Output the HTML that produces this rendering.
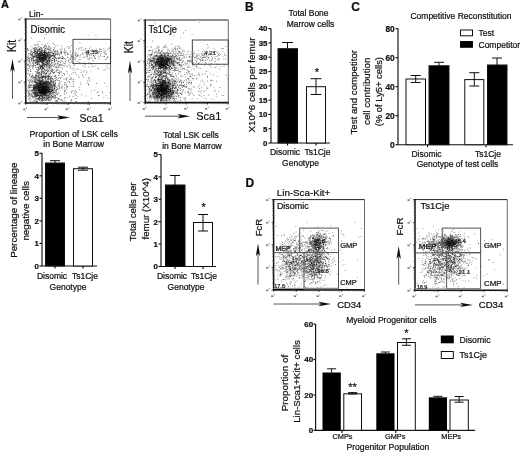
<!DOCTYPE html>
<html><head><meta charset="utf-8"><title>Figure</title>
<style>html,body{margin:0;padding:0;background:#fff;}body{width:520px;height:452px;overflow:hidden;font-family:"Liberation Sans",sans-serif;}svg{display:block;}</style></head>
<body>
<svg width="520" height="452" viewBox="0 0 520 452" font-family="'Liberation Sans', sans-serif">
<rect width="520" height="452" fill="#fff"/>
<defs><filter id="soft" x="0" y="0" width="100%" height="100%" filterUnits="userSpaceOnUse" primitiveUnits="userSpaceOnUse"><feGaussianBlur stdDeviation="0.35"/></filter></defs>
<g filter="url(#soft)">
<rect width="520" height="452" fill="#fff"/>
<text x="1" y="8.3" font-size="11" text-anchor="start" font-weight="bold" fill="#111" stroke="#111" stroke-width="0.22">A</text>
<text x="245" y="11" font-size="12" text-anchor="start" font-weight="bold" fill="#111" stroke="#111" stroke-width="0.22">B</text>
<text x="351.3" y="11.2" font-size="12" text-anchor="start" font-weight="bold" fill="#111" stroke="#111" stroke-width="0.22">C</text>
<text x="245.5" y="187" font-size="12" text-anchor="start" font-weight="bold" fill="#111" stroke="#111" stroke-width="0.22">D</text>
<path d="M41.2 90.8h0.9v0.9h-0.9zM35.2 81.4h0.9v0.9h-0.9zM40.9 88.3h0.9v0.9h-0.9zM41.9 85.3h0.9v0.9h-0.9zM38.2 86.5h0.9v0.9h-0.9zM43.3 90.5h0.9v0.9h-0.9zM36.8 95.5h0.9v0.9h-0.9zM36.5 88.1h0.9v0.9h-0.9zM41.6 89.9h0.9v0.9h-0.9zM37.6 89.7h0.9v0.9h-0.9zM46.5 83.8h0.9v0.9h-0.9zM43.0 93.7h0.9v0.9h-0.9zM43.2 91.4h0.9v0.9h-0.9zM38.6 95.3h0.9v0.9h-0.9zM39.2 93.0h0.9v0.9h-0.9zM42.0 93.1h0.9v0.9h-0.9zM49.8 88.9h0.9v0.9h-0.9zM35.7 86.0h0.9v0.9h-0.9zM32.9 85.0h0.9v0.9h-0.9zM50.4 81.3h0.9v0.9h-0.9zM38.0 87.2h0.9v0.9h-0.9zM34.1 93.0h0.9v0.9h-0.9zM49.5 92.9h0.9v0.9h-0.9zM40.9 92.0h0.9v0.9h-0.9zM44.2 84.6h0.9v0.9h-0.9zM48.5 91.7h0.9v0.9h-0.9zM47.5 87.8h0.9v0.9h-0.9zM43.2 88.9h0.9v0.9h-0.9zM50.0 90.9h0.9v0.9h-0.9zM42.4 89.7h0.9v0.9h-0.9zM41.5 87.4h0.9v0.9h-0.9zM41.2 87.4h0.9v0.9h-0.9zM40.2 89.1h0.9v0.9h-0.9zM45.5 92.7h0.9v0.9h-0.9zM44.7 91.7h0.9v0.9h-0.9zM39.5 92.1h0.9v0.9h-0.9zM36.0 81.9h0.9v0.9h-0.9zM40.3 95.3h0.9v0.9h-0.9zM40.1 89.4h0.9v0.9h-0.9zM45.4 90.0h0.9v0.9h-0.9zM48.8 90.0h0.9v0.9h-0.9zM48.6 86.3h0.9v0.9h-0.9zM43.5 89.7h0.9v0.9h-0.9zM48.7 87.1h0.9v0.9h-0.9zM44.3 82.1h0.9v0.9h-0.9zM37.1 79.9h0.9v0.9h-0.9zM46.2 97.7h0.9v0.9h-0.9zM37.5 94.8h0.9v0.9h-0.9zM43.8 89.0h0.9v0.9h-0.9zM47.5 85.7h0.9v0.9h-0.9zM45.5 82.2h0.9v0.9h-0.9zM51.6 80.4h0.9v0.9h-0.9zM44.2 85.8h0.9v0.9h-0.9zM44.5 83.0h0.9v0.9h-0.9zM45.4 85.3h0.9v0.9h-0.9zM46.0 89.0h0.9v0.9h-0.9zM39.4 90.5h0.9v0.9h-0.9zM35.4 92.3h0.9v0.9h-0.9zM32.8 87.4h0.9v0.9h-0.9zM43.4 86.5h0.9v0.9h-0.9zM47.5 90.1h0.9v0.9h-0.9zM48.1 89.6h0.9v0.9h-0.9zM41.2 87.4h0.9v0.9h-0.9zM31.8 89.2h0.9v0.9h-0.9zM43.1 91.9h0.9v0.9h-0.9zM46.0 84.9h0.9v0.9h-0.9zM42.2 87.4h0.9v0.9h-0.9zM44.3 90.9h0.9v0.9h-0.9zM42.4 91.1h0.9v0.9h-0.9zM42.4 97.8h0.9v0.9h-0.9zM43.3 86.3h0.9v0.9h-0.9zM42.4 89.9h0.9v0.9h-0.9zM42.8 88.2h0.9v0.9h-0.9zM34.4 90.2h0.9v0.9h-0.9zM41.0 90.6h0.9v0.9h-0.9zM51.0 83.5h0.9v0.9h-0.9zM40.4 92.7h0.9v0.9h-0.9zM38.6 94.1h0.9v0.9h-0.9zM44.3 93.2h0.9v0.9h-0.9zM39.6 85.9h0.9v0.9h-0.9zM35.4 87.3h0.9v0.9h-0.9zM44.6 86.7h0.9v0.9h-0.9zM50.9 95.1h0.9v0.9h-0.9zM40.6 84.1h0.9v0.9h-0.9zM43.3 82.3h0.9v0.9h-0.9zM39.2 85.7h0.9v0.9h-0.9zM46.7 92.0h0.9v0.9h-0.9zM41.4 89.8h0.9v0.9h-0.9zM38.4 91.4h0.9v0.9h-0.9zM45.7 83.2h0.9v0.9h-0.9zM38.6 83.2h0.9v0.9h-0.9zM45.5 90.7h0.9v0.9h-0.9zM45.9 98.1h0.9v0.9h-0.9zM28.4 85.3h0.9v0.9h-0.9zM35.4 74.6h0.9v0.9h-0.9zM34.2 92.4h0.9v0.9h-0.9zM53.5 91.1h0.9v0.9h-0.9zM39.1 80.1h0.9v0.9h-0.9zM37.2 86.6h0.9v0.9h-0.9zM49.4 89.1h0.9v0.9h-0.9zM54.7 95.5h0.9v0.9h-0.9zM42.1 87.5h0.9v0.9h-0.9zM50.2 97.8h0.9v0.9h-0.9zM37.5 96.3h0.9v0.9h-0.9zM33.8 92.6h0.9v0.9h-0.9zM30.2 84.6h0.9v0.9h-0.9zM43.0 83.7h0.9v0.9h-0.9zM43.6 90.1h0.9v0.9h-0.9zM37.2 86.4h0.9v0.9h-0.9zM44.5 87.2h0.9v0.9h-0.9zM42.7 90.3h0.9v0.9h-0.9zM39.6 83.5h0.9v0.9h-0.9zM58.4 91.9h0.9v0.9h-0.9zM42.7 90.7h0.9v0.9h-0.9zM57.3 100.5h0.9v0.9h-0.9zM41.4 83.1h0.9v0.9h-0.9zM47.6 98.7h0.9v0.9h-0.9zM41.5 81.8h0.9v0.9h-0.9zM39.4 91.4h0.9v0.9h-0.9zM55.9 93.5h0.9v0.9h-0.9zM40.8 84.4h0.9v0.9h-0.9zM39.1 90.5h0.9v0.9h-0.9zM43.4 82.6h0.9v0.9h-0.9zM39.6 88.0h0.9v0.9h-0.9zM39.8 83.7h0.9v0.9h-0.9zM38.3 87.7h0.9v0.9h-0.9zM33.5 90.5h0.9v0.9h-0.9zM38.8 99.4h0.9v0.9h-0.9zM35.8 96.4h0.9v0.9h-0.9zM43.2 79.8h0.9v0.9h-0.9zM45.5 76.0h0.9v0.9h-0.9zM28.1 95.0h0.9v0.9h-0.9zM38.4 81.3h0.9v0.9h-0.9zM45.3 93.6h0.9v0.9h-0.9zM44.0 92.4h0.9v0.9h-0.9zM33.2 88.6h0.9v0.9h-0.9zM43.4 88.9h0.9v0.9h-0.9zM33.0 91.9h0.9v0.9h-0.9zM37.0 101.0h0.9v0.9h-0.9zM51.9 97.1h0.9v0.9h-0.9zM29.5 92.9h0.9v0.9h-0.9zM38.6 92.2h0.9v0.9h-0.9zM48.5 100.0h0.9v0.9h-0.9zM52.8 82.3h0.9v0.9h-0.9zM39.2 85.5h0.9v0.9h-0.9zM47.3 81.2h0.9v0.9h-0.9zM52.1 96.0h0.9v0.9h-0.9zM36.8 83.3h0.9v0.9h-0.9zM37.0 87.1h0.9v0.9h-0.9zM48.1 95.1h0.9v0.9h-0.9zM47.7 90.5h0.9v0.9h-0.9zM51.5 87.4h0.9v0.9h-0.9zM54.5 90.5h0.9v0.9h-0.9zM36.1 94.6h0.9v0.9h-0.9zM39.7 87.2h0.9v0.9h-0.9zM34.8 87.9h0.9v0.9h-0.9zM57.8 85.9h0.9v0.9h-0.9zM34.0 99.9h0.9v0.9h-0.9zM49.3 83.2h0.9v0.9h-0.9zM39.9 89.9h0.9v0.9h-0.9zM42.9 85.0h0.9v0.9h-0.9zM55.0 81.9h0.9v0.9h-0.9zM29.9 84.9h0.9v0.9h-0.9zM39.6 98.2h0.9v0.9h-0.9zM47.8 99.6h0.9v0.9h-0.9zM33.0 90.2h0.9v0.9h-0.9zM44.2 88.4h0.9v0.9h-0.9zM41.7 80.6h0.9v0.9h-0.9zM34.8 90.6h0.9v0.9h-0.9zM34.6 97.4h0.9v0.9h-0.9zM30.8 80.6h0.9v0.9h-0.9zM46.7 86.4h0.9v0.9h-0.9zM41.1 88.7h0.9v0.9h-0.9zM33.0 86.4h0.9v0.9h-0.9zM43.0 89.2h0.9v0.9h-0.9zM48.7 86.2h0.9v0.9h-0.9zM35.3 101.3h0.9v0.9h-0.9zM41.7 95.5h0.9v0.9h-0.9zM27.2 89.8h0.9v0.9h-0.9zM57.2 100.0h0.9v0.9h-0.9zM43.5 100.1h0.9v0.9h-0.9zM47.0 97.6h0.9v0.9h-0.9zM50.6 90.6h0.9v0.9h-0.9zM36.9 92.7h0.9v0.9h-0.9zM44.2 87.4h0.9v0.9h-0.9zM32.5 87.0h0.9v0.9h-0.9zM33.6 87.3h0.9v0.9h-0.9zM45.4 92.6h0.9v0.9h-0.9zM37.0 87.9h0.9v0.9h-0.9zM33.0 78.6h0.9v0.9h-0.9zM35.2 94.2h0.9v0.9h-0.9zM51.8 89.9h0.9v0.9h-0.9zM38.4 80.9h0.9v0.9h-0.9zM52.7 91.9h0.9v0.9h-0.9zM48.1 82.0h0.9v0.9h-0.9zM36.4 85.3h0.9v0.9h-0.9zM44.4 50.2h0.9v0.9h-0.9zM36.8 49.8h0.9v0.9h-0.9zM40.0 53.8h0.9v0.9h-0.9zM47.3 43.2h0.9v0.9h-0.9zM61.6 48.8h0.9v0.9h-0.9zM39.6 67.0h0.9v0.9h-0.9zM46.7 64.4h0.9v0.9h-0.9zM37.5 60.4h0.9v0.9h-0.9zM47.1 60.3h0.9v0.9h-0.9zM29.5 57.1h0.9v0.9h-0.9zM31.7 51.6h0.9v0.9h-0.9zM48.0 54.6h0.9v0.9h-0.9zM33.6 57.2h0.9v0.9h-0.9zM41.4 53.8h0.9v0.9h-0.9zM44.7 55.7h0.9v0.9h-0.9zM44.3 49.2h0.9v0.9h-0.9zM44.2 51.7h0.9v0.9h-0.9zM49.0 61.7h0.9v0.9h-0.9zM45.9 56.3h0.9v0.9h-0.9zM30.3 64.5h0.9v0.9h-0.9zM53.6 59.8h0.9v0.9h-0.9zM39.6 55.8h0.9v0.9h-0.9zM38.9 49.1h0.9v0.9h-0.9zM39.5 61.2h0.9v0.9h-0.9zM45.7 67.0h0.9v0.9h-0.9zM36.0 55.7h0.9v0.9h-0.9zM31.0 61.2h0.9v0.9h-0.9zM46.9 65.8h0.9v0.9h-0.9zM39.5 66.0h0.9v0.9h-0.9zM38.8 49.9h0.9v0.9h-0.9zM44.7 52.7h0.9v0.9h-0.9zM37.2 62.2h0.9v0.9h-0.9zM35.6 53.9h0.9v0.9h-0.9zM39.6 51.2h0.9v0.9h-0.9zM52.6 55.1h0.9v0.9h-0.9zM47.3 56.3h0.9v0.9h-0.9zM43.8 58.2h0.9v0.9h-0.9zM42.2 57.1h0.9v0.9h-0.9zM31.8 57.2h0.9v0.9h-0.9zM41.1 54.9h0.9v0.9h-0.9zM42.4 61.4h0.9v0.9h-0.9zM50.3 53.5h0.9v0.9h-0.9zM53.2 49.4h0.9v0.9h-0.9zM41.5 55.4h0.9v0.9h-0.9zM43.3 54.6h0.9v0.9h-0.9zM33.7 60.3h0.9v0.9h-0.9zM31.6 59.3h0.9v0.9h-0.9zM41.5 61.7h0.9v0.9h-0.9zM35.8 61.1h0.9v0.9h-0.9zM37.1 41.7h0.9v0.9h-0.9zM33.1 52.5h0.9v0.9h-0.9zM42.9 58.6h0.9v0.9h-0.9zM38.9 53.0h0.9v0.9h-0.9zM41.9 58.3h0.9v0.9h-0.9zM40.0 61.3h0.9v0.9h-0.9zM38.4 57.4h0.9v0.9h-0.9zM45.8 58.0h0.9v0.9h-0.9zM48.2 53.9h0.9v0.9h-0.9zM49.1 57.4h0.9v0.9h-0.9zM42.8 63.2h0.9v0.9h-0.9zM42.3 62.2h0.9v0.9h-0.9zM48.2 64.5h0.9v0.9h-0.9zM43.3 55.4h0.9v0.9h-0.9zM42.5 57.1h0.9v0.9h-0.9zM46.1 46.3h0.9v0.9h-0.9zM36.0 52.5h0.9v0.9h-0.9zM26.9 63.4h0.9v0.9h-0.9zM49.4 59.6h0.9v0.9h-0.9zM35.4 51.0h0.9v0.9h-0.9zM40.7 52.6h0.9v0.9h-0.9zM37.3 61.7h0.9v0.9h-0.9zM37.1 56.7h0.9v0.9h-0.9zM45.5 48.2h0.9v0.9h-0.9zM52.2 58.0h0.9v0.9h-0.9zM37.9 44.2h0.9v0.9h-0.9zM47.4 60.6h0.9v0.9h-0.9zM38.8 48.2h0.9v0.9h-0.9zM39.3 54.8h0.9v0.9h-0.9zM43.7 59.7h0.9v0.9h-0.9zM32.9 57.8h0.9v0.9h-0.9zM43.5 56.4h0.9v0.9h-0.9zM44.5 55.7h0.9v0.9h-0.9zM41.8 63.2h0.9v0.9h-0.9zM45.3 51.7h0.9v0.9h-0.9zM42.2 59.2h0.9v0.9h-0.9zM39.7 60.4h0.9v0.9h-0.9zM40.3 54.7h0.9v0.9h-0.9zM42.3 53.8h0.9v0.9h-0.9zM43.2 60.0h0.9v0.9h-0.9zM41.7 57.1h0.9v0.9h-0.9zM37.8 58.2h0.9v0.9h-0.9zM40.4 51.6h0.9v0.9h-0.9zM33.7 48.5h0.9v0.9h-0.9zM43.1 59.6h0.9v0.9h-0.9zM38.6 57.8h0.9v0.9h-0.9zM36.6 55.0h0.9v0.9h-0.9zM46.5 53.3h0.9v0.9h-0.9zM43.0 65.2h0.9v0.9h-0.9zM44.6 77.2h0.9v0.9h-0.9zM40.0 74.6h0.9v0.9h-0.9zM34.6 51.0h0.9v0.9h-0.9zM48.9 76.0h0.9v0.9h-0.9zM44.3 76.4h0.9v0.9h-0.9zM55.3 66.3h0.9v0.9h-0.9zM48.4 86.9h0.9v0.9h-0.9zM42.5 67.9h0.9v0.9h-0.9zM32.7 86.7h0.9v0.9h-0.9zM41.1 69.3h0.9v0.9h-0.9zM35.4 74.2h0.9v0.9h-0.9zM43.0 65.3h0.9v0.9h-0.9zM41.9 65.5h0.9v0.9h-0.9zM32.4 66.9h0.9v0.9h-0.9zM45.5 77.2h0.9v0.9h-0.9zM42.6 96.2h0.9v0.9h-0.9zM48.0 74.9h0.9v0.9h-0.9zM40.6 90.4h0.9v0.9h-0.9zM60.4 63.7h0.9v0.9h-0.9zM45.8 81.0h0.9v0.9h-0.9zM37.9 77.3h0.9v0.9h-0.9zM37.4 75.6h0.9v0.9h-0.9zM46.7 82.5h0.9v0.9h-0.9zM43.0 80.9h0.9v0.9h-0.9zM55.5 70.8h0.9v0.9h-0.9zM38.4 59.2h0.9v0.9h-0.9zM39.2 96.5h0.9v0.9h-0.9zM34.6 86.6h0.9v0.9h-0.9zM37.0 79.7h0.9v0.9h-0.9zM42.1 92.5h0.9v0.9h-0.9zM41.6 65.9h0.9v0.9h-0.9zM65.4 52.6h0.9v0.9h-0.9zM47.2 68.4h0.9v0.9h-0.9zM48.9 57.9h0.9v0.9h-0.9zM53.0 53.3h0.9v0.9h-0.9zM56.5 60.8h0.9v0.9h-0.9zM74.9 57.6h0.9v0.9h-0.9zM67.1 57.2h0.9v0.9h-0.9zM54.1 59.5h0.9v0.9h-0.9zM74.8 54.7h0.9v0.9h-0.9zM82.6 54.1h0.9v0.9h-0.9zM54.9 55.2h0.9v0.9h-0.9zM52.0 60.1h0.9v0.9h-0.9zM91.3 57.0h0.9v0.9h-0.9zM68.3 59.5h0.9v0.9h-0.9zM43.8 53.8h0.9v0.9h-0.9zM63.6 59.5h0.9v0.9h-0.9zM54.0 55.6h0.9v0.9h-0.9zM65.0 61.3h0.9v0.9h-0.9zM42.7 58.9h0.9v0.9h-0.9zM47.4 54.7h0.9v0.9h-0.9zM43.8 52.8h0.9v0.9h-0.9zM61.9 58.1h0.9v0.9h-0.9zM71.6 55.9h0.9v0.9h-0.9zM86.5 48.7h0.9v0.9h-0.9zM100.3 55.5h0.9v0.9h-0.9zM96.4 49.7h0.9v0.9h-0.9zM86.7 54.1h0.9v0.9h-0.9zM93.0 55.3h0.9v0.9h-0.9zM88.4 59.0h0.9v0.9h-0.9zM93.9 56.0h0.9v0.9h-0.9zM86.9 53.1h0.9v0.9h-0.9zM100.9 51.0h0.9v0.9h-0.9zM103.9 55.8h0.9v0.9h-0.9zM82.1 75.4h0.9v0.9h-0.9zM64.3 58.0h0.9v0.9h-0.9zM53.0 81.1h0.9v0.9h-0.9zM55.3 89.9h0.9v0.9h-0.9zM53.4 92.1h0.9v0.9h-0.9zM45.0 53.3h0.9v0.9h-0.9zM61.0 84.7h0.9v0.9h-0.9zM28.3 92.1h0.9v0.9h-0.9zM59.5 82.3h0.9v0.9h-0.9zM38.7 80.6h0.9v0.9h-0.9zM55.3 95.7h0.9v0.9h-0.9zM48.9 48.7h0.9v0.9h-0.9zM56.2 91.7h0.9v0.9h-0.9zM64.3 93.7h0.9v0.9h-0.9zM48.6 64.9h0.9v0.9h-0.9zM34.8 63.1h0.9v0.9h-0.9zM64.1 74.3h0.9v0.9h-0.9zM61.9 75.1h0.9v0.9h-0.9zM48.8 59.5h0.9v0.9h-0.9zM88.4 66.6h0.9v0.9h-0.9zM67.1 72.7h0.9v0.9h-0.9zM63.5 78.5h0.9v0.9h-0.9zM64.5 100.3h0.9v0.9h-0.9zM71.4 78.6h0.9v0.9h-0.9zM64.0 74.3h0.9v0.9h-0.9zM48.5 72.9h0.9v0.9h-0.9zM62.5 64.9h0.9v0.9h-0.9zM52.4 70.0h0.9v0.9h-0.9zM39.8 76.7h0.9v0.9h-0.9zM57.0 63.0h0.9v0.9h-0.9zM67.1 97.2h0.9v0.9h-0.9zM60.2 99.6h0.9v0.9h-0.9zM39.9 52.7h0.9v0.9h-0.9zM31.7 95.6h0.9v0.9h-0.9zM41.9 101.0h0.9v0.9h-0.9zM53.8 72.3h0.9v0.9h-0.9zM48.0 51.6h0.9v0.9h-0.9zM37.5 76.5h0.9v0.9h-0.9zM59.3 70.6h0.9v0.9h-0.9zM47.4 53.3h0.9v0.9h-0.9zM55.1 53.4h0.9v0.9h-0.9zM38.0 52.9h0.9v0.9h-0.9zM32.9 65.3h0.9v0.9h-0.9zM50.0 79.0h0.9v0.9h-0.9zM27.6 86.4h0.9v0.9h-0.9zM35.4 60.3h0.9v0.9h-0.9zM29.1 87.0h0.9v0.9h-0.9zM35.0 65.2h0.9v0.9h-0.9zM49.3 65.2h0.9v0.9h-0.9zM42.4 96.9h0.9v0.9h-0.9zM35.8 100.8h0.9v0.9h-0.9zM46.0 46.1h0.9v0.9h-0.9zM51.4 95.6h0.9v0.9h-0.9zM61.4 60.3h0.9v0.9h-0.9zM30.0 101.1h0.9v0.9h-0.9zM33.1 59.5h0.9v0.9h-0.9zM37.3 93.7h0.9v0.9h-0.9zM46.3 68.6h0.9v0.9h-0.9zM38.3 68.8h0.9v0.9h-0.9zM43.1 91.5h0.9v0.9h-0.9zM55.0 63.1h0.9v0.9h-0.9zM50.5 81.9h0.9v0.9h-0.9zM40.9 72.8h0.9v0.9h-0.9zM70.9 99.7h0.9v0.9h-0.9zM53.7 59.1h0.9v0.9h-0.9zM37.3 64.0h0.9v0.9h-0.9zM76.6 61.4h0.9v0.9h-0.9zM67.5 54.2h0.9v0.9h-0.9zM41.6 100.0h0.9v0.9h-0.9zM73.5 64.9h0.9v0.9h-0.9zM81.2 49.5h0.9v0.9h-0.9zM87.6 82.8h0.9v0.9h-0.9zM76.1 68.9h0.9v0.9h-0.9zM62.8 57.8h0.9v0.9h-0.9zM85.1 62.8h0.9v0.9h-0.9zM66.2 83.8h0.9v0.9h-0.9zM81.1 94.3h0.9v0.9h-0.9zM29.2 74.5h0.9v0.9h-0.9zM68.5 46.1h0.9v0.9h-0.9zM38.7 46.0h0.9v0.9h-0.9zM27.4 68.2h0.9v0.9h-0.9zM54.0 44.1h0.9v0.9h-0.9zM109.0 47.5h0.9v0.9h-0.9zM60.9 76.9h0.9v0.9h-0.9zM59.8 27.2h0.9v0.9h-0.9z" fill="#000" fill-opacity="0.5"/>
<path d="M41.4 87.4h0.9v0.9h-0.9zM38.6 86.7h0.9v0.9h-0.9zM45.0 89.7h0.9v0.9h-0.9zM44.4 88.4h0.9v0.9h-0.9zM47.7 80.2h0.9v0.9h-0.9zM49.0 91.3h0.9v0.9h-0.9zM44.6 88.1h0.9v0.9h-0.9zM41.7 87.4h0.9v0.9h-0.9zM44.7 88.7h0.9v0.9h-0.9zM44.0 89.7h0.9v0.9h-0.9zM42.0 92.7h0.9v0.9h-0.9zM41.7 89.5h0.9v0.9h-0.9zM35.9 82.4h0.9v0.9h-0.9zM46.4 88.0h0.9v0.9h-0.9zM42.8 89.2h0.9v0.9h-0.9zM48.6 95.5h0.9v0.9h-0.9zM44.5 92.9h0.9v0.9h-0.9zM46.2 86.3h0.9v0.9h-0.9zM43.5 86.8h0.9v0.9h-0.9zM44.3 98.9h0.9v0.9h-0.9zM46.0 89.1h0.9v0.9h-0.9zM43.7 85.8h0.9v0.9h-0.9zM49.9 92.1h0.9v0.9h-0.9zM42.5 85.2h0.9v0.9h-0.9zM34.3 89.0h0.9v0.9h-0.9zM42.2 91.2h0.9v0.9h-0.9zM42.7 99.6h0.9v0.9h-0.9zM41.3 91.6h0.9v0.9h-0.9zM46.9 85.0h0.9v0.9h-0.9zM45.0 91.6h0.9v0.9h-0.9zM42.0 85.5h0.9v0.9h-0.9zM44.2 91.3h0.9v0.9h-0.9zM44.5 87.0h0.9v0.9h-0.9zM44.4 88.0h0.9v0.9h-0.9zM39.1 96.1h0.9v0.9h-0.9zM42.1 90.0h0.9v0.9h-0.9zM47.2 86.8h0.9v0.9h-0.9zM45.5 88.2h0.9v0.9h-0.9zM42.9 90.4h0.9v0.9h-0.9zM44.4 88.3h0.9v0.9h-0.9zM46.1 85.8h0.9v0.9h-0.9zM38.0 83.0h0.9v0.9h-0.9zM36.8 87.9h0.9v0.9h-0.9zM42.0 89.5h0.9v0.9h-0.9zM39.5 88.6h0.9v0.9h-0.9zM44.8 92.0h0.9v0.9h-0.9zM42.3 87.6h0.9v0.9h-0.9zM44.3 84.7h0.9v0.9h-0.9zM45.1 87.1h0.9v0.9h-0.9zM43.2 88.4h0.9v0.9h-0.9zM39.4 86.4h0.9v0.9h-0.9zM42.1 90.5h0.9v0.9h-0.9zM38.6 87.0h0.9v0.9h-0.9zM44.2 88.6h0.9v0.9h-0.9zM41.8 96.0h0.9v0.9h-0.9zM41.1 86.3h0.9v0.9h-0.9zM38.6 98.4h0.9v0.9h-0.9zM35.1 93.5h0.9v0.9h-0.9zM46.1 91.8h0.9v0.9h-0.9zM43.0 85.8h0.9v0.9h-0.9zM42.4 87.5h0.9v0.9h-0.9zM39.2 88.9h0.9v0.9h-0.9zM41.5 81.5h0.9v0.9h-0.9zM44.5 87.4h0.9v0.9h-0.9zM38.6 88.6h0.9v0.9h-0.9zM34.7 84.5h0.9v0.9h-0.9zM43.7 85.8h0.9v0.9h-0.9zM41.8 88.0h0.9v0.9h-0.9zM47.2 92.1h0.9v0.9h-0.9zM47.3 90.1h0.9v0.9h-0.9zM41.0 92.0h0.9v0.9h-0.9zM38.7 94.7h0.9v0.9h-0.9zM42.1 91.8h0.9v0.9h-0.9zM39.6 80.9h0.9v0.9h-0.9zM43.5 88.9h0.9v0.9h-0.9zM44.5 90.5h0.9v0.9h-0.9zM45.5 89.1h0.9v0.9h-0.9zM39.4 88.0h0.9v0.9h-0.9zM37.8 95.2h0.9v0.9h-0.9zM38.9 91.1h0.9v0.9h-0.9zM42.4 82.6h0.9v0.9h-0.9zM43.6 92.0h0.9v0.9h-0.9zM45.6 91.2h0.9v0.9h-0.9zM39.1 85.2h0.9v0.9h-0.9zM46.1 83.6h0.9v0.9h-0.9zM37.9 80.1h0.9v0.9h-0.9zM35.8 87.0h0.9v0.9h-0.9zM41.7 92.9h0.9v0.9h-0.9zM50.9 96.8h0.9v0.9h-0.9zM45.7 84.3h0.9v0.9h-0.9zM55.0 82.9h0.9v0.9h-0.9zM43.6 99.9h0.9v0.9h-0.9zM30.7 86.4h0.9v0.9h-0.9zM56.1 89.0h0.9v0.9h-0.9zM34.0 88.0h0.9v0.9h-0.9zM45.1 83.6h0.9v0.9h-0.9zM49.1 83.0h0.9v0.9h-0.9zM40.2 84.4h0.9v0.9h-0.9zM39.9 95.0h0.9v0.9h-0.9zM28.1 80.0h0.9v0.9h-0.9zM43.2 89.4h0.9v0.9h-0.9zM52.7 89.4h0.9v0.9h-0.9zM35.5 95.7h0.9v0.9h-0.9zM55.7 86.7h0.9v0.9h-0.9zM48.4 75.9h0.9v0.9h-0.9zM46.0 99.0h0.9v0.9h-0.9zM28.8 81.8h0.9v0.9h-0.9zM49.3 88.4h0.9v0.9h-0.9zM43.7 81.7h0.9v0.9h-0.9zM36.4 84.7h0.9v0.9h-0.9zM42.1 94.6h0.9v0.9h-0.9zM32.1 82.5h0.9v0.9h-0.9zM52.4 78.2h0.9v0.9h-0.9zM40.2 80.3h0.9v0.9h-0.9zM56.6 93.4h0.9v0.9h-0.9zM43.6 88.3h0.9v0.9h-0.9zM41.2 84.3h0.9v0.9h-0.9zM41.9 86.3h0.9v0.9h-0.9zM35.6 94.9h0.9v0.9h-0.9zM50.4 86.3h0.9v0.9h-0.9zM52.0 89.5h0.9v0.9h-0.9zM30.3 81.3h0.9v0.9h-0.9zM42.7 94.5h0.9v0.9h-0.9zM34.5 91.7h0.9v0.9h-0.9zM38.3 85.0h0.9v0.9h-0.9zM45.0 91.0h0.9v0.9h-0.9zM36.2 83.7h0.9v0.9h-0.9zM43.8 90.6h0.9v0.9h-0.9zM31.9 79.9h0.9v0.9h-0.9zM35.6 85.5h0.9v0.9h-0.9zM34.5 88.5h0.9v0.9h-0.9zM44.5 88.6h0.9v0.9h-0.9zM48.0 92.2h0.9v0.9h-0.9zM55.6 86.8h0.9v0.9h-0.9zM35.6 82.0h0.9v0.9h-0.9zM41.3 98.0h0.9v0.9h-0.9zM43.1 82.7h0.9v0.9h-0.9zM42.3 90.5h0.9v0.9h-0.9zM29.6 89.6h0.9v0.9h-0.9zM39.1 92.5h0.9v0.9h-0.9zM43.7 84.8h0.9v0.9h-0.9zM38.4 85.6h0.9v0.9h-0.9zM37.7 97.3h0.9v0.9h-0.9zM52.9 79.7h0.9v0.9h-0.9zM54.2 98.2h0.9v0.9h-0.9zM41.2 83.6h0.9v0.9h-0.9zM42.3 85.7h0.9v0.9h-0.9zM52.8 91.9h0.9v0.9h-0.9zM48.6 90.8h0.9v0.9h-0.9zM35.7 99.0h0.9v0.9h-0.9zM46.0 98.2h0.9v0.9h-0.9zM48.8 93.3h0.9v0.9h-0.9zM45.5 83.8h0.9v0.9h-0.9zM33.0 97.6h0.9v0.9h-0.9zM40.7 84.9h0.9v0.9h-0.9zM38.2 94.5h0.9v0.9h-0.9zM55.2 75.1h0.9v0.9h-0.9zM46.9 89.2h0.9v0.9h-0.9zM53.2 97.0h0.9v0.9h-0.9zM29.0 93.4h0.9v0.9h-0.9zM42.7 86.3h0.9v0.9h-0.9zM48.2 98.0h0.9v0.9h-0.9zM54.7 98.3h0.9v0.9h-0.9zM39.4 91.0h0.9v0.9h-0.9zM39.2 82.5h0.9v0.9h-0.9zM37.2 92.5h0.9v0.9h-0.9zM30.8 84.3h0.9v0.9h-0.9zM37.9 83.9h0.9v0.9h-0.9zM36.8 86.2h0.9v0.9h-0.9zM29.2 94.3h0.9v0.9h-0.9zM39.5 85.0h0.9v0.9h-0.9zM36.7 98.2h0.9v0.9h-0.9zM50.6 84.7h0.9v0.9h-0.9zM32.4 85.2h0.9v0.9h-0.9zM31.9 90.0h0.9v0.9h-0.9zM45.0 91.8h0.9v0.9h-0.9zM51.4 95.2h0.9v0.9h-0.9zM42.9 92.9h0.9v0.9h-0.9zM48.1 97.0h0.9v0.9h-0.9zM58.1 89.4h0.9v0.9h-0.9zM41.6 86.8h0.9v0.9h-0.9zM49.4 97.2h0.9v0.9h-0.9zM34.6 93.1h0.9v0.9h-0.9zM38.9 90.5h0.9v0.9h-0.9zM40.1 83.0h0.9v0.9h-0.9zM39.5 83.3h0.9v0.9h-0.9zM44.4 84.0h0.9v0.9h-0.9zM47.7 92.2h0.9v0.9h-0.9zM37.8 92.9h0.9v0.9h-0.9zM44.6 95.1h0.9v0.9h-0.9zM46.5 86.5h0.9v0.9h-0.9zM34.5 90.2h0.9v0.9h-0.9zM43.8 77.3h0.9v0.9h-0.9zM34.0 92.8h0.9v0.9h-0.9zM34.8 88.0h0.9v0.9h-0.9zM43.8 84.3h0.9v0.9h-0.9zM28.4 60.0h0.9v0.9h-0.9zM40.2 59.8h0.9v0.9h-0.9zM51.3 59.2h0.9v0.9h-0.9zM40.1 57.3h0.9v0.9h-0.9zM49.2 54.2h0.9v0.9h-0.9zM44.3 53.5h0.9v0.9h-0.9zM40.7 58.3h0.9v0.9h-0.9zM39.4 53.9h0.9v0.9h-0.9zM45.8 61.8h0.9v0.9h-0.9zM32.1 53.2h0.9v0.9h-0.9zM40.9 54.8h0.9v0.9h-0.9zM39.1 57.7h0.9v0.9h-0.9zM44.2 45.8h0.9v0.9h-0.9zM49.1 46.1h0.9v0.9h-0.9zM53.2 54.8h0.9v0.9h-0.9zM53.4 53.2h0.9v0.9h-0.9zM35.6 53.1h0.9v0.9h-0.9zM53.7 58.9h0.9v0.9h-0.9zM43.5 53.9h0.9v0.9h-0.9zM49.4 51.9h0.9v0.9h-0.9zM38.0 50.7h0.9v0.9h-0.9zM32.7 61.7h0.9v0.9h-0.9zM40.8 59.4h0.9v0.9h-0.9zM58.5 53.9h0.9v0.9h-0.9zM29.2 59.4h0.9v0.9h-0.9zM37.9 53.7h0.9v0.9h-0.9zM46.0 59.3h0.9v0.9h-0.9zM33.4 55.3h0.9v0.9h-0.9zM44.6 47.2h0.9v0.9h-0.9zM41.1 58.3h0.9v0.9h-0.9zM51.1 56.7h0.9v0.9h-0.9zM43.9 65.2h0.9v0.9h-0.9zM32.5 56.0h0.9v0.9h-0.9zM39.1 59.2h0.9v0.9h-0.9zM56.0 52.9h0.9v0.9h-0.9zM45.6 57.4h0.9v0.9h-0.9zM34.0 54.2h0.9v0.9h-0.9zM43.5 63.0h0.9v0.9h-0.9zM42.9 60.1h0.9v0.9h-0.9zM34.7 57.4h0.9v0.9h-0.9zM44.5 47.4h0.9v0.9h-0.9zM46.1 54.6h0.9v0.9h-0.9zM54.8 56.6h0.9v0.9h-0.9zM47.5 48.5h0.9v0.9h-0.9zM37.6 59.6h0.9v0.9h-0.9zM32.5 47.5h0.9v0.9h-0.9zM41.4 60.7h0.9v0.9h-0.9zM46.4 57.0h0.9v0.9h-0.9zM45.4 55.9h0.9v0.9h-0.9zM44.8 61.3h0.9v0.9h-0.9zM32.9 52.1h0.9v0.9h-0.9zM39.2 61.3h0.9v0.9h-0.9zM45.9 56.7h0.9v0.9h-0.9zM54.7 57.4h0.9v0.9h-0.9zM41.9 53.0h0.9v0.9h-0.9zM31.1 58.5h0.9v0.9h-0.9zM41.2 50.1h0.9v0.9h-0.9zM41.2 54.5h0.9v0.9h-0.9zM41.0 50.3h0.9v0.9h-0.9zM43.8 55.3h0.9v0.9h-0.9zM38.1 54.1h0.9v0.9h-0.9zM50.8 56.5h0.9v0.9h-0.9zM41.9 59.5h0.9v0.9h-0.9zM40.1 60.5h0.9v0.9h-0.9zM45.8 55.7h0.9v0.9h-0.9zM35.8 48.6h0.9v0.9h-0.9zM45.5 54.4h0.9v0.9h-0.9zM49.8 54.2h0.9v0.9h-0.9zM36.5 44.0h0.9v0.9h-0.9zM42.1 56.7h0.9v0.9h-0.9zM38.5 61.2h0.9v0.9h-0.9zM49.4 53.7h0.9v0.9h-0.9zM41.9 58.7h0.9v0.9h-0.9zM42.5 60.6h0.9v0.9h-0.9zM43.1 52.4h0.9v0.9h-0.9zM35.1 55.9h0.9v0.9h-0.9zM36.4 60.4h0.9v0.9h-0.9zM46.8 58.6h0.9v0.9h-0.9zM42.6 54.9h0.9v0.9h-0.9zM39.2 55.0h0.9v0.9h-0.9zM43.4 54.4h0.9v0.9h-0.9zM45.3 52.0h0.9v0.9h-0.9zM45.1 47.9h0.9v0.9h-0.9zM42.9 55.4h0.9v0.9h-0.9zM41.5 57.9h0.9v0.9h-0.9zM44.6 54.4h0.9v0.9h-0.9zM39.3 58.7h0.9v0.9h-0.9zM42.5 61.4h0.9v0.9h-0.9zM36.3 56.5h0.9v0.9h-0.9zM34.0 56.4h0.9v0.9h-0.9zM40.0 56.8h0.9v0.9h-0.9zM40.2 51.9h0.9v0.9h-0.9zM38.4 60.9h0.9v0.9h-0.9zM32.8 59.5h0.9v0.9h-0.9zM40.2 53.7h0.9v0.9h-0.9zM40.7 49.2h0.9v0.9h-0.9zM44.5 56.9h0.9v0.9h-0.9zM37.9 78.5h0.9v0.9h-0.9zM46.4 74.5h0.9v0.9h-0.9zM49.0 61.2h0.9v0.9h-0.9zM31.3 91.2h0.9v0.9h-0.9zM41.3 69.9h0.9v0.9h-0.9zM35.2 81.2h0.9v0.9h-0.9zM38.1 66.8h0.9v0.9h-0.9zM37.2 72.5h0.9v0.9h-0.9zM41.5 76.4h0.9v0.9h-0.9zM61.7 60.9h0.9v0.9h-0.9zM49.5 71.2h0.9v0.9h-0.9zM40.1 57.7h0.9v0.9h-0.9zM45.6 68.7h0.9v0.9h-0.9zM31.1 75.8h0.9v0.9h-0.9zM39.0 69.1h0.9v0.9h-0.9zM36.7 63.6h0.9v0.9h-0.9zM42.8 72.5h0.9v0.9h-0.9zM47.1 70.5h0.9v0.9h-0.9zM36.7 71.2h0.9v0.9h-0.9zM50.4 71.5h0.9v0.9h-0.9zM35.1 66.8h0.9v0.9h-0.9zM42.4 65.6h0.9v0.9h-0.9zM27.9 70.4h0.9v0.9h-0.9zM48.7 75.8h0.9v0.9h-0.9zM42.8 75.7h0.9v0.9h-0.9zM47.7 78.2h0.9v0.9h-0.9zM27.5 60.4h0.9v0.9h-0.9zM41.5 72.3h0.9v0.9h-0.9zM47.3 71.8h0.9v0.9h-0.9zM38.4 68.6h0.9v0.9h-0.9zM36.2 71.4h0.9v0.9h-0.9zM43.1 87.7h0.9v0.9h-0.9zM58.5 58.0h0.9v0.9h-0.9zM65.3 58.7h0.9v0.9h-0.9zM53.1 53.8h0.9v0.9h-0.9zM70.5 65.4h0.9v0.9h-0.9zM42.3 64.2h0.9v0.9h-0.9zM64.7 62.9h0.9v0.9h-0.9zM51.9 59.9h0.9v0.9h-0.9zM48.5 51.7h0.9v0.9h-0.9zM55.2 57.7h0.9v0.9h-0.9zM54.6 50.8h0.9v0.9h-0.9zM42.7 56.7h0.9v0.9h-0.9zM87.6 54.2h0.9v0.9h-0.9zM37.5 59.5h0.9v0.9h-0.9zM56.3 67.1h0.9v0.9h-0.9zM67.0 53.9h0.9v0.9h-0.9zM74.9 54.6h0.9v0.9h-0.9zM75.8 53.2h0.9v0.9h-0.9zM87.1 56.1h0.9v0.9h-0.9zM70.7 55.1h0.9v0.9h-0.9zM35.3 55.8h0.9v0.9h-0.9zM50.9 60.1h0.9v0.9h-0.9zM51.4 56.3h0.9v0.9h-0.9zM72.4 57.9h0.9v0.9h-0.9zM80.0 54.3h0.9v0.9h-0.9zM89.9 46.7h0.9v0.9h-0.9zM74.8 50.9h0.9v0.9h-0.9zM103.5 52.3h0.9v0.9h-0.9zM82.5 52.5h0.9v0.9h-0.9zM104.6 53.5h0.9v0.9h-0.9zM95.8 52.0h0.9v0.9h-0.9zM85.7 54.3h0.9v0.9h-0.9zM93.1 60.3h0.9v0.9h-0.9zM40.6 65.2h0.9v0.9h-0.9zM72.9 79.4h0.9v0.9h-0.9zM68.3 65.2h0.9v0.9h-0.9zM40.6 84.6h0.9v0.9h-0.9zM70.2 77.8h0.9v0.9h-0.9zM64.1 97.6h0.9v0.9h-0.9zM40.6 66.0h0.9v0.9h-0.9zM40.6 80.5h0.9v0.9h-0.9zM59.0 64.3h0.9v0.9h-0.9zM28.1 90.6h0.9v0.9h-0.9zM75.8 91.7h0.9v0.9h-0.9zM45.3 86.9h0.9v0.9h-0.9zM42.0 70.4h0.9v0.9h-0.9zM58.7 98.5h0.9v0.9h-0.9zM60.6 52.2h0.9v0.9h-0.9zM75.8 94.9h0.9v0.9h-0.9zM69.2 79.0h0.9v0.9h-0.9zM47.2 63.0h0.9v0.9h-0.9zM79.0 88.9h0.9v0.9h-0.9zM30.7 76.3h0.9v0.9h-0.9zM35.3 84.8h0.9v0.9h-0.9zM71.2 92.0h0.9v0.9h-0.9zM75.1 71.8h0.9v0.9h-0.9zM54.2 74.9h0.9v0.9h-0.9zM45.1 90.1h0.9v0.9h-0.9zM58.3 67.3h0.9v0.9h-0.9zM72.8 83.8h0.9v0.9h-0.9zM45.9 70.1h0.9v0.9h-0.9zM57.8 98.6h0.9v0.9h-0.9zM56.7 69.6h0.9v0.9h-0.9zM30.6 86.8h0.9v0.9h-0.9zM74.8 93.4h0.9v0.9h-0.9zM27.5 64.5h0.9v0.9h-0.9zM33.3 60.0h0.9v0.9h-0.9zM48.3 51.5h0.9v0.9h-0.9zM33.6 85.8h0.9v0.9h-0.9zM59.6 64.9h0.9v0.9h-0.9zM60.5 51.7h0.9v0.9h-0.9zM27.9 73.4h0.9v0.9h-0.9zM47.8 91.6h0.9v0.9h-0.9zM41.5 99.0h0.9v0.9h-0.9zM57.7 69.5h0.9v0.9h-0.9zM41.6 47.9h0.9v0.9h-0.9zM55.8 91.1h0.9v0.9h-0.9zM44.3 88.4h0.9v0.9h-0.9zM40.8 71.1h0.9v0.9h-0.9zM51.4 90.6h0.9v0.9h-0.9zM29.4 91.3h0.9v0.9h-0.9zM47.1 64.2h0.9v0.9h-0.9zM28.2 53.0h0.9v0.9h-0.9zM32.8 56.8h0.9v0.9h-0.9zM45.4 84.2h0.9v0.9h-0.9zM51.9 70.3h0.9v0.9h-0.9zM49.9 52.4h0.9v0.9h-0.9zM56.7 52.6h0.9v0.9h-0.9zM28.5 80.3h0.9v0.9h-0.9zM45.0 72.7h0.9v0.9h-0.9zM51.1 52.1h0.9v0.9h-0.9zM55.0 50.9h0.9v0.9h-0.9zM45.8 51.7h0.9v0.9h-0.9zM38.9 64.0h0.9v0.9h-0.9zM30.0 56.9h0.9v0.9h-0.9zM55.2 84.8h0.9v0.9h-0.9zM36.7 99.8h0.9v0.9h-0.9zM27.6 96.0h0.9v0.9h-0.9zM64.2 48.5h0.9v0.9h-0.9zM37.5 68.5h0.9v0.9h-0.9zM88.0 84.0h0.9v0.9h-0.9zM49.5 86.8h0.9v0.9h-0.9zM75.9 91.9h0.9v0.9h-0.9zM74.9 98.2h0.9v0.9h-0.9zM103.4 48.1h0.9v0.9h-0.9zM97.0 67.7h0.9v0.9h-0.9zM27.2 49.4h0.9v0.9h-0.9zM75.8 100.9h0.9v0.9h-0.9zM93.1 54.7h0.9v0.9h-0.9zM77.6 68.6h0.9v0.9h-0.9zM43.9 64.0h0.9v0.9h-0.9zM79.5 55.7h0.9v0.9h-0.9zM51.8 79.4h0.9v0.9h-0.9zM96.0 83.0h0.9v0.9h-0.9zM36.3 86.1h0.9v0.9h-0.9zM108.6 68.1h0.9v0.9h-0.9zM63.1 51.4h0.9v0.9h-0.9zM33.4 49.6h0.9v0.9h-0.9zM39.3 40.9h0.9v0.9h-0.9z" fill="#000" fill-opacity="0.5"/>
<path d="M38.4 87.8h0.9v0.9h-0.9zM43.6 88.5h0.9v0.9h-0.9zM40.4 84.7h0.9v0.9h-0.9zM36.1 92.2h0.9v0.9h-0.9zM36.2 89.7h0.9v0.9h-0.9zM44.5 91.0h0.9v0.9h-0.9zM43.7 91.4h0.9v0.9h-0.9zM48.2 84.4h0.9v0.9h-0.9zM45.5 91.1h0.9v0.9h-0.9zM40.5 91.5h0.9v0.9h-0.9zM45.9 95.0h0.9v0.9h-0.9zM45.6 89.3h0.9v0.9h-0.9zM44.9 84.7h0.9v0.9h-0.9zM34.0 94.6h0.9v0.9h-0.9zM48.3 87.6h0.9v0.9h-0.9zM39.5 92.4h0.9v0.9h-0.9zM41.5 83.4h0.9v0.9h-0.9zM38.5 85.5h0.9v0.9h-0.9zM45.6 91.8h0.9v0.9h-0.9zM38.4 91.6h0.9v0.9h-0.9zM38.7 85.2h0.9v0.9h-0.9zM47.9 96.3h0.9v0.9h-0.9zM38.6 89.8h0.9v0.9h-0.9zM39.7 88.7h0.9v0.9h-0.9zM38.4 91.8h0.9v0.9h-0.9zM49.2 92.8h0.9v0.9h-0.9zM40.9 92.4h0.9v0.9h-0.9zM37.9 86.1h0.9v0.9h-0.9zM41.5 81.1h0.9v0.9h-0.9zM48.6 93.6h0.9v0.9h-0.9zM45.2 90.2h0.9v0.9h-0.9zM42.1 85.1h0.9v0.9h-0.9zM52.1 87.3h0.9v0.9h-0.9zM44.4 84.2h0.9v0.9h-0.9zM49.3 88.8h0.9v0.9h-0.9zM48.7 93.5h0.9v0.9h-0.9zM42.0 87.4h0.9v0.9h-0.9zM40.3 85.7h0.9v0.9h-0.9zM41.3 90.2h0.9v0.9h-0.9zM36.4 88.6h0.9v0.9h-0.9zM42.2 88.7h0.9v0.9h-0.9zM37.2 90.1h0.9v0.9h-0.9zM40.0 90.6h0.9v0.9h-0.9zM36.0 88.8h0.9v0.9h-0.9zM45.9 88.0h0.9v0.9h-0.9zM44.9 99.7h0.9v0.9h-0.9zM40.2 85.2h0.9v0.9h-0.9zM46.8 90.1h0.9v0.9h-0.9zM42.1 79.7h0.9v0.9h-0.9zM42.8 93.4h0.9v0.9h-0.9zM40.6 92.3h0.9v0.9h-0.9zM46.4 91.5h0.9v0.9h-0.9zM42.1 85.9h0.9v0.9h-0.9zM34.6 89.9h0.9v0.9h-0.9zM44.2 88.0h0.9v0.9h-0.9zM41.2 91.3h0.9v0.9h-0.9zM40.2 93.7h0.9v0.9h-0.9zM39.9 89.3h0.9v0.9h-0.9zM46.0 78.4h0.9v0.9h-0.9zM35.6 93.3h0.9v0.9h-0.9zM43.4 86.9h0.9v0.9h-0.9zM42.9 81.4h0.9v0.9h-0.9zM40.9 88.6h0.9v0.9h-0.9zM44.6 79.3h0.9v0.9h-0.9zM44.9 89.3h0.9v0.9h-0.9zM52.8 96.8h0.9v0.9h-0.9zM34.6 79.4h0.9v0.9h-0.9zM46.2 88.8h0.9v0.9h-0.9zM47.4 83.4h0.9v0.9h-0.9zM39.7 90.4h0.9v0.9h-0.9zM50.7 91.3h0.9v0.9h-0.9zM39.6 81.1h0.9v0.9h-0.9zM41.9 78.6h0.9v0.9h-0.9zM36.1 91.3h0.9v0.9h-0.9zM40.2 83.1h0.9v0.9h-0.9zM43.1 89.4h0.9v0.9h-0.9zM40.9 95.2h0.9v0.9h-0.9zM43.5 87.3h0.9v0.9h-0.9zM41.6 98.8h0.9v0.9h-0.9zM43.7 87.6h0.9v0.9h-0.9zM40.1 91.7h0.9v0.9h-0.9zM40.0 81.0h0.9v0.9h-0.9zM49.7 87.9h0.9v0.9h-0.9zM45.9 93.1h0.9v0.9h-0.9zM39.4 85.1h0.9v0.9h-0.9zM44.8 94.3h0.9v0.9h-0.9zM36.3 88.2h0.9v0.9h-0.9zM46.7 89.1h0.9v0.9h-0.9zM46.0 79.8h0.9v0.9h-0.9zM38.4 92.0h0.9v0.9h-0.9zM54.9 92.8h0.9v0.9h-0.9zM39.9 91.6h0.9v0.9h-0.9zM28.5 93.6h0.9v0.9h-0.9zM33.2 90.2h0.9v0.9h-0.9zM43.8 87.5h0.9v0.9h-0.9zM45.7 82.6h0.9v0.9h-0.9zM48.1 90.2h0.9v0.9h-0.9zM38.3 82.2h0.9v0.9h-0.9zM39.1 94.9h0.9v0.9h-0.9zM50.4 87.6h0.9v0.9h-0.9zM41.3 83.7h0.9v0.9h-0.9zM43.5 86.0h0.9v0.9h-0.9zM37.2 83.5h0.9v0.9h-0.9zM37.3 85.1h0.9v0.9h-0.9zM55.4 91.8h0.9v0.9h-0.9zM47.1 86.5h0.9v0.9h-0.9zM48.9 83.2h0.9v0.9h-0.9zM50.3 94.3h0.9v0.9h-0.9zM53.9 84.8h0.9v0.9h-0.9zM55.6 99.9h0.9v0.9h-0.9zM55.1 80.3h0.9v0.9h-0.9zM47.3 92.1h0.9v0.9h-0.9zM47.3 94.0h0.9v0.9h-0.9zM51.2 99.0h0.9v0.9h-0.9zM39.9 84.5h0.9v0.9h-0.9zM44.6 82.9h0.9v0.9h-0.9zM45.0 89.8h0.9v0.9h-0.9zM44.7 83.0h0.9v0.9h-0.9zM51.0 88.7h0.9v0.9h-0.9zM33.5 87.8h0.9v0.9h-0.9zM34.5 84.8h0.9v0.9h-0.9zM48.0 95.4h0.9v0.9h-0.9zM47.6 74.8h0.9v0.9h-0.9zM46.2 89.0h0.9v0.9h-0.9zM34.7 87.6h0.9v0.9h-0.9zM40.3 95.0h0.9v0.9h-0.9zM40.3 93.1h0.9v0.9h-0.9zM47.7 83.4h0.9v0.9h-0.9zM46.1 81.3h0.9v0.9h-0.9zM45.4 75.4h0.9v0.9h-0.9zM44.8 93.6h0.9v0.9h-0.9zM34.5 85.4h0.9v0.9h-0.9zM34.8 93.4h0.9v0.9h-0.9zM38.8 88.2h0.9v0.9h-0.9zM40.9 87.0h0.9v0.9h-0.9zM35.7 85.4h0.9v0.9h-0.9zM40.9 82.5h0.9v0.9h-0.9zM55.1 83.0h0.9v0.9h-0.9zM42.5 92.6h0.9v0.9h-0.9zM44.4 93.5h0.9v0.9h-0.9zM35.4 96.9h0.9v0.9h-0.9zM44.9 86.1h0.9v0.9h-0.9zM49.5 93.9h0.9v0.9h-0.9zM46.2 92.4h0.9v0.9h-0.9zM41.2 78.1h0.9v0.9h-0.9zM32.3 92.5h0.9v0.9h-0.9zM39.8 82.3h0.9v0.9h-0.9zM34.5 91.9h0.9v0.9h-0.9zM38.2 90.8h0.9v0.9h-0.9zM30.7 85.2h0.9v0.9h-0.9zM39.0 89.5h0.9v0.9h-0.9zM38.0 90.2h0.9v0.9h-0.9zM46.3 97.2h0.9v0.9h-0.9zM42.4 90.4h0.9v0.9h-0.9zM44.0 89.5h0.9v0.9h-0.9zM35.5 77.8h0.9v0.9h-0.9zM52.0 86.3h0.9v0.9h-0.9zM38.9 82.0h0.9v0.9h-0.9zM42.2 91.4h0.9v0.9h-0.9zM31.5 85.2h0.9v0.9h-0.9zM42.9 94.8h0.9v0.9h-0.9zM35.7 97.9h0.9v0.9h-0.9zM39.8 84.0h0.9v0.9h-0.9zM48.6 82.7h0.9v0.9h-0.9zM38.1 89.1h0.9v0.9h-0.9zM51.8 88.8h0.9v0.9h-0.9zM50.9 80.3h0.9v0.9h-0.9zM35.3 86.4h0.9v0.9h-0.9zM43.6 90.6h0.9v0.9h-0.9zM49.8 91.6h0.9v0.9h-0.9zM40.4 71.6h0.9v0.9h-0.9zM37.9 83.1h0.9v0.9h-0.9zM44.7 88.3h0.9v0.9h-0.9zM37.1 85.0h0.9v0.9h-0.9zM43.3 82.3h0.9v0.9h-0.9zM41.1 73.7h0.9v0.9h-0.9zM51.8 92.3h0.9v0.9h-0.9zM42.9 79.0h0.9v0.9h-0.9zM35.8 84.3h0.9v0.9h-0.9zM49.2 97.2h0.9v0.9h-0.9zM37.1 88.4h0.9v0.9h-0.9zM38.8 88.5h0.9v0.9h-0.9zM41.6 89.2h0.9v0.9h-0.9zM43.0 88.5h0.9v0.9h-0.9zM36.8 81.9h0.9v0.9h-0.9zM36.1 82.5h0.9v0.9h-0.9zM48.6 99.3h0.9v0.9h-0.9zM45.2 80.9h0.9v0.9h-0.9zM41.3 89.3h0.9v0.9h-0.9zM44.9 79.7h0.9v0.9h-0.9zM53.5 86.6h0.9v0.9h-0.9zM46.3 82.7h0.9v0.9h-0.9zM46.0 91.7h0.9v0.9h-0.9zM55.6 88.4h0.9v0.9h-0.9zM48.1 90.3h0.9v0.9h-0.9zM50.3 84.4h0.9v0.9h-0.9zM48.3 58.4h0.9v0.9h-0.9zM43.5 54.1h0.9v0.9h-0.9zM54.0 59.0h0.9v0.9h-0.9zM34.4 61.4h0.9v0.9h-0.9zM39.9 61.0h0.9v0.9h-0.9zM43.1 55.9h0.9v0.9h-0.9zM38.7 55.7h0.9v0.9h-0.9zM49.3 66.9h0.9v0.9h-0.9zM35.0 56.3h0.9v0.9h-0.9zM43.0 64.8h0.9v0.9h-0.9zM41.7 63.3h0.9v0.9h-0.9zM41.9 64.6h0.9v0.9h-0.9zM41.6 49.4h0.9v0.9h-0.9zM50.8 51.8h0.9v0.9h-0.9zM41.3 66.0h0.9v0.9h-0.9zM39.1 57.7h0.9v0.9h-0.9zM39.1 59.5h0.9v0.9h-0.9zM43.7 60.1h0.9v0.9h-0.9zM41.3 56.5h0.9v0.9h-0.9zM50.0 59.7h0.9v0.9h-0.9zM30.8 59.2h0.9v0.9h-0.9zM38.0 53.3h0.9v0.9h-0.9zM30.2 52.2h0.9v0.9h-0.9zM43.8 60.5h0.9v0.9h-0.9zM33.8 49.9h0.9v0.9h-0.9zM41.8 55.1h0.9v0.9h-0.9zM30.6 46.2h0.9v0.9h-0.9zM34.4 47.1h0.9v0.9h-0.9zM47.4 62.6h0.9v0.9h-0.9zM31.4 50.9h0.9v0.9h-0.9zM45.0 59.6h0.9v0.9h-0.9zM44.8 65.7h0.9v0.9h-0.9zM43.5 66.4h0.9v0.9h-0.9zM37.0 58.8h0.9v0.9h-0.9zM39.6 48.6h0.9v0.9h-0.9zM32.6 64.9h0.9v0.9h-0.9zM42.8 60.2h0.9v0.9h-0.9zM40.8 57.0h0.9v0.9h-0.9zM47.0 53.8h0.9v0.9h-0.9zM36.5 49.5h0.9v0.9h-0.9zM34.0 50.4h0.9v0.9h-0.9zM42.2 57.3h0.9v0.9h-0.9zM29.6 53.3h0.9v0.9h-0.9zM38.1 57.2h0.9v0.9h-0.9zM41.8 53.7h0.9v0.9h-0.9zM40.2 47.6h0.9v0.9h-0.9zM38.0 60.1h0.9v0.9h-0.9zM53.1 49.1h0.9v0.9h-0.9zM31.8 55.1h0.9v0.9h-0.9zM37.5 49.4h0.9v0.9h-0.9zM40.7 58.2h0.9v0.9h-0.9zM38.8 51.5h0.9v0.9h-0.9zM44.8 54.8h0.9v0.9h-0.9zM53.5 65.9h0.9v0.9h-0.9zM43.1 59.8h0.9v0.9h-0.9zM44.3 57.9h0.9v0.9h-0.9zM53.4 47.2h0.9v0.9h-0.9zM35.8 57.8h0.9v0.9h-0.9zM42.3 62.3h0.9v0.9h-0.9zM41.9 57.8h0.9v0.9h-0.9zM43.8 53.6h0.9v0.9h-0.9zM41.1 62.0h0.9v0.9h-0.9zM35.1 53.7h0.9v0.9h-0.9zM55.0 54.4h0.9v0.9h-0.9zM54.4 61.4h0.9v0.9h-0.9zM49.2 56.8h0.9v0.9h-0.9zM40.9 51.8h0.9v0.9h-0.9zM35.0 62.6h0.9v0.9h-0.9zM45.3 64.5h0.9v0.9h-0.9zM46.4 63.3h0.9v0.9h-0.9zM36.3 57.0h0.9v0.9h-0.9zM45.2 57.4h0.9v0.9h-0.9zM37.0 51.0h0.9v0.9h-0.9zM34.8 50.6h0.9v0.9h-0.9zM37.2 63.8h0.9v0.9h-0.9zM39.7 50.5h0.9v0.9h-0.9zM55.7 51.4h0.9v0.9h-0.9zM42.0 53.3h0.9v0.9h-0.9zM44.2 61.0h0.9v0.9h-0.9zM36.1 57.5h0.9v0.9h-0.9zM44.2 60.9h0.9v0.9h-0.9zM41.2 59.3h0.9v0.9h-0.9zM40.7 51.5h0.9v0.9h-0.9zM46.9 54.6h0.9v0.9h-0.9zM41.1 57.1h0.9v0.9h-0.9zM46.1 53.6h0.9v0.9h-0.9zM46.7 55.3h0.9v0.9h-0.9zM42.3 54.5h0.9v0.9h-0.9zM47.0 62.4h0.9v0.9h-0.9zM48.6 52.1h0.9v0.9h-0.9zM44.7 56.6h0.9v0.9h-0.9zM40.6 62.2h0.9v0.9h-0.9zM41.6 58.5h0.9v0.9h-0.9zM33.1 57.1h0.9v0.9h-0.9zM45.5 61.4h0.9v0.9h-0.9zM43.5 58.8h0.9v0.9h-0.9zM37.4 56.9h0.9v0.9h-0.9zM33.4 87.1h0.9v0.9h-0.9zM41.0 57.7h0.9v0.9h-0.9zM28.5 57.9h0.9v0.9h-0.9zM36.5 75.6h0.9v0.9h-0.9zM32.1 77.9h0.9v0.9h-0.9zM52.8 72.5h0.9v0.9h-0.9zM38.6 77.0h0.9v0.9h-0.9zM44.2 70.3h0.9v0.9h-0.9zM46.5 65.0h0.9v0.9h-0.9zM35.0 77.2h0.9v0.9h-0.9zM41.8 67.2h0.9v0.9h-0.9zM34.3 89.4h0.9v0.9h-0.9zM48.9 65.1h0.9v0.9h-0.9zM55.2 67.2h0.9v0.9h-0.9zM46.3 66.3h0.9v0.9h-0.9zM50.6 67.6h0.9v0.9h-0.9zM38.2 70.0h0.9v0.9h-0.9zM41.3 71.5h0.9v0.9h-0.9zM48.0 70.1h0.9v0.9h-0.9zM40.0 67.6h0.9v0.9h-0.9zM35.6 77.9h0.9v0.9h-0.9zM36.5 57.0h0.9v0.9h-0.9zM42.1 77.2h0.9v0.9h-0.9zM40.6 75.6h0.9v0.9h-0.9zM34.7 45.5h0.9v0.9h-0.9zM38.1 72.4h0.9v0.9h-0.9zM51.1 76.0h0.9v0.9h-0.9zM50.1 79.9h0.9v0.9h-0.9zM50.9 63.4h0.9v0.9h-0.9zM40.8 82.5h0.9v0.9h-0.9zM40.5 80.8h0.9v0.9h-0.9zM36.9 60.8h0.9v0.9h-0.9zM68.5 48.2h0.9v0.9h-0.9zM55.9 67.1h0.9v0.9h-0.9zM75.8 56.6h0.9v0.9h-0.9zM70.6 54.0h0.9v0.9h-0.9zM92.6 65.8h0.9v0.9h-0.9zM66.7 46.5h0.9v0.9h-0.9zM50.4 55.8h0.9v0.9h-0.9zM60.8 58.1h0.9v0.9h-0.9zM51.2 49.7h0.9v0.9h-0.9zM52.9 56.6h0.9v0.9h-0.9zM70.0 59.2h0.9v0.9h-0.9zM58.2 54.1h0.9v0.9h-0.9zM55.5 50.3h0.9v0.9h-0.9zM85.4 50.3h0.9v0.9h-0.9zM57.1 50.7h0.9v0.9h-0.9zM45.5 55.6h0.9v0.9h-0.9zM37.4 55.6h0.9v0.9h-0.9zM61.3 65.4h0.9v0.9h-0.9zM73.6 59.0h0.9v0.9h-0.9zM94.1 57.2h0.9v0.9h-0.9zM80.4 58.9h0.9v0.9h-0.9zM57.2 61.3h0.9v0.9h-0.9zM86.6 55.2h0.9v0.9h-0.9zM94.4 58.1h0.9v0.9h-0.9zM98.4 58.5h0.9v0.9h-0.9zM107.3 57.3h0.9v0.9h-0.9zM81.4 47.0h0.9v0.9h-0.9zM95.1 58.1h0.9v0.9h-0.9zM102.7 56.2h0.9v0.9h-0.9zM93.8 51.2h0.9v0.9h-0.9zM86.0 51.3h0.9v0.9h-0.9zM88.3 51.3h0.9v0.9h-0.9zM65.0 82.1h0.9v0.9h-0.9zM61.3 72.5h0.9v0.9h-0.9zM59.5 86.1h0.9v0.9h-0.9zM86.7 81.9h0.9v0.9h-0.9zM88.3 78.3h0.9v0.9h-0.9zM30.1 70.8h0.9v0.9h-0.9zM80.6 72.0h0.9v0.9h-0.9zM106.4 67.3h0.9v0.9h-0.9zM56.0 90.2h0.9v0.9h-0.9zM41.6 50.4h0.9v0.9h-0.9zM61.7 64.6h0.9v0.9h-0.9zM56.6 63.4h0.9v0.9h-0.9zM41.9 68.9h0.9v0.9h-0.9zM33.5 77.1h0.9v0.9h-0.9zM67.6 81.1h0.9v0.9h-0.9zM46.1 79.7h0.9v0.9h-0.9zM73.1 56.6h0.9v0.9h-0.9zM75.0 94.4h0.9v0.9h-0.9zM74.9 89.7h0.9v0.9h-0.9zM66.0 88.5h0.9v0.9h-0.9zM63.0 73.0h0.9v0.9h-0.9zM52.8 52.9h0.9v0.9h-0.9zM66.5 71.1h0.9v0.9h-0.9zM66.2 78.8h0.9v0.9h-0.9zM38.2 71.9h0.9v0.9h-0.9zM35.8 76.5h0.9v0.9h-0.9zM80.5 84.2h0.9v0.9h-0.9zM45.4 77.0h0.9v0.9h-0.9zM47.3 98.3h0.9v0.9h-0.9zM62.3 100.3h0.9v0.9h-0.9zM49.7 72.9h0.9v0.9h-0.9zM59.3 84.3h0.9v0.9h-0.9zM38.2 57.1h0.9v0.9h-0.9zM47.2 71.0h0.9v0.9h-0.9zM59.4 95.7h0.9v0.9h-0.9zM28.4 61.4h0.9v0.9h-0.9zM40.9 99.6h0.9v0.9h-0.9zM54.4 86.5h0.9v0.9h-0.9zM29.8 94.1h0.9v0.9h-0.9zM36.6 47.6h0.9v0.9h-0.9zM27.1 69.5h0.9v0.9h-0.9zM36.3 59.4h0.9v0.9h-0.9zM59.2 73.1h0.9v0.9h-0.9zM61.2 52.6h0.9v0.9h-0.9zM47.0 53.2h0.9v0.9h-0.9zM47.7 66.6h0.9v0.9h-0.9zM43.4 67.7h0.9v0.9h-0.9zM50.3 72.5h0.9v0.9h-0.9zM42.4 91.5h0.9v0.9h-0.9zM46.6 55.6h0.9v0.9h-0.9zM31.6 58.0h0.9v0.9h-0.9zM40.3 61.2h0.9v0.9h-0.9zM29.4 60.6h0.9v0.9h-0.9zM28.6 55.2h0.9v0.9h-0.9zM49.9 66.0h0.9v0.9h-0.9zM39.2 56.5h0.9v0.9h-0.9zM46.4 86.7h0.9v0.9h-0.9zM51.0 90.5h0.9v0.9h-0.9zM38.5 98.3h0.9v0.9h-0.9zM51.7 90.6h0.9v0.9h-0.9zM45.0 87.8h0.9v0.9h-0.9zM60.7 48.2h0.9v0.9h-0.9zM59.6 48.9h0.9v0.9h-0.9zM54.4 84.1h0.9v0.9h-0.9zM86.3 72.4h0.9v0.9h-0.9zM102.4 92.6h0.9v0.9h-0.9zM108.8 92.4h0.9v0.9h-0.9zM86.3 71.3h0.9v0.9h-0.9zM108.7 50.5h0.9v0.9h-0.9zM32.2 75.5h0.9v0.9h-0.9zM105.6 94.9h0.9v0.9h-0.9zM84.8 64.2h0.9v0.9h-0.9zM73.4 93.2h0.9v0.9h-0.9zM86.2 51.6h0.9v0.9h-0.9zM44.4 48.4h0.9v0.9h-0.9zM35.4 80.4h0.9v0.9h-0.9zM42.4 70.9h0.9v0.9h-0.9zM108.7 47.8h0.9v0.9h-0.9zM98.1 68.0h0.9v0.9h-0.9zM94.1 50.3h0.9v0.9h-0.9zM79.3 62.1h0.9v0.9h-0.9zM94.2 89.8h0.9v0.9h-0.9zM91.0 90.5h0.9v0.9h-0.9zM85.3 74.2h0.9v0.9h-0.9zM52.8 23.8h0.9v0.9h-0.9zM79.5 42.5h0.9v0.9h-0.9z" fill="#000" fill-opacity="0.5"/>
<path d="M47.0 90.5h0.9v0.9h-0.9zM44.5 86.0h0.9v0.9h-0.9zM40.1 93.8h0.9v0.9h-0.9zM45.1 92.7h0.9v0.9h-0.9zM48.4 91.1h0.9v0.9h-0.9zM35.7 94.1h0.9v0.9h-0.9zM42.8 93.5h0.9v0.9h-0.9zM47.6 83.4h0.9v0.9h-0.9zM50.7 90.1h0.9v0.9h-0.9zM43.5 86.5h0.9v0.9h-0.9zM35.2 87.2h0.9v0.9h-0.9zM41.9 95.1h0.9v0.9h-0.9zM38.0 82.5h0.9v0.9h-0.9zM41.9 86.2h0.9v0.9h-0.9zM32.7 87.1h0.9v0.9h-0.9zM34.4 84.1h0.9v0.9h-0.9zM40.0 93.2h0.9v0.9h-0.9zM35.9 88.2h0.9v0.9h-0.9zM45.1 90.1h0.9v0.9h-0.9zM50.2 88.2h0.9v0.9h-0.9zM53.5 93.5h0.9v0.9h-0.9zM36.4 85.9h0.9v0.9h-0.9zM33.2 85.6h0.9v0.9h-0.9zM41.8 89.4h0.9v0.9h-0.9zM37.7 77.7h0.9v0.9h-0.9zM46.6 84.2h0.9v0.9h-0.9zM46.4 88.7h0.9v0.9h-0.9zM42.3 82.6h0.9v0.9h-0.9zM45.6 92.6h0.9v0.9h-0.9zM36.8 86.6h0.9v0.9h-0.9zM41.9 85.9h0.9v0.9h-0.9zM41.7 88.4h0.9v0.9h-0.9zM46.9 89.2h0.9v0.9h-0.9zM47.3 84.4h0.9v0.9h-0.9zM43.4 86.9h0.9v0.9h-0.9zM40.1 98.3h0.9v0.9h-0.9zM41.8 84.1h0.9v0.9h-0.9zM38.4 87.2h0.9v0.9h-0.9zM42.5 91.9h0.9v0.9h-0.9zM44.2 86.5h0.9v0.9h-0.9zM34.8 94.8h0.9v0.9h-0.9zM49.4 90.5h0.9v0.9h-0.9zM41.8 88.3h0.9v0.9h-0.9zM39.5 90.3h0.9v0.9h-0.9zM43.6 85.9h0.9v0.9h-0.9zM43.2 89.8h0.9v0.9h-0.9zM39.7 91.4h0.9v0.9h-0.9zM35.7 95.5h0.9v0.9h-0.9zM40.5 91.5h0.9v0.9h-0.9zM52.3 85.9h0.9v0.9h-0.9zM42.6 87.0h0.9v0.9h-0.9zM41.2 84.3h0.9v0.9h-0.9zM42.4 91.9h0.9v0.9h-0.9zM47.3 80.9h0.9v0.9h-0.9zM37.5 85.4h0.9v0.9h-0.9zM43.8 83.6h0.9v0.9h-0.9zM39.6 92.1h0.9v0.9h-0.9zM47.6 89.2h0.9v0.9h-0.9zM43.0 90.8h0.9v0.9h-0.9zM43.6 86.4h0.9v0.9h-0.9zM38.0 85.6h0.9v0.9h-0.9zM39.7 89.4h0.9v0.9h-0.9zM38.2 88.6h0.9v0.9h-0.9zM45.9 90.3h0.9v0.9h-0.9zM47.5 97.1h0.9v0.9h-0.9zM39.4 85.6h0.9v0.9h-0.9zM37.0 85.5h0.9v0.9h-0.9zM45.4 91.1h0.9v0.9h-0.9zM39.6 90.6h0.9v0.9h-0.9zM49.1 91.3h0.9v0.9h-0.9zM43.7 82.2h0.9v0.9h-0.9zM41.5 85.5h0.9v0.9h-0.9zM42.2 85.0h0.9v0.9h-0.9zM39.0 87.2h0.9v0.9h-0.9zM40.1 82.2h0.9v0.9h-0.9zM46.7 82.4h0.9v0.9h-0.9zM39.8 91.4h0.9v0.9h-0.9zM43.4 86.4h0.9v0.9h-0.9zM41.7 91.6h0.9v0.9h-0.9zM43.0 88.1h0.9v0.9h-0.9zM46.8 95.4h0.9v0.9h-0.9zM43.7 90.7h0.9v0.9h-0.9zM41.8 84.2h0.9v0.9h-0.9zM36.6 92.6h0.9v0.9h-0.9zM40.0 94.2h0.9v0.9h-0.9zM43.0 84.6h0.9v0.9h-0.9zM44.7 84.2h0.9v0.9h-0.9zM36.6 91.8h0.9v0.9h-0.9zM33.2 90.1h0.9v0.9h-0.9zM38.2 90.4h0.9v0.9h-0.9zM52.8 82.1h0.9v0.9h-0.9zM52.8 81.9h0.9v0.9h-0.9zM37.0 86.7h0.9v0.9h-0.9zM35.3 77.6h0.9v0.9h-0.9zM40.3 79.4h0.9v0.9h-0.9zM36.6 88.4h0.9v0.9h-0.9zM47.0 88.7h0.9v0.9h-0.9zM42.6 85.5h0.9v0.9h-0.9zM31.7 76.5h0.9v0.9h-0.9zM39.5 90.1h0.9v0.9h-0.9zM41.8 84.3h0.9v0.9h-0.9zM37.9 98.4h0.9v0.9h-0.9zM32.8 96.1h0.9v0.9h-0.9zM28.7 94.5h0.9v0.9h-0.9zM47.8 76.2h0.9v0.9h-0.9zM33.8 82.3h0.9v0.9h-0.9zM32.8 89.8h0.9v0.9h-0.9zM43.3 84.8h0.9v0.9h-0.9zM50.1 73.1h0.9v0.9h-0.9zM41.9 97.0h0.9v0.9h-0.9zM43.5 86.8h0.9v0.9h-0.9zM42.1 91.9h0.9v0.9h-0.9zM55.9 97.2h0.9v0.9h-0.9zM41.5 95.3h0.9v0.9h-0.9zM36.4 89.3h0.9v0.9h-0.9zM42.6 88.8h0.9v0.9h-0.9zM35.8 83.6h0.9v0.9h-0.9zM50.2 77.4h0.9v0.9h-0.9zM34.1 91.2h0.9v0.9h-0.9zM40.9 88.2h0.9v0.9h-0.9zM41.3 85.6h0.9v0.9h-0.9zM42.2 84.5h0.9v0.9h-0.9zM47.9 76.8h0.9v0.9h-0.9zM54.5 86.3h0.9v0.9h-0.9zM47.9 86.8h0.9v0.9h-0.9zM41.0 93.3h0.9v0.9h-0.9zM43.8 96.3h0.9v0.9h-0.9zM48.9 91.0h0.9v0.9h-0.9zM41.5 77.6h0.9v0.9h-0.9zM36.8 84.5h0.9v0.9h-0.9zM48.1 95.3h0.9v0.9h-0.9zM53.2 83.0h0.9v0.9h-0.9zM29.1 82.4h0.9v0.9h-0.9zM51.0 82.3h0.9v0.9h-0.9zM31.5 94.6h0.9v0.9h-0.9zM45.3 91.2h0.9v0.9h-0.9zM45.0 93.0h0.9v0.9h-0.9zM36.2 101.5h0.9v0.9h-0.9zM39.4 91.8h0.9v0.9h-0.9zM42.5 90.3h0.9v0.9h-0.9zM29.3 100.1h0.9v0.9h-0.9zM33.3 87.8h0.9v0.9h-0.9zM36.8 94.4h0.9v0.9h-0.9zM53.0 90.3h0.9v0.9h-0.9zM44.3 89.0h0.9v0.9h-0.9zM42.1 88.7h0.9v0.9h-0.9zM42.1 76.1h0.9v0.9h-0.9zM45.7 87.0h0.9v0.9h-0.9zM40.9 91.8h0.9v0.9h-0.9zM47.5 97.0h0.9v0.9h-0.9zM38.6 95.1h0.9v0.9h-0.9zM41.4 88.3h0.9v0.9h-0.9zM51.6 76.1h0.9v0.9h-0.9zM33.1 84.7h0.9v0.9h-0.9zM37.9 90.1h0.9v0.9h-0.9zM45.9 86.3h0.9v0.9h-0.9zM43.2 86.3h0.9v0.9h-0.9zM51.4 93.4h0.9v0.9h-0.9zM36.9 87.5h0.9v0.9h-0.9zM42.5 85.2h0.9v0.9h-0.9zM51.9 89.3h0.9v0.9h-0.9zM36.6 77.3h0.9v0.9h-0.9zM45.0 95.2h0.9v0.9h-0.9zM37.4 77.4h0.9v0.9h-0.9zM46.4 83.0h0.9v0.9h-0.9zM41.6 89.7h0.9v0.9h-0.9zM35.5 81.5h0.9v0.9h-0.9zM48.4 90.7h0.9v0.9h-0.9zM40.3 93.9h0.9v0.9h-0.9zM47.0 85.4h0.9v0.9h-0.9zM39.9 86.9h0.9v0.9h-0.9zM39.5 83.1h0.9v0.9h-0.9zM33.6 81.5h0.9v0.9h-0.9zM42.0 83.4h0.9v0.9h-0.9zM47.5 88.2h0.9v0.9h-0.9zM43.2 89.9h0.9v0.9h-0.9zM30.6 96.1h0.9v0.9h-0.9zM44.2 96.9h0.9v0.9h-0.9zM29.2 82.0h0.9v0.9h-0.9zM45.9 90.8h0.9v0.9h-0.9zM39.2 89.8h0.9v0.9h-0.9zM37.2 94.6h0.9v0.9h-0.9zM38.3 79.6h0.9v0.9h-0.9zM29.5 79.1h0.9v0.9h-0.9zM54.2 88.6h0.9v0.9h-0.9zM44.0 97.5h0.9v0.9h-0.9zM32.3 90.8h0.9v0.9h-0.9zM39.3 89.3h0.9v0.9h-0.9zM45.1 96.7h0.9v0.9h-0.9zM40.8 89.9h0.9v0.9h-0.9zM34.9 95.5h0.9v0.9h-0.9zM27.4 90.8h0.9v0.9h-0.9zM54.1 94.2h0.9v0.9h-0.9zM45.1 85.8h0.9v0.9h-0.9zM51.0 79.7h0.9v0.9h-0.9zM48.2 90.3h0.9v0.9h-0.9zM40.1 55.3h0.9v0.9h-0.9zM45.5 54.8h0.9v0.9h-0.9zM40.2 60.0h0.9v0.9h-0.9zM42.9 62.7h0.9v0.9h-0.9zM41.5 50.6h0.9v0.9h-0.9zM27.0 48.9h0.9v0.9h-0.9zM30.1 53.7h0.9v0.9h-0.9zM35.1 64.9h0.9v0.9h-0.9zM43.7 61.3h0.9v0.9h-0.9zM44.5 59.7h0.9v0.9h-0.9zM43.5 56.3h0.9v0.9h-0.9zM39.8 53.9h0.9v0.9h-0.9zM44.5 63.1h0.9v0.9h-0.9zM47.6 48.7h0.9v0.9h-0.9zM42.0 59.8h0.9v0.9h-0.9zM34.1 48.7h0.9v0.9h-0.9zM33.5 64.2h0.9v0.9h-0.9zM47.7 55.3h0.9v0.9h-0.9zM48.9 67.2h0.9v0.9h-0.9zM35.0 62.1h0.9v0.9h-0.9zM50.0 51.4h0.9v0.9h-0.9zM41.9 52.4h0.9v0.9h-0.9zM43.2 52.1h0.9v0.9h-0.9zM45.7 55.4h0.9v0.9h-0.9zM40.0 59.1h0.9v0.9h-0.9zM45.6 50.8h0.9v0.9h-0.9zM34.5 50.8h0.9v0.9h-0.9zM45.6 59.9h0.9v0.9h-0.9zM41.7 50.6h0.9v0.9h-0.9zM40.8 59.9h0.9v0.9h-0.9zM48.4 58.5h0.9v0.9h-0.9zM44.5 50.7h0.9v0.9h-0.9zM53.8 56.3h0.9v0.9h-0.9zM45.3 64.2h0.9v0.9h-0.9zM45.8 57.8h0.9v0.9h-0.9zM44.0 51.3h0.9v0.9h-0.9zM56.3 58.0h0.9v0.9h-0.9zM47.3 48.8h0.9v0.9h-0.9zM48.7 60.6h0.9v0.9h-0.9zM42.1 63.7h0.9v0.9h-0.9zM44.4 57.0h0.9v0.9h-0.9zM41.6 54.2h0.9v0.9h-0.9zM32.0 56.4h0.9v0.9h-0.9zM38.8 53.7h0.9v0.9h-0.9zM26.7 47.9h0.9v0.9h-0.9zM52.6 51.5h0.9v0.9h-0.9zM47.6 59.5h0.9v0.9h-0.9zM36.0 64.0h0.9v0.9h-0.9zM28.9 62.6h0.9v0.9h-0.9zM41.2 48.1h0.9v0.9h-0.9zM42.6 56.8h0.9v0.9h-0.9zM41.1 54.3h0.9v0.9h-0.9zM36.6 50.9h0.9v0.9h-0.9zM34.4 62.6h0.9v0.9h-0.9zM36.7 59.7h0.9v0.9h-0.9zM37.3 56.9h0.9v0.9h-0.9zM43.6 54.6h0.9v0.9h-0.9zM44.3 63.6h0.9v0.9h-0.9zM33.7 52.1h0.9v0.9h-0.9zM38.0 57.5h0.9v0.9h-0.9zM49.0 56.5h0.9v0.9h-0.9zM31.6 53.5h0.9v0.9h-0.9zM29.5 62.2h0.9v0.9h-0.9zM34.2 59.5h0.9v0.9h-0.9zM37.6 55.1h0.9v0.9h-0.9zM36.8 49.4h0.9v0.9h-0.9zM35.5 49.2h0.9v0.9h-0.9zM37.6 57.7h0.9v0.9h-0.9zM39.9 60.1h0.9v0.9h-0.9zM46.4 56.6h0.9v0.9h-0.9zM44.2 57.2h0.9v0.9h-0.9zM39.1 51.9h0.9v0.9h-0.9zM44.4 59.0h0.9v0.9h-0.9zM30.5 49.4h0.9v0.9h-0.9zM50.3 58.8h0.9v0.9h-0.9zM42.0 54.2h0.9v0.9h-0.9zM40.3 55.5h0.9v0.9h-0.9zM44.5 58.0h0.9v0.9h-0.9zM38.7 57.7h0.9v0.9h-0.9zM41.3 54.9h0.9v0.9h-0.9zM40.3 58.1h0.9v0.9h-0.9zM39.2 58.5h0.9v0.9h-0.9zM42.5 54.4h0.9v0.9h-0.9zM39.2 52.6h0.9v0.9h-0.9zM42.2 54.4h0.9v0.9h-0.9zM38.8 62.2h0.9v0.9h-0.9zM47.0 61.2h0.9v0.9h-0.9zM49.6 50.2h0.9v0.9h-0.9zM46.0 56.5h0.9v0.9h-0.9zM33.4 56.0h0.9v0.9h-0.9zM40.3 51.6h0.9v0.9h-0.9zM42.5 56.1h0.9v0.9h-0.9zM43.4 59.1h0.9v0.9h-0.9zM39.2 56.9h0.9v0.9h-0.9zM41.1 56.4h0.9v0.9h-0.9zM45.2 52.2h0.9v0.9h-0.9zM33.7 86.5h0.9v0.9h-0.9zM37.3 70.2h0.9v0.9h-0.9zM54.3 60.4h0.9v0.9h-0.9zM44.0 72.7h0.9v0.9h-0.9zM41.9 78.5h0.9v0.9h-0.9zM36.2 67.5h0.9v0.9h-0.9zM43.6 61.5h0.9v0.9h-0.9zM50.8 62.9h0.9v0.9h-0.9zM51.1 65.6h0.9v0.9h-0.9zM41.3 65.1h0.9v0.9h-0.9zM45.6 57.8h0.9v0.9h-0.9zM38.2 65.4h0.9v0.9h-0.9zM43.3 76.5h0.9v0.9h-0.9zM52.1 69.2h0.9v0.9h-0.9zM46.9 83.6h0.9v0.9h-0.9zM58.4 65.6h0.9v0.9h-0.9zM32.5 88.7h0.9v0.9h-0.9zM39.0 71.8h0.9v0.9h-0.9zM30.8 81.8h0.9v0.9h-0.9zM41.3 68.8h0.9v0.9h-0.9zM40.9 60.7h0.9v0.9h-0.9zM44.1 72.3h0.9v0.9h-0.9zM35.2 75.1h0.9v0.9h-0.9zM40.2 79.5h0.9v0.9h-0.9zM41.6 57.7h0.9v0.9h-0.9zM39.6 78.1h0.9v0.9h-0.9zM38.6 62.8h0.9v0.9h-0.9zM42.9 67.8h0.9v0.9h-0.9zM47.6 62.4h0.9v0.9h-0.9zM47.3 63.0h0.9v0.9h-0.9zM35.8 71.8h0.9v0.9h-0.9zM39.2 55.9h0.9v0.9h-0.9zM35.9 61.6h0.9v0.9h-0.9zM48.6 56.4h0.9v0.9h-0.9zM69.6 52.4h0.9v0.9h-0.9zM60.5 56.5h0.9v0.9h-0.9zM46.3 52.6h0.9v0.9h-0.9zM63.7 65.8h0.9v0.9h-0.9zM48.8 54.5h0.9v0.9h-0.9zM57.0 50.2h0.9v0.9h-0.9zM74.9 54.7h0.9v0.9h-0.9zM48.5 57.7h0.9v0.9h-0.9zM71.4 62.4h0.9v0.9h-0.9zM54.4 50.3h0.9v0.9h-0.9zM59.2 55.2h0.9v0.9h-0.9zM68.1 53.4h0.9v0.9h-0.9zM77.0 55.7h0.9v0.9h-0.9zM65.5 50.6h0.9v0.9h-0.9zM85.1 57.4h0.9v0.9h-0.9zM69.2 63.6h0.9v0.9h-0.9zM44.0 53.8h0.9v0.9h-0.9zM54.1 55.8h0.9v0.9h-0.9zM63.2 57.3h0.9v0.9h-0.9zM59.1 53.3h0.9v0.9h-0.9zM44.9 62.4h0.9v0.9h-0.9zM82.2 52.7h0.9v0.9h-0.9zM97.0 51.8h0.9v0.9h-0.9zM85.1 48.1h0.9v0.9h-0.9zM89.3 54.8h0.9v0.9h-0.9zM79.5 57.2h0.9v0.9h-0.9zM91.5 53.5h0.9v0.9h-0.9zM100.3 53.2h0.9v0.9h-0.9zM104.6 51.6h0.9v0.9h-0.9zM91.6 58.7h0.9v0.9h-0.9zM99.1 48.2h0.9v0.9h-0.9zM70.4 77.0h0.9v0.9h-0.9zM53.8 61.0h0.9v0.9h-0.9zM44.9 76.6h0.9v0.9h-0.9zM54.7 80.2h0.9v0.9h-0.9zM77.0 96.4h0.9v0.9h-0.9zM40.0 68.3h0.9v0.9h-0.9zM38.2 84.5h0.9v0.9h-0.9zM28.2 87.1h0.9v0.9h-0.9zM39.0 80.6h0.9v0.9h-0.9zM66.0 66.4h0.9v0.9h-0.9zM71.2 90.8h0.9v0.9h-0.9zM45.2 93.1h0.9v0.9h-0.9zM44.2 52.1h0.9v0.9h-0.9zM45.3 94.2h0.9v0.9h-0.9zM70.9 99.7h0.9v0.9h-0.9zM67.7 59.9h0.9v0.9h-0.9zM45.6 96.8h0.9v0.9h-0.9zM56.4 69.8h0.9v0.9h-0.9zM65.4 84.5h0.9v0.9h-0.9zM51.5 89.4h0.9v0.9h-0.9zM54.6 85.6h0.9v0.9h-0.9zM47.7 71.3h0.9v0.9h-0.9zM58.6 79.8h0.9v0.9h-0.9zM43.3 88.8h0.9v0.9h-0.9zM44.2 84.1h0.9v0.9h-0.9zM60.7 81.2h0.9v0.9h-0.9zM45.9 73.1h0.9v0.9h-0.9zM78.6 77.1h0.9v0.9h-0.9zM39.1 96.4h0.9v0.9h-0.9zM29.5 73.7h0.9v0.9h-0.9zM33.9 76.5h0.9v0.9h-0.9zM35.8 74.8h0.9v0.9h-0.9zM42.1 96.3h0.9v0.9h-0.9zM37.7 75.5h0.9v0.9h-0.9zM28.2 85.2h0.9v0.9h-0.9zM31.1 54.3h0.9v0.9h-0.9zM39.0 100.1h0.9v0.9h-0.9zM38.1 84.3h0.9v0.9h-0.9zM50.7 69.8h0.9v0.9h-0.9zM59.3 61.1h0.9v0.9h-0.9zM30.7 99.4h0.9v0.9h-0.9zM43.1 82.3h0.9v0.9h-0.9zM57.8 85.1h0.9v0.9h-0.9zM34.4 52.0h0.9v0.9h-0.9zM41.9 69.6h0.9v0.9h-0.9zM35.4 46.9h0.9v0.9h-0.9zM35.2 90.7h0.9v0.9h-0.9zM58.2 98.2h0.9v0.9h-0.9zM33.4 86.3h0.9v0.9h-0.9zM37.7 80.6h0.9v0.9h-0.9zM38.6 68.1h0.9v0.9h-0.9zM31.7 95.6h0.9v0.9h-0.9zM34.4 92.1h0.9v0.9h-0.9zM36.0 75.6h0.9v0.9h-0.9zM58.1 62.6h0.9v0.9h-0.9zM42.3 98.1h0.9v0.9h-0.9zM58.3 72.2h0.9v0.9h-0.9zM41.3 54.7h0.9v0.9h-0.9zM57.3 97.6h0.9v0.9h-0.9zM54.9 95.3h0.9v0.9h-0.9zM57.9 65.8h0.9v0.9h-0.9zM55.3 75.6h0.9v0.9h-0.9zM27.4 59.3h0.9v0.9h-0.9zM37.6 87.0h0.9v0.9h-0.9zM97.5 52.6h0.9v0.9h-0.9zM73.4 69.8h0.9v0.9h-0.9zM106.6 56.9h0.9v0.9h-0.9zM65.5 60.6h0.9v0.9h-0.9zM27.5 64.5h0.9v0.9h-0.9zM87.8 101.1h0.9v0.9h-0.9zM48.3 91.6h0.9v0.9h-0.9zM38.9 48.5h0.9v0.9h-0.9zM43.5 93.8h0.9v0.9h-0.9zM48.2 90.8h0.9v0.9h-0.9zM84.6 50.2h0.9v0.9h-0.9zM64.6 97.3h0.9v0.9h-0.9zM72.6 96.0h0.9v0.9h-0.9zM52.4 71.6h0.9v0.9h-0.9zM106.7 64.8h0.9v0.9h-0.9zM91.7 66.7h0.9v0.9h-0.9zM49.2 97.4h0.9v0.9h-0.9zM92.7 51.0h0.9v0.9h-0.9zM75.2 101.2h0.9v0.9h-0.9zM90.7 63.5h0.9v0.9h-0.9zM31.0 37.5h0.9v0.9h-0.9zM41.3 27.1h0.9v0.9h-0.9z" fill="#000" fill-opacity="0.5"/>
<path d="M46.7 89.7h0.9v0.9h-0.9zM43.6 90.4h0.9v0.9h-0.9zM38.9 89.7h0.9v0.9h-0.9zM48.4 90.2h0.9v0.9h-0.9zM34.3 78.1h0.9v0.9h-0.9zM46.3 90.9h0.9v0.9h-0.9zM39.5 87.0h0.9v0.9h-0.9zM39.0 91.4h0.9v0.9h-0.9zM40.5 87.1h0.9v0.9h-0.9zM52.5 90.2h0.9v0.9h-0.9zM40.9 91.3h0.9v0.9h-0.9zM46.7 87.5h0.9v0.9h-0.9zM47.6 91.8h0.9v0.9h-0.9zM44.0 90.4h0.9v0.9h-0.9zM34.5 92.1h0.9v0.9h-0.9zM34.1 93.2h0.9v0.9h-0.9zM35.4 86.2h0.9v0.9h-0.9zM37.3 90.2h0.9v0.9h-0.9zM47.9 91.5h0.9v0.9h-0.9zM44.7 92.5h0.9v0.9h-0.9zM45.0 77.8h0.9v0.9h-0.9zM43.5 89.5h0.9v0.9h-0.9zM42.1 90.9h0.9v0.9h-0.9zM42.3 89.4h0.9v0.9h-0.9zM37.9 95.3h0.9v0.9h-0.9zM41.7 91.8h0.9v0.9h-0.9zM37.4 89.5h0.9v0.9h-0.9zM40.5 80.3h0.9v0.9h-0.9zM34.3 88.5h0.9v0.9h-0.9zM37.8 84.2h0.9v0.9h-0.9zM41.6 77.3h0.9v0.9h-0.9zM45.4 89.9h0.9v0.9h-0.9zM47.0 78.7h0.9v0.9h-0.9zM43.3 97.6h0.9v0.9h-0.9zM48.2 85.7h0.9v0.9h-0.9zM42.3 92.0h0.9v0.9h-0.9zM42.4 82.7h0.9v0.9h-0.9zM43.5 90.9h0.9v0.9h-0.9zM34.4 85.0h0.9v0.9h-0.9zM41.9 91.8h0.9v0.9h-0.9zM46.1 81.4h0.9v0.9h-0.9zM43.3 98.1h0.9v0.9h-0.9zM40.8 93.1h0.9v0.9h-0.9zM37.6 80.4h0.9v0.9h-0.9zM43.6 95.7h0.9v0.9h-0.9zM46.2 90.2h0.9v0.9h-0.9zM42.5 89.0h0.9v0.9h-0.9zM43.7 92.4h0.9v0.9h-0.9zM47.9 87.2h0.9v0.9h-0.9zM39.9 90.8h0.9v0.9h-0.9zM44.6 95.3h0.9v0.9h-0.9zM42.7 93.0h0.9v0.9h-0.9zM47.3 95.9h0.9v0.9h-0.9zM45.7 89.6h0.9v0.9h-0.9zM43.1 92.6h0.9v0.9h-0.9zM44.1 89.5h0.9v0.9h-0.9zM51.6 78.0h0.9v0.9h-0.9zM36.5 81.6h0.9v0.9h-0.9zM53.0 84.7h0.9v0.9h-0.9zM43.1 92.9h0.9v0.9h-0.9zM39.8 86.1h0.9v0.9h-0.9zM40.3 89.0h0.9v0.9h-0.9zM44.5 88.0h0.9v0.9h-0.9zM42.4 86.2h0.9v0.9h-0.9zM38.5 80.6h0.9v0.9h-0.9zM43.3 85.6h0.9v0.9h-0.9zM42.2 88.9h0.9v0.9h-0.9zM43.2 94.2h0.9v0.9h-0.9zM48.3 89.1h0.9v0.9h-0.9zM47.6 89.1h0.9v0.9h-0.9zM50.4 89.0h0.9v0.9h-0.9zM38.1 87.2h0.9v0.9h-0.9zM45.0 86.1h0.9v0.9h-0.9zM43.7 94.4h0.9v0.9h-0.9zM47.4 91.0h0.9v0.9h-0.9zM37.1 82.8h0.9v0.9h-0.9zM47.1 87.6h0.9v0.9h-0.9zM45.1 88.7h0.9v0.9h-0.9zM40.8 84.0h0.9v0.9h-0.9zM43.2 91.9h0.9v0.9h-0.9zM38.7 82.8h0.9v0.9h-0.9zM42.4 92.4h0.9v0.9h-0.9zM44.3 94.3h0.9v0.9h-0.9zM46.0 86.3h0.9v0.9h-0.9zM45.9 91.2h0.9v0.9h-0.9zM30.9 89.4h0.9v0.9h-0.9zM33.7 94.2h0.9v0.9h-0.9zM38.9 92.7h0.9v0.9h-0.9zM36.1 96.0h0.9v0.9h-0.9zM53.8 88.7h0.9v0.9h-0.9zM50.9 98.1h0.9v0.9h-0.9zM49.8 100.6h0.9v0.9h-0.9zM42.7 92.1h0.9v0.9h-0.9zM37.0 93.4h0.9v0.9h-0.9zM34.7 99.6h0.9v0.9h-0.9zM35.1 78.8h0.9v0.9h-0.9zM51.0 84.2h0.9v0.9h-0.9zM43.1 90.1h0.9v0.9h-0.9zM51.1 91.4h0.9v0.9h-0.9zM39.2 84.9h0.9v0.9h-0.9zM54.1 92.0h0.9v0.9h-0.9zM49.5 99.8h0.9v0.9h-0.9zM54.2 84.6h0.9v0.9h-0.9zM34.5 95.5h0.9v0.9h-0.9zM37.1 86.2h0.9v0.9h-0.9zM37.5 89.5h0.9v0.9h-0.9zM44.1 92.5h0.9v0.9h-0.9zM36.9 85.0h0.9v0.9h-0.9zM42.2 90.3h0.9v0.9h-0.9zM30.9 75.7h0.9v0.9h-0.9zM44.9 78.4h0.9v0.9h-0.9zM38.0 89.0h0.9v0.9h-0.9zM47.8 80.7h0.9v0.9h-0.9zM45.5 92.9h0.9v0.9h-0.9zM42.1 92.9h0.9v0.9h-0.9zM46.7 81.5h0.9v0.9h-0.9zM41.6 92.9h0.9v0.9h-0.9zM41.0 88.6h0.9v0.9h-0.9zM50.6 95.7h0.9v0.9h-0.9zM47.3 87.5h0.9v0.9h-0.9zM50.1 80.8h0.9v0.9h-0.9zM50.1 74.7h0.9v0.9h-0.9zM50.5 91.1h0.9v0.9h-0.9zM51.7 84.9h0.9v0.9h-0.9zM38.8 97.5h0.9v0.9h-0.9zM50.0 92.9h0.9v0.9h-0.9zM35.2 94.4h0.9v0.9h-0.9zM31.4 92.5h0.9v0.9h-0.9zM42.8 81.0h0.9v0.9h-0.9zM34.7 90.7h0.9v0.9h-0.9zM39.6 87.1h0.9v0.9h-0.9zM33.7 87.6h0.9v0.9h-0.9zM50.4 86.8h0.9v0.9h-0.9zM51.7 70.4h0.9v0.9h-0.9zM38.5 98.0h0.9v0.9h-0.9zM42.5 85.4h0.9v0.9h-0.9zM54.9 96.9h0.9v0.9h-0.9zM44.8 83.4h0.9v0.9h-0.9zM48.2 87.5h0.9v0.9h-0.9zM38.9 83.3h0.9v0.9h-0.9zM37.1 88.4h0.9v0.9h-0.9zM40.7 99.8h0.9v0.9h-0.9zM41.5 90.8h0.9v0.9h-0.9zM38.8 83.2h0.9v0.9h-0.9zM44.8 92.2h0.9v0.9h-0.9zM48.6 78.6h0.9v0.9h-0.9zM41.7 91.3h0.9v0.9h-0.9zM42.5 86.5h0.9v0.9h-0.9zM39.4 79.0h0.9v0.9h-0.9zM35.8 84.2h0.9v0.9h-0.9zM39.5 91.5h0.9v0.9h-0.9zM51.4 83.9h0.9v0.9h-0.9zM48.5 98.6h0.9v0.9h-0.9zM47.1 79.2h0.9v0.9h-0.9zM42.2 88.0h0.9v0.9h-0.9zM40.1 95.3h0.9v0.9h-0.9zM37.9 80.4h0.9v0.9h-0.9zM35.7 94.8h0.9v0.9h-0.9zM33.2 89.1h0.9v0.9h-0.9zM53.8 87.9h0.9v0.9h-0.9zM43.7 93.9h0.9v0.9h-0.9zM47.3 92.9h0.9v0.9h-0.9zM47.3 81.1h0.9v0.9h-0.9zM43.4 88.2h0.9v0.9h-0.9zM49.2 82.0h0.9v0.9h-0.9zM46.2 89.5h0.9v0.9h-0.9zM38.5 92.6h0.9v0.9h-0.9zM35.5 89.2h0.9v0.9h-0.9zM41.0 80.2h0.9v0.9h-0.9zM42.2 89.9h0.9v0.9h-0.9zM47.7 76.0h0.9v0.9h-0.9zM49.3 90.9h0.9v0.9h-0.9zM40.8 91.1h0.9v0.9h-0.9zM39.4 77.6h0.9v0.9h-0.9zM42.4 85.6h0.9v0.9h-0.9zM43.2 83.7h0.9v0.9h-0.9zM50.9 91.6h0.9v0.9h-0.9zM50.2 99.5h0.9v0.9h-0.9zM34.3 97.3h0.9v0.9h-0.9zM41.0 85.9h0.9v0.9h-0.9zM64.2 91.0h0.9v0.9h-0.9zM48.1 85.5h0.9v0.9h-0.9zM33.6 86.2h0.9v0.9h-0.9zM42.0 97.6h0.9v0.9h-0.9zM47.5 82.2h0.9v0.9h-0.9zM30.9 90.3h0.9v0.9h-0.9zM49.4 76.1h0.9v0.9h-0.9zM39.6 81.7h0.9v0.9h-0.9zM46.5 90.0h0.9v0.9h-0.9zM35.9 90.7h0.9v0.9h-0.9zM41.0 90.7h0.9v0.9h-0.9zM34.5 91.3h0.9v0.9h-0.9zM44.8 90.2h0.9v0.9h-0.9zM37.9 95.4h0.9v0.9h-0.9zM45.7 84.5h0.9v0.9h-0.9zM35.1 87.1h0.9v0.9h-0.9zM43.2 55.0h0.9v0.9h-0.9zM44.0 57.8h0.9v0.9h-0.9zM36.3 54.3h0.9v0.9h-0.9zM47.8 59.6h0.9v0.9h-0.9zM44.2 55.6h0.9v0.9h-0.9zM32.4 66.5h0.9v0.9h-0.9zM35.3 53.4h0.9v0.9h-0.9zM46.9 52.4h0.9v0.9h-0.9zM42.5 59.0h0.9v0.9h-0.9zM48.2 57.5h0.9v0.9h-0.9zM33.8 51.3h0.9v0.9h-0.9zM39.4 58.8h0.9v0.9h-0.9zM48.3 49.3h0.9v0.9h-0.9zM35.4 53.6h0.9v0.9h-0.9zM36.7 57.5h0.9v0.9h-0.9zM36.6 62.2h0.9v0.9h-0.9zM37.4 53.7h0.9v0.9h-0.9zM43.8 66.9h0.9v0.9h-0.9zM29.6 59.1h0.9v0.9h-0.9zM37.0 52.9h0.9v0.9h-0.9zM41.5 55.2h0.9v0.9h-0.9zM34.7 55.1h0.9v0.9h-0.9zM46.7 61.1h0.9v0.9h-0.9zM38.4 61.3h0.9v0.9h-0.9zM41.8 50.9h0.9v0.9h-0.9zM31.7 65.9h0.9v0.9h-0.9zM42.5 51.6h0.9v0.9h-0.9zM47.9 58.6h0.9v0.9h-0.9zM53.2 50.1h0.9v0.9h-0.9zM42.0 58.7h0.9v0.9h-0.9zM29.9 53.4h0.9v0.9h-0.9zM53.1 58.2h0.9v0.9h-0.9zM47.4 55.4h0.9v0.9h-0.9zM34.2 56.0h0.9v0.9h-0.9zM55.0 57.3h0.9v0.9h-0.9zM44.1 57.9h0.9v0.9h-0.9zM37.4 44.8h0.9v0.9h-0.9zM39.5 56.8h0.9v0.9h-0.9zM44.7 58.9h0.9v0.9h-0.9zM38.8 51.2h0.9v0.9h-0.9zM53.6 55.2h0.9v0.9h-0.9zM52.0 55.2h0.9v0.9h-0.9zM31.4 51.5h0.9v0.9h-0.9zM38.5 57.5h0.9v0.9h-0.9zM41.6 55.9h0.9v0.9h-0.9zM41.1 55.3h0.9v0.9h-0.9zM51.3 55.6h0.9v0.9h-0.9zM43.7 46.1h0.9v0.9h-0.9zM34.9 44.3h0.9v0.9h-0.9zM41.5 60.4h0.9v0.9h-0.9zM39.1 58.6h0.9v0.9h-0.9zM47.2 54.6h0.9v0.9h-0.9zM39.2 53.8h0.9v0.9h-0.9zM49.2 63.2h0.9v0.9h-0.9zM36.7 52.1h0.9v0.9h-0.9zM42.4 61.8h0.9v0.9h-0.9zM49.3 54.4h0.9v0.9h-0.9zM39.3 58.4h0.9v0.9h-0.9zM49.0 63.6h0.9v0.9h-0.9zM45.6 64.3h0.9v0.9h-0.9zM44.1 69.1h0.9v0.9h-0.9zM44.8 59.3h0.9v0.9h-0.9zM34.4 48.1h0.9v0.9h-0.9zM48.7 49.1h0.9v0.9h-0.9zM39.6 52.9h0.9v0.9h-0.9zM38.9 54.0h0.9v0.9h-0.9zM44.9 59.0h0.9v0.9h-0.9zM40.2 56.6h0.9v0.9h-0.9zM45.5 50.4h0.9v0.9h-0.9zM40.5 64.3h0.9v0.9h-0.9zM43.1 58.4h0.9v0.9h-0.9zM40.5 53.0h0.9v0.9h-0.9zM38.7 55.3h0.9v0.9h-0.9zM43.2 60.6h0.9v0.9h-0.9zM43.3 57.3h0.9v0.9h-0.9zM47.6 58.6h0.9v0.9h-0.9zM36.7 57.7h0.9v0.9h-0.9zM49.0 60.8h0.9v0.9h-0.9zM43.4 58.1h0.9v0.9h-0.9zM44.6 63.6h0.9v0.9h-0.9zM35.8 59.2h0.9v0.9h-0.9zM40.3 57.5h0.9v0.9h-0.9zM39.6 54.1h0.9v0.9h-0.9zM48.3 58.3h0.9v0.9h-0.9zM42.7 57.0h0.9v0.9h-0.9zM40.0 55.9h0.9v0.9h-0.9zM46.1 57.4h0.9v0.9h-0.9zM38.4 57.7h0.9v0.9h-0.9zM42.1 54.7h0.9v0.9h-0.9zM39.7 55.9h0.9v0.9h-0.9zM41.7 58.8h0.9v0.9h-0.9zM45.1 55.4h0.9v0.9h-0.9zM39.3 54.8h0.9v0.9h-0.9zM39.9 55.6h0.9v0.9h-0.9zM44.8 52.6h0.9v0.9h-0.9zM37.1 54.1h0.9v0.9h-0.9zM37.7 81.0h0.9v0.9h-0.9zM36.5 86.5h0.9v0.9h-0.9zM29.1 65.6h0.9v0.9h-0.9zM42.9 73.3h0.9v0.9h-0.9zM61.2 67.4h0.9v0.9h-0.9zM48.0 63.7h0.9v0.9h-0.9zM52.7 72.6h0.9v0.9h-0.9zM44.6 55.8h0.9v0.9h-0.9zM48.0 84.3h0.9v0.9h-0.9zM40.9 59.1h0.9v0.9h-0.9zM30.5 76.9h0.9v0.9h-0.9zM42.1 88.5h0.9v0.9h-0.9zM43.2 67.8h0.9v0.9h-0.9zM37.0 63.9h0.9v0.9h-0.9zM36.2 68.9h0.9v0.9h-0.9zM47.0 81.2h0.9v0.9h-0.9zM37.0 63.6h0.9v0.9h-0.9zM46.6 60.6h0.9v0.9h-0.9zM32.5 63.0h0.9v0.9h-0.9zM50.2 49.8h0.9v0.9h-0.9zM33.9 87.0h0.9v0.9h-0.9zM38.1 75.1h0.9v0.9h-0.9zM49.2 66.3h0.9v0.9h-0.9zM49.9 64.4h0.9v0.9h-0.9zM38.4 71.6h0.9v0.9h-0.9zM40.0 66.4h0.9v0.9h-0.9zM43.8 65.0h0.9v0.9h-0.9zM41.1 74.7h0.9v0.9h-0.9zM48.8 87.1h0.9v0.9h-0.9zM50.5 69.5h0.9v0.9h-0.9zM40.0 67.1h0.9v0.9h-0.9zM32.3 73.6h0.9v0.9h-0.9zM41.7 75.2h0.9v0.9h-0.9zM60.0 61.7h0.9v0.9h-0.9zM79.6 47.6h0.9v0.9h-0.9zM45.6 62.1h0.9v0.9h-0.9zM60.3 57.2h0.9v0.9h-0.9zM62.8 62.6h0.9v0.9h-0.9zM64.0 53.8h0.9v0.9h-0.9zM70.5 55.7h0.9v0.9h-0.9zM77.4 60.8h0.9v0.9h-0.9zM64.7 64.8h0.9v0.9h-0.9zM58.3 52.4h0.9v0.9h-0.9zM43.9 50.2h0.9v0.9h-0.9zM96.3 50.6h0.9v0.9h-0.9zM72.2 53.3h0.9v0.9h-0.9zM65.2 52.1h0.9v0.9h-0.9zM73.5 67.8h0.9v0.9h-0.9zM61.1 45.8h0.9v0.9h-0.9zM46.5 63.3h0.9v0.9h-0.9zM56.9 54.2h0.9v0.9h-0.9zM67.1 65.9h0.9v0.9h-0.9zM64.0 49.5h0.9v0.9h-0.9zM40.4 53.5h0.9v0.9h-0.9zM60.8 53.6h0.9v0.9h-0.9zM76.6 55.6h0.9v0.9h-0.9zM78.6 59.0h0.9v0.9h-0.9zM105.8 53.6h0.9v0.9h-0.9zM83.7 55.9h0.9v0.9h-0.9zM93.0 54.9h0.9v0.9h-0.9zM71.0 56.0h0.9v0.9h-0.9zM94.8 54.6h0.9v0.9h-0.9zM76.1 48.4h0.9v0.9h-0.9zM86.1 53.1h0.9v0.9h-0.9zM97.8 55.8h0.9v0.9h-0.9zM41.2 85.3h0.9v0.9h-0.9zM83.1 71.4h0.9v0.9h-0.9zM51.1 84.8h0.9v0.9h-0.9zM66.2 77.9h0.9v0.9h-0.9zM80.0 82.5h0.9v0.9h-0.9zM80.8 69.7h0.9v0.9h-0.9zM55.8 69.5h0.9v0.9h-0.9zM48.3 74.5h0.9v0.9h-0.9zM43.4 68.7h0.9v0.9h-0.9zM52.8 79.1h0.9v0.9h-0.9zM87.4 54.5h0.9v0.9h-0.9zM73.6 73.2h0.9v0.9h-0.9zM69.0 80.9h0.9v0.9h-0.9zM81.7 74.1h0.9v0.9h-0.9zM38.9 89.1h0.9v0.9h-0.9zM59.3 72.0h0.9v0.9h-0.9zM42.5 58.6h0.9v0.9h-0.9zM65.6 85.6h0.9v0.9h-0.9zM38.2 59.1h0.9v0.9h-0.9zM54.2 71.7h0.9v0.9h-0.9zM27.6 79.7h0.9v0.9h-0.9zM41.9 79.1h0.9v0.9h-0.9zM72.1 61.9h0.9v0.9h-0.9zM76.3 74.3h0.9v0.9h-0.9zM47.5 92.8h0.9v0.9h-0.9zM42.9 64.1h0.9v0.9h-0.9zM44.0 82.9h0.9v0.9h-0.9zM32.6 76.5h0.9v0.9h-0.9zM28.6 70.2h0.9v0.9h-0.9zM50.6 80.2h0.9v0.9h-0.9zM53.6 72.1h0.9v0.9h-0.9zM36.5 95.5h0.9v0.9h-0.9zM27.8 92.8h0.9v0.9h-0.9zM54.1 86.5h0.9v0.9h-0.9zM35.3 76.0h0.9v0.9h-0.9zM45.5 55.8h0.9v0.9h-0.9zM58.2 57.2h0.9v0.9h-0.9zM41.4 88.0h0.9v0.9h-0.9zM61.1 99.0h0.9v0.9h-0.9zM28.4 53.7h0.9v0.9h-0.9zM56.4 87.0h0.9v0.9h-0.9zM46.9 95.8h0.9v0.9h-0.9zM52.5 88.5h0.9v0.9h-0.9zM52.3 87.7h0.9v0.9h-0.9zM42.1 77.4h0.9v0.9h-0.9zM57.6 98.6h0.9v0.9h-0.9zM57.2 94.0h0.9v0.9h-0.9zM48.6 51.6h0.9v0.9h-0.9zM38.6 98.9h0.9v0.9h-0.9zM58.5 74.9h0.9v0.9h-0.9zM53.6 68.6h0.9v0.9h-0.9zM39.6 85.1h0.9v0.9h-0.9zM46.3 64.3h0.9v0.9h-0.9zM55.8 78.8h0.9v0.9h-0.9zM30.5 57.1h0.9v0.9h-0.9zM35.7 55.2h0.9v0.9h-0.9zM28.5 92.5h0.9v0.9h-0.9zM50.1 63.9h0.9v0.9h-0.9zM53.8 76.0h0.9v0.9h-0.9zM38.1 54.1h0.9v0.9h-0.9zM51.3 68.6h0.9v0.9h-0.9zM46.4 76.2h0.9v0.9h-0.9zM54.3 54.5h0.9v0.9h-0.9zM44.0 90.7h0.9v0.9h-0.9zM55.0 85.4h0.9v0.9h-0.9zM52.6 79.0h0.9v0.9h-0.9zM45.4 45.4h0.9v0.9h-0.9zM30.3 71.0h0.9v0.9h-0.9zM56.0 78.7h0.9v0.9h-0.9zM104.7 50.0h0.9v0.9h-0.9zM28.5 68.2h0.9v0.9h-0.9zM65.1 90.1h0.9v0.9h-0.9zM29.0 75.1h0.9v0.9h-0.9zM98.5 95.1h0.9v0.9h-0.9zM45.5 69.5h0.9v0.9h-0.9zM35.7 87.3h0.9v0.9h-0.9zM54.3 56.9h0.9v0.9h-0.9zM88.8 80.6h0.9v0.9h-0.9zM78.5 75.4h0.9v0.9h-0.9zM70.5 68.4h0.9v0.9h-0.9zM71.2 45.1h0.9v0.9h-0.9zM28.1 49.4h0.9v0.9h-0.9zM91.3 97.8h0.9v0.9h-0.9zM61.3 87.2h0.9v0.9h-0.9zM87.7 35.2h0.9v0.9h-0.9z" fill="#000" fill-opacity="0.5"/>
<path d="M44.0 89.5h0.9v0.9h-0.9zM39.5 95.9h0.9v0.9h-0.9zM44.1 82.4h0.9v0.9h-0.9zM42.8 83.2h0.9v0.9h-0.9zM43.8 85.6h0.9v0.9h-0.9zM34.0 86.0h0.9v0.9h-0.9zM46.7 88.8h0.9v0.9h-0.9zM47.0 92.3h0.9v0.9h-0.9zM42.2 92.6h0.9v0.9h-0.9zM40.0 88.3h0.9v0.9h-0.9zM46.9 77.4h0.9v0.9h-0.9zM53.8 83.9h0.9v0.9h-0.9zM48.5 84.8h0.9v0.9h-0.9zM48.6 84.4h0.9v0.9h-0.9zM43.6 86.1h0.9v0.9h-0.9zM37.1 88.6h0.9v0.9h-0.9zM46.5 92.0h0.9v0.9h-0.9zM32.4 90.1h0.9v0.9h-0.9zM44.2 79.9h0.9v0.9h-0.9zM38.5 88.3h0.9v0.9h-0.9zM44.9 90.7h0.9v0.9h-0.9zM40.6 84.6h0.9v0.9h-0.9zM39.2 88.2h0.9v0.9h-0.9zM41.7 83.4h0.9v0.9h-0.9zM40.7 82.9h0.9v0.9h-0.9zM41.1 93.2h0.9v0.9h-0.9zM43.8 93.4h0.9v0.9h-0.9zM39.4 91.1h0.9v0.9h-0.9zM44.9 81.3h0.9v0.9h-0.9zM42.0 88.7h0.9v0.9h-0.9zM38.2 88.9h0.9v0.9h-0.9zM39.3 83.0h0.9v0.9h-0.9zM39.1 89.7h0.9v0.9h-0.9zM41.4 88.8h0.9v0.9h-0.9zM45.1 86.7h0.9v0.9h-0.9zM39.6 88.5h0.9v0.9h-0.9zM42.0 90.0h0.9v0.9h-0.9zM44.7 97.5h0.9v0.9h-0.9zM42.3 84.4h0.9v0.9h-0.9zM38.6 91.4h0.9v0.9h-0.9zM45.4 88.1h0.9v0.9h-0.9zM40.1 85.9h0.9v0.9h-0.9zM48.1 87.2h0.9v0.9h-0.9zM42.5 89.8h0.9v0.9h-0.9zM39.4 98.6h0.9v0.9h-0.9zM49.3 83.5h0.9v0.9h-0.9zM41.6 92.5h0.9v0.9h-0.9zM43.1 88.1h0.9v0.9h-0.9zM41.8 95.4h0.9v0.9h-0.9zM37.9 90.8h0.9v0.9h-0.9zM42.3 90.2h0.9v0.9h-0.9zM37.7 84.4h0.9v0.9h-0.9zM39.0 86.9h0.9v0.9h-0.9zM44.3 90.6h0.9v0.9h-0.9zM44.1 90.9h0.9v0.9h-0.9zM38.1 91.9h0.9v0.9h-0.9zM40.5 90.8h0.9v0.9h-0.9zM47.3 91.8h0.9v0.9h-0.9zM40.9 88.9h0.9v0.9h-0.9zM38.2 88.2h0.9v0.9h-0.9zM37.4 91.4h0.9v0.9h-0.9zM45.4 91.9h0.9v0.9h-0.9zM51.0 77.8h0.9v0.9h-0.9zM45.0 86.7h0.9v0.9h-0.9zM45.9 95.1h0.9v0.9h-0.9zM47.8 88.4h0.9v0.9h-0.9zM44.6 89.2h0.9v0.9h-0.9zM39.9 87.2h0.9v0.9h-0.9zM38.7 87.2h0.9v0.9h-0.9zM44.5 87.9h0.9v0.9h-0.9zM42.2 84.0h0.9v0.9h-0.9zM43.5 83.7h0.9v0.9h-0.9zM42.9 97.8h0.9v0.9h-0.9zM50.5 93.0h0.9v0.9h-0.9zM37.2 94.6h0.9v0.9h-0.9zM40.0 86.2h0.9v0.9h-0.9zM45.8 84.0h0.9v0.9h-0.9zM43.2 77.1h0.9v0.9h-0.9zM46.9 92.5h0.9v0.9h-0.9zM46.3 85.8h0.9v0.9h-0.9zM44.5 92.6h0.9v0.9h-0.9zM39.8 88.4h0.9v0.9h-0.9zM44.5 90.5h0.9v0.9h-0.9zM36.1 85.6h0.9v0.9h-0.9zM43.6 82.2h0.9v0.9h-0.9zM47.4 89.9h0.9v0.9h-0.9zM43.9 94.9h0.9v0.9h-0.9zM44.2 99.2h0.9v0.9h-0.9zM47.8 77.5h0.9v0.9h-0.9zM41.2 93.4h0.9v0.9h-0.9zM41.5 87.6h0.9v0.9h-0.9zM32.5 81.3h0.9v0.9h-0.9zM39.8 88.6h0.9v0.9h-0.9zM45.1 87.9h0.9v0.9h-0.9zM36.9 94.1h0.9v0.9h-0.9zM39.2 93.5h0.9v0.9h-0.9zM35.4 78.7h0.9v0.9h-0.9zM44.7 74.1h0.9v0.9h-0.9zM45.8 89.3h0.9v0.9h-0.9zM43.0 89.5h0.9v0.9h-0.9zM39.1 75.9h0.9v0.9h-0.9zM39.8 88.7h0.9v0.9h-0.9zM36.8 86.3h0.9v0.9h-0.9zM30.0 80.1h0.9v0.9h-0.9zM50.1 78.9h0.9v0.9h-0.9zM41.9 99.5h0.9v0.9h-0.9zM47.0 97.8h0.9v0.9h-0.9zM40.8 88.3h0.9v0.9h-0.9zM43.7 92.5h0.9v0.9h-0.9zM38.8 82.7h0.9v0.9h-0.9zM29.6 73.2h0.9v0.9h-0.9zM42.6 92.2h0.9v0.9h-0.9zM36.0 90.3h0.9v0.9h-0.9zM45.8 83.5h0.9v0.9h-0.9zM58.7 88.3h0.9v0.9h-0.9zM45.3 95.0h0.9v0.9h-0.9zM33.7 81.8h0.9v0.9h-0.9zM49.2 84.5h0.9v0.9h-0.9zM48.2 76.4h0.9v0.9h-0.9zM43.7 91.3h0.9v0.9h-0.9zM45.8 89.4h0.9v0.9h-0.9zM36.5 92.9h0.9v0.9h-0.9zM58.5 84.5h0.9v0.9h-0.9zM47.7 75.7h0.9v0.9h-0.9zM49.3 94.6h0.9v0.9h-0.9zM47.6 80.8h0.9v0.9h-0.9zM49.0 89.0h0.9v0.9h-0.9zM46.3 91.5h0.9v0.9h-0.9zM44.8 78.4h0.9v0.9h-0.9zM41.3 83.1h0.9v0.9h-0.9zM47.9 85.7h0.9v0.9h-0.9zM39.5 82.5h0.9v0.9h-0.9zM32.9 91.9h0.9v0.9h-0.9zM48.0 84.0h0.9v0.9h-0.9zM48.4 88.6h0.9v0.9h-0.9zM45.9 90.9h0.9v0.9h-0.9zM36.5 85.5h0.9v0.9h-0.9zM27.7 78.4h0.9v0.9h-0.9zM39.0 87.3h0.9v0.9h-0.9zM48.6 97.1h0.9v0.9h-0.9zM38.7 89.5h0.9v0.9h-0.9zM34.4 94.9h0.9v0.9h-0.9zM40.4 92.9h0.9v0.9h-0.9zM33.3 93.6h0.9v0.9h-0.9zM40.0 94.6h0.9v0.9h-0.9zM41.8 90.4h0.9v0.9h-0.9zM49.4 86.2h0.9v0.9h-0.9zM38.5 77.1h0.9v0.9h-0.9zM42.7 93.4h0.9v0.9h-0.9zM43.7 76.1h0.9v0.9h-0.9zM43.3 88.9h0.9v0.9h-0.9zM30.6 77.4h0.9v0.9h-0.9zM48.0 79.0h0.9v0.9h-0.9zM56.7 79.6h0.9v0.9h-0.9zM49.9 77.6h0.9v0.9h-0.9zM36.2 86.1h0.9v0.9h-0.9zM39.6 96.7h0.9v0.9h-0.9zM34.6 92.6h0.9v0.9h-0.9zM43.7 97.0h0.9v0.9h-0.9zM53.2 95.9h0.9v0.9h-0.9zM40.3 81.8h0.9v0.9h-0.9zM40.9 72.5h0.9v0.9h-0.9zM43.4 89.4h0.9v0.9h-0.9zM40.0 91.7h0.9v0.9h-0.9zM48.0 91.2h0.9v0.9h-0.9zM39.6 83.9h0.9v0.9h-0.9zM46.4 75.6h0.9v0.9h-0.9zM42.5 93.3h0.9v0.9h-0.9zM48.4 86.2h0.9v0.9h-0.9zM45.2 93.0h0.9v0.9h-0.9zM40.2 91.5h0.9v0.9h-0.9zM52.0 91.1h0.9v0.9h-0.9zM44.5 91.5h0.9v0.9h-0.9zM43.3 82.9h0.9v0.9h-0.9zM46.1 89.1h0.9v0.9h-0.9zM50.7 87.6h0.9v0.9h-0.9zM28.7 96.4h0.9v0.9h-0.9zM46.2 84.7h0.9v0.9h-0.9zM45.3 85.3h0.9v0.9h-0.9zM33.7 101.0h0.9v0.9h-0.9zM36.3 100.9h0.9v0.9h-0.9zM51.0 81.3h0.9v0.9h-0.9zM34.8 71.0h0.9v0.9h-0.9zM38.5 91.9h0.9v0.9h-0.9zM43.3 97.8h0.9v0.9h-0.9zM34.2 87.5h0.9v0.9h-0.9zM43.7 87.1h0.9v0.9h-0.9zM29.5 90.1h0.9v0.9h-0.9zM41.2 83.3h0.9v0.9h-0.9zM40.9 83.1h0.9v0.9h-0.9zM42.6 82.1h0.9v0.9h-0.9zM28.9 87.6h0.9v0.9h-0.9zM42.5 80.0h0.9v0.9h-0.9zM63.8 89.2h0.9v0.9h-0.9zM43.0 90.6h0.9v0.9h-0.9zM36.0 54.7h0.9v0.9h-0.9zM38.0 54.7h0.9v0.9h-0.9zM45.1 44.5h0.9v0.9h-0.9zM37.8 55.4h0.9v0.9h-0.9zM40.5 51.2h0.9v0.9h-0.9zM28.0 57.5h0.9v0.9h-0.9zM40.3 55.2h0.9v0.9h-0.9zM49.5 57.8h0.9v0.9h-0.9zM43.3 58.3h0.9v0.9h-0.9zM42.4 66.6h0.9v0.9h-0.9zM35.9 56.0h0.9v0.9h-0.9zM44.0 52.3h0.9v0.9h-0.9zM43.0 59.8h0.9v0.9h-0.9zM50.5 60.9h0.9v0.9h-0.9zM46.9 48.7h0.9v0.9h-0.9zM26.7 57.0h0.9v0.9h-0.9zM47.7 48.9h0.9v0.9h-0.9zM46.1 58.6h0.9v0.9h-0.9zM30.4 49.7h0.9v0.9h-0.9zM41.5 61.2h0.9v0.9h-0.9zM31.4 55.5h0.9v0.9h-0.9zM39.8 58.9h0.9v0.9h-0.9zM51.2 55.5h0.9v0.9h-0.9zM44.4 54.4h0.9v0.9h-0.9zM45.6 58.9h0.9v0.9h-0.9zM32.0 53.8h0.9v0.9h-0.9zM41.0 60.2h0.9v0.9h-0.9zM51.9 53.5h0.9v0.9h-0.9zM28.2 56.4h0.9v0.9h-0.9zM40.9 47.2h0.9v0.9h-0.9zM33.2 44.4h0.9v0.9h-0.9zM53.9 58.8h0.9v0.9h-0.9zM49.4 57.6h0.9v0.9h-0.9zM44.1 56.3h0.9v0.9h-0.9zM44.9 63.9h0.9v0.9h-0.9zM39.8 49.6h0.9v0.9h-0.9zM48.2 63.6h0.9v0.9h-0.9zM48.7 55.8h0.9v0.9h-0.9zM47.9 52.5h0.9v0.9h-0.9zM32.8 58.3h0.9v0.9h-0.9zM50.9 65.0h0.9v0.9h-0.9zM43.6 56.9h0.9v0.9h-0.9zM46.3 64.9h0.9v0.9h-0.9zM43.5 57.3h0.9v0.9h-0.9zM50.0 55.6h0.9v0.9h-0.9zM44.5 57.6h0.9v0.9h-0.9zM35.9 47.7h0.9v0.9h-0.9zM52.0 53.0h0.9v0.9h-0.9zM43.8 50.6h0.9v0.9h-0.9zM45.5 58.3h0.9v0.9h-0.9zM51.8 57.8h0.9v0.9h-0.9zM47.5 60.3h0.9v0.9h-0.9zM42.3 55.4h0.9v0.9h-0.9zM43.4 58.3h0.9v0.9h-0.9zM41.4 61.3h0.9v0.9h-0.9zM43.0 55.3h0.9v0.9h-0.9zM43.4 57.8h0.9v0.9h-0.9zM41.8 59.6h0.9v0.9h-0.9zM49.3 55.9h0.9v0.9h-0.9zM52.0 53.7h0.9v0.9h-0.9zM27.6 50.6h0.9v0.9h-0.9zM38.5 61.1h0.9v0.9h-0.9zM54.0 65.2h0.9v0.9h-0.9zM46.7 55.4h0.9v0.9h-0.9zM36.8 51.6h0.9v0.9h-0.9zM42.0 61.3h0.9v0.9h-0.9zM53.0 54.2h0.9v0.9h-0.9zM42.7 60.3h0.9v0.9h-0.9zM39.7 53.9h0.9v0.9h-0.9zM49.6 48.2h0.9v0.9h-0.9zM42.8 56.4h0.9v0.9h-0.9zM34.0 51.1h0.9v0.9h-0.9zM45.1 47.9h0.9v0.9h-0.9zM38.1 53.7h0.9v0.9h-0.9zM38.7 53.2h0.9v0.9h-0.9zM37.6 56.3h0.9v0.9h-0.9zM36.3 56.9h0.9v0.9h-0.9zM41.3 57.3h0.9v0.9h-0.9zM44.2 57.3h0.9v0.9h-0.9zM43.2 56.2h0.9v0.9h-0.9zM46.5 59.9h0.9v0.9h-0.9zM44.5 53.5h0.9v0.9h-0.9zM42.6 63.0h0.9v0.9h-0.9zM42.5 55.1h0.9v0.9h-0.9zM37.8 55.5h0.9v0.9h-0.9zM41.4 54.5h0.9v0.9h-0.9zM35.9 53.6h0.9v0.9h-0.9zM36.4 58.5h0.9v0.9h-0.9zM39.5 49.8h0.9v0.9h-0.9zM45.2 54.5h0.9v0.9h-0.9zM37.2 52.5h0.9v0.9h-0.9zM39.3 56.3h0.9v0.9h-0.9zM42.6 57.1h0.9v0.9h-0.9zM42.8 58.3h0.9v0.9h-0.9zM42.2 57.5h0.9v0.9h-0.9zM38.5 59.9h0.9v0.9h-0.9zM37.0 62.6h0.9v0.9h-0.9zM49.7 66.5h0.9v0.9h-0.9zM46.9 83.6h0.9v0.9h-0.9zM53.6 82.9h0.9v0.9h-0.9zM39.8 59.7h0.9v0.9h-0.9zM41.0 66.6h0.9v0.9h-0.9zM38.9 79.7h0.9v0.9h-0.9zM34.3 78.9h0.9v0.9h-0.9zM51.1 71.2h0.9v0.9h-0.9zM30.3 63.3h0.9v0.9h-0.9zM47.7 78.0h0.9v0.9h-0.9zM30.1 84.8h0.9v0.9h-0.9zM48.7 74.1h0.9v0.9h-0.9zM44.8 81.8h0.9v0.9h-0.9zM46.0 64.3h0.9v0.9h-0.9zM43.6 76.2h0.9v0.9h-0.9zM47.8 70.2h0.9v0.9h-0.9zM47.8 61.8h0.9v0.9h-0.9zM36.5 53.2h0.9v0.9h-0.9zM46.0 72.5h0.9v0.9h-0.9zM49.6 81.5h0.9v0.9h-0.9zM41.9 77.0h0.9v0.9h-0.9zM42.2 65.3h0.9v0.9h-0.9zM43.0 75.1h0.9v0.9h-0.9zM38.7 74.3h0.9v0.9h-0.9zM38.9 63.6h0.9v0.9h-0.9zM34.6 80.0h0.9v0.9h-0.9zM52.1 65.3h0.9v0.9h-0.9zM33.7 64.8h0.9v0.9h-0.9zM41.4 67.6h0.9v0.9h-0.9zM49.3 68.3h0.9v0.9h-0.9zM37.3 70.6h0.9v0.9h-0.9zM43.5 81.6h0.9v0.9h-0.9zM41.0 73.8h0.9v0.9h-0.9zM55.0 45.7h0.9v0.9h-0.9zM53.8 57.4h0.9v0.9h-0.9zM51.5 62.5h0.9v0.9h-0.9zM52.8 62.4h0.9v0.9h-0.9zM59.2 57.0h0.9v0.9h-0.9zM60.5 64.3h0.9v0.9h-0.9zM45.7 55.6h0.9v0.9h-0.9zM49.8 55.1h0.9v0.9h-0.9zM36.5 58.5h0.9v0.9h-0.9zM57.3 53.9h0.9v0.9h-0.9zM53.1 54.5h0.9v0.9h-0.9zM60.5 52.1h0.9v0.9h-0.9zM74.5 56.7h0.9v0.9h-0.9zM84.9 51.9h0.9v0.9h-0.9zM57.5 64.1h0.9v0.9h-0.9zM56.0 58.7h0.9v0.9h-0.9zM71.3 58.2h0.9v0.9h-0.9zM64.0 51.9h0.9v0.9h-0.9zM55.9 57.8h0.9v0.9h-0.9zM52.5 55.2h0.9v0.9h-0.9zM83.5 61.7h0.9v0.9h-0.9zM62.3 56.6h0.9v0.9h-0.9zM100.1 49.0h0.9v0.9h-0.9zM95.8 52.9h0.9v0.9h-0.9zM87.3 57.8h0.9v0.9h-0.9zM89.2 54.0h0.9v0.9h-0.9zM105.6 54.1h0.9v0.9h-0.9zM89.2 58.0h0.9v0.9h-0.9zM100.1 54.4h0.9v0.9h-0.9zM97.2 53.9h0.9v0.9h-0.9zM103.8 56.2h0.9v0.9h-0.9zM88.6 51.2h0.9v0.9h-0.9zM46.3 61.4h0.9v0.9h-0.9zM64.2 73.5h0.9v0.9h-0.9zM69.3 95.8h0.9v0.9h-0.9zM54.9 82.7h0.9v0.9h-0.9zM64.0 62.8h0.9v0.9h-0.9zM42.0 75.7h0.9v0.9h-0.9zM72.2 90.6h0.9v0.9h-0.9zM64.8 78.7h0.9v0.9h-0.9zM45.3 94.7h0.9v0.9h-0.9zM45.7 86.2h0.9v0.9h-0.9zM55.3 76.3h0.9v0.9h-0.9zM72.7 72.0h0.9v0.9h-0.9zM59.0 77.0h0.9v0.9h-0.9zM66.5 77.3h0.9v0.9h-0.9zM60.2 78.1h0.9v0.9h-0.9zM87.2 80.2h0.9v0.9h-0.9zM43.3 76.1h0.9v0.9h-0.9zM57.4 66.7h0.9v0.9h-0.9zM40.3 87.1h0.9v0.9h-0.9zM49.1 88.7h0.9v0.9h-0.9zM64.4 90.6h0.9v0.9h-0.9zM38.0 84.5h0.9v0.9h-0.9zM33.9 96.0h0.9v0.9h-0.9zM49.9 84.3h0.9v0.9h-0.9zM44.9 76.8h0.9v0.9h-0.9zM28.8 98.4h0.9v0.9h-0.9zM59.0 87.0h0.9v0.9h-0.9zM66.7 86.4h0.9v0.9h-0.9zM70.5 78.9h0.9v0.9h-0.9zM56.5 71.7h0.9v0.9h-0.9zM49.5 90.2h0.9v0.9h-0.9zM59.8 61.9h0.9v0.9h-0.9zM37.8 46.8h0.9v0.9h-0.9zM39.0 97.4h0.9v0.9h-0.9zM56.2 65.6h0.9v0.9h-0.9zM54.8 51.4h0.9v0.9h-0.9zM46.1 98.7h0.9v0.9h-0.9zM28.5 98.3h0.9v0.9h-0.9zM60.5 50.6h0.9v0.9h-0.9zM61.8 87.4h0.9v0.9h-0.9zM28.5 84.9h0.9v0.9h-0.9zM44.9 74.7h0.9v0.9h-0.9zM37.6 86.8h0.9v0.9h-0.9zM49.7 89.7h0.9v0.9h-0.9zM39.7 67.9h0.9v0.9h-0.9zM37.0 72.1h0.9v0.9h-0.9zM31.0 79.2h0.9v0.9h-0.9zM47.6 69.6h0.9v0.9h-0.9zM60.3 64.3h0.9v0.9h-0.9zM35.9 78.8h0.9v0.9h-0.9zM43.6 68.2h0.9v0.9h-0.9zM43.1 75.5h0.9v0.9h-0.9zM35.7 62.3h0.9v0.9h-0.9zM42.0 59.6h0.9v0.9h-0.9zM55.2 100.8h0.9v0.9h-0.9zM49.0 82.8h0.9v0.9h-0.9zM27.6 63.8h0.9v0.9h-0.9zM31.7 55.2h0.9v0.9h-0.9zM54.6 78.1h0.9v0.9h-0.9zM53.7 84.8h0.9v0.9h-0.9zM57.2 88.6h0.9v0.9h-0.9zM41.4 77.2h0.9v0.9h-0.9zM45.6 89.1h0.9v0.9h-0.9zM39.7 95.4h0.9v0.9h-0.9zM95.3 65.6h0.9v0.9h-0.9zM55.8 100.6h0.9v0.9h-0.9zM49.7 47.3h0.9v0.9h-0.9zM78.1 54.8h0.9v0.9h-0.9zM36.3 92.9h0.9v0.9h-0.9zM71.4 99.5h0.9v0.9h-0.9zM105.4 58.8h0.9v0.9h-0.9zM107.5 97.7h0.9v0.9h-0.9zM74.7 52.5h0.9v0.9h-0.9zM41.5 44.3h0.9v0.9h-0.9zM108.8 62.8h0.9v0.9h-0.9zM82.6 65.5h0.9v0.9h-0.9zM79.3 86.8h0.9v0.9h-0.9zM104.2 82.8h0.9v0.9h-0.9zM48.8 89.2h0.9v0.9h-0.9zM63.4 101.4h0.9v0.9h-0.9zM55.3 64.2h0.9v0.9h-0.9zM96.9 92.1h0.9v0.9h-0.9zM107.0 48.8h0.9v0.9h-0.9zM85.3 95.5h0.9v0.9h-0.9zM44.1 37.6h0.9v0.9h-0.9z" fill="#000" fill-opacity="0.5"/>
<path d="M35.3 92.3h0.9v0.9h-0.9zM44.6 93.7h0.9v0.9h-0.9zM42.5 94.2h0.9v0.9h-0.9zM44.9 86.1h0.9v0.9h-0.9zM37.6 92.8h0.9v0.9h-0.9zM45.8 81.1h0.9v0.9h-0.9zM38.6 92.7h0.9v0.9h-0.9zM43.7 89.3h0.9v0.9h-0.9zM40.9 90.3h0.9v0.9h-0.9zM41.4 88.4h0.9v0.9h-0.9zM46.9 82.6h0.9v0.9h-0.9zM46.1 87.6h0.9v0.9h-0.9zM42.3 83.9h0.9v0.9h-0.9zM47.1 94.9h0.9v0.9h-0.9zM42.3 92.2h0.9v0.9h-0.9zM41.5 88.6h0.9v0.9h-0.9zM42.3 92.1h0.9v0.9h-0.9zM39.6 80.5h0.9v0.9h-0.9zM46.1 94.2h0.9v0.9h-0.9zM43.5 92.2h0.9v0.9h-0.9zM49.4 90.5h0.9v0.9h-0.9zM51.2 93.1h0.9v0.9h-0.9zM44.2 90.3h0.9v0.9h-0.9zM44.1 93.1h0.9v0.9h-0.9zM39.1 90.9h0.9v0.9h-0.9zM44.8 92.5h0.9v0.9h-0.9zM45.6 88.8h0.9v0.9h-0.9zM44.7 88.5h0.9v0.9h-0.9zM34.6 84.2h0.9v0.9h-0.9zM44.4 82.0h0.9v0.9h-0.9zM36.0 89.5h0.9v0.9h-0.9zM40.7 85.6h0.9v0.9h-0.9zM44.8 98.5h0.9v0.9h-0.9zM47.2 88.8h0.9v0.9h-0.9zM39.4 91.7h0.9v0.9h-0.9zM35.0 96.2h0.9v0.9h-0.9zM44.3 87.7h0.9v0.9h-0.9zM39.3 88.8h0.9v0.9h-0.9zM37.9 91.3h0.9v0.9h-0.9zM50.1 86.4h0.9v0.9h-0.9zM44.2 90.2h0.9v0.9h-0.9zM44.5 91.0h0.9v0.9h-0.9zM45.9 85.5h0.9v0.9h-0.9zM40.0 92.4h0.9v0.9h-0.9zM39.6 88.8h0.9v0.9h-0.9zM40.7 74.2h0.9v0.9h-0.9zM44.4 88.1h0.9v0.9h-0.9zM35.8 92.8h0.9v0.9h-0.9zM40.9 91.8h0.9v0.9h-0.9zM44.7 87.5h0.9v0.9h-0.9zM47.5 89.8h0.9v0.9h-0.9zM42.2 80.6h0.9v0.9h-0.9zM31.9 96.7h0.9v0.9h-0.9zM47.8 87.8h0.9v0.9h-0.9zM42.1 94.4h0.9v0.9h-0.9zM41.1 87.3h0.9v0.9h-0.9zM41.9 85.9h0.9v0.9h-0.9zM38.9 92.3h0.9v0.9h-0.9zM46.0 86.8h0.9v0.9h-0.9zM44.6 90.9h0.9v0.9h-0.9zM36.8 91.5h0.9v0.9h-0.9zM46.1 91.2h0.9v0.9h-0.9zM41.4 81.0h0.9v0.9h-0.9zM43.2 86.6h0.9v0.9h-0.9zM46.2 92.1h0.9v0.9h-0.9zM37.7 94.2h0.9v0.9h-0.9zM39.0 85.7h0.9v0.9h-0.9zM38.9 85.4h0.9v0.9h-0.9zM39.5 85.1h0.9v0.9h-0.9zM44.1 94.2h0.9v0.9h-0.9zM42.1 84.1h0.9v0.9h-0.9zM41.7 94.7h0.9v0.9h-0.9zM37.9 84.0h0.9v0.9h-0.9zM42.9 89.5h0.9v0.9h-0.9zM46.0 80.7h0.9v0.9h-0.9zM43.8 89.8h0.9v0.9h-0.9zM46.6 89.5h0.9v0.9h-0.9zM47.2 88.8h0.9v0.9h-0.9zM48.8 92.3h0.9v0.9h-0.9zM36.0 94.7h0.9v0.9h-0.9zM43.1 83.2h0.9v0.9h-0.9zM41.0 91.1h0.9v0.9h-0.9zM41.5 89.4h0.9v0.9h-0.9zM39.6 90.1h0.9v0.9h-0.9zM40.1 86.4h0.9v0.9h-0.9zM46.2 94.9h0.9v0.9h-0.9zM36.7 93.2h0.9v0.9h-0.9zM50.5 85.5h0.9v0.9h-0.9zM36.4 89.6h0.9v0.9h-0.9zM39.7 95.6h0.9v0.9h-0.9zM60.0 89.7h0.9v0.9h-0.9zM34.8 76.3h0.9v0.9h-0.9zM38.4 89.3h0.9v0.9h-0.9zM35.6 81.4h0.9v0.9h-0.9zM30.1 86.7h0.9v0.9h-0.9zM39.4 96.9h0.9v0.9h-0.9zM50.7 83.6h0.9v0.9h-0.9zM38.4 83.2h0.9v0.9h-0.9zM45.8 80.5h0.9v0.9h-0.9zM53.2 88.8h0.9v0.9h-0.9zM41.9 85.8h0.9v0.9h-0.9zM36.0 94.9h0.9v0.9h-0.9zM60.4 95.1h0.9v0.9h-0.9zM44.4 83.5h0.9v0.9h-0.9zM35.9 75.1h0.9v0.9h-0.9zM44.4 81.4h0.9v0.9h-0.9zM36.3 95.0h0.9v0.9h-0.9zM63.8 92.7h0.9v0.9h-0.9zM44.3 89.6h0.9v0.9h-0.9zM38.3 89.7h0.9v0.9h-0.9zM46.1 89.8h0.9v0.9h-0.9zM41.8 87.6h0.9v0.9h-0.9zM45.9 81.8h0.9v0.9h-0.9zM46.4 95.2h0.9v0.9h-0.9zM47.2 91.6h0.9v0.9h-0.9zM46.6 86.1h0.9v0.9h-0.9zM45.9 80.4h0.9v0.9h-0.9zM46.2 84.8h0.9v0.9h-0.9zM37.4 97.9h0.9v0.9h-0.9zM42.3 100.7h0.9v0.9h-0.9zM33.8 88.8h0.9v0.9h-0.9zM47.0 81.7h0.9v0.9h-0.9zM42.3 95.4h0.9v0.9h-0.9zM43.7 87.3h0.9v0.9h-0.9zM50.6 86.3h0.9v0.9h-0.9zM32.9 84.4h0.9v0.9h-0.9zM45.7 84.8h0.9v0.9h-0.9zM53.7 85.8h0.9v0.9h-0.9zM45.5 86.7h0.9v0.9h-0.9zM35.2 93.8h0.9v0.9h-0.9zM49.9 78.0h0.9v0.9h-0.9zM36.2 95.4h0.9v0.9h-0.9zM48.9 88.4h0.9v0.9h-0.9zM45.6 93.0h0.9v0.9h-0.9zM47.5 81.2h0.9v0.9h-0.9zM29.0 86.8h0.9v0.9h-0.9zM35.5 90.5h0.9v0.9h-0.9zM42.6 95.1h0.9v0.9h-0.9zM35.4 87.1h0.9v0.9h-0.9zM47.1 91.4h0.9v0.9h-0.9zM40.8 83.6h0.9v0.9h-0.9zM36.6 86.2h0.9v0.9h-0.9zM50.3 96.0h0.9v0.9h-0.9zM40.6 83.8h0.9v0.9h-0.9zM48.3 89.9h0.9v0.9h-0.9zM48.3 81.3h0.9v0.9h-0.9zM52.3 84.2h0.9v0.9h-0.9zM41.7 96.8h0.9v0.9h-0.9zM34.5 87.8h0.9v0.9h-0.9zM46.8 92.1h0.9v0.9h-0.9zM54.3 88.0h0.9v0.9h-0.9zM39.2 84.4h0.9v0.9h-0.9zM40.2 92.2h0.9v0.9h-0.9zM33.8 88.8h0.9v0.9h-0.9zM44.0 81.7h0.9v0.9h-0.9zM43.3 91.1h0.9v0.9h-0.9zM50.2 86.3h0.9v0.9h-0.9zM35.7 85.9h0.9v0.9h-0.9zM48.9 93.7h0.9v0.9h-0.9zM38.9 91.0h0.9v0.9h-0.9zM50.0 82.6h0.9v0.9h-0.9zM41.9 86.6h0.9v0.9h-0.9zM52.2 96.1h0.9v0.9h-0.9zM27.7 88.4h0.9v0.9h-0.9zM40.5 87.5h0.9v0.9h-0.9zM41.1 96.2h0.9v0.9h-0.9zM52.4 84.7h0.9v0.9h-0.9zM40.0 91.4h0.9v0.9h-0.9zM50.7 84.4h0.9v0.9h-0.9zM40.9 84.1h0.9v0.9h-0.9zM45.7 96.1h0.9v0.9h-0.9zM38.0 95.1h0.9v0.9h-0.9zM42.6 85.7h0.9v0.9h-0.9zM45.1 70.5h0.9v0.9h-0.9zM50.2 91.4h0.9v0.9h-0.9zM38.0 83.9h0.9v0.9h-0.9zM51.8 85.4h0.9v0.9h-0.9zM42.4 76.2h0.9v0.9h-0.9zM57.6 72.3h0.9v0.9h-0.9zM39.2 75.2h0.9v0.9h-0.9zM48.4 93.7h0.9v0.9h-0.9zM41.7 92.6h0.9v0.9h-0.9zM50.4 81.0h0.9v0.9h-0.9zM43.4 91.6h0.9v0.9h-0.9zM42.0 82.1h0.9v0.9h-0.9zM43.0 92.1h0.9v0.9h-0.9zM32.3 97.0h0.9v0.9h-0.9zM42.5 84.7h0.9v0.9h-0.9zM39.9 92.9h0.9v0.9h-0.9zM33.6 93.7h0.9v0.9h-0.9zM34.0 87.3h0.9v0.9h-0.9zM36.6 79.0h0.9v0.9h-0.9zM52.5 91.9h0.9v0.9h-0.9zM41.4 93.6h0.9v0.9h-0.9zM35.5 87.0h0.9v0.9h-0.9zM39.7 65.3h0.9v0.9h-0.9zM49.2 53.5h0.9v0.9h-0.9zM32.9 60.2h0.9v0.9h-0.9zM46.6 54.2h0.9v0.9h-0.9zM40.1 54.3h0.9v0.9h-0.9zM34.6 52.9h0.9v0.9h-0.9zM37.8 61.2h0.9v0.9h-0.9zM49.5 60.6h0.9v0.9h-0.9zM44.0 54.8h0.9v0.9h-0.9zM27.2 56.4h0.9v0.9h-0.9zM43.7 55.2h0.9v0.9h-0.9zM44.3 51.3h0.9v0.9h-0.9zM32.4 68.4h0.9v0.9h-0.9zM39.1 58.9h0.9v0.9h-0.9zM45.4 53.4h0.9v0.9h-0.9zM37.3 49.3h0.9v0.9h-0.9zM49.4 56.7h0.9v0.9h-0.9zM39.3 51.4h0.9v0.9h-0.9zM35.2 60.1h0.9v0.9h-0.9zM48.4 60.3h0.9v0.9h-0.9zM48.2 53.3h0.9v0.9h-0.9zM55.2 53.4h0.9v0.9h-0.9zM45.0 49.4h0.9v0.9h-0.9zM41.2 53.4h0.9v0.9h-0.9zM36.2 59.5h0.9v0.9h-0.9zM41.6 52.5h0.9v0.9h-0.9zM49.3 59.2h0.9v0.9h-0.9zM37.8 60.7h0.9v0.9h-0.9zM37.1 50.8h0.9v0.9h-0.9zM33.2 48.2h0.9v0.9h-0.9zM43.6 52.0h0.9v0.9h-0.9zM45.2 58.8h0.9v0.9h-0.9zM39.3 57.3h0.9v0.9h-0.9zM37.9 56.9h0.9v0.9h-0.9zM43.3 60.2h0.9v0.9h-0.9zM40.9 61.2h0.9v0.9h-0.9zM51.8 51.8h0.9v0.9h-0.9zM40.8 51.6h0.9v0.9h-0.9zM46.9 58.4h0.9v0.9h-0.9zM34.5 50.6h0.9v0.9h-0.9zM39.5 55.5h0.9v0.9h-0.9zM42.4 68.0h0.9v0.9h-0.9zM45.7 61.6h0.9v0.9h-0.9zM36.1 55.3h0.9v0.9h-0.9zM39.7 58.3h0.9v0.9h-0.9zM38.2 50.2h0.9v0.9h-0.9zM28.8 60.8h0.9v0.9h-0.9zM52.8 42.8h0.9v0.9h-0.9zM51.5 62.2h0.9v0.9h-0.9zM38.1 67.1h0.9v0.9h-0.9zM42.8 60.2h0.9v0.9h-0.9zM51.7 55.0h0.9v0.9h-0.9zM43.8 53.3h0.9v0.9h-0.9zM48.1 56.0h0.9v0.9h-0.9zM38.2 56.1h0.9v0.9h-0.9zM34.8 48.4h0.9v0.9h-0.9zM36.6 60.8h0.9v0.9h-0.9zM44.6 53.9h0.9v0.9h-0.9zM41.9 57.2h0.9v0.9h-0.9zM45.6 52.8h0.9v0.9h-0.9zM33.1 60.9h0.9v0.9h-0.9zM35.9 62.7h0.9v0.9h-0.9zM43.7 58.7h0.9v0.9h-0.9zM48.0 54.7h0.9v0.9h-0.9zM45.3 59.0h0.9v0.9h-0.9zM31.4 55.4h0.9v0.9h-0.9zM42.3 61.8h0.9v0.9h-0.9zM45.1 57.1h0.9v0.9h-0.9zM29.6 65.9h0.9v0.9h-0.9zM37.7 54.7h0.9v0.9h-0.9zM53.5 64.2h0.9v0.9h-0.9zM40.5 65.3h0.9v0.9h-0.9zM49.0 60.2h0.9v0.9h-0.9zM41.1 61.7h0.9v0.9h-0.9zM44.2 59.5h0.9v0.9h-0.9zM54.2 52.2h0.9v0.9h-0.9zM39.1 53.4h0.9v0.9h-0.9zM49.1 55.7h0.9v0.9h-0.9zM41.7 54.9h0.9v0.9h-0.9zM41.2 61.4h0.9v0.9h-0.9zM40.1 58.4h0.9v0.9h-0.9zM47.4 56.8h0.9v0.9h-0.9zM37.3 58.8h0.9v0.9h-0.9zM38.4 55.8h0.9v0.9h-0.9zM38.2 60.9h0.9v0.9h-0.9zM38.1 57.2h0.9v0.9h-0.9zM37.5 56.1h0.9v0.9h-0.9zM40.1 57.1h0.9v0.9h-0.9zM42.4 58.9h0.9v0.9h-0.9zM41.9 50.5h0.9v0.9h-0.9zM37.3 58.4h0.9v0.9h-0.9zM35.5 52.6h0.9v0.9h-0.9zM43.0 52.2h0.9v0.9h-0.9zM43.5 57.5h0.9v0.9h-0.9zM38.7 49.0h0.9v0.9h-0.9zM44.6 55.0h0.9v0.9h-0.9zM38.1 55.6h0.9v0.9h-0.9zM36.7 73.2h0.9v0.9h-0.9zM45.9 72.8h0.9v0.9h-0.9zM38.4 74.4h0.9v0.9h-0.9zM44.7 75.5h0.9v0.9h-0.9zM43.5 76.7h0.9v0.9h-0.9zM53.1 65.8h0.9v0.9h-0.9zM33.2 65.8h0.9v0.9h-0.9zM37.8 85.8h0.9v0.9h-0.9zM36.6 67.1h0.9v0.9h-0.9zM41.3 65.8h0.9v0.9h-0.9zM39.0 72.8h0.9v0.9h-0.9zM52.0 81.1h0.9v0.9h-0.9zM40.1 76.6h0.9v0.9h-0.9zM52.8 83.5h0.9v0.9h-0.9zM35.1 73.9h0.9v0.9h-0.9zM37.0 69.7h0.9v0.9h-0.9zM36.8 81.4h0.9v0.9h-0.9zM51.0 71.3h0.9v0.9h-0.9zM46.9 87.4h0.9v0.9h-0.9zM41.6 77.1h0.9v0.9h-0.9zM43.9 76.3h0.9v0.9h-0.9zM44.0 66.0h0.9v0.9h-0.9zM46.7 76.0h0.9v0.9h-0.9zM44.9 73.3h0.9v0.9h-0.9zM40.6 68.7h0.9v0.9h-0.9zM38.8 74.2h0.9v0.9h-0.9zM38.7 72.8h0.9v0.9h-0.9zM36.7 83.3h0.9v0.9h-0.9zM35.5 81.2h0.9v0.9h-0.9zM44.4 82.3h0.9v0.9h-0.9zM43.2 58.1h0.9v0.9h-0.9zM38.8 78.0h0.9v0.9h-0.9zM49.1 69.4h0.9v0.9h-0.9zM78.4 47.8h0.9v0.9h-0.9zM63.9 51.2h0.9v0.9h-0.9zM55.6 53.7h0.9v0.9h-0.9zM48.6 52.4h0.9v0.9h-0.9zM69.3 47.3h0.9v0.9h-0.9zM75.1 59.0h0.9v0.9h-0.9zM42.7 63.2h0.9v0.9h-0.9zM49.2 64.5h0.9v0.9h-0.9zM45.9 61.8h0.9v0.9h-0.9zM55.5 54.0h0.9v0.9h-0.9zM37.3 59.3h0.9v0.9h-0.9zM67.0 53.4h0.9v0.9h-0.9zM67.0 56.8h0.9v0.9h-0.9zM60.9 52.4h0.9v0.9h-0.9zM67.2 52.7h0.9v0.9h-0.9zM48.9 62.6h0.9v0.9h-0.9zM51.4 51.7h0.9v0.9h-0.9zM78.0 49.3h0.9v0.9h-0.9zM69.5 62.0h0.9v0.9h-0.9zM64.3 51.8h0.9v0.9h-0.9zM65.1 54.8h0.9v0.9h-0.9zM58.8 58.1h0.9v0.9h-0.9zM98.9 56.7h0.9v0.9h-0.9zM83.1 48.9h0.9v0.9h-0.9zM91.0 54.8h0.9v0.9h-0.9zM84.8 52.5h0.9v0.9h-0.9zM99.2 51.1h0.9v0.9h-0.9zM93.0 51.6h0.9v0.9h-0.9zM88.1 52.8h0.9v0.9h-0.9zM88.9 48.0h0.9v0.9h-0.9zM76.5 52.8h0.9v0.9h-0.9zM77.1 54.5h0.9v0.9h-0.9zM45.5 70.1h0.9v0.9h-0.9zM59.2 66.7h0.9v0.9h-0.9zM40.2 100.5h0.9v0.9h-0.9zM75.4 91.1h0.9v0.9h-0.9zM27.1 73.2h0.9v0.9h-0.9zM68.9 74.9h0.9v0.9h-0.9zM59.4 71.6h0.9v0.9h-0.9zM70.6 86.1h0.9v0.9h-0.9zM65.8 79.8h0.9v0.9h-0.9zM50.7 77.0h0.9v0.9h-0.9zM72.1 67.7h0.9v0.9h-0.9zM58.9 79.9h0.9v0.9h-0.9zM56.0 77.1h0.9v0.9h-0.9zM39.3 78.8h0.9v0.9h-0.9zM50.5 86.1h0.9v0.9h-0.9zM58.3 75.2h0.9v0.9h-0.9zM54.8 95.0h0.9v0.9h-0.9zM58.8 73.5h0.9v0.9h-0.9zM69.3 82.1h0.9v0.9h-0.9zM70.0 67.1h0.9v0.9h-0.9zM73.3 79.2h0.9v0.9h-0.9zM84.6 66.3h0.9v0.9h-0.9zM61.1 99.5h0.9v0.9h-0.9zM72.6 86.1h0.9v0.9h-0.9zM63.9 82.3h0.9v0.9h-0.9zM60.8 70.8h0.9v0.9h-0.9zM62.0 67.9h0.9v0.9h-0.9zM72.3 81.1h0.9v0.9h-0.9zM57.3 79.9h0.9v0.9h-0.9zM54.5 80.1h0.9v0.9h-0.9zM67.2 86.3h0.9v0.9h-0.9zM53.2 85.0h0.9v0.9h-0.9zM58.5 61.2h0.9v0.9h-0.9zM54.7 77.5h0.9v0.9h-0.9zM44.4 83.3h0.9v0.9h-0.9zM48.8 94.2h0.9v0.9h-0.9zM31.1 93.5h0.9v0.9h-0.9zM40.5 91.0h0.9v0.9h-0.9zM51.6 86.7h0.9v0.9h-0.9zM34.3 54.2h0.9v0.9h-0.9zM44.3 73.5h0.9v0.9h-0.9zM61.6 58.1h0.9v0.9h-0.9zM34.2 77.1h0.9v0.9h-0.9zM45.1 77.5h0.9v0.9h-0.9zM41.9 66.8h0.9v0.9h-0.9zM38.3 49.3h0.9v0.9h-0.9zM61.5 86.0h0.9v0.9h-0.9zM35.7 98.0h0.9v0.9h-0.9zM48.2 52.2h0.9v0.9h-0.9zM36.6 89.8h0.9v0.9h-0.9zM54.1 96.6h0.9v0.9h-0.9zM34.2 55.9h0.9v0.9h-0.9zM36.8 65.4h0.9v0.9h-0.9zM61.4 88.2h0.9v0.9h-0.9zM49.5 84.2h0.9v0.9h-0.9zM44.9 56.1h0.9v0.9h-0.9zM32.0 79.7h0.9v0.9h-0.9zM41.1 53.1h0.9v0.9h-0.9zM31.1 60.3h0.9v0.9h-0.9zM40.0 65.2h0.9v0.9h-0.9zM46.4 66.3h0.9v0.9h-0.9zM30.1 97.5h0.9v0.9h-0.9zM32.5 75.5h0.9v0.9h-0.9zM83.8 70.1h0.9v0.9h-0.9zM30.8 51.1h0.9v0.9h-0.9zM106.4 86.1h0.9v0.9h-0.9zM70.8 61.4h0.9v0.9h-0.9zM98.4 95.0h0.9v0.9h-0.9zM55.1 96.7h0.9v0.9h-0.9zM48.0 45.5h0.9v0.9h-0.9zM57.5 77.7h0.9v0.9h-0.9zM71.2 59.9h0.9v0.9h-0.9zM103.5 69.5h0.9v0.9h-0.9zM89.6 78.7h0.9v0.9h-0.9zM53.2 71.6h0.9v0.9h-0.9zM37.6 79.5h0.9v0.9h-0.9zM47.6 84.0h0.9v0.9h-0.9zM27.1 48.1h0.9v0.9h-0.9zM27.3 58.5h0.9v0.9h-0.9zM103.3 97.2h0.9v0.9h-0.9zM32.6 100.7h0.9v0.9h-0.9zM69.8 57.6h0.9v0.9h-0.9zM89.3 57.1h0.9v0.9h-0.9zM52.7 93.2h0.9v0.9h-0.9zM95.5 35.2h0.9v0.9h-0.9z" fill="#000" fill-opacity="0.5"/>
<path d="M44.4 90.8h0.9v0.9h-0.9zM39.7 85.6h0.9v0.9h-0.9zM33.8 87.3h0.9v0.9h-0.9zM40.4 83.4h0.9v0.9h-0.9zM46.9 89.4h0.9v0.9h-0.9zM41.5 93.0h0.9v0.9h-0.9zM48.5 86.8h0.9v0.9h-0.9zM42.9 91.1h0.9v0.9h-0.9zM50.0 77.9h0.9v0.9h-0.9zM30.8 86.7h0.9v0.9h-0.9zM45.2 82.4h0.9v0.9h-0.9zM42.9 91.7h0.9v0.9h-0.9zM45.5 95.4h0.9v0.9h-0.9zM48.4 87.9h0.9v0.9h-0.9zM42.6 94.3h0.9v0.9h-0.9zM39.8 89.7h0.9v0.9h-0.9zM43.0 83.7h0.9v0.9h-0.9zM45.3 87.5h0.9v0.9h-0.9zM41.1 86.7h0.9v0.9h-0.9zM42.2 87.9h0.9v0.9h-0.9zM42.0 90.9h0.9v0.9h-0.9zM37.3 83.1h0.9v0.9h-0.9zM45.0 89.6h0.9v0.9h-0.9zM44.1 87.9h0.9v0.9h-0.9zM44.4 89.4h0.9v0.9h-0.9zM41.4 99.4h0.9v0.9h-0.9zM45.9 91.0h0.9v0.9h-0.9zM41.3 82.7h0.9v0.9h-0.9zM39.7 82.8h0.9v0.9h-0.9zM37.1 88.6h0.9v0.9h-0.9zM42.9 82.9h0.9v0.9h-0.9zM37.6 88.2h0.9v0.9h-0.9zM43.7 94.1h0.9v0.9h-0.9zM38.9 89.8h0.9v0.9h-0.9zM47.9 88.7h0.9v0.9h-0.9zM48.0 83.6h0.9v0.9h-0.9zM38.5 89.4h0.9v0.9h-0.9zM54.0 80.9h0.9v0.9h-0.9zM39.6 91.4h0.9v0.9h-0.9zM42.9 88.1h0.9v0.9h-0.9zM36.0 87.8h0.9v0.9h-0.9zM38.0 83.8h0.9v0.9h-0.9zM42.6 91.8h0.9v0.9h-0.9zM41.2 86.2h0.9v0.9h-0.9zM43.0 93.0h0.9v0.9h-0.9zM45.7 87.1h0.9v0.9h-0.9zM45.1 88.1h0.9v0.9h-0.9zM42.4 87.5h0.9v0.9h-0.9zM49.3 88.9h0.9v0.9h-0.9zM44.5 82.2h0.9v0.9h-0.9zM36.9 99.2h0.9v0.9h-0.9zM41.2 86.9h0.9v0.9h-0.9zM39.3 88.6h0.9v0.9h-0.9zM46.0 87.0h0.9v0.9h-0.9zM40.7 86.4h0.9v0.9h-0.9zM45.6 94.2h0.9v0.9h-0.9zM51.3 89.0h0.9v0.9h-0.9zM44.4 91.4h0.9v0.9h-0.9zM47.1 85.4h0.9v0.9h-0.9zM40.9 79.9h0.9v0.9h-0.9zM38.0 90.2h0.9v0.9h-0.9zM41.1 88.6h0.9v0.9h-0.9zM46.4 99.8h0.9v0.9h-0.9zM32.9 88.6h0.9v0.9h-0.9zM39.7 85.7h0.9v0.9h-0.9zM39.9 89.6h0.9v0.9h-0.9zM33.4 88.0h0.9v0.9h-0.9zM48.8 96.1h0.9v0.9h-0.9zM48.6 86.1h0.9v0.9h-0.9zM36.3 88.4h0.9v0.9h-0.9zM42.6 90.7h0.9v0.9h-0.9zM45.2 88.1h0.9v0.9h-0.9zM36.4 78.6h0.9v0.9h-0.9zM49.9 94.7h0.9v0.9h-0.9zM50.0 92.1h0.9v0.9h-0.9zM42.4 85.9h0.9v0.9h-0.9zM35.6 91.5h0.9v0.9h-0.9zM34.8 89.1h0.9v0.9h-0.9zM39.9 81.7h0.9v0.9h-0.9zM42.8 93.3h0.9v0.9h-0.9zM45.6 92.0h0.9v0.9h-0.9zM49.0 87.6h0.9v0.9h-0.9zM36.3 93.1h0.9v0.9h-0.9zM40.8 80.2h0.9v0.9h-0.9zM38.2 90.8h0.9v0.9h-0.9zM47.0 86.8h0.9v0.9h-0.9zM51.0 97.1h0.9v0.9h-0.9zM44.8 100.1h0.9v0.9h-0.9zM38.7 87.5h0.9v0.9h-0.9zM33.1 92.6h0.9v0.9h-0.9zM39.3 84.3h0.9v0.9h-0.9zM45.6 76.2h0.9v0.9h-0.9zM33.9 88.9h0.9v0.9h-0.9zM52.0 90.1h0.9v0.9h-0.9zM44.2 95.3h0.9v0.9h-0.9zM34.0 79.8h0.9v0.9h-0.9zM34.8 82.3h0.9v0.9h-0.9zM47.9 78.1h0.9v0.9h-0.9zM49.1 85.0h0.9v0.9h-0.9zM55.8 100.4h0.9v0.9h-0.9zM34.5 81.0h0.9v0.9h-0.9zM32.3 92.2h0.9v0.9h-0.9zM38.4 76.7h0.9v0.9h-0.9zM47.9 88.6h0.9v0.9h-0.9zM40.6 90.8h0.9v0.9h-0.9zM53.4 94.8h0.9v0.9h-0.9zM35.2 93.1h0.9v0.9h-0.9zM47.8 82.8h0.9v0.9h-0.9zM28.7 83.8h0.9v0.9h-0.9zM64.1 84.1h0.9v0.9h-0.9zM42.8 72.9h0.9v0.9h-0.9zM41.3 84.2h0.9v0.9h-0.9zM39.5 85.9h0.9v0.9h-0.9zM35.8 101.5h0.9v0.9h-0.9zM44.3 87.1h0.9v0.9h-0.9zM38.8 86.9h0.9v0.9h-0.9zM43.1 90.8h0.9v0.9h-0.9zM47.6 100.0h0.9v0.9h-0.9zM33.5 96.0h0.9v0.9h-0.9zM45.5 89.1h0.9v0.9h-0.9zM41.6 91.8h0.9v0.9h-0.9zM28.7 98.1h0.9v0.9h-0.9zM37.7 83.8h0.9v0.9h-0.9zM38.7 84.5h0.9v0.9h-0.9zM41.4 95.8h0.9v0.9h-0.9zM45.7 98.4h0.9v0.9h-0.9zM34.5 85.8h0.9v0.9h-0.9zM46.0 93.4h0.9v0.9h-0.9zM42.8 88.1h0.9v0.9h-0.9zM37.6 92.4h0.9v0.9h-0.9zM47.0 87.4h0.9v0.9h-0.9zM31.9 101.4h0.9v0.9h-0.9zM29.3 86.2h0.9v0.9h-0.9zM33.8 87.9h0.9v0.9h-0.9zM40.0 84.7h0.9v0.9h-0.9zM32.4 80.7h0.9v0.9h-0.9zM56.6 93.2h0.9v0.9h-0.9zM41.3 83.9h0.9v0.9h-0.9zM40.1 89.9h0.9v0.9h-0.9zM44.2 85.5h0.9v0.9h-0.9zM50.0 83.3h0.9v0.9h-0.9zM39.9 90.3h0.9v0.9h-0.9zM40.8 95.1h0.9v0.9h-0.9zM46.1 83.5h0.9v0.9h-0.9zM39.4 85.3h0.9v0.9h-0.9zM47.5 89.9h0.9v0.9h-0.9zM41.3 76.1h0.9v0.9h-0.9zM52.4 86.7h0.9v0.9h-0.9zM48.5 86.1h0.9v0.9h-0.9zM39.2 91.9h0.9v0.9h-0.9zM52.2 93.8h0.9v0.9h-0.9zM42.4 92.1h0.9v0.9h-0.9zM45.2 83.3h0.9v0.9h-0.9zM45.6 93.2h0.9v0.9h-0.9zM40.1 98.0h0.9v0.9h-0.9zM38.7 95.1h0.9v0.9h-0.9zM38.6 84.1h0.9v0.9h-0.9zM45.7 91.2h0.9v0.9h-0.9zM39.8 87.1h0.9v0.9h-0.9zM51.3 86.4h0.9v0.9h-0.9zM48.7 82.4h0.9v0.9h-0.9zM39.7 86.7h0.9v0.9h-0.9zM45.9 96.2h0.9v0.9h-0.9zM42.9 86.8h0.9v0.9h-0.9zM45.6 94.0h0.9v0.9h-0.9zM41.6 97.0h0.9v0.9h-0.9zM38.2 99.1h0.9v0.9h-0.9zM56.9 89.1h0.9v0.9h-0.9zM46.3 90.5h0.9v0.9h-0.9zM38.4 91.1h0.9v0.9h-0.9zM49.6 81.8h0.9v0.9h-0.9zM37.8 85.6h0.9v0.9h-0.9zM45.3 82.1h0.9v0.9h-0.9zM36.7 90.0h0.9v0.9h-0.9zM38.0 87.1h0.9v0.9h-0.9zM44.8 81.5h0.9v0.9h-0.9zM43.2 93.5h0.9v0.9h-0.9zM41.0 94.3h0.9v0.9h-0.9zM41.8 89.9h0.9v0.9h-0.9zM44.1 88.3h0.9v0.9h-0.9zM47.3 93.8h0.9v0.9h-0.9zM42.0 91.0h0.9v0.9h-0.9zM37.2 91.9h0.9v0.9h-0.9zM49.3 78.9h0.9v0.9h-0.9zM40.6 82.1h0.9v0.9h-0.9zM50.2 84.9h0.9v0.9h-0.9zM43.8 85.4h0.9v0.9h-0.9zM39.4 82.8h0.9v0.9h-0.9zM43.9 86.0h0.9v0.9h-0.9zM44.8 82.8h0.9v0.9h-0.9zM52.2 82.0h0.9v0.9h-0.9zM40.6 89.6h0.9v0.9h-0.9zM40.3 81.1h0.9v0.9h-0.9zM40.2 93.2h0.9v0.9h-0.9zM34.2 90.2h0.9v0.9h-0.9zM38.7 64.1h0.9v0.9h-0.9zM44.0 50.9h0.9v0.9h-0.9zM40.8 67.4h0.9v0.9h-0.9zM43.6 54.1h0.9v0.9h-0.9zM43.1 54.3h0.9v0.9h-0.9zM44.7 57.9h0.9v0.9h-0.9zM41.7 64.7h0.9v0.9h-0.9zM47.5 61.3h0.9v0.9h-0.9zM33.1 56.7h0.9v0.9h-0.9zM57.7 57.6h0.9v0.9h-0.9zM37.1 54.8h0.9v0.9h-0.9zM42.4 56.1h0.9v0.9h-0.9zM53.5 56.3h0.9v0.9h-0.9zM51.4 54.9h0.9v0.9h-0.9zM49.6 55.0h0.9v0.9h-0.9zM32.2 62.0h0.9v0.9h-0.9zM44.8 56.7h0.9v0.9h-0.9zM35.0 48.8h0.9v0.9h-0.9zM49.3 54.9h0.9v0.9h-0.9zM46.8 51.9h0.9v0.9h-0.9zM29.3 66.8h0.9v0.9h-0.9zM47.1 61.7h0.9v0.9h-0.9zM28.7 65.3h0.9v0.9h-0.9zM40.6 58.0h0.9v0.9h-0.9zM46.7 55.6h0.9v0.9h-0.9zM31.6 65.0h0.9v0.9h-0.9zM41.7 49.0h0.9v0.9h-0.9zM43.7 52.1h0.9v0.9h-0.9zM34.2 60.2h0.9v0.9h-0.9zM48.7 62.2h0.9v0.9h-0.9zM40.7 54.7h0.9v0.9h-0.9zM37.2 53.2h0.9v0.9h-0.9zM34.0 50.6h0.9v0.9h-0.9zM31.6 58.7h0.9v0.9h-0.9zM31.7 53.6h0.9v0.9h-0.9zM46.5 62.6h0.9v0.9h-0.9zM29.0 57.9h0.9v0.9h-0.9zM46.4 47.6h0.9v0.9h-0.9zM31.5 49.2h0.9v0.9h-0.9zM39.1 57.2h0.9v0.9h-0.9zM42.9 71.2h0.9v0.9h-0.9zM43.4 63.8h0.9v0.9h-0.9zM50.9 61.9h0.9v0.9h-0.9zM40.8 56.9h0.9v0.9h-0.9zM39.9 46.8h0.9v0.9h-0.9zM34.1 55.8h0.9v0.9h-0.9zM48.4 67.3h0.9v0.9h-0.9zM41.6 52.5h0.9v0.9h-0.9zM37.8 63.0h0.9v0.9h-0.9zM46.8 56.8h0.9v0.9h-0.9zM51.0 54.9h0.9v0.9h-0.9zM39.8 65.0h0.9v0.9h-0.9zM49.0 49.4h0.9v0.9h-0.9zM36.4 51.2h0.9v0.9h-0.9zM41.6 65.4h0.9v0.9h-0.9zM41.7 57.7h0.9v0.9h-0.9zM49.5 54.0h0.9v0.9h-0.9zM46.1 58.5h0.9v0.9h-0.9zM36.8 51.6h0.9v0.9h-0.9zM45.0 54.7h0.9v0.9h-0.9zM58.0 57.5h0.9v0.9h-0.9zM48.0 57.2h0.9v0.9h-0.9zM32.6 55.6h0.9v0.9h-0.9zM55.8 60.0h0.9v0.9h-0.9zM36.6 50.9h0.9v0.9h-0.9zM51.5 60.2h0.9v0.9h-0.9zM46.0 55.6h0.9v0.9h-0.9zM35.6 59.4h0.9v0.9h-0.9zM42.9 47.1h0.9v0.9h-0.9zM49.9 57.1h0.9v0.9h-0.9zM45.3 56.0h0.9v0.9h-0.9zM40.7 52.0h0.9v0.9h-0.9zM45.3 63.8h0.9v0.9h-0.9zM30.8 54.8h0.9v0.9h-0.9zM43.2 47.2h0.9v0.9h-0.9zM37.1 57.3h0.9v0.9h-0.9zM38.3 61.7h0.9v0.9h-0.9zM44.2 58.9h0.9v0.9h-0.9zM42.6 57.2h0.9v0.9h-0.9zM47.4 52.4h0.9v0.9h-0.9zM41.4 59.9h0.9v0.9h-0.9zM35.6 52.5h0.9v0.9h-0.9zM46.0 53.2h0.9v0.9h-0.9zM42.9 54.0h0.9v0.9h-0.9zM42.9 50.6h0.9v0.9h-0.9zM44.3 49.5h0.9v0.9h-0.9zM35.3 59.6h0.9v0.9h-0.9zM35.1 55.7h0.9v0.9h-0.9zM38.8 60.8h0.9v0.9h-0.9zM36.4 61.7h0.9v0.9h-0.9zM41.3 58.9h0.9v0.9h-0.9zM42.9 60.3h0.9v0.9h-0.9zM43.9 59.1h0.9v0.9h-0.9zM39.8 59.8h0.9v0.9h-0.9zM38.8 58.1h0.9v0.9h-0.9zM38.8 57.5h0.9v0.9h-0.9zM42.2 57.9h0.9v0.9h-0.9zM35.8 80.0h0.9v0.9h-0.9zM52.1 77.9h0.9v0.9h-0.9zM41.9 54.2h0.9v0.9h-0.9zM45.5 83.2h0.9v0.9h-0.9zM36.2 83.8h0.9v0.9h-0.9zM48.6 66.1h0.9v0.9h-0.9zM29.2 84.4h0.9v0.9h-0.9zM41.4 84.3h0.9v0.9h-0.9zM44.3 70.4h0.9v0.9h-0.9zM39.3 66.0h0.9v0.9h-0.9zM42.0 67.0h0.9v0.9h-0.9zM43.2 70.5h0.9v0.9h-0.9zM48.2 67.7h0.9v0.9h-0.9zM45.1 59.2h0.9v0.9h-0.9zM41.4 80.6h0.9v0.9h-0.9zM46.0 73.1h0.9v0.9h-0.9zM37.1 94.6h0.9v0.9h-0.9zM41.9 71.5h0.9v0.9h-0.9zM53.2 84.4h0.9v0.9h-0.9zM36.2 82.0h0.9v0.9h-0.9zM32.8 63.5h0.9v0.9h-0.9zM47.7 77.6h0.9v0.9h-0.9zM49.4 78.9h0.9v0.9h-0.9zM47.0 61.4h0.9v0.9h-0.9zM42.4 71.6h0.9v0.9h-0.9zM48.8 76.8h0.9v0.9h-0.9zM38.9 72.5h0.9v0.9h-0.9zM35.7 82.6h0.9v0.9h-0.9zM43.8 72.1h0.9v0.9h-0.9zM36.6 72.9h0.9v0.9h-0.9zM43.4 61.3h0.9v0.9h-0.9zM35.6 83.7h0.9v0.9h-0.9zM44.5 44.6h0.9v0.9h-0.9zM48.4 57.9h0.9v0.9h-0.9zM84.1 63.4h0.9v0.9h-0.9zM82.8 57.0h0.9v0.9h-0.9zM69.0 58.4h0.9v0.9h-0.9zM59.1 64.6h0.9v0.9h-0.9zM62.2 56.3h0.9v0.9h-0.9zM69.2 65.9h0.9v0.9h-0.9zM54.3 60.4h0.9v0.9h-0.9zM71.7 56.6h0.9v0.9h-0.9zM49.9 55.7h0.9v0.9h-0.9zM40.6 52.6h0.9v0.9h-0.9zM70.0 50.6h0.9v0.9h-0.9zM56.9 54.2h0.9v0.9h-0.9zM88.7 62.2h0.9v0.9h-0.9zM57.2 51.3h0.9v0.9h-0.9zM54.2 51.7h0.9v0.9h-0.9zM48.8 60.6h0.9v0.9h-0.9zM50.8 47.7h0.9v0.9h-0.9zM67.9 61.3h0.9v0.9h-0.9zM60.5 52.4h0.9v0.9h-0.9zM62.1 58.1h0.9v0.9h-0.9zM54.1 47.8h0.9v0.9h-0.9zM102.7 50.4h0.9v0.9h-0.9zM100.8 49.2h0.9v0.9h-0.9zM89.7 50.1h0.9v0.9h-0.9zM104.6 52.2h0.9v0.9h-0.9zM76.6 55.5h0.9v0.9h-0.9zM98.7 52.1h0.9v0.9h-0.9zM98.9 49.3h0.9v0.9h-0.9zM92.4 49.8h0.9v0.9h-0.9zM86.0 55.9h0.9v0.9h-0.9zM107.3 56.3h0.9v0.9h-0.9zM37.5 73.9h0.9v0.9h-0.9zM49.1 90.6h0.9v0.9h-0.9zM50.9 89.0h0.9v0.9h-0.9zM38.5 73.0h0.9v0.9h-0.9zM66.3 92.3h0.9v0.9h-0.9zM66.5 86.5h0.9v0.9h-0.9zM41.3 56.8h0.9v0.9h-0.9zM73.2 81.5h0.9v0.9h-0.9zM53.7 81.6h0.9v0.9h-0.9zM40.0 76.9h0.9v0.9h-0.9zM70.6 57.4h0.9v0.9h-0.9zM35.4 83.8h0.9v0.9h-0.9zM37.9 62.7h0.9v0.9h-0.9zM38.6 97.8h0.9v0.9h-0.9zM64.1 87.6h0.9v0.9h-0.9zM57.8 59.4h0.9v0.9h-0.9zM75.9 97.9h0.9v0.9h-0.9zM66.6 86.9h0.9v0.9h-0.9zM56.4 101.1h0.9v0.9h-0.9zM39.5 81.4h0.9v0.9h-0.9zM32.4 95.5h0.9v0.9h-0.9zM71.3 73.9h0.9v0.9h-0.9zM38.9 82.4h0.9v0.9h-0.9zM39.9 73.5h0.9v0.9h-0.9zM39.2 97.3h0.9v0.9h-0.9zM73.5 86.2h0.9v0.9h-0.9zM51.8 69.2h0.9v0.9h-0.9zM74.0 64.6h0.9v0.9h-0.9zM57.8 77.9h0.9v0.9h-0.9zM53.7 97.7h0.9v0.9h-0.9zM52.3 64.4h0.9v0.9h-0.9zM46.6 60.3h0.9v0.9h-0.9zM34.4 52.5h0.9v0.9h-0.9zM43.6 64.5h0.9v0.9h-0.9zM33.7 81.1h0.9v0.9h-0.9zM31.4 58.2h0.9v0.9h-0.9zM54.1 88.0h0.9v0.9h-0.9zM43.5 91.5h0.9v0.9h-0.9zM48.2 46.9h0.9v0.9h-0.9zM58.4 83.2h0.9v0.9h-0.9zM32.1 74.7h0.9v0.9h-0.9zM27.6 64.4h0.9v0.9h-0.9zM47.8 89.4h0.9v0.9h-0.9zM59.2 82.3h0.9v0.9h-0.9zM61.0 51.1h0.9v0.9h-0.9zM58.2 92.8h0.9v0.9h-0.9zM43.1 54.1h0.9v0.9h-0.9zM52.6 52.8h0.9v0.9h-0.9zM41.4 80.9h0.9v0.9h-0.9zM32.5 60.7h0.9v0.9h-0.9zM41.9 97.6h0.9v0.9h-0.9zM38.8 84.2h0.9v0.9h-0.9zM54.7 90.2h0.9v0.9h-0.9zM38.9 48.6h0.9v0.9h-0.9zM36.9 61.3h0.9v0.9h-0.9zM57.6 52.2h0.9v0.9h-0.9zM54.4 53.2h0.9v0.9h-0.9zM40.5 76.9h0.9v0.9h-0.9zM30.4 95.0h0.9v0.9h-0.9zM32.4 92.6h0.9v0.9h-0.9zM36.6 95.6h0.9v0.9h-0.9zM30.6 53.8h0.9v0.9h-0.9zM58.5 87.9h0.9v0.9h-0.9zM73.7 90.7h0.9v0.9h-0.9zM33.3 77.1h0.9v0.9h-0.9zM95.6 48.4h0.9v0.9h-0.9zM82.9 76.5h0.9v0.9h-0.9zM97.8 91.3h0.9v0.9h-0.9zM54.3 61.7h0.9v0.9h-0.9zM105.5 59.3h0.9v0.9h-0.9zM46.6 85.1h0.9v0.9h-0.9zM70.0 100.9h0.9v0.9h-0.9zM42.4 67.9h0.9v0.9h-0.9zM57.3 45.1h0.9v0.9h-0.9zM40.5 67.3h0.9v0.9h-0.9zM89.9 71.4h0.9v0.9h-0.9zM104.9 69.3h0.9v0.9h-0.9zM30.0 69.0h0.9v0.9h-0.9zM53.6 95.2h0.9v0.9h-0.9zM88.1 84.6h0.9v0.9h-0.9zM101.9 91.3h0.9v0.9h-0.9zM98.1 51.0h0.9v0.9h-0.9zM53.9 63.8h0.9v0.9h-0.9zM88.2 77.2h0.9v0.9h-0.9zM45.9 34.0h0.9v0.9h-0.9z" fill="#000" fill-opacity="0.5"/>
<line x1="25.8" y1="19" x2="110.6" y2="19" stroke="#222" stroke-width="1.0"/>
<line x1="110.6" y1="19" x2="110.6" y2="103" stroke="#444" stroke-width="0.8"/>
<line x1="25.8" y1="18.4" x2="25.8" y2="103.8" stroke="#111" stroke-width="1.5"/>
<line x1="25.8" y1="103" x2="111.0" y2="103" stroke="#111" stroke-width="1.6"/>
<path d="M24.2 96.7h1.6M32.2 103.0v1.6M24.2 92.9h1.6M36.0 103.0v1.6M24.2 90.4h1.6M38.5 103.0v1.6M24.2 88.3h1.6M40.6 103.0v1.6M24.2 86.6h1.6M42.3 103.0v1.6M24.2 85.2h1.6M43.8 103.0v1.6M24.2 84.1h1.6M44.9 103.0v1.6M24.2 83.0h1.6M45.9 103.0v1.6M24.2 75.7h1.6M53.4 103.0v1.6M24.2 71.9h1.6M57.2 103.0v1.6M24.2 69.4h1.6M59.7 103.0v1.6M24.2 67.3h1.6M61.8 103.0v1.6M24.2 65.6h1.6M63.5 103.0v1.6M24.2 64.2h1.6M65.0 103.0v1.6M24.2 63.1h1.6M66.1 103.0v1.6M24.2 62.1h1.6M67.1 103.0v1.6M24.2 54.7h1.6M74.6 103.0v1.6M24.2 50.9h1.6M78.4 103.0v1.6M24.2 48.4h1.6M80.9 103.0v1.6M24.2 46.3h1.6M83.0 103.0v1.6M24.2 44.6h1.6M84.7 103.0v1.6M24.2 43.1h1.6M86.2 103.0v1.6M24.2 42.1h1.6M87.3 103.0v1.6M24.2 41.0h1.6M88.3 103.0v1.6M24.2 33.7h1.6M95.8 103.0v1.6M24.2 29.9h1.6M99.6 103.0v1.6M24.2 27.4h1.6M102.1 103.0v1.6M24.2 25.3h1.6M104.2 103.0v1.6M24.2 23.6h1.6M105.9 103.0v1.6M24.2 22.1h1.6M107.4 103.0v1.6M24.2 21.1h1.6M108.5 103.0v1.6M24.2 20.0h1.6M109.5 103.0v1.6" stroke="#555" stroke-width="0.5" fill="none"/>
<line x1="23.8" y1="103.0" x2="25.8" y2="103.0" stroke="#111" stroke-width="0.7"/>
<rect x="18.3" y="102.7" width="2.2" height="1.6" fill="#777"/>
<rect x="21.0" y="101.2" width="1" height="1.2" fill="#888"/>
<line x1="25.8" y1="103" x2="25.8" y2="105" stroke="#111" stroke-width="0.7"/>
<rect x="23.3" y="108.5" width="2.2" height="1.6" fill="#777"/>
<rect x="26.0" y="107.2" width="1" height="1.2" fill="#888"/>
<line x1="23.8" y1="82.0" x2="25.8" y2="82.0" stroke="#111" stroke-width="0.7"/>
<rect x="18.3" y="81.7" width="2.2" height="1.6" fill="#777"/>
<rect x="21.0" y="80.2" width="1" height="1.2" fill="#888"/>
<line x1="47.0" y1="103" x2="47.0" y2="105" stroke="#111" stroke-width="0.7"/>
<rect x="44.5" y="108.5" width="2.2" height="1.6" fill="#777"/>
<rect x="47.2" y="107.2" width="1" height="1.2" fill="#888"/>
<line x1="23.8" y1="61.0" x2="25.8" y2="61.0" stroke="#111" stroke-width="0.7"/>
<rect x="18.3" y="60.7" width="2.2" height="1.6" fill="#777"/>
<rect x="21.0" y="59.2" width="1" height="1.2" fill="#888"/>
<line x1="68.2" y1="103" x2="68.2" y2="105" stroke="#111" stroke-width="0.7"/>
<rect x="65.7" y="108.5" width="2.2" height="1.6" fill="#777"/>
<rect x="68.4" y="107.2" width="1" height="1.2" fill="#888"/>
<line x1="23.8" y1="40.0" x2="25.8" y2="40.0" stroke="#111" stroke-width="0.7"/>
<rect x="18.3" y="39.7" width="2.2" height="1.6" fill="#777"/>
<rect x="21.0" y="38.2" width="1" height="1.2" fill="#888"/>
<line x1="89.39999999999999" y1="103" x2="89.39999999999999" y2="105" stroke="#111" stroke-width="0.7"/>
<rect x="86.89999999999999" y="108.5" width="2.2" height="1.6" fill="#777"/>
<rect x="89.6" y="107.2" width="1" height="1.2" fill="#888"/>
<line x1="23.8" y1="19.0" x2="25.8" y2="19.0" stroke="#111" stroke-width="0.7"/>
<rect x="18.3" y="18.7" width="2.2" height="1.6" fill="#777"/>
<rect x="21.0" y="17.2" width="1" height="1.2" fill="#888"/>
<line x1="110.6" y1="103" x2="110.6" y2="105" stroke="#111" stroke-width="0.7"/>
<rect x="108.1" y="108.5" width="2.2" height="1.6" fill="#777"/>
<rect x="110.8" y="107.2" width="1" height="1.2" fill="#888"/>
<rect x="73" y="39.3" width="37.599999999999994" height="24.3" fill="none" stroke="#333" stroke-width="0.9"/>
<text x="29" y="16.5" font-size="8.6" text-anchor="start" font-weight="normal" fill="#111" stroke="#111" stroke-width="0.22">Lin-</text>
<text x="30.6" y="32.8" font-size="10.4" text-anchor="start" font-weight="normal" fill="#111" stroke="#111" stroke-width="0.22" textLength="34.4" lengthAdjust="spacingAndGlyphs">Disomic</text>
<text x="92" y="54.3" font-size="6" text-anchor="middle" font-weight="normal" fill="#333" stroke="#333" stroke-width="0.22">4.55</text>
<text x="16.4" y="45.9" font-size="12" text-anchor="middle" font-weight="normal" fill="#111" stroke="#111" stroke-width="0.22" transform="rotate(-90 16.4 45.9)" textLength="12.2" lengthAdjust="spacingAndGlyphs">Kit</text>
<line x1="12.5" y1="98.8" x2="12.5" y2="66.8" stroke="#2a2a2a" stroke-width="0.8"/>
<path d="M12.5 58.8 L10.3 71.8 L12.5 68.8 L14.7 71.8 Z" fill="#111"/>
<line x1="27" y1="117.5" x2="62" y2="117.5" stroke="#2a2a2a" stroke-width="0.8"/>
<path d="M70 117.5 L57 115.3 L60 117.5 L57 119.7 Z" fill="#111"/>
<text x="79.5" y="122.3" font-size="11.8" text-anchor="start" font-weight="normal" fill="#111" stroke="#111" stroke-width="0.22" textLength="24" lengthAdjust="spacingAndGlyphs">Sca1</text>
<path d="M160.5 89.7h0.9v0.9h-0.9zM163.1 95.9h0.9v0.9h-0.9zM169.9 90.8h0.9v0.9h-0.9zM157.4 85.5h0.9v0.9h-0.9zM165.3 82.6h0.9v0.9h-0.9zM153.9 88.5h0.9v0.9h-0.9zM163.8 90.1h0.9v0.9h-0.9zM162.6 84.6h0.9v0.9h-0.9zM160.2 83.3h0.9v0.9h-0.9zM160.4 90.0h0.9v0.9h-0.9zM154.5 90.1h0.9v0.9h-0.9zM172.3 92.2h0.9v0.9h-0.9zM164.1 89.6h0.9v0.9h-0.9zM161.9 92.2h0.9v0.9h-0.9zM155.6 84.5h0.9v0.9h-0.9zM159.1 97.2h0.9v0.9h-0.9zM165.7 92.6h0.9v0.9h-0.9zM163.7 90.3h0.9v0.9h-0.9zM163.4 91.2h0.9v0.9h-0.9zM166.0 94.0h0.9v0.9h-0.9zM157.5 86.2h0.9v0.9h-0.9zM154.4 86.5h0.9v0.9h-0.9zM164.0 85.5h0.9v0.9h-0.9zM167.4 92.4h0.9v0.9h-0.9zM167.9 91.0h0.9v0.9h-0.9zM157.2 89.5h0.9v0.9h-0.9zM166.4 86.8h0.9v0.9h-0.9zM166.9 91.9h0.9v0.9h-0.9zM169.5 93.7h0.9v0.9h-0.9zM161.3 94.1h0.9v0.9h-0.9zM162.2 88.5h0.9v0.9h-0.9zM158.0 93.3h0.9v0.9h-0.9zM164.7 85.3h0.9v0.9h-0.9zM157.2 88.7h0.9v0.9h-0.9zM162.3 85.8h0.9v0.9h-0.9zM161.7 90.3h0.9v0.9h-0.9zM165.9 95.7h0.9v0.9h-0.9zM162.7 86.4h0.9v0.9h-0.9zM161.1 94.9h0.9v0.9h-0.9zM155.8 93.1h0.9v0.9h-0.9zM165.2 88.2h0.9v0.9h-0.9zM163.8 91.3h0.9v0.9h-0.9zM156.8 92.3h0.9v0.9h-0.9zM162.5 91.9h0.9v0.9h-0.9zM159.9 90.9h0.9v0.9h-0.9zM166.3 92.1h0.9v0.9h-0.9zM165.9 88.3h0.9v0.9h-0.9zM162.3 90.8h0.9v0.9h-0.9zM162.8 88.8h0.9v0.9h-0.9zM160.3 85.9h0.9v0.9h-0.9zM156.1 94.4h0.9v0.9h-0.9zM157.2 92.8h0.9v0.9h-0.9zM166.4 92.7h0.9v0.9h-0.9zM158.6 92.6h0.9v0.9h-0.9zM166.7 96.5h0.9v0.9h-0.9zM158.6 88.7h0.9v0.9h-0.9zM161.7 82.7h0.9v0.9h-0.9zM172.2 92.2h0.9v0.9h-0.9zM163.4 87.7h0.9v0.9h-0.9zM164.9 85.7h0.9v0.9h-0.9zM157.3 90.5h0.9v0.9h-0.9zM171.7 90.3h0.9v0.9h-0.9zM163.2 88.7h0.9v0.9h-0.9zM159.1 89.7h0.9v0.9h-0.9zM161.8 97.6h0.9v0.9h-0.9zM168.2 94.6h0.9v0.9h-0.9zM158.9 95.9h0.9v0.9h-0.9zM167.8 89.5h0.9v0.9h-0.9zM156.0 85.5h0.9v0.9h-0.9zM168.2 95.1h0.9v0.9h-0.9zM161.0 87.6h0.9v0.9h-0.9zM172.0 92.8h0.9v0.9h-0.9zM159.9 84.3h0.9v0.9h-0.9zM161.5 87.0h0.9v0.9h-0.9zM158.5 90.0h0.9v0.9h-0.9zM158.6 91.8h0.9v0.9h-0.9zM159.3 91.5h0.9v0.9h-0.9zM161.1 94.1h0.9v0.9h-0.9zM166.3 98.2h0.9v0.9h-0.9zM161.2 84.9h0.9v0.9h-0.9zM163.0 91.3h0.9v0.9h-0.9zM154.8 87.5h0.9v0.9h-0.9zM172.4 87.3h0.9v0.9h-0.9zM158.9 79.3h0.9v0.9h-0.9zM164.3 87.5h0.9v0.9h-0.9zM170.2 89.5h0.9v0.9h-0.9zM164.7 89.5h0.9v0.9h-0.9zM169.0 93.2h0.9v0.9h-0.9zM162.2 88.1h0.9v0.9h-0.9zM170.3 93.5h0.9v0.9h-0.9zM161.4 93.5h0.9v0.9h-0.9zM158.1 95.3h0.9v0.9h-0.9zM168.0 94.9h0.9v0.9h-0.9zM154.7 85.7h0.9v0.9h-0.9zM154.0 89.9h0.9v0.9h-0.9zM167.9 90.1h0.9v0.9h-0.9zM178.2 95.6h0.9v0.9h-0.9zM164.6 88.8h0.9v0.9h-0.9zM172.5 85.6h0.9v0.9h-0.9zM162.1 77.3h0.9v0.9h-0.9zM163.2 76.8h0.9v0.9h-0.9zM166.3 89.9h0.9v0.9h-0.9zM150.9 77.3h0.9v0.9h-0.9zM156.6 97.0h0.9v0.9h-0.9zM160.8 90.3h0.9v0.9h-0.9zM158.8 82.1h0.9v0.9h-0.9zM153.7 91.7h0.9v0.9h-0.9zM163.0 93.5h0.9v0.9h-0.9zM152.7 94.0h0.9v0.9h-0.9zM162.0 89.9h0.9v0.9h-0.9zM167.0 84.2h0.9v0.9h-0.9zM168.8 89.3h0.9v0.9h-0.9zM153.7 90.7h0.9v0.9h-0.9zM171.6 91.2h0.9v0.9h-0.9zM153.2 89.5h0.9v0.9h-0.9zM164.1 82.0h0.9v0.9h-0.9zM157.1 94.7h0.9v0.9h-0.9zM163.4 94.4h0.9v0.9h-0.9zM161.7 78.5h0.9v0.9h-0.9zM161.4 89.0h0.9v0.9h-0.9zM160.5 95.7h0.9v0.9h-0.9zM160.1 90.7h0.9v0.9h-0.9zM153.9 74.1h0.9v0.9h-0.9zM155.4 81.6h0.9v0.9h-0.9zM173.3 92.7h0.9v0.9h-0.9zM162.8 86.2h0.9v0.9h-0.9zM152.6 87.1h0.9v0.9h-0.9zM162.6 91.1h0.9v0.9h-0.9zM168.7 98.7h0.9v0.9h-0.9zM153.9 92.6h0.9v0.9h-0.9zM164.7 88.0h0.9v0.9h-0.9zM173.9 97.4h0.9v0.9h-0.9zM152.4 80.8h0.9v0.9h-0.9zM167.5 90.8h0.9v0.9h-0.9zM164.2 88.3h0.9v0.9h-0.9zM161.2 86.9h0.9v0.9h-0.9zM165.7 98.3h0.9v0.9h-0.9zM173.8 97.4h0.9v0.9h-0.9zM177.9 70.3h0.9v0.9h-0.9zM153.9 97.4h0.9v0.9h-0.9zM170.8 94.5h0.9v0.9h-0.9zM167.7 86.2h0.9v0.9h-0.9zM165.3 94.3h0.9v0.9h-0.9zM154.1 96.4h0.9v0.9h-0.9zM156.6 94.1h0.9v0.9h-0.9zM163.4 89.8h0.9v0.9h-0.9zM157.3 87.5h0.9v0.9h-0.9zM167.0 91.1h0.9v0.9h-0.9zM170.7 95.5h0.9v0.9h-0.9zM160.5 90.1h0.9v0.9h-0.9zM161.3 95.9h0.9v0.9h-0.9zM152.8 85.3h0.9v0.9h-0.9zM160.8 86.5h0.9v0.9h-0.9zM167.2 84.8h0.9v0.9h-0.9zM159.2 87.0h0.9v0.9h-0.9zM154.1 92.6h0.9v0.9h-0.9zM163.2 90.2h0.9v0.9h-0.9zM165.7 89.2h0.9v0.9h-0.9zM155.9 85.3h0.9v0.9h-0.9zM158.5 82.0h0.9v0.9h-0.9zM158.7 79.8h0.9v0.9h-0.9zM166.1 99.6h0.9v0.9h-0.9zM173.3 93.4h0.9v0.9h-0.9zM163.6 84.6h0.9v0.9h-0.9zM161.7 81.2h0.9v0.9h-0.9zM157.3 91.5h0.9v0.9h-0.9zM150.8 85.8h0.9v0.9h-0.9zM177.1 92.9h0.9v0.9h-0.9zM182.9 81.8h0.9v0.9h-0.9zM156.7 88.8h0.9v0.9h-0.9zM158.9 85.6h0.9v0.9h-0.9zM178.6 86.4h0.9v0.9h-0.9zM161.8 97.0h0.9v0.9h-0.9zM169.8 96.5h0.9v0.9h-0.9zM169.8 97.3h0.9v0.9h-0.9zM179.3 92.4h0.9v0.9h-0.9zM160.2 94.1h0.9v0.9h-0.9zM159.8 81.3h0.9v0.9h-0.9zM158.6 91.4h0.9v0.9h-0.9zM150.4 90.8h0.9v0.9h-0.9zM166.3 90.8h0.9v0.9h-0.9zM162.1 95.1h0.9v0.9h-0.9zM163.7 96.4h0.9v0.9h-0.9zM164.0 95.9h0.9v0.9h-0.9zM155.5 91.8h0.9v0.9h-0.9zM171.8 91.1h0.9v0.9h-0.9zM153.2 92.0h0.9v0.9h-0.9zM156.5 97.6h0.9v0.9h-0.9zM171.5 88.2h0.9v0.9h-0.9zM171.9 96.8h0.9v0.9h-0.9zM169.7 91.6h0.9v0.9h-0.9zM164.6 90.5h0.9v0.9h-0.9zM152.4 87.9h0.9v0.9h-0.9zM162.1 65.6h0.9v0.9h-0.9zM153.2 61.1h0.9v0.9h-0.9zM165.0 61.9h0.9v0.9h-0.9zM167.4 55.8h0.9v0.9h-0.9zM163.2 69.3h0.9v0.9h-0.9zM168.5 58.4h0.9v0.9h-0.9zM160.2 61.3h0.9v0.9h-0.9zM162.9 65.6h0.9v0.9h-0.9zM165.2 56.6h0.9v0.9h-0.9zM164.4 56.7h0.9v0.9h-0.9zM164.5 55.2h0.9v0.9h-0.9zM166.7 62.9h0.9v0.9h-0.9zM159.2 65.9h0.9v0.9h-0.9zM161.0 58.6h0.9v0.9h-0.9zM165.9 64.0h0.9v0.9h-0.9zM159.0 64.8h0.9v0.9h-0.9zM156.3 61.5h0.9v0.9h-0.9zM160.2 62.0h0.9v0.9h-0.9zM165.5 58.3h0.9v0.9h-0.9zM155.5 59.1h0.9v0.9h-0.9zM168.1 52.9h0.9v0.9h-0.9zM165.7 61.9h0.9v0.9h-0.9zM163.9 59.7h0.9v0.9h-0.9zM163.6 65.9h0.9v0.9h-0.9zM162.2 58.3h0.9v0.9h-0.9zM165.1 70.4h0.9v0.9h-0.9zM166.4 64.3h0.9v0.9h-0.9zM162.6 64.3h0.9v0.9h-0.9zM168.7 58.1h0.9v0.9h-0.9zM152.6 60.0h0.9v0.9h-0.9zM167.2 58.2h0.9v0.9h-0.9zM164.1 60.4h0.9v0.9h-0.9zM162.6 65.0h0.9v0.9h-0.9zM169.6 64.5h0.9v0.9h-0.9zM161.2 60.4h0.9v0.9h-0.9zM161.7 60.2h0.9v0.9h-0.9zM156.0 54.8h0.9v0.9h-0.9zM161.6 65.1h0.9v0.9h-0.9zM160.7 54.7h0.9v0.9h-0.9zM167.5 67.2h0.9v0.9h-0.9zM161.2 56.7h0.9v0.9h-0.9zM160.5 66.6h0.9v0.9h-0.9zM165.1 67.1h0.9v0.9h-0.9zM167.6 59.6h0.9v0.9h-0.9zM165.4 66.8h0.9v0.9h-0.9zM165.7 60.9h0.9v0.9h-0.9zM168.5 60.9h0.9v0.9h-0.9zM164.1 53.7h0.9v0.9h-0.9zM163.9 63.2h0.9v0.9h-0.9zM161.2 59.2h0.9v0.9h-0.9zM162.6 63.8h0.9v0.9h-0.9zM163.9 61.6h0.9v0.9h-0.9zM164.0 60.7h0.9v0.9h-0.9zM173.6 57.4h0.9v0.9h-0.9zM171.4 60.5h0.9v0.9h-0.9zM164.7 67.4h0.9v0.9h-0.9zM164.4 54.4h0.9v0.9h-0.9zM160.7 63.7h0.9v0.9h-0.9zM162.9 64.3h0.9v0.9h-0.9zM156.9 62.6h0.9v0.9h-0.9zM167.0 56.9h0.9v0.9h-0.9zM169.9 51.7h0.9v0.9h-0.9zM146.8 62.9h0.9v0.9h-0.9zM153.4 59.2h0.9v0.9h-0.9zM156.5 65.5h0.9v0.9h-0.9zM167.6 68.1h0.9v0.9h-0.9zM163.1 69.4h0.9v0.9h-0.9zM156.6 63.6h0.9v0.9h-0.9zM162.8 63.0h0.9v0.9h-0.9zM169.7 59.2h0.9v0.9h-0.9zM161.6 64.9h0.9v0.9h-0.9zM170.4 58.0h0.9v0.9h-0.9zM162.8 67.5h0.9v0.9h-0.9zM159.3 64.7h0.9v0.9h-0.9zM159.1 49.7h0.9v0.9h-0.9zM162.4 60.6h0.9v0.9h-0.9zM153.6 66.5h0.9v0.9h-0.9zM174.3 60.5h0.9v0.9h-0.9zM178.7 59.3h0.9v0.9h-0.9zM180.0 68.7h0.9v0.9h-0.9zM158.2 60.4h0.9v0.9h-0.9zM164.7 64.6h0.9v0.9h-0.9zM169.4 72.3h0.9v0.9h-0.9zM158.1 64.3h0.9v0.9h-0.9zM160.3 66.9h0.9v0.9h-0.9zM154.1 61.5h0.9v0.9h-0.9zM167.9 54.7h0.9v0.9h-0.9zM167.2 60.5h0.9v0.9h-0.9zM166.6 61.9h0.9v0.9h-0.9zM160.6 58.6h0.9v0.9h-0.9zM156.4 56.4h0.9v0.9h-0.9zM151.4 60.3h0.9v0.9h-0.9zM160.6 67.4h0.9v0.9h-0.9zM161.6 63.4h0.9v0.9h-0.9zM165.1 66.4h0.9v0.9h-0.9zM161.4 53.9h0.9v0.9h-0.9zM162.7 51.8h0.9v0.9h-0.9zM159.8 59.3h0.9v0.9h-0.9zM153.5 56.5h0.9v0.9h-0.9zM161.0 63.9h0.9v0.9h-0.9zM174.2 47.7h0.9v0.9h-0.9zM165.7 67.6h0.9v0.9h-0.9zM173.2 60.1h0.9v0.9h-0.9zM172.6 61.3h0.9v0.9h-0.9zM173.4 61.3h0.9v0.9h-0.9zM157.5 66.4h0.9v0.9h-0.9zM174.2 53.5h0.9v0.9h-0.9zM170.0 56.8h0.9v0.9h-0.9zM158.0 64.6h0.9v0.9h-0.9zM158.5 57.4h0.9v0.9h-0.9zM158.9 64.4h0.9v0.9h-0.9zM163.4 72.6h0.9v0.9h-0.9zM170.8 61.8h0.9v0.9h-0.9zM157.2 65.3h0.9v0.9h-0.9zM159.4 65.0h0.9v0.9h-0.9zM163.2 63.6h0.9v0.9h-0.9zM156.4 60.5h0.9v0.9h-0.9zM161.3 63.5h0.9v0.9h-0.9zM161.0 55.0h0.9v0.9h-0.9zM154.5 59.5h0.9v0.9h-0.9zM165.6 69.4h0.9v0.9h-0.9zM161.1 59.1h0.9v0.9h-0.9zM158.4 62.9h0.9v0.9h-0.9zM165.8 60.0h0.9v0.9h-0.9zM165.3 72.4h0.9v0.9h-0.9zM166.1 60.3h0.9v0.9h-0.9zM162.8 59.2h0.9v0.9h-0.9zM170.8 62.4h0.9v0.9h-0.9zM159.7 65.1h0.9v0.9h-0.9zM176.7 67.7h0.9v0.9h-0.9zM169.6 90.5h0.9v0.9h-0.9zM164.5 80.4h0.9v0.9h-0.9zM158.2 71.8h0.9v0.9h-0.9zM164.5 64.9h0.9v0.9h-0.9zM159.3 74.5h0.9v0.9h-0.9zM164.5 77.8h0.9v0.9h-0.9zM160.3 79.7h0.9v0.9h-0.9zM157.5 64.4h0.9v0.9h-0.9zM158.8 76.2h0.9v0.9h-0.9zM151.7 65.3h0.9v0.9h-0.9zM148.7 75.1h0.9v0.9h-0.9zM163.6 65.2h0.9v0.9h-0.9zM158.4 68.2h0.9v0.9h-0.9zM160.3 82.1h0.9v0.9h-0.9zM160.9 79.1h0.9v0.9h-0.9zM153.9 52.1h0.9v0.9h-0.9zM154.4 71.0h0.9v0.9h-0.9zM151.0 74.0h0.9v0.9h-0.9zM160.2 75.2h0.9v0.9h-0.9zM150.4 75.6h0.9v0.9h-0.9zM174.1 69.3h0.9v0.9h-0.9zM163.5 66.4h0.9v0.9h-0.9zM162.2 66.7h0.9v0.9h-0.9zM159.9 67.7h0.9v0.9h-0.9zM158.0 79.1h0.9v0.9h-0.9zM165.9 62.3h0.9v0.9h-0.9zM177.3 58.3h0.9v0.9h-0.9zM210.9 60.0h0.9v0.9h-0.9zM194.2 53.2h0.9v0.9h-0.9zM192.1 59.3h0.9v0.9h-0.9zM190.4 51.8h0.9v0.9h-0.9zM180.8 53.4h0.9v0.9h-0.9zM197.0 58.7h0.9v0.9h-0.9zM177.4 62.3h0.9v0.9h-0.9zM195.4 59.9h0.9v0.9h-0.9zM190.0 54.1h0.9v0.9h-0.9zM161.0 53.2h0.9v0.9h-0.9zM212.2 57.3h0.9v0.9h-0.9zM194.0 56.9h0.9v0.9h-0.9zM175.3 46.1h0.9v0.9h-0.9zM217.8 58.0h0.9v0.9h-0.9zM162.1 61.4h0.9v0.9h-0.9zM155.6 50.8h0.9v0.9h-0.9zM200.3 59.5h0.9v0.9h-0.9zM196.0 62.2h0.9v0.9h-0.9zM152.2 51.9h0.9v0.9h-0.9zM220.9 47.7h0.9v0.9h-0.9zM219.0 58.4h0.9v0.9h-0.9zM214.3 56.4h0.9v0.9h-0.9zM206.5 55.4h0.9v0.9h-0.9zM210.6 63.2h0.9v0.9h-0.9zM224.0 53.3h0.9v0.9h-0.9zM204.2 54.1h0.9v0.9h-0.9zM224.5 55.1h0.9v0.9h-0.9zM202.0 57.6h0.9v0.9h-0.9zM168.4 73.1h0.9v0.9h-0.9zM184.2 80.3h0.9v0.9h-0.9zM172.5 76.1h0.9v0.9h-0.9zM162.7 80.6h0.9v0.9h-0.9zM177.3 89.4h0.9v0.9h-0.9zM173.5 77.0h0.9v0.9h-0.9zM168.0 81.8h0.9v0.9h-0.9zM156.5 72.7h0.9v0.9h-0.9zM169.7 84.8h0.9v0.9h-0.9zM179.1 71.2h0.9v0.9h-0.9zM191.7 98.3h0.9v0.9h-0.9zM159.4 64.9h0.9v0.9h-0.9zM192.7 78.0h0.9v0.9h-0.9zM184.5 74.7h0.9v0.9h-0.9zM183.9 67.9h0.9v0.9h-0.9zM175.4 79.8h0.9v0.9h-0.9zM163.7 88.3h0.9v0.9h-0.9zM200.1 68.2h0.9v0.9h-0.9zM184.7 86.1h0.9v0.9h-0.9zM182.7 85.5h0.9v0.9h-0.9zM170.8 74.5h0.9v0.9h-0.9zM168.9 69.9h0.9v0.9h-0.9zM146.1 64.9h0.9v0.9h-0.9zM187.7 92.0h0.9v0.9h-0.9zM180.6 79.7h0.9v0.9h-0.9zM171.5 68.1h0.9v0.9h-0.9zM171.4 74.4h0.9v0.9h-0.9zM170.8 87.9h0.9v0.9h-0.9zM158.2 73.5h0.9v0.9h-0.9zM160.1 84.3h0.9v0.9h-0.9zM169.3 84.6h0.9v0.9h-0.9zM171.7 70.1h0.9v0.9h-0.9zM152.7 66.4h0.9v0.9h-0.9zM171.1 95.7h0.9v0.9h-0.9zM155.1 55.3h0.9v0.9h-0.9zM171.3 84.8h0.9v0.9h-0.9zM153.2 96.0h0.9v0.9h-0.9zM167.6 88.2h0.9v0.9h-0.9zM155.4 68.5h0.9v0.9h-0.9zM153.1 94.4h0.9v0.9h-0.9zM156.2 50.7h0.9v0.9h-0.9zM149.0 70.1h0.9v0.9h-0.9zM152.0 69.4h0.9v0.9h-0.9zM169.0 50.1h0.9v0.9h-0.9zM150.0 60.6h0.9v0.9h-0.9zM149.3 72.0h0.9v0.9h-0.9zM156.6 58.5h0.9v0.9h-0.9zM165.6 85.2h0.9v0.9h-0.9zM147.9 76.2h0.9v0.9h-0.9zM154.2 94.4h0.9v0.9h-0.9zM174.7 70.1h0.9v0.9h-0.9zM163.1 74.9h0.9v0.9h-0.9zM170.7 93.9h0.9v0.9h-0.9zM153.2 63.9h0.9v0.9h-0.9zM165.9 96.7h0.9v0.9h-0.9zM149.6 50.1h0.9v0.9h-0.9zM158.9 46.6h0.9v0.9h-0.9zM190.3 60.4h0.9v0.9h-0.9zM176.4 70.1h0.9v0.9h-0.9zM215.9 80.8h0.9v0.9h-0.9zM187.6 78.0h0.9v0.9h-0.9zM181.6 53.3h0.9v0.9h-0.9zM223.3 95.1h0.9v0.9h-0.9zM209.9 80.2h0.9v0.9h-0.9zM168.8 52.4h0.9v0.9h-0.9zM158.2 72.3h0.9v0.9h-0.9zM209.8 73.4h0.9v0.9h-0.9zM156.5 56.3h0.9v0.9h-0.9zM182.5 91.7h0.9v0.9h-0.9zM215.6 66.5h0.9v0.9h-0.9zM152.9 67.4h0.9v0.9h-0.9zM178.4 45.3h0.9v0.9h-0.9zM216.2 63.8h0.9v0.9h-0.9zM173.2 91.9h0.9v0.9h-0.9zM224.2 63.9h0.9v0.9h-0.9zM161.1 90.3h0.9v0.9h-0.9zM204.2 97.6h0.9v0.9h-0.9zM185.2 64.4h0.9v0.9h-0.9zM152.1 40.5h0.9v0.9h-0.9z" fill="#000" fill-opacity="0.5"/>
<path d="M160.3 94.8h0.9v0.9h-0.9zM162.6 90.4h0.9v0.9h-0.9zM161.6 84.9h0.9v0.9h-0.9zM158.0 85.6h0.9v0.9h-0.9zM154.8 96.5h0.9v0.9h-0.9zM162.0 86.9h0.9v0.9h-0.9zM156.8 87.5h0.9v0.9h-0.9zM160.8 83.9h0.9v0.9h-0.9zM177.5 88.8h0.9v0.9h-0.9zM164.1 93.8h0.9v0.9h-0.9zM164.2 89.9h0.9v0.9h-0.9zM156.6 88.6h0.9v0.9h-0.9zM163.8 97.1h0.9v0.9h-0.9zM160.7 89.8h0.9v0.9h-0.9zM167.4 88.2h0.9v0.9h-0.9zM170.8 86.2h0.9v0.9h-0.9zM154.7 89.0h0.9v0.9h-0.9zM165.7 91.7h0.9v0.9h-0.9zM165.1 90.9h0.9v0.9h-0.9zM156.1 84.0h0.9v0.9h-0.9zM162.7 84.8h0.9v0.9h-0.9zM159.0 93.1h0.9v0.9h-0.9zM159.6 87.3h0.9v0.9h-0.9zM170.2 91.1h0.9v0.9h-0.9zM153.4 85.6h0.9v0.9h-0.9zM168.4 86.7h0.9v0.9h-0.9zM165.4 95.5h0.9v0.9h-0.9zM167.6 88.1h0.9v0.9h-0.9zM152.5 87.2h0.9v0.9h-0.9zM161.3 86.8h0.9v0.9h-0.9zM160.3 84.2h0.9v0.9h-0.9zM165.9 90.3h0.9v0.9h-0.9zM162.4 81.8h0.9v0.9h-0.9zM161.8 92.8h0.9v0.9h-0.9zM160.4 99.4h0.9v0.9h-0.9zM163.1 83.8h0.9v0.9h-0.9zM169.7 88.3h0.9v0.9h-0.9zM163.5 89.7h0.9v0.9h-0.9zM159.7 90.1h0.9v0.9h-0.9zM158.0 91.5h0.9v0.9h-0.9zM158.7 91.3h0.9v0.9h-0.9zM163.1 92.2h0.9v0.9h-0.9zM159.5 86.0h0.9v0.9h-0.9zM160.1 85.2h0.9v0.9h-0.9zM158.8 88.8h0.9v0.9h-0.9zM154.3 88.7h0.9v0.9h-0.9zM157.9 88.3h0.9v0.9h-0.9zM161.8 87.3h0.9v0.9h-0.9zM164.4 85.7h0.9v0.9h-0.9zM168.2 85.0h0.9v0.9h-0.9zM159.0 85.5h0.9v0.9h-0.9zM152.3 86.5h0.9v0.9h-0.9zM168.1 84.0h0.9v0.9h-0.9zM162.8 94.6h0.9v0.9h-0.9zM160.8 89.7h0.9v0.9h-0.9zM161.8 84.0h0.9v0.9h-0.9zM161.0 95.5h0.9v0.9h-0.9zM162.3 90.9h0.9v0.9h-0.9zM169.7 85.4h0.9v0.9h-0.9zM159.9 87.5h0.9v0.9h-0.9zM162.0 88.2h0.9v0.9h-0.9zM160.6 88.3h0.9v0.9h-0.9zM163.6 87.1h0.9v0.9h-0.9zM161.4 97.9h0.9v0.9h-0.9zM169.4 91.3h0.9v0.9h-0.9zM162.0 100.4h0.9v0.9h-0.9zM159.9 88.9h0.9v0.9h-0.9zM153.3 97.3h0.9v0.9h-0.9zM163.0 83.6h0.9v0.9h-0.9zM163.9 88.7h0.9v0.9h-0.9zM164.7 92.4h0.9v0.9h-0.9zM163.7 99.0h0.9v0.9h-0.9zM170.1 93.1h0.9v0.9h-0.9zM156.4 89.5h0.9v0.9h-0.9zM168.8 89.7h0.9v0.9h-0.9zM155.4 91.3h0.9v0.9h-0.9zM160.5 86.4h0.9v0.9h-0.9zM164.3 89.5h0.9v0.9h-0.9zM162.8 86.5h0.9v0.9h-0.9zM162.2 87.0h0.9v0.9h-0.9zM154.8 81.7h0.9v0.9h-0.9zM158.4 95.2h0.9v0.9h-0.9zM158.3 84.5h0.9v0.9h-0.9zM159.4 85.1h0.9v0.9h-0.9zM148.8 88.8h0.9v0.9h-0.9zM166.3 90.0h0.9v0.9h-0.9zM163.6 91.9h0.9v0.9h-0.9zM169.9 89.0h0.9v0.9h-0.9zM164.7 87.5h0.9v0.9h-0.9zM153.2 83.3h0.9v0.9h-0.9zM168.1 85.8h0.9v0.9h-0.9zM169.4 89.2h0.9v0.9h-0.9zM166.7 91.1h0.9v0.9h-0.9zM161.3 90.0h0.9v0.9h-0.9zM179.2 85.3h0.9v0.9h-0.9zM171.4 95.4h0.9v0.9h-0.9zM162.5 82.0h0.9v0.9h-0.9zM158.1 89.8h0.9v0.9h-0.9zM172.2 86.7h0.9v0.9h-0.9zM154.6 92.3h0.9v0.9h-0.9zM173.0 100.7h0.9v0.9h-0.9zM171.9 90.5h0.9v0.9h-0.9zM155.3 76.2h0.9v0.9h-0.9zM161.6 83.1h0.9v0.9h-0.9zM154.9 95.2h0.9v0.9h-0.9zM162.3 80.3h0.9v0.9h-0.9zM158.5 92.9h0.9v0.9h-0.9zM156.5 91.3h0.9v0.9h-0.9zM169.3 96.2h0.9v0.9h-0.9zM159.4 66.0h0.9v0.9h-0.9zM150.2 95.1h0.9v0.9h-0.9zM163.5 89.0h0.9v0.9h-0.9zM161.2 78.8h0.9v0.9h-0.9zM164.8 88.5h0.9v0.9h-0.9zM156.5 95.3h0.9v0.9h-0.9zM146.4 72.1h0.9v0.9h-0.9zM157.7 94.0h0.9v0.9h-0.9zM168.8 81.9h0.9v0.9h-0.9zM160.9 90.7h0.9v0.9h-0.9zM156.7 84.7h0.9v0.9h-0.9zM157.8 84.7h0.9v0.9h-0.9zM168.3 92.7h0.9v0.9h-0.9zM157.8 95.3h0.9v0.9h-0.9zM163.3 94.2h0.9v0.9h-0.9zM148.7 88.5h0.9v0.9h-0.9zM171.7 95.4h0.9v0.9h-0.9zM176.1 90.7h0.9v0.9h-0.9zM165.4 92.6h0.9v0.9h-0.9zM167.1 85.4h0.9v0.9h-0.9zM166.6 84.2h0.9v0.9h-0.9zM164.7 80.9h0.9v0.9h-0.9zM161.5 82.6h0.9v0.9h-0.9zM175.3 100.8h0.9v0.9h-0.9zM160.1 86.8h0.9v0.9h-0.9zM170.6 96.0h0.9v0.9h-0.9zM154.0 96.9h0.9v0.9h-0.9zM152.3 86.7h0.9v0.9h-0.9zM156.2 91.0h0.9v0.9h-0.9zM160.2 88.7h0.9v0.9h-0.9zM164.7 79.5h0.9v0.9h-0.9zM157.1 99.6h0.9v0.9h-0.9zM172.0 87.1h0.9v0.9h-0.9zM171.7 92.0h0.9v0.9h-0.9zM172.2 80.5h0.9v0.9h-0.9zM160.5 82.5h0.9v0.9h-0.9zM162.3 84.4h0.9v0.9h-0.9zM154.9 95.0h0.9v0.9h-0.9zM169.7 83.3h0.9v0.9h-0.9zM156.7 98.4h0.9v0.9h-0.9zM164.1 100.3h0.9v0.9h-0.9zM156.2 90.7h0.9v0.9h-0.9zM162.0 95.7h0.9v0.9h-0.9zM149.3 96.0h0.9v0.9h-0.9zM160.3 85.8h0.9v0.9h-0.9zM167.6 81.3h0.9v0.9h-0.9zM177.6 93.4h0.9v0.9h-0.9zM166.7 83.1h0.9v0.9h-0.9zM161.3 92.4h0.9v0.9h-0.9zM166.4 82.2h0.9v0.9h-0.9zM161.6 90.6h0.9v0.9h-0.9zM146.8 98.2h0.9v0.9h-0.9zM161.4 79.5h0.9v0.9h-0.9zM156.9 81.4h0.9v0.9h-0.9zM167.5 88.7h0.9v0.9h-0.9zM184.1 84.7h0.9v0.9h-0.9zM165.3 83.1h0.9v0.9h-0.9zM151.8 85.0h0.9v0.9h-0.9zM167.2 84.3h0.9v0.9h-0.9zM153.5 86.0h0.9v0.9h-0.9zM158.9 97.4h0.9v0.9h-0.9zM160.2 86.4h0.9v0.9h-0.9zM146.4 95.6h0.9v0.9h-0.9zM162.6 90.6h0.9v0.9h-0.9zM155.3 87.7h0.9v0.9h-0.9zM155.6 95.7h0.9v0.9h-0.9zM158.1 77.6h0.9v0.9h-0.9zM171.6 90.5h0.9v0.9h-0.9zM161.5 94.4h0.9v0.9h-0.9zM152.5 87.0h0.9v0.9h-0.9zM166.7 76.1h0.9v0.9h-0.9zM152.8 84.0h0.9v0.9h-0.9zM166.5 99.1h0.9v0.9h-0.9zM165.5 84.6h0.9v0.9h-0.9zM163.6 81.0h0.9v0.9h-0.9zM174.1 82.9h0.9v0.9h-0.9zM170.7 90.7h0.9v0.9h-0.9zM169.2 89.2h0.9v0.9h-0.9zM160.9 79.6h0.9v0.9h-0.9zM155.0 87.5h0.9v0.9h-0.9zM152.2 92.3h0.9v0.9h-0.9zM151.8 93.6h0.9v0.9h-0.9zM164.4 98.4h0.9v0.9h-0.9zM157.9 83.0h0.9v0.9h-0.9zM160.6 60.8h0.9v0.9h-0.9zM161.1 57.7h0.9v0.9h-0.9zM167.1 57.9h0.9v0.9h-0.9zM161.6 60.4h0.9v0.9h-0.9zM165.3 53.2h0.9v0.9h-0.9zM161.5 64.8h0.9v0.9h-0.9zM162.5 64.8h0.9v0.9h-0.9zM161.8 61.2h0.9v0.9h-0.9zM166.0 52.7h0.9v0.9h-0.9zM160.3 67.1h0.9v0.9h-0.9zM168.2 60.3h0.9v0.9h-0.9zM164.9 59.8h0.9v0.9h-0.9zM163.8 63.4h0.9v0.9h-0.9zM165.4 63.7h0.9v0.9h-0.9zM164.8 65.8h0.9v0.9h-0.9zM160.6 58.7h0.9v0.9h-0.9zM152.3 66.3h0.9v0.9h-0.9zM161.8 57.1h0.9v0.9h-0.9zM152.1 64.4h0.9v0.9h-0.9zM161.3 59.6h0.9v0.9h-0.9zM157.5 68.1h0.9v0.9h-0.9zM165.3 60.5h0.9v0.9h-0.9zM163.9 62.0h0.9v0.9h-0.9zM163.9 65.1h0.9v0.9h-0.9zM159.7 59.9h0.9v0.9h-0.9zM157.4 63.4h0.9v0.9h-0.9zM162.0 63.6h0.9v0.9h-0.9zM167.8 58.6h0.9v0.9h-0.9zM160.4 67.7h0.9v0.9h-0.9zM164.8 63.0h0.9v0.9h-0.9zM170.0 65.0h0.9v0.9h-0.9zM161.8 56.6h0.9v0.9h-0.9zM167.3 66.7h0.9v0.9h-0.9zM160.1 62.4h0.9v0.9h-0.9zM162.6 61.9h0.9v0.9h-0.9zM161.7 59.6h0.9v0.9h-0.9zM168.6 59.8h0.9v0.9h-0.9zM159.1 57.3h0.9v0.9h-0.9zM160.2 63.1h0.9v0.9h-0.9zM166.4 62.0h0.9v0.9h-0.9zM164.8 61.1h0.9v0.9h-0.9zM168.6 56.7h0.9v0.9h-0.9zM163.5 64.6h0.9v0.9h-0.9zM168.0 58.5h0.9v0.9h-0.9zM161.0 72.0h0.9v0.9h-0.9zM161.4 65.8h0.9v0.9h-0.9zM165.7 68.4h0.9v0.9h-0.9zM164.9 61.1h0.9v0.9h-0.9zM163.9 67.5h0.9v0.9h-0.9zM160.2 58.4h0.9v0.9h-0.9zM167.8 65.0h0.9v0.9h-0.9zM167.4 51.4h0.9v0.9h-0.9zM163.8 68.0h0.9v0.9h-0.9zM168.4 61.4h0.9v0.9h-0.9zM164.6 55.8h0.9v0.9h-0.9zM160.4 65.4h0.9v0.9h-0.9zM159.3 59.1h0.9v0.9h-0.9zM171.4 59.8h0.9v0.9h-0.9zM155.1 61.0h0.9v0.9h-0.9zM147.8 72.1h0.9v0.9h-0.9zM164.2 56.3h0.9v0.9h-0.9zM155.5 63.7h0.9v0.9h-0.9zM152.4 50.8h0.9v0.9h-0.9zM158.5 50.2h0.9v0.9h-0.9zM166.2 61.5h0.9v0.9h-0.9zM167.2 59.8h0.9v0.9h-0.9zM162.7 65.7h0.9v0.9h-0.9zM166.3 62.5h0.9v0.9h-0.9zM159.9 56.7h0.9v0.9h-0.9zM146.2 67.7h0.9v0.9h-0.9zM159.0 79.1h0.9v0.9h-0.9zM165.9 52.1h0.9v0.9h-0.9zM161.8 71.2h0.9v0.9h-0.9zM165.0 56.6h0.9v0.9h-0.9zM158.9 59.9h0.9v0.9h-0.9zM152.1 50.4h0.9v0.9h-0.9zM170.0 55.6h0.9v0.9h-0.9zM154.2 69.5h0.9v0.9h-0.9zM168.7 64.9h0.9v0.9h-0.9zM163.0 59.5h0.9v0.9h-0.9zM153.0 73.9h0.9v0.9h-0.9zM157.4 61.5h0.9v0.9h-0.9zM150.5 54.6h0.9v0.9h-0.9zM167.8 61.6h0.9v0.9h-0.9zM148.4 66.4h0.9v0.9h-0.9zM161.5 63.2h0.9v0.9h-0.9zM164.4 71.3h0.9v0.9h-0.9zM159.0 62.7h0.9v0.9h-0.9zM152.7 48.9h0.9v0.9h-0.9zM158.4 58.0h0.9v0.9h-0.9zM174.2 70.4h0.9v0.9h-0.9zM160.4 64.9h0.9v0.9h-0.9zM165.4 70.7h0.9v0.9h-0.9zM159.5 61.3h0.9v0.9h-0.9zM157.7 60.6h0.9v0.9h-0.9zM164.4 62.2h0.9v0.9h-0.9zM179.4 60.4h0.9v0.9h-0.9zM174.8 53.4h0.9v0.9h-0.9zM161.0 63.9h0.9v0.9h-0.9zM153.5 61.8h0.9v0.9h-0.9zM175.3 67.8h0.9v0.9h-0.9zM167.7 63.7h0.9v0.9h-0.9zM166.1 62.2h0.9v0.9h-0.9zM159.6 59.6h0.9v0.9h-0.9zM164.7 58.3h0.9v0.9h-0.9zM154.0 57.8h0.9v0.9h-0.9zM169.5 66.2h0.9v0.9h-0.9zM150.4 60.3h0.9v0.9h-0.9zM151.9 53.6h0.9v0.9h-0.9zM163.3 58.8h0.9v0.9h-0.9zM162.2 64.4h0.9v0.9h-0.9zM164.7 72.5h0.9v0.9h-0.9zM158.1 61.3h0.9v0.9h-0.9zM162.4 59.4h0.9v0.9h-0.9zM163.2 59.2h0.9v0.9h-0.9zM159.7 60.1h0.9v0.9h-0.9zM175.5 55.3h0.9v0.9h-0.9zM163.7 67.8h0.9v0.9h-0.9zM165.1 54.8h0.9v0.9h-0.9zM160.4 63.8h0.9v0.9h-0.9zM159.1 58.8h0.9v0.9h-0.9zM159.6 63.4h0.9v0.9h-0.9zM173.4 62.5h0.9v0.9h-0.9zM164.4 60.7h0.9v0.9h-0.9zM171.2 55.5h0.9v0.9h-0.9zM163.4 67.3h0.9v0.9h-0.9zM163.5 70.4h0.9v0.9h-0.9zM169.3 55.7h0.9v0.9h-0.9zM156.1 55.5h0.9v0.9h-0.9zM158.3 77.1h0.9v0.9h-0.9zM166.8 68.3h0.9v0.9h-0.9zM153.7 70.7h0.9v0.9h-0.9zM158.6 90.2h0.9v0.9h-0.9zM168.8 65.6h0.9v0.9h-0.9zM158.1 74.9h0.9v0.9h-0.9zM155.2 56.2h0.9v0.9h-0.9zM163.1 71.6h0.9v0.9h-0.9zM156.9 71.0h0.9v0.9h-0.9zM162.6 76.1h0.9v0.9h-0.9zM158.0 71.6h0.9v0.9h-0.9zM152.3 77.7h0.9v0.9h-0.9zM168.5 68.1h0.9v0.9h-0.9zM160.6 73.8h0.9v0.9h-0.9zM163.9 67.8h0.9v0.9h-0.9zM171.4 68.0h0.9v0.9h-0.9zM168.7 82.8h0.9v0.9h-0.9zM154.3 71.5h0.9v0.9h-0.9zM163.8 82.7h0.9v0.9h-0.9zM158.5 89.7h0.9v0.9h-0.9zM165.9 75.6h0.9v0.9h-0.9zM161.4 77.4h0.9v0.9h-0.9zM159.9 64.8h0.9v0.9h-0.9zM160.2 68.2h0.9v0.9h-0.9zM165.7 64.2h0.9v0.9h-0.9zM162.0 61.9h0.9v0.9h-0.9zM171.9 78.4h0.9v0.9h-0.9zM182.7 60.7h0.9v0.9h-0.9zM183.8 55.8h0.9v0.9h-0.9zM198.0 63.2h0.9v0.9h-0.9zM179.3 57.4h0.9v0.9h-0.9zM192.3 46.4h0.9v0.9h-0.9zM198.0 57.7h0.9v0.9h-0.9zM193.5 50.7h0.9v0.9h-0.9zM206.8 58.7h0.9v0.9h-0.9zM180.7 59.7h0.9v0.9h-0.9zM178.8 58.2h0.9v0.9h-0.9zM165.9 57.1h0.9v0.9h-0.9zM204.9 61.9h0.9v0.9h-0.9zM161.7 51.2h0.9v0.9h-0.9zM182.8 60.1h0.9v0.9h-0.9zM160.6 64.7h0.9v0.9h-0.9zM180.7 60.1h0.9v0.9h-0.9zM174.3 56.0h0.9v0.9h-0.9zM198.9 58.5h0.9v0.9h-0.9zM179.0 58.7h0.9v0.9h-0.9zM178.4 58.8h0.9v0.9h-0.9zM213.5 52.6h0.9v0.9h-0.9zM215.8 55.9h0.9v0.9h-0.9zM225.1 58.3h0.9v0.9h-0.9zM202.7 53.6h0.9v0.9h-0.9zM195.6 57.1h0.9v0.9h-0.9zM214.3 54.0h0.9v0.9h-0.9zM223.2 59.2h0.9v0.9h-0.9zM206.2 52.7h0.9v0.9h-0.9zM204.0 56.6h0.9v0.9h-0.9zM189.5 93.5h0.9v0.9h-0.9zM173.0 83.4h0.9v0.9h-0.9zM165.7 73.2h0.9v0.9h-0.9zM176.7 81.1h0.9v0.9h-0.9zM157.8 80.2h0.9v0.9h-0.9zM186.0 84.2h0.9v0.9h-0.9zM190.7 88.4h0.9v0.9h-0.9zM190.6 90.5h0.9v0.9h-0.9zM198.6 94.6h0.9v0.9h-0.9zM190.5 82.2h0.9v0.9h-0.9zM188.8 71.0h0.9v0.9h-0.9zM181.3 80.5h0.9v0.9h-0.9zM190.6 69.4h0.9v0.9h-0.9zM180.1 90.1h0.9v0.9h-0.9zM181.6 89.3h0.9v0.9h-0.9zM185.5 62.2h0.9v0.9h-0.9zM176.8 63.5h0.9v0.9h-0.9zM172.6 88.2h0.9v0.9h-0.9zM153.1 76.3h0.9v0.9h-0.9zM161.3 50.0h0.9v0.9h-0.9zM175.9 82.6h0.9v0.9h-0.9zM183.8 98.3h0.9v0.9h-0.9zM187.8 72.0h0.9v0.9h-0.9zM176.0 79.2h0.9v0.9h-0.9zM178.0 68.8h0.9v0.9h-0.9zM188.5 80.7h0.9v0.9h-0.9zM159.3 74.2h0.9v0.9h-0.9zM169.2 74.2h0.9v0.9h-0.9zM165.9 66.9h0.9v0.9h-0.9zM190.6 83.8h0.9v0.9h-0.9zM150.9 64.3h0.9v0.9h-0.9zM171.7 78.1h0.9v0.9h-0.9zM161.8 81.5h0.9v0.9h-0.9zM162.3 85.0h0.9v0.9h-0.9zM165.0 86.2h0.9v0.9h-0.9zM147.0 93.9h0.9v0.9h-0.9zM160.6 99.0h0.9v0.9h-0.9zM164.3 68.6h0.9v0.9h-0.9zM174.1 60.5h0.9v0.9h-0.9zM164.8 81.6h0.9v0.9h-0.9zM162.6 53.2h0.9v0.9h-0.9zM168.4 66.2h0.9v0.9h-0.9zM181.9 67.5h0.9v0.9h-0.9zM173.2 70.2h0.9v0.9h-0.9zM156.0 84.6h0.9v0.9h-0.9zM165.9 92.7h0.9v0.9h-0.9zM158.4 79.1h0.9v0.9h-0.9zM177.1 88.6h0.9v0.9h-0.9zM149.3 59.6h0.9v0.9h-0.9zM149.8 94.3h0.9v0.9h-0.9zM155.4 89.3h0.9v0.9h-0.9zM176.6 61.9h0.9v0.9h-0.9zM152.4 69.1h0.9v0.9h-0.9zM157.5 53.0h0.9v0.9h-0.9zM170.1 82.3h0.9v0.9h-0.9zM156.7 70.7h0.9v0.9h-0.9zM167.6 52.4h0.9v0.9h-0.9zM161.3 57.4h0.9v0.9h-0.9zM151.4 62.4h0.9v0.9h-0.9zM148.8 60.6h0.9v0.9h-0.9zM149.4 76.1h0.9v0.9h-0.9zM160.2 61.9h0.9v0.9h-0.9zM192.1 63.8h0.9v0.9h-0.9zM146.2 64.5h0.9v0.9h-0.9zM157.6 47.5h0.9v0.9h-0.9zM174.8 48.9h0.9v0.9h-0.9zM172.6 76.0h0.9v0.9h-0.9zM176.0 96.1h0.9v0.9h-0.9zM181.8 76.0h0.9v0.9h-0.9zM176.0 75.2h0.9v0.9h-0.9zM213.6 90.9h0.9v0.9h-0.9zM172.5 85.2h0.9v0.9h-0.9zM165.8 66.0h0.9v0.9h-0.9zM216.1 93.8h0.9v0.9h-0.9zM151.4 53.5h0.9v0.9h-0.9zM172.7 67.8h0.9v0.9h-0.9zM179.9 71.3h0.9v0.9h-0.9zM171.4 63.9h0.9v0.9h-0.9zM185.3 30.0h0.9v0.9h-0.9z" fill="#000" fill-opacity="0.5"/>
<path d="M152.9 90.9h0.9v0.9h-0.9zM161.5 89.8h0.9v0.9h-0.9zM165.1 89.9h0.9v0.9h-0.9zM160.9 90.9h0.9v0.9h-0.9zM161.7 95.3h0.9v0.9h-0.9zM159.5 89.2h0.9v0.9h-0.9zM168.3 93.3h0.9v0.9h-0.9zM172.8 87.0h0.9v0.9h-0.9zM163.0 86.7h0.9v0.9h-0.9zM159.1 93.8h0.9v0.9h-0.9zM163.1 93.7h0.9v0.9h-0.9zM168.3 92.6h0.9v0.9h-0.9zM165.9 91.8h0.9v0.9h-0.9zM166.4 97.1h0.9v0.9h-0.9zM170.1 92.4h0.9v0.9h-0.9zM163.6 89.6h0.9v0.9h-0.9zM163.3 92.9h0.9v0.9h-0.9zM165.9 89.1h0.9v0.9h-0.9zM154.8 81.4h0.9v0.9h-0.9zM162.6 89.8h0.9v0.9h-0.9zM164.2 91.8h0.9v0.9h-0.9zM151.0 84.0h0.9v0.9h-0.9zM161.8 94.8h0.9v0.9h-0.9zM160.4 86.4h0.9v0.9h-0.9zM153.1 86.6h0.9v0.9h-0.9zM162.9 90.3h0.9v0.9h-0.9zM169.5 86.0h0.9v0.9h-0.9zM163.4 88.4h0.9v0.9h-0.9zM160.3 89.9h0.9v0.9h-0.9zM164.6 93.8h0.9v0.9h-0.9zM155.8 90.5h0.9v0.9h-0.9zM175.5 93.2h0.9v0.9h-0.9zM161.9 94.1h0.9v0.9h-0.9zM160.2 86.4h0.9v0.9h-0.9zM169.7 92.4h0.9v0.9h-0.9zM161.1 88.4h0.9v0.9h-0.9zM164.6 79.9h0.9v0.9h-0.9zM165.5 91.2h0.9v0.9h-0.9zM165.0 93.8h0.9v0.9h-0.9zM157.8 92.7h0.9v0.9h-0.9zM158.7 89.1h0.9v0.9h-0.9zM160.0 86.5h0.9v0.9h-0.9zM165.4 92.0h0.9v0.9h-0.9zM172.4 86.9h0.9v0.9h-0.9zM168.1 95.7h0.9v0.9h-0.9zM162.8 92.4h0.9v0.9h-0.9zM160.8 89.8h0.9v0.9h-0.9zM161.3 89.5h0.9v0.9h-0.9zM162.9 94.0h0.9v0.9h-0.9zM162.5 84.1h0.9v0.9h-0.9zM162.7 89.0h0.9v0.9h-0.9zM156.8 89.6h0.9v0.9h-0.9zM164.8 96.2h0.9v0.9h-0.9zM160.9 86.0h0.9v0.9h-0.9zM161.3 94.8h0.9v0.9h-0.9zM166.8 86.7h0.9v0.9h-0.9zM158.6 93.2h0.9v0.9h-0.9zM162.2 87.3h0.9v0.9h-0.9zM157.3 87.8h0.9v0.9h-0.9zM160.6 85.8h0.9v0.9h-0.9zM158.8 89.6h0.9v0.9h-0.9zM157.1 89.2h0.9v0.9h-0.9zM164.0 83.7h0.9v0.9h-0.9zM165.7 84.5h0.9v0.9h-0.9zM164.5 81.7h0.9v0.9h-0.9zM160.8 87.3h0.9v0.9h-0.9zM162.3 94.6h0.9v0.9h-0.9zM161.4 100.3h0.9v0.9h-0.9zM166.4 91.6h0.9v0.9h-0.9zM156.2 96.8h0.9v0.9h-0.9zM163.8 91.0h0.9v0.9h-0.9zM162.0 88.5h0.9v0.9h-0.9zM162.9 84.8h0.9v0.9h-0.9zM157.9 87.6h0.9v0.9h-0.9zM157.5 94.5h0.9v0.9h-0.9zM169.4 84.0h0.9v0.9h-0.9zM169.9 91.0h0.9v0.9h-0.9zM160.6 88.9h0.9v0.9h-0.9zM164.4 89.3h0.9v0.9h-0.9zM161.5 92.6h0.9v0.9h-0.9zM176.8 90.2h0.9v0.9h-0.9zM163.5 95.1h0.9v0.9h-0.9zM169.8 95.1h0.9v0.9h-0.9zM149.4 90.4h0.9v0.9h-0.9zM174.2 98.8h0.9v0.9h-0.9zM163.7 86.5h0.9v0.9h-0.9zM162.9 86.3h0.9v0.9h-0.9zM149.6 89.1h0.9v0.9h-0.9zM179.9 84.6h0.9v0.9h-0.9zM166.5 97.2h0.9v0.9h-0.9zM169.2 83.5h0.9v0.9h-0.9zM180.6 85.1h0.9v0.9h-0.9zM169.7 88.7h0.9v0.9h-0.9zM156.8 95.9h0.9v0.9h-0.9zM154.9 93.8h0.9v0.9h-0.9zM177.9 77.8h0.9v0.9h-0.9zM182.7 85.1h0.9v0.9h-0.9zM162.2 82.5h0.9v0.9h-0.9zM162.0 80.6h0.9v0.9h-0.9zM155.8 92.1h0.9v0.9h-0.9zM156.7 91.6h0.9v0.9h-0.9zM156.9 88.8h0.9v0.9h-0.9zM172.8 97.7h0.9v0.9h-0.9zM155.5 76.5h0.9v0.9h-0.9zM180.2 99.4h0.9v0.9h-0.9zM171.9 94.3h0.9v0.9h-0.9zM158.5 80.8h0.9v0.9h-0.9zM155.1 77.3h0.9v0.9h-0.9zM174.1 80.3h0.9v0.9h-0.9zM157.0 85.2h0.9v0.9h-0.9zM174.8 87.5h0.9v0.9h-0.9zM153.8 98.4h0.9v0.9h-0.9zM155.6 99.3h0.9v0.9h-0.9zM170.0 84.1h0.9v0.9h-0.9zM147.8 76.6h0.9v0.9h-0.9zM162.2 90.1h0.9v0.9h-0.9zM149.8 96.2h0.9v0.9h-0.9zM152.0 92.6h0.9v0.9h-0.9zM167.6 82.5h0.9v0.9h-0.9zM149.5 83.9h0.9v0.9h-0.9zM160.2 86.2h0.9v0.9h-0.9zM174.3 79.4h0.9v0.9h-0.9zM158.0 92.1h0.9v0.9h-0.9zM160.1 95.1h0.9v0.9h-0.9zM160.1 78.8h0.9v0.9h-0.9zM149.1 91.7h0.9v0.9h-0.9zM158.1 90.7h0.9v0.9h-0.9zM154.2 87.7h0.9v0.9h-0.9zM180.0 97.0h0.9v0.9h-0.9zM162.2 91.2h0.9v0.9h-0.9zM169.0 86.8h0.9v0.9h-0.9zM165.6 95.8h0.9v0.9h-0.9zM160.6 87.0h0.9v0.9h-0.9zM157.9 84.7h0.9v0.9h-0.9zM166.5 99.9h0.9v0.9h-0.9zM159.2 92.5h0.9v0.9h-0.9zM165.7 96.4h0.9v0.9h-0.9zM159.9 90.1h0.9v0.9h-0.9zM169.8 96.9h0.9v0.9h-0.9zM165.9 96.2h0.9v0.9h-0.9zM160.6 82.8h0.9v0.9h-0.9zM177.9 87.2h0.9v0.9h-0.9zM156.7 85.0h0.9v0.9h-0.9zM181.6 85.7h0.9v0.9h-0.9zM158.8 76.4h0.9v0.9h-0.9zM155.8 93.4h0.9v0.9h-0.9zM159.1 92.7h0.9v0.9h-0.9zM162.5 82.9h0.9v0.9h-0.9zM160.9 93.6h0.9v0.9h-0.9zM147.1 92.9h0.9v0.9h-0.9zM167.7 98.1h0.9v0.9h-0.9zM147.4 94.2h0.9v0.9h-0.9zM161.6 97.6h0.9v0.9h-0.9zM156.5 88.1h0.9v0.9h-0.9zM158.4 85.0h0.9v0.9h-0.9zM167.3 81.7h0.9v0.9h-0.9zM160.6 90.1h0.9v0.9h-0.9zM161.0 93.9h0.9v0.9h-0.9zM157.0 95.7h0.9v0.9h-0.9zM161.0 85.7h0.9v0.9h-0.9zM154.4 92.3h0.9v0.9h-0.9zM163.9 91.0h0.9v0.9h-0.9zM153.9 89.0h0.9v0.9h-0.9zM163.5 100.1h0.9v0.9h-0.9zM159.9 84.8h0.9v0.9h-0.9zM147.7 94.2h0.9v0.9h-0.9zM159.0 91.9h0.9v0.9h-0.9zM157.8 95.4h0.9v0.9h-0.9zM170.1 94.6h0.9v0.9h-0.9zM162.0 85.4h0.9v0.9h-0.9zM171.7 88.0h0.9v0.9h-0.9zM169.3 89.3h0.9v0.9h-0.9zM167.1 84.8h0.9v0.9h-0.9zM161.0 85.0h0.9v0.9h-0.9zM158.3 93.3h0.9v0.9h-0.9zM155.1 92.8h0.9v0.9h-0.9zM157.3 88.1h0.9v0.9h-0.9zM159.5 75.0h0.9v0.9h-0.9zM151.1 79.8h0.9v0.9h-0.9zM161.3 90.4h0.9v0.9h-0.9zM148.5 80.5h0.9v0.9h-0.9zM159.8 83.6h0.9v0.9h-0.9zM165.5 88.7h0.9v0.9h-0.9zM169.3 86.0h0.9v0.9h-0.9zM159.6 84.6h0.9v0.9h-0.9zM155.3 83.9h0.9v0.9h-0.9zM169.8 89.7h0.9v0.9h-0.9zM158.9 83.7h0.9v0.9h-0.9zM149.0 85.9h0.9v0.9h-0.9zM150.1 94.5h0.9v0.9h-0.9zM166.5 72.0h0.9v0.9h-0.9zM170.7 92.3h0.9v0.9h-0.9zM151.1 90.0h0.9v0.9h-0.9zM158.9 56.7h0.9v0.9h-0.9zM162.2 63.4h0.9v0.9h-0.9zM165.1 63.0h0.9v0.9h-0.9zM160.3 65.9h0.9v0.9h-0.9zM158.8 64.4h0.9v0.9h-0.9zM161.4 59.5h0.9v0.9h-0.9zM158.6 65.6h0.9v0.9h-0.9zM162.6 67.4h0.9v0.9h-0.9zM171.5 63.6h0.9v0.9h-0.9zM165.1 67.5h0.9v0.9h-0.9zM158.3 61.4h0.9v0.9h-0.9zM162.0 55.4h0.9v0.9h-0.9zM165.6 58.8h0.9v0.9h-0.9zM150.9 64.6h0.9v0.9h-0.9zM159.0 65.9h0.9v0.9h-0.9zM158.0 65.8h0.9v0.9h-0.9zM162.4 62.0h0.9v0.9h-0.9zM171.1 61.0h0.9v0.9h-0.9zM162.9 59.0h0.9v0.9h-0.9zM171.2 59.1h0.9v0.9h-0.9zM169.5 61.6h0.9v0.9h-0.9zM161.2 65.3h0.9v0.9h-0.9zM165.2 62.9h0.9v0.9h-0.9zM161.8 66.6h0.9v0.9h-0.9zM161.4 57.4h0.9v0.9h-0.9zM160.9 60.6h0.9v0.9h-0.9zM167.6 60.0h0.9v0.9h-0.9zM158.8 63.0h0.9v0.9h-0.9zM159.7 60.2h0.9v0.9h-0.9zM150.8 62.6h0.9v0.9h-0.9zM160.7 71.4h0.9v0.9h-0.9zM165.0 59.3h0.9v0.9h-0.9zM165.3 52.6h0.9v0.9h-0.9zM166.2 64.1h0.9v0.9h-0.9zM159.8 61.1h0.9v0.9h-0.9zM159.8 61.8h0.9v0.9h-0.9zM163.1 59.6h0.9v0.9h-0.9zM161.3 60.6h0.9v0.9h-0.9zM155.1 64.0h0.9v0.9h-0.9zM161.5 62.2h0.9v0.9h-0.9zM167.7 57.9h0.9v0.9h-0.9zM159.9 55.0h0.9v0.9h-0.9zM164.3 61.2h0.9v0.9h-0.9zM168.4 63.7h0.9v0.9h-0.9zM161.0 67.8h0.9v0.9h-0.9zM169.2 62.9h0.9v0.9h-0.9zM157.6 58.6h0.9v0.9h-0.9zM157.6 66.3h0.9v0.9h-0.9zM159.4 56.4h0.9v0.9h-0.9zM164.1 62.0h0.9v0.9h-0.9zM159.9 68.2h0.9v0.9h-0.9zM164.1 59.9h0.9v0.9h-0.9zM161.4 67.7h0.9v0.9h-0.9zM154.5 62.1h0.9v0.9h-0.9zM157.2 61.0h0.9v0.9h-0.9zM163.2 56.5h0.9v0.9h-0.9zM175.4 65.1h0.9v0.9h-0.9zM159.8 61.6h0.9v0.9h-0.9zM155.8 63.2h0.9v0.9h-0.9zM151.5 66.9h0.9v0.9h-0.9zM161.6 72.9h0.9v0.9h-0.9zM166.9 60.3h0.9v0.9h-0.9zM167.7 56.6h0.9v0.9h-0.9zM174.4 66.2h0.9v0.9h-0.9zM169.7 57.6h0.9v0.9h-0.9zM171.2 61.4h0.9v0.9h-0.9zM158.5 63.1h0.9v0.9h-0.9zM165.4 64.4h0.9v0.9h-0.9zM161.5 63.7h0.9v0.9h-0.9zM173.0 52.1h0.9v0.9h-0.9zM168.5 59.6h0.9v0.9h-0.9zM152.0 64.4h0.9v0.9h-0.9zM162.1 60.9h0.9v0.9h-0.9zM160.2 54.9h0.9v0.9h-0.9zM159.4 63.6h0.9v0.9h-0.9zM160.8 60.2h0.9v0.9h-0.9zM173.6 57.3h0.9v0.9h-0.9zM163.2 61.8h0.9v0.9h-0.9zM164.4 58.8h0.9v0.9h-0.9zM166.4 68.8h0.9v0.9h-0.9zM156.0 55.0h0.9v0.9h-0.9zM169.8 62.4h0.9v0.9h-0.9zM170.0 69.1h0.9v0.9h-0.9zM160.1 52.0h0.9v0.9h-0.9zM166.9 58.7h0.9v0.9h-0.9zM159.3 66.0h0.9v0.9h-0.9zM162.6 55.3h0.9v0.9h-0.9zM170.1 58.8h0.9v0.9h-0.9zM165.4 58.2h0.9v0.9h-0.9zM172.9 61.2h0.9v0.9h-0.9zM153.4 58.1h0.9v0.9h-0.9zM167.1 65.1h0.9v0.9h-0.9zM170.8 55.9h0.9v0.9h-0.9zM148.7 64.3h0.9v0.9h-0.9zM158.5 67.5h0.9v0.9h-0.9zM152.6 60.3h0.9v0.9h-0.9zM159.9 55.7h0.9v0.9h-0.9zM158.5 58.4h0.9v0.9h-0.9zM157.5 60.1h0.9v0.9h-0.9zM158.0 68.9h0.9v0.9h-0.9zM173.4 62.6h0.9v0.9h-0.9zM160.3 58.8h0.9v0.9h-0.9zM167.5 64.6h0.9v0.9h-0.9zM147.1 63.2h0.9v0.9h-0.9zM166.4 57.2h0.9v0.9h-0.9zM170.4 58.0h0.9v0.9h-0.9zM159.9 61.7h0.9v0.9h-0.9zM151.5 63.9h0.9v0.9h-0.9zM165.8 68.9h0.9v0.9h-0.9zM168.6 57.4h0.9v0.9h-0.9zM173.9 60.2h0.9v0.9h-0.9zM155.8 70.0h0.9v0.9h-0.9zM160.6 58.0h0.9v0.9h-0.9zM174.7 67.2h0.9v0.9h-0.9zM153.4 67.3h0.9v0.9h-0.9zM169.8 52.7h0.9v0.9h-0.9zM161.0 55.1h0.9v0.9h-0.9zM163.4 52.7h0.9v0.9h-0.9zM166.4 61.2h0.9v0.9h-0.9zM160.4 74.3h0.9v0.9h-0.9zM155.0 62.8h0.9v0.9h-0.9zM161.9 60.6h0.9v0.9h-0.9zM147.9 58.6h0.9v0.9h-0.9zM157.5 55.9h0.9v0.9h-0.9zM161.5 58.3h0.9v0.9h-0.9zM161.5 70.3h0.9v0.9h-0.9zM165.8 54.5h0.9v0.9h-0.9zM168.4 55.3h0.9v0.9h-0.9zM164.9 69.8h0.9v0.9h-0.9zM155.9 73.0h0.9v0.9h-0.9zM170.5 78.9h0.9v0.9h-0.9zM155.4 65.1h0.9v0.9h-0.9zM161.0 84.1h0.9v0.9h-0.9zM170.4 82.9h0.9v0.9h-0.9zM153.3 80.3h0.9v0.9h-0.9zM171.1 80.6h0.9v0.9h-0.9zM159.7 71.7h0.9v0.9h-0.9zM162.9 72.4h0.9v0.9h-0.9zM164.8 72.7h0.9v0.9h-0.9zM161.5 70.5h0.9v0.9h-0.9zM168.5 78.5h0.9v0.9h-0.9zM158.1 68.4h0.9v0.9h-0.9zM148.2 86.3h0.9v0.9h-0.9zM167.9 70.3h0.9v0.9h-0.9zM152.4 72.8h0.9v0.9h-0.9zM160.3 75.0h0.9v0.9h-0.9zM158.7 79.0h0.9v0.9h-0.9zM168.6 74.0h0.9v0.9h-0.9zM165.9 74.0h0.9v0.9h-0.9zM172.3 81.7h0.9v0.9h-0.9zM159.4 71.0h0.9v0.9h-0.9zM161.4 74.3h0.9v0.9h-0.9zM160.6 79.5h0.9v0.9h-0.9zM153.8 79.3h0.9v0.9h-0.9zM169.4 79.4h0.9v0.9h-0.9zM158.9 70.2h0.9v0.9h-0.9zM187.6 59.8h0.9v0.9h-0.9zM199.8 56.4h0.9v0.9h-0.9zM178.7 51.6h0.9v0.9h-0.9zM169.9 66.0h0.9v0.9h-0.9zM173.5 51.2h0.9v0.9h-0.9zM175.4 53.5h0.9v0.9h-0.9zM171.8 62.8h0.9v0.9h-0.9zM173.7 60.9h0.9v0.9h-0.9zM177.7 63.2h0.9v0.9h-0.9zM182.5 61.7h0.9v0.9h-0.9zM178.2 52.5h0.9v0.9h-0.9zM205.0 57.1h0.9v0.9h-0.9zM183.4 50.3h0.9v0.9h-0.9zM193.7 52.8h0.9v0.9h-0.9zM203.5 55.3h0.9v0.9h-0.9zM176.7 54.7h0.9v0.9h-0.9zM206.4 56.2h0.9v0.9h-0.9zM183.2 55.3h0.9v0.9h-0.9zM181.8 65.2h0.9v0.9h-0.9zM162.9 65.0h0.9v0.9h-0.9zM210.6 53.5h0.9v0.9h-0.9zM206.8 51.3h0.9v0.9h-0.9zM222.6 56.4h0.9v0.9h-0.9zM216.4 51.5h0.9v0.9h-0.9zM207.1 44.0h0.9v0.9h-0.9zM218.4 59.4h0.9v0.9h-0.9zM210.2 64.7h0.9v0.9h-0.9zM203.2 57.1h0.9v0.9h-0.9zM216.8 52.3h0.9v0.9h-0.9zM184.8 100.7h0.9v0.9h-0.9zM198.9 88.0h0.9v0.9h-0.9zM167.9 90.9h0.9v0.9h-0.9zM171.3 90.1h0.9v0.9h-0.9zM151.3 84.1h0.9v0.9h-0.9zM164.0 71.9h0.9v0.9h-0.9zM163.4 73.3h0.9v0.9h-0.9zM153.3 73.7h0.9v0.9h-0.9zM190.9 82.0h0.9v0.9h-0.9zM160.4 53.0h0.9v0.9h-0.9zM185.8 79.0h0.9v0.9h-0.9zM180.2 93.1h0.9v0.9h-0.9zM146.0 72.8h0.9v0.9h-0.9zM170.4 73.7h0.9v0.9h-0.9zM205.1 73.6h0.9v0.9h-0.9zM186.4 82.0h0.9v0.9h-0.9zM158.6 96.5h0.9v0.9h-0.9zM203.4 95.1h0.9v0.9h-0.9zM188.2 78.3h0.9v0.9h-0.9zM175.0 73.2h0.9v0.9h-0.9zM160.7 100.6h0.9v0.9h-0.9zM181.5 94.4h0.9v0.9h-0.9zM169.0 97.3h0.9v0.9h-0.9zM156.6 94.9h0.9v0.9h-0.9zM163.1 80.1h0.9v0.9h-0.9zM169.8 90.6h0.9v0.9h-0.9zM169.4 95.4h0.9v0.9h-0.9zM182.0 69.4h0.9v0.9h-0.9zM183.1 89.5h0.9v0.9h-0.9zM189.9 76.3h0.9v0.9h-0.9zM162.4 60.2h0.9v0.9h-0.9zM175.2 86.8h0.9v0.9h-0.9zM164.6 83.2h0.9v0.9h-0.9zM177.9 73.3h0.9v0.9h-0.9zM166.7 48.7h0.9v0.9h-0.9zM147.5 59.6h0.9v0.9h-0.9zM157.1 75.1h0.9v0.9h-0.9zM171.9 54.8h0.9v0.9h-0.9zM173.6 93.6h0.9v0.9h-0.9zM177.0 58.0h0.9v0.9h-0.9zM162.5 55.4h0.9v0.9h-0.9zM172.2 63.4h0.9v0.9h-0.9zM180.8 83.7h0.9v0.9h-0.9zM150.9 93.2h0.9v0.9h-0.9zM151.2 54.6h0.9v0.9h-0.9zM148.5 50.0h0.9v0.9h-0.9zM166.3 86.8h0.9v0.9h-0.9zM146.6 89.1h0.9v0.9h-0.9zM174.0 62.4h0.9v0.9h-0.9zM154.0 89.1h0.9v0.9h-0.9zM173.5 92.2h0.9v0.9h-0.9zM181.0 62.5h0.9v0.9h-0.9zM153.2 97.8h0.9v0.9h-0.9zM167.3 54.7h0.9v0.9h-0.9zM179.7 71.5h0.9v0.9h-0.9zM153.1 84.5h0.9v0.9h-0.9zM162.0 56.5h0.9v0.9h-0.9zM210.7 98.2h0.9v0.9h-0.9zM192.9 79.4h0.9v0.9h-0.9zM176.7 70.0h0.9v0.9h-0.9zM211.8 58.6h0.9v0.9h-0.9zM192.1 48.4h0.9v0.9h-0.9zM161.8 84.3h0.9v0.9h-0.9zM195.2 58.9h0.9v0.9h-0.9zM181.1 52.7h0.9v0.9h-0.9zM214.8 90.1h0.9v0.9h-0.9zM202.6 55.4h0.9v0.9h-0.9zM196.2 61.0h0.9v0.9h-0.9zM208.2 94.5h0.9v0.9h-0.9zM180.3 100.5h0.9v0.9h-0.9zM183.2 68.0h0.9v0.9h-0.9zM161.3 72.4h0.9v0.9h-0.9zM213.6 87.3h0.9v0.9h-0.9zM206.1 86.4h0.9v0.9h-0.9zM218.4 91.1h0.9v0.9h-0.9zM219.6 87.1h0.9v0.9h-0.9zM166.5 56.8h0.9v0.9h-0.9zM187.7 70.3h0.9v0.9h-0.9zM171.2 43.8h0.9v0.9h-0.9z" fill="#000" fill-opacity="0.5"/>
<path d="M156.7 87.0h0.9v0.9h-0.9zM161.8 93.9h0.9v0.9h-0.9zM165.8 87.1h0.9v0.9h-0.9zM170.0 90.6h0.9v0.9h-0.9zM160.6 87.1h0.9v0.9h-0.9zM162.1 92.2h0.9v0.9h-0.9zM162.3 95.4h0.9v0.9h-0.9zM162.2 86.9h0.9v0.9h-0.9zM159.6 85.5h0.9v0.9h-0.9zM157.9 89.0h0.9v0.9h-0.9zM158.7 92.2h0.9v0.9h-0.9zM157.8 94.1h0.9v0.9h-0.9zM163.4 83.3h0.9v0.9h-0.9zM154.5 86.1h0.9v0.9h-0.9zM163.6 92.5h0.9v0.9h-0.9zM158.5 92.8h0.9v0.9h-0.9zM162.6 89.7h0.9v0.9h-0.9zM161.8 88.7h0.9v0.9h-0.9zM170.2 88.2h0.9v0.9h-0.9zM165.2 89.2h0.9v0.9h-0.9zM161.0 88.4h0.9v0.9h-0.9zM160.3 87.8h0.9v0.9h-0.9zM159.1 89.2h0.9v0.9h-0.9zM156.1 92.1h0.9v0.9h-0.9zM157.0 90.8h0.9v0.9h-0.9zM160.3 84.4h0.9v0.9h-0.9zM157.3 83.8h0.9v0.9h-0.9zM159.6 88.6h0.9v0.9h-0.9zM161.3 87.3h0.9v0.9h-0.9zM161.1 88.5h0.9v0.9h-0.9zM159.4 89.4h0.9v0.9h-0.9zM167.1 86.5h0.9v0.9h-0.9zM160.9 91.1h0.9v0.9h-0.9zM170.4 86.3h0.9v0.9h-0.9zM163.0 88.6h0.9v0.9h-0.9zM170.0 93.9h0.9v0.9h-0.9zM160.9 84.6h0.9v0.9h-0.9zM171.1 94.6h0.9v0.9h-0.9zM163.3 85.5h0.9v0.9h-0.9zM160.0 100.0h0.9v0.9h-0.9zM159.9 86.0h0.9v0.9h-0.9zM164.6 88.1h0.9v0.9h-0.9zM165.8 88.5h0.9v0.9h-0.9zM169.1 82.6h0.9v0.9h-0.9zM154.3 85.9h0.9v0.9h-0.9zM159.4 96.9h0.9v0.9h-0.9zM166.1 86.1h0.9v0.9h-0.9zM164.5 90.1h0.9v0.9h-0.9zM166.9 92.3h0.9v0.9h-0.9zM161.3 98.9h0.9v0.9h-0.9zM166.7 90.2h0.9v0.9h-0.9zM157.8 90.8h0.9v0.9h-0.9zM163.7 85.3h0.9v0.9h-0.9zM159.4 85.6h0.9v0.9h-0.9zM163.6 93.0h0.9v0.9h-0.9zM163.1 92.3h0.9v0.9h-0.9zM155.9 88.6h0.9v0.9h-0.9zM162.0 89.3h0.9v0.9h-0.9zM163.8 93.0h0.9v0.9h-0.9zM161.0 84.3h0.9v0.9h-0.9zM159.2 88.1h0.9v0.9h-0.9zM160.3 86.8h0.9v0.9h-0.9zM153.2 91.7h0.9v0.9h-0.9zM160.1 85.2h0.9v0.9h-0.9zM161.6 99.5h0.9v0.9h-0.9zM161.1 86.2h0.9v0.9h-0.9zM163.3 89.9h0.9v0.9h-0.9zM160.4 93.9h0.9v0.9h-0.9zM161.3 95.5h0.9v0.9h-0.9zM169.6 81.0h0.9v0.9h-0.9zM168.0 94.3h0.9v0.9h-0.9zM167.0 93.2h0.9v0.9h-0.9zM157.9 87.2h0.9v0.9h-0.9zM155.6 89.4h0.9v0.9h-0.9zM164.2 88.7h0.9v0.9h-0.9zM162.3 87.2h0.9v0.9h-0.9zM162.2 81.2h0.9v0.9h-0.9zM168.9 88.5h0.9v0.9h-0.9zM164.6 93.0h0.9v0.9h-0.9zM165.9 84.5h0.9v0.9h-0.9zM168.1 85.7h0.9v0.9h-0.9zM162.0 75.8h0.9v0.9h-0.9zM149.1 97.3h0.9v0.9h-0.9zM151.7 78.3h0.9v0.9h-0.9zM168.8 87.2h0.9v0.9h-0.9zM159.4 97.2h0.9v0.9h-0.9zM155.4 88.0h0.9v0.9h-0.9zM167.0 79.5h0.9v0.9h-0.9zM151.3 81.2h0.9v0.9h-0.9zM168.0 88.5h0.9v0.9h-0.9zM175.3 81.1h0.9v0.9h-0.9zM152.6 88.1h0.9v0.9h-0.9zM167.7 94.8h0.9v0.9h-0.9zM154.4 100.3h0.9v0.9h-0.9zM172.3 96.3h0.9v0.9h-0.9zM163.1 87.5h0.9v0.9h-0.9zM163.9 94.4h0.9v0.9h-0.9zM168.3 81.2h0.9v0.9h-0.9zM162.8 92.1h0.9v0.9h-0.9zM165.1 76.0h0.9v0.9h-0.9zM155.6 95.1h0.9v0.9h-0.9zM161.7 89.4h0.9v0.9h-0.9zM167.4 72.9h0.9v0.9h-0.9zM156.0 95.4h0.9v0.9h-0.9zM155.1 85.7h0.9v0.9h-0.9zM149.5 90.6h0.9v0.9h-0.9zM168.0 91.3h0.9v0.9h-0.9zM163.9 90.2h0.9v0.9h-0.9zM165.2 92.6h0.9v0.9h-0.9zM155.7 100.1h0.9v0.9h-0.9zM158.3 77.6h0.9v0.9h-0.9zM157.0 80.8h0.9v0.9h-0.9zM154.2 96.5h0.9v0.9h-0.9zM174.5 89.3h0.9v0.9h-0.9zM166.3 87.3h0.9v0.9h-0.9zM169.6 84.6h0.9v0.9h-0.9zM183.6 96.9h0.9v0.9h-0.9zM162.6 90.0h0.9v0.9h-0.9zM152.2 84.7h0.9v0.9h-0.9zM172.2 98.9h0.9v0.9h-0.9zM171.9 91.9h0.9v0.9h-0.9zM162.5 80.1h0.9v0.9h-0.9zM154.1 98.7h0.9v0.9h-0.9zM174.4 81.1h0.9v0.9h-0.9zM161.8 94.5h0.9v0.9h-0.9zM167.0 85.3h0.9v0.9h-0.9zM168.2 82.8h0.9v0.9h-0.9zM161.1 89.7h0.9v0.9h-0.9zM171.8 94.3h0.9v0.9h-0.9zM163.5 93.0h0.9v0.9h-0.9zM157.9 79.6h0.9v0.9h-0.9zM150.5 81.3h0.9v0.9h-0.9zM167.6 97.7h0.9v0.9h-0.9zM151.6 97.5h0.9v0.9h-0.9zM160.5 85.8h0.9v0.9h-0.9zM158.3 90.5h0.9v0.9h-0.9zM167.7 81.6h0.9v0.9h-0.9zM174.8 95.6h0.9v0.9h-0.9zM173.4 99.8h0.9v0.9h-0.9zM166.4 87.4h0.9v0.9h-0.9zM169.8 98.7h0.9v0.9h-0.9zM163.8 83.3h0.9v0.9h-0.9zM165.1 81.6h0.9v0.9h-0.9zM162.8 84.2h0.9v0.9h-0.9zM163.6 90.2h0.9v0.9h-0.9zM160.7 84.3h0.9v0.9h-0.9zM164.3 87.8h0.9v0.9h-0.9zM157.1 98.5h0.9v0.9h-0.9zM160.8 100.0h0.9v0.9h-0.9zM165.6 81.9h0.9v0.9h-0.9zM160.1 87.6h0.9v0.9h-0.9zM163.8 82.1h0.9v0.9h-0.9zM156.8 96.4h0.9v0.9h-0.9zM168.5 86.2h0.9v0.9h-0.9zM163.1 81.4h0.9v0.9h-0.9zM148.9 92.0h0.9v0.9h-0.9zM162.5 89.6h0.9v0.9h-0.9zM175.8 91.8h0.9v0.9h-0.9zM157.5 90.3h0.9v0.9h-0.9zM154.8 84.7h0.9v0.9h-0.9zM161.4 85.8h0.9v0.9h-0.9zM159.6 88.1h0.9v0.9h-0.9zM168.8 86.4h0.9v0.9h-0.9zM161.1 96.2h0.9v0.9h-0.9zM160.0 90.9h0.9v0.9h-0.9zM159.9 96.4h0.9v0.9h-0.9zM157.9 93.9h0.9v0.9h-0.9zM163.3 82.2h0.9v0.9h-0.9zM167.4 87.4h0.9v0.9h-0.9zM167.3 91.5h0.9v0.9h-0.9zM172.3 84.9h0.9v0.9h-0.9zM164.4 94.1h0.9v0.9h-0.9zM155.8 95.5h0.9v0.9h-0.9zM156.2 85.2h0.9v0.9h-0.9zM169.0 99.1h0.9v0.9h-0.9zM167.2 92.4h0.9v0.9h-0.9zM161.7 98.8h0.9v0.9h-0.9zM156.3 96.5h0.9v0.9h-0.9zM152.1 82.4h0.9v0.9h-0.9zM153.8 93.2h0.9v0.9h-0.9zM163.0 91.4h0.9v0.9h-0.9zM169.9 95.5h0.9v0.9h-0.9zM164.5 88.2h0.9v0.9h-0.9zM157.9 90.8h0.9v0.9h-0.9zM166.1 92.1h0.9v0.9h-0.9zM176.0 87.4h0.9v0.9h-0.9zM164.7 87.4h0.9v0.9h-0.9zM160.8 83.5h0.9v0.9h-0.9zM153.3 88.4h0.9v0.9h-0.9zM160.7 86.5h0.9v0.9h-0.9zM161.0 92.0h0.9v0.9h-0.9zM162.5 89.1h0.9v0.9h-0.9zM159.3 96.7h0.9v0.9h-0.9zM163.3 64.1h0.9v0.9h-0.9zM158.2 56.6h0.9v0.9h-0.9zM158.7 64.0h0.9v0.9h-0.9zM159.9 62.8h0.9v0.9h-0.9zM160.7 64.5h0.9v0.9h-0.9zM162.2 63.9h0.9v0.9h-0.9zM162.5 64.1h0.9v0.9h-0.9zM160.1 58.1h0.9v0.9h-0.9zM155.7 63.3h0.9v0.9h-0.9zM156.9 57.8h0.9v0.9h-0.9zM160.7 56.5h0.9v0.9h-0.9zM159.4 57.4h0.9v0.9h-0.9zM163.2 59.1h0.9v0.9h-0.9zM159.2 63.9h0.9v0.9h-0.9zM163.1 57.9h0.9v0.9h-0.9zM158.0 61.9h0.9v0.9h-0.9zM156.7 59.2h0.9v0.9h-0.9zM164.9 59.9h0.9v0.9h-0.9zM161.2 58.1h0.9v0.9h-0.9zM164.2 58.8h0.9v0.9h-0.9zM166.3 63.7h0.9v0.9h-0.9zM167.8 57.2h0.9v0.9h-0.9zM157.2 59.0h0.9v0.9h-0.9zM163.7 54.7h0.9v0.9h-0.9zM160.7 65.1h0.9v0.9h-0.9zM155.7 61.3h0.9v0.9h-0.9zM161.7 56.6h0.9v0.9h-0.9zM162.1 59.5h0.9v0.9h-0.9zM160.7 58.1h0.9v0.9h-0.9zM162.8 61.5h0.9v0.9h-0.9zM168.1 67.2h0.9v0.9h-0.9zM155.2 63.0h0.9v0.9h-0.9zM161.2 59.6h0.9v0.9h-0.9zM159.5 64.9h0.9v0.9h-0.9zM161.9 63.3h0.9v0.9h-0.9zM156.5 62.0h0.9v0.9h-0.9zM161.7 67.1h0.9v0.9h-0.9zM167.2 58.0h0.9v0.9h-0.9zM162.4 59.6h0.9v0.9h-0.9zM164.4 72.2h0.9v0.9h-0.9zM155.0 64.0h0.9v0.9h-0.9zM158.9 58.1h0.9v0.9h-0.9zM159.5 60.1h0.9v0.9h-0.9zM160.3 63.1h0.9v0.9h-0.9zM161.8 56.3h0.9v0.9h-0.9zM162.9 58.5h0.9v0.9h-0.9zM165.0 61.9h0.9v0.9h-0.9zM157.6 68.9h0.9v0.9h-0.9zM163.3 59.0h0.9v0.9h-0.9zM158.0 56.0h0.9v0.9h-0.9zM165.0 57.7h0.9v0.9h-0.9zM176.4 63.1h0.9v0.9h-0.9zM156.7 61.5h0.9v0.9h-0.9zM167.7 55.2h0.9v0.9h-0.9zM168.1 57.9h0.9v0.9h-0.9zM158.0 58.3h0.9v0.9h-0.9zM167.8 62.0h0.9v0.9h-0.9zM166.9 59.4h0.9v0.9h-0.9zM164.2 63.9h0.9v0.9h-0.9zM169.2 66.6h0.9v0.9h-0.9zM154.8 55.0h0.9v0.9h-0.9zM164.5 64.4h0.9v0.9h-0.9zM164.8 61.8h0.9v0.9h-0.9zM159.1 66.5h0.9v0.9h-0.9zM171.2 60.7h0.9v0.9h-0.9zM163.5 64.8h0.9v0.9h-0.9zM165.3 62.2h0.9v0.9h-0.9zM160.7 63.7h0.9v0.9h-0.9zM168.8 71.8h0.9v0.9h-0.9zM160.9 57.8h0.9v0.9h-0.9zM149.0 62.6h0.9v0.9h-0.9zM159.5 56.1h0.9v0.9h-0.9zM165.4 63.4h0.9v0.9h-0.9zM163.1 65.8h0.9v0.9h-0.9zM160.6 68.4h0.9v0.9h-0.9zM174.6 63.5h0.9v0.9h-0.9zM167.6 60.4h0.9v0.9h-0.9zM168.3 63.4h0.9v0.9h-0.9zM166.8 63.0h0.9v0.9h-0.9zM166.0 66.6h0.9v0.9h-0.9zM158.5 59.3h0.9v0.9h-0.9zM163.6 64.6h0.9v0.9h-0.9zM165.1 63.4h0.9v0.9h-0.9zM159.3 56.1h0.9v0.9h-0.9zM157.4 62.6h0.9v0.9h-0.9zM170.0 65.9h0.9v0.9h-0.9zM164.3 60.7h0.9v0.9h-0.9zM165.8 58.1h0.9v0.9h-0.9zM169.8 59.4h0.9v0.9h-0.9zM148.3 70.5h0.9v0.9h-0.9zM162.0 64.6h0.9v0.9h-0.9zM153.0 68.1h0.9v0.9h-0.9zM151.2 67.6h0.9v0.9h-0.9zM157.3 59.5h0.9v0.9h-0.9zM170.0 59.2h0.9v0.9h-0.9zM157.4 60.1h0.9v0.9h-0.9zM161.2 69.9h0.9v0.9h-0.9zM151.0 58.0h0.9v0.9h-0.9zM167.3 60.8h0.9v0.9h-0.9zM149.8 64.9h0.9v0.9h-0.9zM164.2 56.4h0.9v0.9h-0.9zM158.5 61.1h0.9v0.9h-0.9zM174.0 57.8h0.9v0.9h-0.9zM152.7 58.7h0.9v0.9h-0.9zM165.5 58.4h0.9v0.9h-0.9zM170.3 60.0h0.9v0.9h-0.9zM159.7 67.9h0.9v0.9h-0.9zM155.9 66.4h0.9v0.9h-0.9zM152.2 60.0h0.9v0.9h-0.9zM151.7 63.9h0.9v0.9h-0.9zM160.1 63.5h0.9v0.9h-0.9zM158.5 49.3h0.9v0.9h-0.9zM162.1 58.2h0.9v0.9h-0.9zM160.2 64.5h0.9v0.9h-0.9zM180.4 64.4h0.9v0.9h-0.9zM161.4 64.4h0.9v0.9h-0.9zM158.4 57.6h0.9v0.9h-0.9zM173.1 56.7h0.9v0.9h-0.9zM163.4 54.7h0.9v0.9h-0.9zM171.8 50.3h0.9v0.9h-0.9zM165.4 66.4h0.9v0.9h-0.9zM164.1 60.1h0.9v0.9h-0.9zM156.9 62.1h0.9v0.9h-0.9zM148.8 54.5h0.9v0.9h-0.9zM167.8 54.0h0.9v0.9h-0.9zM168.3 53.8h0.9v0.9h-0.9zM169.2 59.2h0.9v0.9h-0.9zM164.3 61.4h0.9v0.9h-0.9zM164.5 62.3h0.9v0.9h-0.9zM166.9 58.2h0.9v0.9h-0.9zM157.1 79.7h0.9v0.9h-0.9zM155.6 85.7h0.9v0.9h-0.9zM160.9 74.5h0.9v0.9h-0.9zM161.6 72.7h0.9v0.9h-0.9zM162.1 70.3h0.9v0.9h-0.9zM163.3 77.2h0.9v0.9h-0.9zM160.2 71.5h0.9v0.9h-0.9zM154.8 72.1h0.9v0.9h-0.9zM148.7 67.5h0.9v0.9h-0.9zM162.6 75.7h0.9v0.9h-0.9zM165.8 76.8h0.9v0.9h-0.9zM165.4 67.5h0.9v0.9h-0.9zM157.1 71.7h0.9v0.9h-0.9zM164.1 71.9h0.9v0.9h-0.9zM166.6 64.8h0.9v0.9h-0.9zM164.7 80.8h0.9v0.9h-0.9zM155.9 60.9h0.9v0.9h-0.9zM154.2 72.1h0.9v0.9h-0.9zM164.8 81.5h0.9v0.9h-0.9zM159.9 69.8h0.9v0.9h-0.9zM172.5 63.8h0.9v0.9h-0.9zM162.7 81.1h0.9v0.9h-0.9zM155.2 80.4h0.9v0.9h-0.9zM159.8 68.5h0.9v0.9h-0.9zM170.2 74.5h0.9v0.9h-0.9zM173.9 75.7h0.9v0.9h-0.9zM180.1 59.5h0.9v0.9h-0.9zM175.6 55.4h0.9v0.9h-0.9zM197.2 56.4h0.9v0.9h-0.9zM180.4 53.2h0.9v0.9h-0.9zM178.7 61.8h0.9v0.9h-0.9zM173.4 57.6h0.9v0.9h-0.9zM180.9 58.3h0.9v0.9h-0.9zM186.3 63.6h0.9v0.9h-0.9zM178.0 54.4h0.9v0.9h-0.9zM189.7 66.9h0.9v0.9h-0.9zM171.5 56.1h0.9v0.9h-0.9zM195.1 56.6h0.9v0.9h-0.9zM187.0 60.3h0.9v0.9h-0.9zM201.4 54.1h0.9v0.9h-0.9zM169.1 63.3h0.9v0.9h-0.9zM186.4 63.4h0.9v0.9h-0.9zM184.3 62.7h0.9v0.9h-0.9zM165.9 60.4h0.9v0.9h-0.9zM217.0 59.5h0.9v0.9h-0.9zM177.5 58.7h0.9v0.9h-0.9zM208.8 52.5h0.9v0.9h-0.9zM218.4 64.4h0.9v0.9h-0.9zM202.1 60.1h0.9v0.9h-0.9zM209.5 53.3h0.9v0.9h-0.9zM198.7 54.5h0.9v0.9h-0.9zM207.1 51.6h0.9v0.9h-0.9zM205.5 56.8h0.9v0.9h-0.9zM207.8 57.0h0.9v0.9h-0.9zM214.7 50.9h0.9v0.9h-0.9zM165.7 77.3h0.9v0.9h-0.9zM186.1 83.7h0.9v0.9h-0.9zM200.5 92.7h0.9v0.9h-0.9zM174.6 70.4h0.9v0.9h-0.9zM176.6 83.4h0.9v0.9h-0.9zM195.7 65.9h0.9v0.9h-0.9zM152.7 85.0h0.9v0.9h-0.9zM198.1 90.7h0.9v0.9h-0.9zM201.3 87.3h0.9v0.9h-0.9zM159.6 86.4h0.9v0.9h-0.9zM180.2 93.1h0.9v0.9h-0.9zM191.9 78.1h0.9v0.9h-0.9zM186.4 86.7h0.9v0.9h-0.9zM186.0 79.9h0.9v0.9h-0.9zM177.6 92.8h0.9v0.9h-0.9zM171.1 58.0h0.9v0.9h-0.9zM173.5 96.1h0.9v0.9h-0.9zM176.6 62.4h0.9v0.9h-0.9zM175.6 86.3h0.9v0.9h-0.9zM165.3 92.6h0.9v0.9h-0.9zM163.5 80.5h0.9v0.9h-0.9zM184.6 92.1h0.9v0.9h-0.9zM192.9 86.1h0.9v0.9h-0.9zM166.2 85.6h0.9v0.9h-0.9zM187.7 78.4h0.9v0.9h-0.9zM160.7 73.9h0.9v0.9h-0.9zM185.0 97.5h0.9v0.9h-0.9zM172.7 98.0h0.9v0.9h-0.9zM210.0 84.0h0.9v0.9h-0.9zM184.5 57.4h0.9v0.9h-0.9zM149.9 54.5h0.9v0.9h-0.9zM173.5 47.4h0.9v0.9h-0.9zM174.5 100.2h0.9v0.9h-0.9zM175.6 61.6h0.9v0.9h-0.9zM174.1 83.8h0.9v0.9h-0.9zM156.9 74.0h0.9v0.9h-0.9zM165.0 68.7h0.9v0.9h-0.9zM163.1 57.2h0.9v0.9h-0.9zM152.0 86.8h0.9v0.9h-0.9zM162.8 85.7h0.9v0.9h-0.9zM162.0 53.7h0.9v0.9h-0.9zM175.4 98.2h0.9v0.9h-0.9zM169.3 97.2h0.9v0.9h-0.9zM154.9 96.5h0.9v0.9h-0.9zM181.0 81.9h0.9v0.9h-0.9zM149.4 66.4h0.9v0.9h-0.9zM156.1 47.5h0.9v0.9h-0.9zM163.0 98.0h0.9v0.9h-0.9zM166.9 94.4h0.9v0.9h-0.9zM150.6 74.0h0.9v0.9h-0.9zM163.8 46.8h0.9v0.9h-0.9zM147.3 61.7h0.9v0.9h-0.9zM163.0 92.5h0.9v0.9h-0.9zM153.8 66.2h0.9v0.9h-0.9zM149.8 46.4h0.9v0.9h-0.9zM173.3 92.6h0.9v0.9h-0.9zM150.2 95.7h0.9v0.9h-0.9zM181.5 55.0h0.9v0.9h-0.9zM167.8 49.1h0.9v0.9h-0.9zM192.9 55.6h0.9v0.9h-0.9zM197.7 86.3h0.9v0.9h-0.9zM171.5 53.4h0.9v0.9h-0.9zM150.9 82.0h0.9v0.9h-0.9zM172.6 82.5h0.9v0.9h-0.9zM148.4 50.4h0.9v0.9h-0.9zM194.1 68.7h0.9v0.9h-0.9zM218.7 68.3h0.9v0.9h-0.9zM198.3 74.1h0.9v0.9h-0.9zM193.9 75.1h0.9v0.9h-0.9zM215.8 95.9h0.9v0.9h-0.9zM157.4 90.5h0.9v0.9h-0.9zM209.2 64.8h0.9v0.9h-0.9zM161.4 91.6h0.9v0.9h-0.9zM213.2 98.7h0.9v0.9h-0.9zM181.1 82.3h0.9v0.9h-0.9zM205.7 90.2h0.9v0.9h-0.9zM171.7 57.2h0.9v0.9h-0.9zM190.9 83.1h0.9v0.9h-0.9zM173.5 35.3h0.9v0.9h-0.9z" fill="#000" fill-opacity="0.5"/>
<path d="M155.7 86.0h0.9v0.9h-0.9zM162.1 90.1h0.9v0.9h-0.9zM164.2 97.3h0.9v0.9h-0.9zM168.0 83.0h0.9v0.9h-0.9zM160.6 91.1h0.9v0.9h-0.9zM165.5 91.6h0.9v0.9h-0.9zM158.2 89.1h0.9v0.9h-0.9zM157.9 87.9h0.9v0.9h-0.9zM166.3 88.1h0.9v0.9h-0.9zM162.5 90.4h0.9v0.9h-0.9zM166.4 88.8h0.9v0.9h-0.9zM160.0 99.0h0.9v0.9h-0.9zM162.6 87.8h0.9v0.9h-0.9zM164.8 93.7h0.9v0.9h-0.9zM165.3 93.6h0.9v0.9h-0.9zM161.7 96.7h0.9v0.9h-0.9zM160.6 88.6h0.9v0.9h-0.9zM156.8 89.3h0.9v0.9h-0.9zM167.3 95.0h0.9v0.9h-0.9zM161.2 98.2h0.9v0.9h-0.9zM164.5 91.8h0.9v0.9h-0.9zM158.8 88.0h0.9v0.9h-0.9zM162.5 84.9h0.9v0.9h-0.9zM164.1 93.2h0.9v0.9h-0.9zM161.1 94.4h0.9v0.9h-0.9zM159.2 85.8h0.9v0.9h-0.9zM166.0 92.3h0.9v0.9h-0.9zM160.8 91.9h0.9v0.9h-0.9zM167.2 89.3h0.9v0.9h-0.9zM160.5 100.9h0.9v0.9h-0.9zM161.3 87.7h0.9v0.9h-0.9zM166.5 96.7h0.9v0.9h-0.9zM166.5 85.3h0.9v0.9h-0.9zM165.3 89.2h0.9v0.9h-0.9zM167.8 88.0h0.9v0.9h-0.9zM158.9 93.4h0.9v0.9h-0.9zM165.4 83.0h0.9v0.9h-0.9zM159.4 93.0h0.9v0.9h-0.9zM171.2 93.4h0.9v0.9h-0.9zM162.8 91.9h0.9v0.9h-0.9zM161.1 86.4h0.9v0.9h-0.9zM162.1 92.5h0.9v0.9h-0.9zM160.8 88.4h0.9v0.9h-0.9zM162.5 89.0h0.9v0.9h-0.9zM160.5 95.1h0.9v0.9h-0.9zM162.7 95.7h0.9v0.9h-0.9zM160.0 92.6h0.9v0.9h-0.9zM158.7 85.0h0.9v0.9h-0.9zM163.3 96.2h0.9v0.9h-0.9zM172.1 87.8h0.9v0.9h-0.9zM168.6 94.4h0.9v0.9h-0.9zM161.2 87.9h0.9v0.9h-0.9zM163.7 87.7h0.9v0.9h-0.9zM172.7 90.6h0.9v0.9h-0.9zM165.8 87.2h0.9v0.9h-0.9zM159.8 82.5h0.9v0.9h-0.9zM165.9 96.8h0.9v0.9h-0.9zM164.8 92.6h0.9v0.9h-0.9zM162.5 92.5h0.9v0.9h-0.9zM164.3 92.5h0.9v0.9h-0.9zM162.8 92.7h0.9v0.9h-0.9zM166.9 86.7h0.9v0.9h-0.9zM166.4 77.0h0.9v0.9h-0.9zM156.4 87.0h0.9v0.9h-0.9zM158.8 93.1h0.9v0.9h-0.9zM160.4 89.5h0.9v0.9h-0.9zM159.9 90.5h0.9v0.9h-0.9zM159.6 95.4h0.9v0.9h-0.9zM158.3 92.6h0.9v0.9h-0.9zM165.6 89.6h0.9v0.9h-0.9zM162.9 88.9h0.9v0.9h-0.9zM165.8 94.7h0.9v0.9h-0.9zM162.2 84.6h0.9v0.9h-0.9zM165.7 86.4h0.9v0.9h-0.9zM154.7 82.1h0.9v0.9h-0.9zM161.7 90.2h0.9v0.9h-0.9zM161.1 93.0h0.9v0.9h-0.9zM164.7 83.3h0.9v0.9h-0.9zM162.7 88.0h0.9v0.9h-0.9zM165.8 95.4h0.9v0.9h-0.9zM151.4 88.4h0.9v0.9h-0.9zM148.2 92.9h0.9v0.9h-0.9zM155.7 80.0h0.9v0.9h-0.9zM173.4 95.6h0.9v0.9h-0.9zM163.4 93.1h0.9v0.9h-0.9zM160.4 89.2h0.9v0.9h-0.9zM174.1 88.0h0.9v0.9h-0.9zM153.5 96.6h0.9v0.9h-0.9zM170.0 86.9h0.9v0.9h-0.9zM170.5 74.3h0.9v0.9h-0.9zM160.3 82.5h0.9v0.9h-0.9zM166.6 100.5h0.9v0.9h-0.9zM172.0 92.8h0.9v0.9h-0.9zM167.3 78.6h0.9v0.9h-0.9zM157.7 89.0h0.9v0.9h-0.9zM157.0 90.0h0.9v0.9h-0.9zM166.2 98.2h0.9v0.9h-0.9zM172.0 87.3h0.9v0.9h-0.9zM161.9 82.3h0.9v0.9h-0.9zM158.7 99.4h0.9v0.9h-0.9zM156.0 88.6h0.9v0.9h-0.9zM181.3 93.3h0.9v0.9h-0.9zM162.6 82.9h0.9v0.9h-0.9zM147.9 90.8h0.9v0.9h-0.9zM167.9 90.4h0.9v0.9h-0.9zM168.8 87.1h0.9v0.9h-0.9zM167.9 87.3h0.9v0.9h-0.9zM167.3 93.2h0.9v0.9h-0.9zM171.9 83.6h0.9v0.9h-0.9zM169.4 88.3h0.9v0.9h-0.9zM178.7 81.6h0.9v0.9h-0.9zM159.0 89.7h0.9v0.9h-0.9zM150.6 99.3h0.9v0.9h-0.9zM159.8 78.7h0.9v0.9h-0.9zM163.3 83.1h0.9v0.9h-0.9zM153.6 79.6h0.9v0.9h-0.9zM164.8 81.3h0.9v0.9h-0.9zM156.1 96.2h0.9v0.9h-0.9zM146.5 85.2h0.9v0.9h-0.9zM160.2 94.2h0.9v0.9h-0.9zM161.6 86.0h0.9v0.9h-0.9zM154.5 85.5h0.9v0.9h-0.9zM165.6 96.5h0.9v0.9h-0.9zM164.3 83.1h0.9v0.9h-0.9zM160.3 88.3h0.9v0.9h-0.9zM152.5 87.5h0.9v0.9h-0.9zM161.5 78.7h0.9v0.9h-0.9zM156.6 88.6h0.9v0.9h-0.9zM162.7 81.9h0.9v0.9h-0.9zM168.2 87.1h0.9v0.9h-0.9zM161.4 88.3h0.9v0.9h-0.9zM167.5 85.8h0.9v0.9h-0.9zM160.7 97.0h0.9v0.9h-0.9zM169.1 80.3h0.9v0.9h-0.9zM185.0 76.7h0.9v0.9h-0.9zM158.9 90.0h0.9v0.9h-0.9zM162.6 95.4h0.9v0.9h-0.9zM162.6 85.1h0.9v0.9h-0.9zM164.7 90.2h0.9v0.9h-0.9zM156.2 96.9h0.9v0.9h-0.9zM159.3 81.4h0.9v0.9h-0.9zM152.5 91.8h0.9v0.9h-0.9zM161.0 87.0h0.9v0.9h-0.9zM157.9 96.6h0.9v0.9h-0.9zM166.9 87.9h0.9v0.9h-0.9zM156.8 95.7h0.9v0.9h-0.9zM165.1 87.9h0.9v0.9h-0.9zM147.0 83.5h0.9v0.9h-0.9zM158.4 75.3h0.9v0.9h-0.9zM162.8 89.5h0.9v0.9h-0.9zM165.9 89.0h0.9v0.9h-0.9zM168.8 92.1h0.9v0.9h-0.9zM156.9 93.3h0.9v0.9h-0.9zM171.7 87.0h0.9v0.9h-0.9zM163.9 79.7h0.9v0.9h-0.9zM169.9 90.4h0.9v0.9h-0.9zM164.2 88.2h0.9v0.9h-0.9zM160.3 100.3h0.9v0.9h-0.9zM155.6 78.4h0.9v0.9h-0.9zM161.7 86.3h0.9v0.9h-0.9zM167.7 85.9h0.9v0.9h-0.9zM160.3 81.4h0.9v0.9h-0.9zM163.5 75.5h0.9v0.9h-0.9zM156.7 90.4h0.9v0.9h-0.9zM152.3 96.3h0.9v0.9h-0.9zM168.8 88.8h0.9v0.9h-0.9zM175.3 90.5h0.9v0.9h-0.9zM157.9 69.6h0.9v0.9h-0.9zM163.2 84.5h0.9v0.9h-0.9zM157.2 84.5h0.9v0.9h-0.9zM165.0 100.0h0.9v0.9h-0.9zM158.1 89.7h0.9v0.9h-0.9zM167.3 94.8h0.9v0.9h-0.9zM170.7 98.3h0.9v0.9h-0.9zM158.3 91.1h0.9v0.9h-0.9zM166.6 85.6h0.9v0.9h-0.9zM168.5 99.8h0.9v0.9h-0.9zM163.9 96.8h0.9v0.9h-0.9zM173.9 98.4h0.9v0.9h-0.9zM163.1 84.7h0.9v0.9h-0.9zM155.4 88.1h0.9v0.9h-0.9zM157.3 96.6h0.9v0.9h-0.9zM146.0 79.0h0.9v0.9h-0.9zM165.5 81.4h0.9v0.9h-0.9zM161.9 93.8h0.9v0.9h-0.9zM180.8 82.2h0.9v0.9h-0.9zM152.1 88.5h0.9v0.9h-0.9zM162.7 92.5h0.9v0.9h-0.9zM159.4 92.9h0.9v0.9h-0.9zM156.6 87.9h0.9v0.9h-0.9zM162.5 90.1h0.9v0.9h-0.9zM160.5 96.1h0.9v0.9h-0.9zM176.1 87.6h0.9v0.9h-0.9zM166.7 62.5h0.9v0.9h-0.9zM161.0 62.4h0.9v0.9h-0.9zM171.2 62.8h0.9v0.9h-0.9zM169.6 64.5h0.9v0.9h-0.9zM172.4 58.8h0.9v0.9h-0.9zM169.1 66.4h0.9v0.9h-0.9zM167.2 57.0h0.9v0.9h-0.9zM157.9 59.6h0.9v0.9h-0.9zM162.2 59.9h0.9v0.9h-0.9zM153.6 54.5h0.9v0.9h-0.9zM168.5 59.4h0.9v0.9h-0.9zM162.3 66.9h0.9v0.9h-0.9zM159.4 62.0h0.9v0.9h-0.9zM168.6 60.5h0.9v0.9h-0.9zM161.1 62.5h0.9v0.9h-0.9zM160.5 60.8h0.9v0.9h-0.9zM159.3 63.9h0.9v0.9h-0.9zM167.9 65.7h0.9v0.9h-0.9zM158.9 62.2h0.9v0.9h-0.9zM165.1 57.0h0.9v0.9h-0.9zM160.9 62.0h0.9v0.9h-0.9zM157.9 65.0h0.9v0.9h-0.9zM161.2 65.7h0.9v0.9h-0.9zM166.7 60.9h0.9v0.9h-0.9zM164.1 61.5h0.9v0.9h-0.9zM163.9 55.8h0.9v0.9h-0.9zM154.8 58.6h0.9v0.9h-0.9zM161.8 59.0h0.9v0.9h-0.9zM167.2 67.0h0.9v0.9h-0.9zM160.9 60.0h0.9v0.9h-0.9zM157.5 61.2h0.9v0.9h-0.9zM162.2 65.0h0.9v0.9h-0.9zM150.7 67.0h0.9v0.9h-0.9zM165.2 63.6h0.9v0.9h-0.9zM164.1 60.3h0.9v0.9h-0.9zM161.9 58.3h0.9v0.9h-0.9zM155.3 58.0h0.9v0.9h-0.9zM166.9 58.8h0.9v0.9h-0.9zM163.1 63.8h0.9v0.9h-0.9zM164.9 58.6h0.9v0.9h-0.9zM161.4 65.0h0.9v0.9h-0.9zM164.0 65.6h0.9v0.9h-0.9zM162.4 60.2h0.9v0.9h-0.9zM166.9 58.1h0.9v0.9h-0.9zM160.6 60.3h0.9v0.9h-0.9zM170.7 62.9h0.9v0.9h-0.9zM162.5 60.9h0.9v0.9h-0.9zM159.4 65.8h0.9v0.9h-0.9zM161.9 61.5h0.9v0.9h-0.9zM158.9 55.0h0.9v0.9h-0.9zM173.0 55.2h0.9v0.9h-0.9zM157.6 65.0h0.9v0.9h-0.9zM167.9 65.3h0.9v0.9h-0.9zM154.1 59.5h0.9v0.9h-0.9zM152.5 66.5h0.9v0.9h-0.9zM171.8 67.7h0.9v0.9h-0.9zM153.3 66.4h0.9v0.9h-0.9zM162.9 57.9h0.9v0.9h-0.9zM160.8 53.9h0.9v0.9h-0.9zM161.6 65.4h0.9v0.9h-0.9zM151.1 60.3h0.9v0.9h-0.9zM159.9 66.8h0.9v0.9h-0.9zM150.0 56.7h0.9v0.9h-0.9zM155.0 69.6h0.9v0.9h-0.9zM172.9 59.2h0.9v0.9h-0.9zM158.4 49.5h0.9v0.9h-0.9zM173.1 61.7h0.9v0.9h-0.9zM158.7 59.1h0.9v0.9h-0.9zM148.6 63.3h0.9v0.9h-0.9zM163.7 61.8h0.9v0.9h-0.9zM167.4 50.6h0.9v0.9h-0.9zM149.3 60.3h0.9v0.9h-0.9zM151.8 56.4h0.9v0.9h-0.9zM155.4 52.0h0.9v0.9h-0.9zM157.9 61.5h0.9v0.9h-0.9zM165.3 66.7h0.9v0.9h-0.9zM160.0 58.2h0.9v0.9h-0.9zM163.1 72.2h0.9v0.9h-0.9zM172.5 66.0h0.9v0.9h-0.9zM164.2 63.4h0.9v0.9h-0.9zM154.7 48.4h0.9v0.9h-0.9zM147.5 54.6h0.9v0.9h-0.9zM167.2 65.0h0.9v0.9h-0.9zM158.3 63.4h0.9v0.9h-0.9zM166.0 60.6h0.9v0.9h-0.9zM164.0 68.0h0.9v0.9h-0.9zM168.0 58.7h0.9v0.9h-0.9zM157.0 62.4h0.9v0.9h-0.9zM152.9 58.1h0.9v0.9h-0.9zM171.2 67.4h0.9v0.9h-0.9zM161.4 62.8h0.9v0.9h-0.9zM162.7 66.4h0.9v0.9h-0.9zM166.5 60.2h0.9v0.9h-0.9zM164.5 68.2h0.9v0.9h-0.9zM161.2 62.7h0.9v0.9h-0.9zM155.9 68.6h0.9v0.9h-0.9zM156.7 63.8h0.9v0.9h-0.9zM156.4 68.0h0.9v0.9h-0.9zM167.4 58.5h0.9v0.9h-0.9zM159.9 57.7h0.9v0.9h-0.9zM171.8 55.6h0.9v0.9h-0.9zM166.0 59.0h0.9v0.9h-0.9zM156.3 70.2h0.9v0.9h-0.9zM155.7 62.8h0.9v0.9h-0.9zM159.6 67.8h0.9v0.9h-0.9zM160.7 61.9h0.9v0.9h-0.9zM154.0 64.7h0.9v0.9h-0.9zM161.3 54.4h0.9v0.9h-0.9zM158.5 56.8h0.9v0.9h-0.9zM164.2 62.8h0.9v0.9h-0.9zM177.2 59.8h0.9v0.9h-0.9zM156.2 59.2h0.9v0.9h-0.9zM166.8 58.3h0.9v0.9h-0.9zM167.1 69.6h0.9v0.9h-0.9zM154.4 56.3h0.9v0.9h-0.9zM150.4 60.8h0.9v0.9h-0.9zM153.4 62.8h0.9v0.9h-0.9zM161.6 63.2h0.9v0.9h-0.9zM160.7 64.0h0.9v0.9h-0.9zM153.8 61.6h0.9v0.9h-0.9zM172.7 64.8h0.9v0.9h-0.9zM164.7 58.5h0.9v0.9h-0.9zM164.3 59.4h0.9v0.9h-0.9zM165.6 78.4h0.9v0.9h-0.9zM164.5 62.7h0.9v0.9h-0.9zM158.1 67.9h0.9v0.9h-0.9zM163.5 67.6h0.9v0.9h-0.9zM158.0 63.1h0.9v0.9h-0.9zM172.5 63.1h0.9v0.9h-0.9zM160.2 72.7h0.9v0.9h-0.9zM158.5 79.4h0.9v0.9h-0.9zM158.0 71.9h0.9v0.9h-0.9zM165.1 78.4h0.9v0.9h-0.9zM166.7 72.6h0.9v0.9h-0.9zM158.3 95.4h0.9v0.9h-0.9zM163.2 75.2h0.9v0.9h-0.9zM167.9 97.7h0.9v0.9h-0.9zM171.1 68.1h0.9v0.9h-0.9zM162.9 64.4h0.9v0.9h-0.9zM155.0 70.1h0.9v0.9h-0.9zM164.2 82.3h0.9v0.9h-0.9zM164.7 79.4h0.9v0.9h-0.9zM150.3 59.7h0.9v0.9h-0.9zM160.7 76.2h0.9v0.9h-0.9zM168.7 82.3h0.9v0.9h-0.9zM160.9 71.0h0.9v0.9h-0.9zM158.4 64.3h0.9v0.9h-0.9zM165.9 67.9h0.9v0.9h-0.9zM158.8 76.4h0.9v0.9h-0.9zM165.0 72.1h0.9v0.9h-0.9zM164.1 61.4h0.9v0.9h-0.9zM158.1 57.9h0.9v0.9h-0.9zM172.7 86.7h0.9v0.9h-0.9zM165.0 86.0h0.9v0.9h-0.9zM166.3 74.4h0.9v0.9h-0.9zM165.0 79.6h0.9v0.9h-0.9zM174.3 67.4h0.9v0.9h-0.9zM203.5 59.5h0.9v0.9h-0.9zM179.2 56.6h0.9v0.9h-0.9zM193.6 65.2h0.9v0.9h-0.9zM164.1 64.5h0.9v0.9h-0.9zM172.2 61.8h0.9v0.9h-0.9zM190.8 59.8h0.9v0.9h-0.9zM189.3 61.6h0.9v0.9h-0.9zM160.2 65.4h0.9v0.9h-0.9zM193.7 56.7h0.9v0.9h-0.9zM187.7 60.9h0.9v0.9h-0.9zM167.3 52.5h0.9v0.9h-0.9zM173.6 64.6h0.9v0.9h-0.9zM191.1 61.5h0.9v0.9h-0.9zM183.3 53.5h0.9v0.9h-0.9zM152.6 58.3h0.9v0.9h-0.9zM205.2 59.8h0.9v0.9h-0.9zM187.5 60.7h0.9v0.9h-0.9zM179.1 62.5h0.9v0.9h-0.9zM182.0 61.6h0.9v0.9h-0.9zM222.3 48.5h0.9v0.9h-0.9zM208.9 59.8h0.9v0.9h-0.9zM220.1 54.1h0.9v0.9h-0.9zM199.0 62.4h0.9v0.9h-0.9zM213.0 52.1h0.9v0.9h-0.9zM213.7 61.2h0.9v0.9h-0.9zM207.7 46.6h0.9v0.9h-0.9zM197.8 53.4h0.9v0.9h-0.9zM190.5 92.5h0.9v0.9h-0.9zM182.0 51.0h0.9v0.9h-0.9zM175.1 83.1h0.9v0.9h-0.9zM175.2 80.4h0.9v0.9h-0.9zM184.2 73.8h0.9v0.9h-0.9zM201.2 90.5h0.9v0.9h-0.9zM146.9 46.7h0.9v0.9h-0.9zM166.9 64.2h0.9v0.9h-0.9zM173.0 93.7h0.9v0.9h-0.9zM179.1 81.8h0.9v0.9h-0.9zM159.0 93.2h0.9v0.9h-0.9zM164.9 84.4h0.9v0.9h-0.9zM169.2 59.9h0.9v0.9h-0.9zM187.6 87.9h0.9v0.9h-0.9zM180.2 80.6h0.9v0.9h-0.9zM164.7 75.3h0.9v0.9h-0.9zM185.6 86.9h0.9v0.9h-0.9zM180.6 92.2h0.9v0.9h-0.9zM188.6 75.4h0.9v0.9h-0.9zM176.6 85.0h0.9v0.9h-0.9zM163.1 86.0h0.9v0.9h-0.9zM155.2 83.7h0.9v0.9h-0.9zM196.1 78.7h0.9v0.9h-0.9zM183.7 51.3h0.9v0.9h-0.9zM199.4 90.8h0.9v0.9h-0.9zM172.6 85.8h0.9v0.9h-0.9zM188.2 91.9h0.9v0.9h-0.9zM188.1 90.6h0.9v0.9h-0.9zM177.1 91.3h0.9v0.9h-0.9zM186.9 73.6h0.9v0.9h-0.9zM199.0 74.5h0.9v0.9h-0.9zM162.5 46.7h0.9v0.9h-0.9zM158.6 52.5h0.9v0.9h-0.9zM168.4 69.9h0.9v0.9h-0.9zM151.7 93.7h0.9v0.9h-0.9zM157.7 97.7h0.9v0.9h-0.9zM149.4 70.0h0.9v0.9h-0.9zM181.6 68.5h0.9v0.9h-0.9zM177.1 90.0h0.9v0.9h-0.9zM156.5 61.3h0.9v0.9h-0.9zM146.6 67.9h0.9v0.9h-0.9zM181.9 57.7h0.9v0.9h-0.9zM175.4 49.5h0.9v0.9h-0.9zM167.0 87.4h0.9v0.9h-0.9zM159.8 77.3h0.9v0.9h-0.9zM149.1 94.4h0.9v0.9h-0.9zM179.7 89.7h0.9v0.9h-0.9zM166.6 63.5h0.9v0.9h-0.9zM180.1 87.8h0.9v0.9h-0.9zM168.9 91.9h0.9v0.9h-0.9zM166.7 77.3h0.9v0.9h-0.9zM146.9 76.9h0.9v0.9h-0.9zM159.2 79.4h0.9v0.9h-0.9zM155.1 79.7h0.9v0.9h-0.9zM181.6 85.7h0.9v0.9h-0.9zM172.0 72.3h0.9v0.9h-0.9zM165.7 88.2h0.9v0.9h-0.9zM157.8 99.7h0.9v0.9h-0.9zM160.5 62.5h0.9v0.9h-0.9zM192.8 53.8h0.9v0.9h-0.9zM164.2 46.3h0.9v0.9h-0.9zM192.0 65.4h0.9v0.9h-0.9zM189.9 56.5h0.9v0.9h-0.9zM164.8 55.7h0.9v0.9h-0.9zM164.6 46.8h0.9v0.9h-0.9zM203.6 81.8h0.9v0.9h-0.9zM191.6 73.5h0.9v0.9h-0.9zM180.3 74.6h0.9v0.9h-0.9zM146.2 70.1h0.9v0.9h-0.9zM154.3 66.4h0.9v0.9h-0.9zM223.6 65.6h0.9v0.9h-0.9zM208.1 57.4h0.9v0.9h-0.9zM156.3 83.5h0.9v0.9h-0.9zM227.0 64.2h0.9v0.9h-0.9zM221.4 95.1h0.9v0.9h-0.9zM149.0 98.4h0.9v0.9h-0.9zM180.7 64.8h0.9v0.9h-0.9zM197.3 77.4h0.9v0.9h-0.9zM227.0 78.2h0.9v0.9h-0.9zM180.1 37.2h0.9v0.9h-0.9z" fill="#000" fill-opacity="0.5"/>
<path d="M161.9 89.9h0.9v0.9h-0.9zM161.8 92.9h0.9v0.9h-0.9zM163.7 88.4h0.9v0.9h-0.9zM168.4 93.1h0.9v0.9h-0.9zM162.8 87.2h0.9v0.9h-0.9zM166.6 85.8h0.9v0.9h-0.9zM166.0 88.4h0.9v0.9h-0.9zM162.9 97.1h0.9v0.9h-0.9zM161.4 90.6h0.9v0.9h-0.9zM151.6 85.7h0.9v0.9h-0.9zM152.4 84.9h0.9v0.9h-0.9zM159.7 92.3h0.9v0.9h-0.9zM165.0 87.3h0.9v0.9h-0.9zM160.0 90.2h0.9v0.9h-0.9zM157.9 87.5h0.9v0.9h-0.9zM163.9 88.5h0.9v0.9h-0.9zM162.0 85.4h0.9v0.9h-0.9zM166.5 93.0h0.9v0.9h-0.9zM162.4 85.1h0.9v0.9h-0.9zM167.7 94.6h0.9v0.9h-0.9zM163.5 84.7h0.9v0.9h-0.9zM155.5 90.9h0.9v0.9h-0.9zM160.0 92.3h0.9v0.9h-0.9zM163.5 83.6h0.9v0.9h-0.9zM166.5 87.9h0.9v0.9h-0.9zM166.5 90.8h0.9v0.9h-0.9zM163.4 86.2h0.9v0.9h-0.9zM160.7 90.1h0.9v0.9h-0.9zM166.0 87.0h0.9v0.9h-0.9zM161.2 97.0h0.9v0.9h-0.9zM159.0 97.4h0.9v0.9h-0.9zM160.4 97.2h0.9v0.9h-0.9zM156.7 90.1h0.9v0.9h-0.9zM160.0 89.6h0.9v0.9h-0.9zM158.6 92.6h0.9v0.9h-0.9zM164.7 89.3h0.9v0.9h-0.9zM157.7 85.3h0.9v0.9h-0.9zM165.2 85.7h0.9v0.9h-0.9zM167.7 96.4h0.9v0.9h-0.9zM158.3 88.6h0.9v0.9h-0.9zM156.8 91.2h0.9v0.9h-0.9zM165.9 94.8h0.9v0.9h-0.9zM163.3 81.5h0.9v0.9h-0.9zM169.9 98.1h0.9v0.9h-0.9zM160.7 97.6h0.9v0.9h-0.9zM163.7 90.1h0.9v0.9h-0.9zM165.8 98.8h0.9v0.9h-0.9zM168.2 89.5h0.9v0.9h-0.9zM165.0 95.5h0.9v0.9h-0.9zM157.9 96.4h0.9v0.9h-0.9zM169.4 94.4h0.9v0.9h-0.9zM158.6 80.8h0.9v0.9h-0.9zM159.4 94.1h0.9v0.9h-0.9zM160.7 94.9h0.9v0.9h-0.9zM162.6 95.4h0.9v0.9h-0.9zM166.0 91.5h0.9v0.9h-0.9zM163.9 92.9h0.9v0.9h-0.9zM166.1 92.2h0.9v0.9h-0.9zM159.2 87.4h0.9v0.9h-0.9zM162.0 89.0h0.9v0.9h-0.9zM165.2 87.3h0.9v0.9h-0.9zM169.0 93.2h0.9v0.9h-0.9zM167.3 88.4h0.9v0.9h-0.9zM166.5 90.0h0.9v0.9h-0.9zM167.0 88.2h0.9v0.9h-0.9zM165.7 83.4h0.9v0.9h-0.9zM163.7 88.4h0.9v0.9h-0.9zM166.7 85.5h0.9v0.9h-0.9zM156.6 88.5h0.9v0.9h-0.9zM164.9 91.1h0.9v0.9h-0.9zM164.7 82.2h0.9v0.9h-0.9zM160.6 87.1h0.9v0.9h-0.9zM161.1 94.8h0.9v0.9h-0.9zM163.3 83.6h0.9v0.9h-0.9zM155.9 95.9h0.9v0.9h-0.9zM163.2 93.4h0.9v0.9h-0.9zM161.2 87.6h0.9v0.9h-0.9zM163.3 92.6h0.9v0.9h-0.9zM163.3 84.7h0.9v0.9h-0.9zM166.6 90.9h0.9v0.9h-0.9zM172.1 85.2h0.9v0.9h-0.9zM168.8 95.1h0.9v0.9h-0.9zM150.8 84.8h0.9v0.9h-0.9zM172.9 90.3h0.9v0.9h-0.9zM163.8 96.3h0.9v0.9h-0.9zM171.1 95.8h0.9v0.9h-0.9zM157.7 86.4h0.9v0.9h-0.9zM165.6 98.2h0.9v0.9h-0.9zM163.5 88.1h0.9v0.9h-0.9zM158.5 83.2h0.9v0.9h-0.9zM162.7 98.0h0.9v0.9h-0.9zM149.5 90.5h0.9v0.9h-0.9zM163.0 94.1h0.9v0.9h-0.9zM153.4 89.9h0.9v0.9h-0.9zM163.9 88.1h0.9v0.9h-0.9zM166.4 92.9h0.9v0.9h-0.9zM154.7 85.0h0.9v0.9h-0.9zM164.6 83.8h0.9v0.9h-0.9zM169.2 95.5h0.9v0.9h-0.9zM162.5 90.3h0.9v0.9h-0.9zM172.3 92.9h0.9v0.9h-0.9zM164.5 87.9h0.9v0.9h-0.9zM149.2 87.8h0.9v0.9h-0.9zM161.5 94.9h0.9v0.9h-0.9zM156.6 97.7h0.9v0.9h-0.9zM165.5 85.6h0.9v0.9h-0.9zM159.6 97.8h0.9v0.9h-0.9zM167.7 94.7h0.9v0.9h-0.9zM162.5 87.0h0.9v0.9h-0.9zM154.9 92.6h0.9v0.9h-0.9zM154.9 88.2h0.9v0.9h-0.9zM168.6 79.8h0.9v0.9h-0.9zM174.6 85.3h0.9v0.9h-0.9zM159.0 91.1h0.9v0.9h-0.9zM154.3 84.6h0.9v0.9h-0.9zM168.1 85.4h0.9v0.9h-0.9zM158.3 85.2h0.9v0.9h-0.9zM166.1 97.1h0.9v0.9h-0.9zM182.3 90.5h0.9v0.9h-0.9zM165.8 90.2h0.9v0.9h-0.9zM173.1 92.4h0.9v0.9h-0.9zM157.3 83.1h0.9v0.9h-0.9zM160.2 98.0h0.9v0.9h-0.9zM157.4 90.7h0.9v0.9h-0.9zM173.5 85.4h0.9v0.9h-0.9zM148.9 93.2h0.9v0.9h-0.9zM150.2 79.3h0.9v0.9h-0.9zM164.5 90.7h0.9v0.9h-0.9zM165.6 87.1h0.9v0.9h-0.9zM159.4 82.9h0.9v0.9h-0.9zM157.4 79.2h0.9v0.9h-0.9zM173.4 90.9h0.9v0.9h-0.9zM160.7 81.1h0.9v0.9h-0.9zM153.4 92.2h0.9v0.9h-0.9zM150.4 73.9h0.9v0.9h-0.9zM161.5 85.0h0.9v0.9h-0.9zM164.1 88.0h0.9v0.9h-0.9zM161.1 91.9h0.9v0.9h-0.9zM170.1 89.3h0.9v0.9h-0.9zM164.0 89.5h0.9v0.9h-0.9zM161.8 73.4h0.9v0.9h-0.9zM165.0 83.1h0.9v0.9h-0.9zM161.5 90.7h0.9v0.9h-0.9zM164.3 87.0h0.9v0.9h-0.9zM165.3 83.3h0.9v0.9h-0.9zM163.0 96.5h0.9v0.9h-0.9zM153.3 86.7h0.9v0.9h-0.9zM166.0 94.6h0.9v0.9h-0.9zM159.9 90.8h0.9v0.9h-0.9zM154.7 94.3h0.9v0.9h-0.9zM163.3 94.8h0.9v0.9h-0.9zM165.6 83.1h0.9v0.9h-0.9zM172.7 84.9h0.9v0.9h-0.9zM157.1 96.5h0.9v0.9h-0.9zM168.6 80.9h0.9v0.9h-0.9zM162.3 98.5h0.9v0.9h-0.9zM158.6 96.2h0.9v0.9h-0.9zM167.6 78.7h0.9v0.9h-0.9zM161.7 88.7h0.9v0.9h-0.9zM174.7 87.7h0.9v0.9h-0.9zM165.5 87.1h0.9v0.9h-0.9zM175.1 84.5h0.9v0.9h-0.9zM170.4 88.9h0.9v0.9h-0.9zM170.3 75.4h0.9v0.9h-0.9zM160.3 93.4h0.9v0.9h-0.9zM151.7 87.1h0.9v0.9h-0.9zM153.7 88.3h0.9v0.9h-0.9zM162.2 81.6h0.9v0.9h-0.9zM160.9 84.3h0.9v0.9h-0.9zM163.3 78.9h0.9v0.9h-0.9zM156.7 85.3h0.9v0.9h-0.9zM163.3 100.2h0.9v0.9h-0.9zM172.3 80.8h0.9v0.9h-0.9zM167.8 100.4h0.9v0.9h-0.9zM165.4 86.8h0.9v0.9h-0.9zM174.0 82.2h0.9v0.9h-0.9zM167.8 84.5h0.9v0.9h-0.9zM156.6 86.8h0.9v0.9h-0.9zM171.5 85.7h0.9v0.9h-0.9zM174.3 91.2h0.9v0.9h-0.9zM156.2 93.5h0.9v0.9h-0.9zM162.1 89.2h0.9v0.9h-0.9zM159.3 75.1h0.9v0.9h-0.9zM162.2 89.8h0.9v0.9h-0.9zM156.3 87.0h0.9v0.9h-0.9zM155.9 95.6h0.9v0.9h-0.9zM165.9 84.5h0.9v0.9h-0.9zM157.9 88.2h0.9v0.9h-0.9zM163.1 92.3h0.9v0.9h-0.9zM162.1 83.2h0.9v0.9h-0.9zM161.0 98.6h0.9v0.9h-0.9zM152.7 82.6h0.9v0.9h-0.9zM159.1 60.5h0.9v0.9h-0.9zM160.4 58.2h0.9v0.9h-0.9zM161.2 67.1h0.9v0.9h-0.9zM159.2 61.0h0.9v0.9h-0.9zM160.6 58.9h0.9v0.9h-0.9zM171.0 61.2h0.9v0.9h-0.9zM169.7 61.4h0.9v0.9h-0.9zM168.6 58.9h0.9v0.9h-0.9zM161.3 62.8h0.9v0.9h-0.9zM160.8 60.7h0.9v0.9h-0.9zM160.8 57.7h0.9v0.9h-0.9zM159.9 63.4h0.9v0.9h-0.9zM153.3 56.7h0.9v0.9h-0.9zM164.0 56.9h0.9v0.9h-0.9zM158.4 62.4h0.9v0.9h-0.9zM163.6 66.4h0.9v0.9h-0.9zM159.0 62.1h0.9v0.9h-0.9zM160.7 63.7h0.9v0.9h-0.9zM167.0 65.0h0.9v0.9h-0.9zM162.8 64.5h0.9v0.9h-0.9zM166.1 62.2h0.9v0.9h-0.9zM157.7 56.7h0.9v0.9h-0.9zM163.7 61.7h0.9v0.9h-0.9zM159.7 65.6h0.9v0.9h-0.9zM158.8 60.5h0.9v0.9h-0.9zM163.7 60.7h0.9v0.9h-0.9zM161.4 59.8h0.9v0.9h-0.9zM165.9 62.9h0.9v0.9h-0.9zM162.8 60.2h0.9v0.9h-0.9zM161.7 58.9h0.9v0.9h-0.9zM162.9 63.4h0.9v0.9h-0.9zM164.2 65.3h0.9v0.9h-0.9zM165.6 57.2h0.9v0.9h-0.9zM166.0 61.5h0.9v0.9h-0.9zM160.6 61.4h0.9v0.9h-0.9zM159.0 55.7h0.9v0.9h-0.9zM166.4 62.8h0.9v0.9h-0.9zM162.8 58.3h0.9v0.9h-0.9zM157.2 55.5h0.9v0.9h-0.9zM162.2 58.8h0.9v0.9h-0.9zM168.4 55.9h0.9v0.9h-0.9zM152.9 57.1h0.9v0.9h-0.9zM171.9 60.2h0.9v0.9h-0.9zM160.9 59.0h0.9v0.9h-0.9zM161.4 62.6h0.9v0.9h-0.9zM166.6 54.3h0.9v0.9h-0.9zM164.8 55.8h0.9v0.9h-0.9zM162.8 62.8h0.9v0.9h-0.9zM162.1 67.3h0.9v0.9h-0.9zM159.1 65.4h0.9v0.9h-0.9zM156.0 53.4h0.9v0.9h-0.9zM165.7 68.2h0.9v0.9h-0.9zM159.6 55.2h0.9v0.9h-0.9zM163.8 58.8h0.9v0.9h-0.9zM167.5 58.3h0.9v0.9h-0.9zM179.2 47.8h0.9v0.9h-0.9zM164.1 53.2h0.9v0.9h-0.9zM157.6 51.3h0.9v0.9h-0.9zM161.8 64.4h0.9v0.9h-0.9zM158.4 54.4h0.9v0.9h-0.9zM159.9 66.6h0.9v0.9h-0.9zM173.7 59.1h0.9v0.9h-0.9zM156.4 65.5h0.9v0.9h-0.9zM160.4 64.0h0.9v0.9h-0.9zM159.7 62.3h0.9v0.9h-0.9zM160.5 62.6h0.9v0.9h-0.9zM163.8 65.3h0.9v0.9h-0.9zM170.1 63.4h0.9v0.9h-0.9zM151.3 61.0h0.9v0.9h-0.9zM165.3 58.1h0.9v0.9h-0.9zM170.3 58.4h0.9v0.9h-0.9zM158.9 64.5h0.9v0.9h-0.9zM177.9 50.8h0.9v0.9h-0.9zM160.7 63.3h0.9v0.9h-0.9zM165.9 60.0h0.9v0.9h-0.9zM159.8 72.8h0.9v0.9h-0.9zM156.0 54.9h0.9v0.9h-0.9zM167.2 64.8h0.9v0.9h-0.9zM149.0 65.0h0.9v0.9h-0.9zM157.3 45.8h0.9v0.9h-0.9zM153.3 62.2h0.9v0.9h-0.9zM173.9 67.0h0.9v0.9h-0.9zM153.3 62.8h0.9v0.9h-0.9zM153.2 65.5h0.9v0.9h-0.9zM163.5 80.4h0.9v0.9h-0.9zM161.2 61.6h0.9v0.9h-0.9zM162.0 60.6h0.9v0.9h-0.9zM149.9 59.0h0.9v0.9h-0.9zM152.8 57.0h0.9v0.9h-0.9zM151.3 54.0h0.9v0.9h-0.9zM161.5 60.7h0.9v0.9h-0.9zM164.8 67.5h0.9v0.9h-0.9zM162.2 57.8h0.9v0.9h-0.9zM160.1 58.6h0.9v0.9h-0.9zM146.8 60.8h0.9v0.9h-0.9zM155.7 60.9h0.9v0.9h-0.9zM155.3 65.5h0.9v0.9h-0.9zM169.6 66.4h0.9v0.9h-0.9zM149.6 54.5h0.9v0.9h-0.9zM165.7 68.1h0.9v0.9h-0.9zM163.1 60.3h0.9v0.9h-0.9zM156.5 61.6h0.9v0.9h-0.9zM176.9 56.5h0.9v0.9h-0.9zM171.3 61.9h0.9v0.9h-0.9zM167.3 61.8h0.9v0.9h-0.9zM163.2 65.6h0.9v0.9h-0.9zM158.6 67.0h0.9v0.9h-0.9zM171.4 64.5h0.9v0.9h-0.9zM156.6 58.3h0.9v0.9h-0.9zM169.1 61.8h0.9v0.9h-0.9zM158.0 59.3h0.9v0.9h-0.9zM174.3 67.6h0.9v0.9h-0.9zM161.9 65.4h0.9v0.9h-0.9zM165.7 63.2h0.9v0.9h-0.9zM169.5 60.7h0.9v0.9h-0.9zM164.0 64.9h0.9v0.9h-0.9zM173.2 63.5h0.9v0.9h-0.9zM155.4 64.3h0.9v0.9h-0.9zM155.9 62.0h0.9v0.9h-0.9zM149.6 56.2h0.9v0.9h-0.9zM169.3 63.7h0.9v0.9h-0.9zM171.1 60.3h0.9v0.9h-0.9zM151.1 60.0h0.9v0.9h-0.9zM160.0 57.3h0.9v0.9h-0.9zM150.4 57.3h0.9v0.9h-0.9zM166.4 63.8h0.9v0.9h-0.9zM158.7 67.8h0.9v0.9h-0.9zM160.1 66.5h0.9v0.9h-0.9zM162.5 57.0h0.9v0.9h-0.9zM180.4 66.5h0.9v0.9h-0.9zM158.9 74.1h0.9v0.9h-0.9zM167.5 84.0h0.9v0.9h-0.9zM167.9 82.9h0.9v0.9h-0.9zM165.0 61.6h0.9v0.9h-0.9zM154.9 77.2h0.9v0.9h-0.9zM159.3 71.3h0.9v0.9h-0.9zM160.4 57.7h0.9v0.9h-0.9zM161.3 83.7h0.9v0.9h-0.9zM162.4 82.8h0.9v0.9h-0.9zM160.1 86.7h0.9v0.9h-0.9zM154.6 77.2h0.9v0.9h-0.9zM169.6 90.7h0.9v0.9h-0.9zM162.6 72.4h0.9v0.9h-0.9zM155.9 76.8h0.9v0.9h-0.9zM169.9 61.9h0.9v0.9h-0.9zM166.7 68.4h0.9v0.9h-0.9zM156.2 83.0h0.9v0.9h-0.9zM166.4 73.4h0.9v0.9h-0.9zM169.5 67.6h0.9v0.9h-0.9zM163.2 70.6h0.9v0.9h-0.9zM152.3 75.9h0.9v0.9h-0.9zM164.0 60.1h0.9v0.9h-0.9zM155.0 65.3h0.9v0.9h-0.9zM171.7 75.7h0.9v0.9h-0.9zM160.3 73.9h0.9v0.9h-0.9zM163.0 82.0h0.9v0.9h-0.9zM158.4 88.5h0.9v0.9h-0.9zM182.9 64.0h0.9v0.9h-0.9zM180.0 54.9h0.9v0.9h-0.9zM178.3 62.0h0.9v0.9h-0.9zM185.9 56.5h0.9v0.9h-0.9zM172.7 55.7h0.9v0.9h-0.9zM181.6 55.1h0.9v0.9h-0.9zM188.3 55.7h0.9v0.9h-0.9zM189.2 60.0h0.9v0.9h-0.9zM171.9 53.9h0.9v0.9h-0.9zM185.8 54.0h0.9v0.9h-0.9zM200.4 56.8h0.9v0.9h-0.9zM188.4 50.4h0.9v0.9h-0.9zM202.1 59.5h0.9v0.9h-0.9zM184.9 63.4h0.9v0.9h-0.9zM176.0 58.3h0.9v0.9h-0.9zM177.1 52.9h0.9v0.9h-0.9zM187.2 67.2h0.9v0.9h-0.9zM175.4 56.0h0.9v0.9h-0.9zM189.3 57.1h0.9v0.9h-0.9zM174.8 61.5h0.9v0.9h-0.9zM196.3 56.3h0.9v0.9h-0.9zM205.6 55.2h0.9v0.9h-0.9zM198.5 58.7h0.9v0.9h-0.9zM218.1 54.7h0.9v0.9h-0.9zM206.3 48.7h0.9v0.9h-0.9zM205.9 53.4h0.9v0.9h-0.9zM200.8 59.7h0.9v0.9h-0.9zM211.3 59.5h0.9v0.9h-0.9zM173.0 89.9h0.9v0.9h-0.9zM172.1 82.7h0.9v0.9h-0.9zM167.6 64.3h0.9v0.9h-0.9zM171.6 81.8h0.9v0.9h-0.9zM187.4 91.4h0.9v0.9h-0.9zM172.3 75.4h0.9v0.9h-0.9zM207.1 75.8h0.9v0.9h-0.9zM166.5 85.7h0.9v0.9h-0.9zM196.8 98.2h0.9v0.9h-0.9zM174.9 92.3h0.9v0.9h-0.9zM210.0 85.7h0.9v0.9h-0.9zM198.5 72.5h0.9v0.9h-0.9zM159.9 84.8h0.9v0.9h-0.9zM150.3 86.3h0.9v0.9h-0.9zM189.1 81.9h0.9v0.9h-0.9zM192.3 92.9h0.9v0.9h-0.9zM187.1 62.7h0.9v0.9h-0.9zM169.0 84.5h0.9v0.9h-0.9zM178.3 86.6h0.9v0.9h-0.9zM182.9 82.0h0.9v0.9h-0.9zM177.1 84.3h0.9v0.9h-0.9zM180.9 94.3h0.9v0.9h-0.9zM152.9 80.7h0.9v0.9h-0.9zM184.0 86.3h0.9v0.9h-0.9zM155.2 81.0h0.9v0.9h-0.9zM198.4 67.8h0.9v0.9h-0.9zM207.0 76.8h0.9v0.9h-0.9zM193.7 87.1h0.9v0.9h-0.9zM185.3 86.4h0.9v0.9h-0.9zM186.3 69.1h0.9v0.9h-0.9zM161.5 82.2h0.9v0.9h-0.9zM174.6 69.4h0.9v0.9h-0.9zM175.9 55.2h0.9v0.9h-0.9zM163.9 65.5h0.9v0.9h-0.9zM165.9 99.9h0.9v0.9h-0.9zM163.8 89.0h0.9v0.9h-0.9zM151.0 64.8h0.9v0.9h-0.9zM174.7 74.4h0.9v0.9h-0.9zM160.3 90.0h0.9v0.9h-0.9zM158.7 89.6h0.9v0.9h-0.9zM165.5 71.1h0.9v0.9h-0.9zM162.0 79.8h0.9v0.9h-0.9zM161.1 75.8h0.9v0.9h-0.9zM163.0 90.6h0.9v0.9h-0.9zM162.0 88.6h0.9v0.9h-0.9zM173.3 80.1h0.9v0.9h-0.9zM147.6 79.1h0.9v0.9h-0.9zM153.6 68.9h0.9v0.9h-0.9zM149.0 82.2h0.9v0.9h-0.9zM179.6 59.7h0.9v0.9h-0.9zM177.1 48.0h0.9v0.9h-0.9zM147.3 80.8h0.9v0.9h-0.9zM148.4 96.7h0.9v0.9h-0.9zM172.9 65.1h0.9v0.9h-0.9zM153.6 93.3h0.9v0.9h-0.9zM177.5 100.5h0.9v0.9h-0.9zM174.7 86.8h0.9v0.9h-0.9zM172.6 78.9h0.9v0.9h-0.9zM176.5 95.4h0.9v0.9h-0.9zM146.3 99.9h0.9v0.9h-0.9zM179.0 51.7h0.9v0.9h-0.9zM188.0 83.0h0.9v0.9h-0.9zM213.5 48.6h0.9v0.9h-0.9zM196.5 67.3h0.9v0.9h-0.9zM199.3 84.5h0.9v0.9h-0.9zM174.3 90.9h0.9v0.9h-0.9zM192.7 63.3h0.9v0.9h-0.9zM208.3 54.7h0.9v0.9h-0.9zM203.6 91.0h0.9v0.9h-0.9zM161.6 89.0h0.9v0.9h-0.9zM167.4 79.3h0.9v0.9h-0.9zM200.8 95.9h0.9v0.9h-0.9zM202.2 79.7h0.9v0.9h-0.9zM210.7 84.5h0.9v0.9h-0.9zM172.4 97.5h0.9v0.9h-0.9zM169.2 56.4h0.9v0.9h-0.9zM188.8 93.3h0.9v0.9h-0.9zM206.4 87.8h0.9v0.9h-0.9zM195.9 78.2h0.9v0.9h-0.9zM191.7 34.2h0.9v0.9h-0.9z" fill="#000" fill-opacity="0.5"/>
<path d="M169.4 88.9h0.9v0.9h-0.9zM160.0 93.7h0.9v0.9h-0.9zM156.6 89.8h0.9v0.9h-0.9zM163.8 93.2h0.9v0.9h-0.9zM164.2 92.4h0.9v0.9h-0.9zM164.5 91.3h0.9v0.9h-0.9zM157.4 92.2h0.9v0.9h-0.9zM163.2 96.3h0.9v0.9h-0.9zM156.9 90.8h0.9v0.9h-0.9zM161.2 93.6h0.9v0.9h-0.9zM158.5 85.4h0.9v0.9h-0.9zM164.3 88.0h0.9v0.9h-0.9zM163.9 85.4h0.9v0.9h-0.9zM161.2 99.2h0.9v0.9h-0.9zM159.7 90.2h0.9v0.9h-0.9zM151.0 89.4h0.9v0.9h-0.9zM164.7 88.5h0.9v0.9h-0.9zM158.5 91.0h0.9v0.9h-0.9zM167.7 89.6h0.9v0.9h-0.9zM166.3 86.5h0.9v0.9h-0.9zM155.3 98.3h0.9v0.9h-0.9zM167.0 90.4h0.9v0.9h-0.9zM166.7 82.1h0.9v0.9h-0.9zM160.3 88.8h0.9v0.9h-0.9zM165.9 89.9h0.9v0.9h-0.9zM164.9 84.9h0.9v0.9h-0.9zM167.2 96.4h0.9v0.9h-0.9zM158.6 84.8h0.9v0.9h-0.9zM159.1 95.3h0.9v0.9h-0.9zM161.4 91.5h0.9v0.9h-0.9zM157.4 87.7h0.9v0.9h-0.9zM158.7 85.1h0.9v0.9h-0.9zM163.2 88.7h0.9v0.9h-0.9zM161.0 91.1h0.9v0.9h-0.9zM158.0 86.6h0.9v0.9h-0.9zM161.0 88.7h0.9v0.9h-0.9zM163.7 93.2h0.9v0.9h-0.9zM158.9 86.5h0.9v0.9h-0.9zM167.8 91.5h0.9v0.9h-0.9zM161.8 88.6h0.9v0.9h-0.9zM160.8 83.8h0.9v0.9h-0.9zM159.2 88.3h0.9v0.9h-0.9zM159.2 92.7h0.9v0.9h-0.9zM166.1 85.7h0.9v0.9h-0.9zM163.5 95.7h0.9v0.9h-0.9zM160.7 85.0h0.9v0.9h-0.9zM164.2 86.4h0.9v0.9h-0.9zM161.3 89.7h0.9v0.9h-0.9zM157.1 85.3h0.9v0.9h-0.9zM158.5 82.6h0.9v0.9h-0.9zM162.4 92.0h0.9v0.9h-0.9zM162.4 84.6h0.9v0.9h-0.9zM161.3 85.3h0.9v0.9h-0.9zM164.8 89.1h0.9v0.9h-0.9zM165.9 93.1h0.9v0.9h-0.9zM161.0 94.4h0.9v0.9h-0.9zM169.1 79.9h0.9v0.9h-0.9zM158.1 95.5h0.9v0.9h-0.9zM162.6 84.4h0.9v0.9h-0.9zM158.4 85.9h0.9v0.9h-0.9zM167.0 85.1h0.9v0.9h-0.9zM164.7 87.4h0.9v0.9h-0.9zM161.4 83.6h0.9v0.9h-0.9zM164.8 89.3h0.9v0.9h-0.9zM161.1 88.0h0.9v0.9h-0.9zM156.4 86.7h0.9v0.9h-0.9zM162.0 82.3h0.9v0.9h-0.9zM161.2 84.9h0.9v0.9h-0.9zM164.6 87.6h0.9v0.9h-0.9zM161.3 89.8h0.9v0.9h-0.9zM159.9 86.9h0.9v0.9h-0.9zM159.1 90.2h0.9v0.9h-0.9zM162.1 90.2h0.9v0.9h-0.9zM164.4 92.0h0.9v0.9h-0.9zM163.2 86.3h0.9v0.9h-0.9zM164.1 94.1h0.9v0.9h-0.9zM168.0 88.5h0.9v0.9h-0.9zM167.2 91.1h0.9v0.9h-0.9zM163.1 86.2h0.9v0.9h-0.9zM161.7 96.9h0.9v0.9h-0.9zM149.4 88.4h0.9v0.9h-0.9zM161.8 78.0h0.9v0.9h-0.9zM153.3 85.2h0.9v0.9h-0.9zM159.4 88.9h0.9v0.9h-0.9zM157.5 74.5h0.9v0.9h-0.9zM159.5 91.1h0.9v0.9h-0.9zM153.7 92.6h0.9v0.9h-0.9zM167.2 89.9h0.9v0.9h-0.9zM164.4 80.1h0.9v0.9h-0.9zM154.9 93.1h0.9v0.9h-0.9zM156.9 101.0h0.9v0.9h-0.9zM171.7 85.2h0.9v0.9h-0.9zM151.0 78.1h0.9v0.9h-0.9zM164.4 86.8h0.9v0.9h-0.9zM165.4 96.5h0.9v0.9h-0.9zM161.4 80.9h0.9v0.9h-0.9zM163.7 81.5h0.9v0.9h-0.9zM175.9 98.5h0.9v0.9h-0.9zM161.7 94.6h0.9v0.9h-0.9zM157.1 79.0h0.9v0.9h-0.9zM159.9 79.5h0.9v0.9h-0.9zM157.2 83.0h0.9v0.9h-0.9zM171.1 92.4h0.9v0.9h-0.9zM153.7 95.5h0.9v0.9h-0.9zM166.3 96.3h0.9v0.9h-0.9zM161.8 88.9h0.9v0.9h-0.9zM149.4 101.0h0.9v0.9h-0.9zM154.3 97.5h0.9v0.9h-0.9zM161.1 88.5h0.9v0.9h-0.9zM157.7 99.3h0.9v0.9h-0.9zM171.6 89.9h0.9v0.9h-0.9zM152.6 90.7h0.9v0.9h-0.9zM157.1 93.7h0.9v0.9h-0.9zM171.8 78.8h0.9v0.9h-0.9zM161.9 83.9h0.9v0.9h-0.9zM169.8 89.0h0.9v0.9h-0.9zM163.7 76.1h0.9v0.9h-0.9zM159.6 94.1h0.9v0.9h-0.9zM156.5 85.0h0.9v0.9h-0.9zM161.3 97.5h0.9v0.9h-0.9zM178.2 95.5h0.9v0.9h-0.9zM150.7 97.0h0.9v0.9h-0.9zM162.8 86.3h0.9v0.9h-0.9zM168.7 93.1h0.9v0.9h-0.9zM155.1 89.8h0.9v0.9h-0.9zM158.4 77.8h0.9v0.9h-0.9zM168.7 91.5h0.9v0.9h-0.9zM166.8 94.9h0.9v0.9h-0.9zM159.2 75.4h0.9v0.9h-0.9zM168.0 93.4h0.9v0.9h-0.9zM163.5 92.3h0.9v0.9h-0.9zM158.1 80.7h0.9v0.9h-0.9zM177.2 85.0h0.9v0.9h-0.9zM179.6 88.1h0.9v0.9h-0.9zM165.0 82.4h0.9v0.9h-0.9zM165.6 88.3h0.9v0.9h-0.9zM153.3 90.6h0.9v0.9h-0.9zM158.5 96.8h0.9v0.9h-0.9zM152.7 86.5h0.9v0.9h-0.9zM159.2 82.7h0.9v0.9h-0.9zM162.7 99.6h0.9v0.9h-0.9zM166.6 86.8h0.9v0.9h-0.9zM170.2 100.3h0.9v0.9h-0.9zM171.1 83.3h0.9v0.9h-0.9zM162.5 90.5h0.9v0.9h-0.9zM162.2 81.7h0.9v0.9h-0.9zM153.3 94.5h0.9v0.9h-0.9zM156.3 76.1h0.9v0.9h-0.9zM164.4 84.8h0.9v0.9h-0.9zM176.8 93.9h0.9v0.9h-0.9zM156.5 95.3h0.9v0.9h-0.9zM153.9 95.5h0.9v0.9h-0.9zM169.2 89.5h0.9v0.9h-0.9zM172.9 85.2h0.9v0.9h-0.9zM148.1 100.4h0.9v0.9h-0.9zM156.0 96.7h0.9v0.9h-0.9zM157.5 87.4h0.9v0.9h-0.9zM172.3 90.9h0.9v0.9h-0.9zM151.6 95.8h0.9v0.9h-0.9zM165.7 86.5h0.9v0.9h-0.9zM169.5 95.7h0.9v0.9h-0.9zM154.3 79.3h0.9v0.9h-0.9zM167.3 95.9h0.9v0.9h-0.9zM166.3 87.7h0.9v0.9h-0.9zM146.6 86.1h0.9v0.9h-0.9zM156.9 97.5h0.9v0.9h-0.9zM161.5 87.2h0.9v0.9h-0.9zM161.9 81.8h0.9v0.9h-0.9zM151.5 83.1h0.9v0.9h-0.9zM155.5 96.0h0.9v0.9h-0.9zM157.8 79.1h0.9v0.9h-0.9zM172.7 90.6h0.9v0.9h-0.9zM169.3 76.2h0.9v0.9h-0.9zM162.9 82.4h0.9v0.9h-0.9zM162.9 93.3h0.9v0.9h-0.9zM166.0 87.8h0.9v0.9h-0.9zM169.1 95.8h0.9v0.9h-0.9zM154.8 84.4h0.9v0.9h-0.9zM166.8 82.1h0.9v0.9h-0.9zM158.5 88.1h0.9v0.9h-0.9zM166.9 85.9h0.9v0.9h-0.9zM175.8 93.0h0.9v0.9h-0.9zM167.3 86.5h0.9v0.9h-0.9zM172.8 97.9h0.9v0.9h-0.9zM161.9 89.9h0.9v0.9h-0.9zM150.9 95.5h0.9v0.9h-0.9zM147.6 79.3h0.9v0.9h-0.9zM161.0 94.9h0.9v0.9h-0.9zM161.8 91.4h0.9v0.9h-0.9zM162.6 91.2h0.9v0.9h-0.9zM165.0 87.6h0.9v0.9h-0.9zM158.8 83.2h0.9v0.9h-0.9zM164.1 64.9h0.9v0.9h-0.9zM157.7 58.9h0.9v0.9h-0.9zM162.8 57.9h0.9v0.9h-0.9zM167.4 62.4h0.9v0.9h-0.9zM154.3 62.9h0.9v0.9h-0.9zM156.4 61.9h0.9v0.9h-0.9zM155.7 61.4h0.9v0.9h-0.9zM163.9 65.4h0.9v0.9h-0.9zM162.0 55.3h0.9v0.9h-0.9zM161.9 58.2h0.9v0.9h-0.9zM157.9 59.0h0.9v0.9h-0.9zM169.0 63.2h0.9v0.9h-0.9zM158.6 61.2h0.9v0.9h-0.9zM159.2 63.7h0.9v0.9h-0.9zM162.7 63.5h0.9v0.9h-0.9zM163.1 59.7h0.9v0.9h-0.9zM164.7 65.3h0.9v0.9h-0.9zM164.4 54.6h0.9v0.9h-0.9zM165.1 66.5h0.9v0.9h-0.9zM161.9 63.8h0.9v0.9h-0.9zM160.7 57.2h0.9v0.9h-0.9zM162.8 64.2h0.9v0.9h-0.9zM158.4 65.2h0.9v0.9h-0.9zM166.6 64.7h0.9v0.9h-0.9zM161.2 65.7h0.9v0.9h-0.9zM157.5 64.7h0.9v0.9h-0.9zM158.3 63.8h0.9v0.9h-0.9zM163.3 66.3h0.9v0.9h-0.9zM169.1 57.8h0.9v0.9h-0.9zM156.9 63.9h0.9v0.9h-0.9zM149.6 61.5h0.9v0.9h-0.9zM162.6 56.9h0.9v0.9h-0.9zM161.6 61.5h0.9v0.9h-0.9zM163.7 63.3h0.9v0.9h-0.9zM154.6 61.4h0.9v0.9h-0.9zM157.3 63.0h0.9v0.9h-0.9zM166.7 59.2h0.9v0.9h-0.9zM165.1 66.1h0.9v0.9h-0.9zM162.2 56.4h0.9v0.9h-0.9zM165.5 59.1h0.9v0.9h-0.9zM166.3 57.0h0.9v0.9h-0.9zM162.7 68.5h0.9v0.9h-0.9zM165.6 62.3h0.9v0.9h-0.9zM165.7 60.6h0.9v0.9h-0.9zM161.5 60.5h0.9v0.9h-0.9zM159.8 61.0h0.9v0.9h-0.9zM164.7 70.2h0.9v0.9h-0.9zM160.4 60.5h0.9v0.9h-0.9zM161.4 65.2h0.9v0.9h-0.9zM161.8 67.9h0.9v0.9h-0.9zM167.4 55.3h0.9v0.9h-0.9zM163.2 63.4h0.9v0.9h-0.9zM160.3 64.2h0.9v0.9h-0.9zM149.5 59.2h0.9v0.9h-0.9zM165.3 64.0h0.9v0.9h-0.9zM154.8 62.2h0.9v0.9h-0.9zM158.9 59.4h0.9v0.9h-0.9zM167.5 59.7h0.9v0.9h-0.9zM156.6 60.5h0.9v0.9h-0.9zM157.6 61.2h0.9v0.9h-0.9zM157.7 57.2h0.9v0.9h-0.9zM168.8 60.5h0.9v0.9h-0.9zM168.7 62.6h0.9v0.9h-0.9zM162.8 54.8h0.9v0.9h-0.9zM158.3 62.0h0.9v0.9h-0.9zM170.0 69.2h0.9v0.9h-0.9zM165.4 64.4h0.9v0.9h-0.9zM169.9 56.7h0.9v0.9h-0.9zM150.5 61.7h0.9v0.9h-0.9zM164.6 72.6h0.9v0.9h-0.9zM175.7 52.4h0.9v0.9h-0.9zM151.2 54.4h0.9v0.9h-0.9zM155.0 67.5h0.9v0.9h-0.9zM153.8 57.7h0.9v0.9h-0.9zM162.1 64.0h0.9v0.9h-0.9zM155.6 56.1h0.9v0.9h-0.9zM159.7 69.4h0.9v0.9h-0.9zM168.0 60.0h0.9v0.9h-0.9zM155.4 61.9h0.9v0.9h-0.9zM173.0 64.1h0.9v0.9h-0.9zM162.7 61.1h0.9v0.9h-0.9zM159.6 64.5h0.9v0.9h-0.9zM157.8 51.3h0.9v0.9h-0.9zM169.4 59.3h0.9v0.9h-0.9zM156.1 58.6h0.9v0.9h-0.9zM154.5 63.0h0.9v0.9h-0.9zM152.0 61.6h0.9v0.9h-0.9zM166.5 67.0h0.9v0.9h-0.9zM153.8 58.3h0.9v0.9h-0.9zM167.3 58.7h0.9v0.9h-0.9zM158.8 62.2h0.9v0.9h-0.9zM152.9 67.3h0.9v0.9h-0.9zM181.0 65.0h0.9v0.9h-0.9zM175.1 60.7h0.9v0.9h-0.9zM166.1 66.8h0.9v0.9h-0.9zM168.4 65.6h0.9v0.9h-0.9zM163.7 69.0h0.9v0.9h-0.9zM159.3 52.5h0.9v0.9h-0.9zM164.1 53.6h0.9v0.9h-0.9zM152.2 77.0h0.9v0.9h-0.9zM162.5 62.8h0.9v0.9h-0.9zM163.8 63.3h0.9v0.9h-0.9zM168.0 60.5h0.9v0.9h-0.9zM160.1 62.9h0.9v0.9h-0.9zM163.5 63.7h0.9v0.9h-0.9zM160.4 52.1h0.9v0.9h-0.9zM170.0 61.9h0.9v0.9h-0.9zM158.7 59.2h0.9v0.9h-0.9zM156.1 67.9h0.9v0.9h-0.9zM152.2 60.5h0.9v0.9h-0.9zM165.9 80.5h0.9v0.9h-0.9zM155.1 63.6h0.9v0.9h-0.9zM167.1 64.2h0.9v0.9h-0.9zM163.4 64.3h0.9v0.9h-0.9zM160.4 55.7h0.9v0.9h-0.9zM173.1 49.3h0.9v0.9h-0.9zM167.3 65.2h0.9v0.9h-0.9zM175.2 48.5h0.9v0.9h-0.9zM173.0 52.9h0.9v0.9h-0.9zM169.2 71.8h0.9v0.9h-0.9zM172.0 64.6h0.9v0.9h-0.9zM155.3 65.3h0.9v0.9h-0.9zM175.9 57.4h0.9v0.9h-0.9zM166.4 62.6h0.9v0.9h-0.9zM162.2 80.0h0.9v0.9h-0.9zM163.4 52.3h0.9v0.9h-0.9zM158.2 60.9h0.9v0.9h-0.9zM163.6 56.8h0.9v0.9h-0.9zM156.9 54.7h0.9v0.9h-0.9zM161.6 64.6h0.9v0.9h-0.9zM151.2 71.6h0.9v0.9h-0.9zM155.7 74.0h0.9v0.9h-0.9zM170.4 58.9h0.9v0.9h-0.9zM165.0 77.5h0.9v0.9h-0.9zM154.7 71.5h0.9v0.9h-0.9zM158.5 71.2h0.9v0.9h-0.9zM165.4 75.4h0.9v0.9h-0.9zM150.2 49.9h0.9v0.9h-0.9zM157.2 70.6h0.9v0.9h-0.9zM163.4 69.9h0.9v0.9h-0.9zM163.6 80.1h0.9v0.9h-0.9zM160.4 81.5h0.9v0.9h-0.9zM165.6 85.2h0.9v0.9h-0.9zM167.1 60.9h0.9v0.9h-0.9zM155.3 75.8h0.9v0.9h-0.9zM154.3 80.1h0.9v0.9h-0.9zM162.6 48.6h0.9v0.9h-0.9zM152.0 68.2h0.9v0.9h-0.9zM155.3 81.4h0.9v0.9h-0.9zM157.4 73.4h0.9v0.9h-0.9zM160.2 73.2h0.9v0.9h-0.9zM155.0 83.8h0.9v0.9h-0.9zM159.8 71.6h0.9v0.9h-0.9zM153.9 90.5h0.9v0.9h-0.9zM165.3 82.2h0.9v0.9h-0.9zM162.3 79.7h0.9v0.9h-0.9zM174.6 69.0h0.9v0.9h-0.9zM183.5 57.3h0.9v0.9h-0.9zM199.9 59.4h0.9v0.9h-0.9zM166.9 60.6h0.9v0.9h-0.9zM166.6 61.1h0.9v0.9h-0.9zM195.8 54.5h0.9v0.9h-0.9zM188.5 64.8h0.9v0.9h-0.9zM178.0 64.2h0.9v0.9h-0.9zM169.7 57.2h0.9v0.9h-0.9zM187.8 66.5h0.9v0.9h-0.9zM174.0 56.4h0.9v0.9h-0.9zM191.0 58.4h0.9v0.9h-0.9zM187.4 53.9h0.9v0.9h-0.9zM188.7 60.2h0.9v0.9h-0.9zM175.8 67.7h0.9v0.9h-0.9zM195.9 65.4h0.9v0.9h-0.9zM164.3 60.5h0.9v0.9h-0.9zM177.1 49.5h0.9v0.9h-0.9zM187.7 60.9h0.9v0.9h-0.9zM192.8 62.1h0.9v0.9h-0.9zM171.4 51.0h0.9v0.9h-0.9zM203.7 50.6h0.9v0.9h-0.9zM218.6 52.9h0.9v0.9h-0.9zM205.4 62.3h0.9v0.9h-0.9zM201.8 55.1h0.9v0.9h-0.9zM214.1 52.5h0.9v0.9h-0.9zM208.5 57.6h0.9v0.9h-0.9zM196.3 66.2h0.9v0.9h-0.9zM215.0 60.9h0.9v0.9h-0.9zM212.5 80.2h0.9v0.9h-0.9zM160.5 84.6h0.9v0.9h-0.9zM199.9 60.9h0.9v0.9h-0.9zM165.7 80.0h0.9v0.9h-0.9zM182.9 85.6h0.9v0.9h-0.9zM168.4 91.0h0.9v0.9h-0.9zM188.7 88.5h0.9v0.9h-0.9zM178.2 79.5h0.9v0.9h-0.9zM153.4 67.2h0.9v0.9h-0.9zM211.0 79.8h0.9v0.9h-0.9zM178.9 81.1h0.9v0.9h-0.9zM172.3 90.4h0.9v0.9h-0.9zM178.7 65.1h0.9v0.9h-0.9zM169.4 71.0h0.9v0.9h-0.9zM178.9 81.1h0.9v0.9h-0.9zM160.0 89.6h0.9v0.9h-0.9zM178.5 97.4h0.9v0.9h-0.9zM169.4 92.3h0.9v0.9h-0.9zM152.9 94.1h0.9v0.9h-0.9zM157.8 79.0h0.9v0.9h-0.9zM206.7 59.7h0.9v0.9h-0.9zM190.7 76.4h0.9v0.9h-0.9zM162.7 68.5h0.9v0.9h-0.9zM153.3 84.1h0.9v0.9h-0.9zM164.0 63.4h0.9v0.9h-0.9zM183.6 84.1h0.9v0.9h-0.9zM152.3 65.2h0.9v0.9h-0.9zM199.5 94.8h0.9v0.9h-0.9zM176.8 88.9h0.9v0.9h-0.9zM206.2 71.1h0.9v0.9h-0.9zM201.9 74.1h0.9v0.9h-0.9zM156.0 60.1h0.9v0.9h-0.9zM179.3 65.2h0.9v0.9h-0.9zM176.0 76.6h0.9v0.9h-0.9zM167.5 60.4h0.9v0.9h-0.9zM149.3 63.2h0.9v0.9h-0.9zM158.4 52.4h0.9v0.9h-0.9zM158.6 93.4h0.9v0.9h-0.9zM165.5 82.7h0.9v0.9h-0.9zM169.0 67.5h0.9v0.9h-0.9zM164.2 92.9h0.9v0.9h-0.9zM170.3 53.2h0.9v0.9h-0.9zM159.8 56.4h0.9v0.9h-0.9zM177.5 46.1h0.9v0.9h-0.9zM158.8 74.7h0.9v0.9h-0.9zM180.6 75.9h0.9v0.9h-0.9zM152.5 58.6h0.9v0.9h-0.9zM180.1 79.5h0.9v0.9h-0.9zM150.2 69.8h0.9v0.9h-0.9zM179.0 64.0h0.9v0.9h-0.9zM171.5 93.7h0.9v0.9h-0.9zM150.8 89.5h0.9v0.9h-0.9zM174.0 87.8h0.9v0.9h-0.9zM155.6 50.7h0.9v0.9h-0.9zM179.8 64.5h0.9v0.9h-0.9zM155.2 57.2h0.9v0.9h-0.9zM157.4 78.2h0.9v0.9h-0.9zM163.4 82.4h0.9v0.9h-0.9zM189.1 73.0h0.9v0.9h-0.9zM206.0 98.4h0.9v0.9h-0.9zM165.1 46.1h0.9v0.9h-0.9zM181.9 87.0h0.9v0.9h-0.9zM175.3 87.6h0.9v0.9h-0.9zM150.6 53.5h0.9v0.9h-0.9zM214.5 51.3h0.9v0.9h-0.9zM149.7 68.8h0.9v0.9h-0.9zM212.8 74.6h0.9v0.9h-0.9zM161.1 72.8h0.9v0.9h-0.9zM225.2 46.0h0.9v0.9h-0.9zM201.0 52.8h0.9v0.9h-0.9zM178.7 56.9h0.9v0.9h-0.9zM175.5 58.2h0.9v0.9h-0.9zM220.4 66.2h0.9v0.9h-0.9zM196.5 58.2h0.9v0.9h-0.9zM153.5 55.5h0.9v0.9h-0.9zM185.9 72.3h0.9v0.9h-0.9zM160.3 85.0h0.9v0.9h-0.9zM225.6 75.1h0.9v0.9h-0.9zM183.0 32.6h0.9v0.9h-0.9zM154.7 22.6h0.9v0.9h-0.9z" fill="#000" fill-opacity="0.5"/>
<path d="M163.4 91.3h0.9v0.9h-0.9zM159.6 92.7h0.9v0.9h-0.9zM164.7 92.3h0.9v0.9h-0.9zM164.6 97.7h0.9v0.9h-0.9zM158.2 85.2h0.9v0.9h-0.9zM157.7 87.0h0.9v0.9h-0.9zM168.6 79.3h0.9v0.9h-0.9zM157.6 90.1h0.9v0.9h-0.9zM161.3 91.6h0.9v0.9h-0.9zM159.1 96.1h0.9v0.9h-0.9zM163.8 86.5h0.9v0.9h-0.9zM161.4 94.6h0.9v0.9h-0.9zM165.7 86.8h0.9v0.9h-0.9zM161.2 84.9h0.9v0.9h-0.9zM161.0 84.7h0.9v0.9h-0.9zM165.5 86.8h0.9v0.9h-0.9zM164.2 87.7h0.9v0.9h-0.9zM165.1 84.2h0.9v0.9h-0.9zM164.2 91.8h0.9v0.9h-0.9zM161.6 89.5h0.9v0.9h-0.9zM159.3 88.3h0.9v0.9h-0.9zM159.8 95.0h0.9v0.9h-0.9zM164.9 88.6h0.9v0.9h-0.9zM162.7 93.0h0.9v0.9h-0.9zM163.9 95.4h0.9v0.9h-0.9zM164.1 90.4h0.9v0.9h-0.9zM161.9 89.3h0.9v0.9h-0.9zM167.9 85.8h0.9v0.9h-0.9zM160.8 85.3h0.9v0.9h-0.9zM153.6 90.5h0.9v0.9h-0.9zM160.8 85.1h0.9v0.9h-0.9zM161.8 86.5h0.9v0.9h-0.9zM158.0 94.8h0.9v0.9h-0.9zM151.5 89.7h0.9v0.9h-0.9zM168.0 83.2h0.9v0.9h-0.9zM155.6 87.2h0.9v0.9h-0.9zM158.2 97.2h0.9v0.9h-0.9zM151.8 92.4h0.9v0.9h-0.9zM164.0 92.4h0.9v0.9h-0.9zM160.2 86.2h0.9v0.9h-0.9zM160.4 90.6h0.9v0.9h-0.9zM164.3 83.9h0.9v0.9h-0.9zM158.8 89.5h0.9v0.9h-0.9zM158.7 86.7h0.9v0.9h-0.9zM158.5 88.5h0.9v0.9h-0.9zM165.6 92.9h0.9v0.9h-0.9zM157.8 86.6h0.9v0.9h-0.9zM166.7 88.5h0.9v0.9h-0.9zM165.3 88.7h0.9v0.9h-0.9zM163.5 85.4h0.9v0.9h-0.9zM162.1 83.5h0.9v0.9h-0.9zM160.8 91.3h0.9v0.9h-0.9zM159.3 97.8h0.9v0.9h-0.9zM164.6 90.9h0.9v0.9h-0.9zM160.9 88.3h0.9v0.9h-0.9zM165.7 85.9h0.9v0.9h-0.9zM155.1 97.5h0.9v0.9h-0.9zM151.1 90.3h0.9v0.9h-0.9zM162.8 88.2h0.9v0.9h-0.9zM161.2 86.1h0.9v0.9h-0.9zM161.4 95.1h0.9v0.9h-0.9zM160.0 81.7h0.9v0.9h-0.9zM158.0 92.7h0.9v0.9h-0.9zM160.3 90.1h0.9v0.9h-0.9zM165.3 89.9h0.9v0.9h-0.9zM160.8 91.7h0.9v0.9h-0.9zM159.9 94.6h0.9v0.9h-0.9zM163.2 88.2h0.9v0.9h-0.9zM161.6 92.4h0.9v0.9h-0.9zM161.9 94.6h0.9v0.9h-0.9zM162.7 88.2h0.9v0.9h-0.9zM166.1 85.5h0.9v0.9h-0.9zM153.6 88.7h0.9v0.9h-0.9zM160.5 93.4h0.9v0.9h-0.9zM166.7 95.8h0.9v0.9h-0.9zM166.1 94.3h0.9v0.9h-0.9zM160.7 89.4h0.9v0.9h-0.9zM164.4 91.1h0.9v0.9h-0.9zM163.9 90.3h0.9v0.9h-0.9zM160.0 79.7h0.9v0.9h-0.9zM160.3 89.6h0.9v0.9h-0.9zM158.8 92.1h0.9v0.9h-0.9zM163.5 92.2h0.9v0.9h-0.9zM152.4 94.3h0.9v0.9h-0.9zM152.3 93.8h0.9v0.9h-0.9zM155.0 90.4h0.9v0.9h-0.9zM155.2 95.4h0.9v0.9h-0.9zM165.5 95.0h0.9v0.9h-0.9zM163.0 85.8h0.9v0.9h-0.9zM164.4 91.3h0.9v0.9h-0.9zM172.7 92.0h0.9v0.9h-0.9zM159.1 81.7h0.9v0.9h-0.9zM174.3 90.4h0.9v0.9h-0.9zM162.5 90.6h0.9v0.9h-0.9zM166.5 89.4h0.9v0.9h-0.9zM166.6 93.5h0.9v0.9h-0.9zM157.8 98.5h0.9v0.9h-0.9zM178.2 95.3h0.9v0.9h-0.9zM169.8 83.1h0.9v0.9h-0.9zM161.0 83.8h0.9v0.9h-0.9zM150.4 97.4h0.9v0.9h-0.9zM148.2 86.5h0.9v0.9h-0.9zM151.3 85.1h0.9v0.9h-0.9zM150.0 89.3h0.9v0.9h-0.9zM161.0 97.9h0.9v0.9h-0.9zM166.0 83.1h0.9v0.9h-0.9zM166.3 89.1h0.9v0.9h-0.9zM182.8 85.8h0.9v0.9h-0.9zM161.2 77.8h0.9v0.9h-0.9zM170.8 88.7h0.9v0.9h-0.9zM162.2 89.6h0.9v0.9h-0.9zM165.2 82.2h0.9v0.9h-0.9zM152.8 93.2h0.9v0.9h-0.9zM161.3 85.0h0.9v0.9h-0.9zM159.1 83.8h0.9v0.9h-0.9zM160.2 77.2h0.9v0.9h-0.9zM155.7 94.7h0.9v0.9h-0.9zM161.9 83.3h0.9v0.9h-0.9zM175.8 81.8h0.9v0.9h-0.9zM166.6 88.0h0.9v0.9h-0.9zM160.7 85.9h0.9v0.9h-0.9zM159.9 95.9h0.9v0.9h-0.9zM157.4 89.9h0.9v0.9h-0.9zM159.5 96.7h0.9v0.9h-0.9zM170.8 93.4h0.9v0.9h-0.9zM162.1 97.3h0.9v0.9h-0.9zM167.9 97.5h0.9v0.9h-0.9zM166.5 95.9h0.9v0.9h-0.9zM174.1 81.8h0.9v0.9h-0.9zM162.0 91.5h0.9v0.9h-0.9zM171.0 92.9h0.9v0.9h-0.9zM166.9 78.1h0.9v0.9h-0.9zM162.3 81.2h0.9v0.9h-0.9zM159.9 87.8h0.9v0.9h-0.9zM170.4 75.6h0.9v0.9h-0.9zM154.9 82.5h0.9v0.9h-0.9zM161.8 89.7h0.9v0.9h-0.9zM162.5 81.7h0.9v0.9h-0.9zM167.4 93.5h0.9v0.9h-0.9zM148.0 87.2h0.9v0.9h-0.9zM164.4 84.6h0.9v0.9h-0.9zM158.1 89.0h0.9v0.9h-0.9zM169.0 96.2h0.9v0.9h-0.9zM155.8 85.8h0.9v0.9h-0.9zM153.0 93.4h0.9v0.9h-0.9zM168.9 91.6h0.9v0.9h-0.9zM167.3 85.6h0.9v0.9h-0.9zM149.2 91.9h0.9v0.9h-0.9zM160.5 82.0h0.9v0.9h-0.9zM168.2 96.5h0.9v0.9h-0.9zM165.2 87.8h0.9v0.9h-0.9zM172.9 91.9h0.9v0.9h-0.9zM155.2 90.8h0.9v0.9h-0.9zM166.7 81.9h0.9v0.9h-0.9zM171.7 84.0h0.9v0.9h-0.9zM168.5 85.4h0.9v0.9h-0.9zM155.7 82.0h0.9v0.9h-0.9zM168.7 82.0h0.9v0.9h-0.9zM168.4 95.2h0.9v0.9h-0.9zM160.9 83.2h0.9v0.9h-0.9zM162.8 96.6h0.9v0.9h-0.9zM156.0 89.2h0.9v0.9h-0.9zM154.8 89.9h0.9v0.9h-0.9zM170.4 90.6h0.9v0.9h-0.9zM160.1 87.0h0.9v0.9h-0.9zM149.7 95.4h0.9v0.9h-0.9zM170.8 96.9h0.9v0.9h-0.9zM155.4 86.1h0.9v0.9h-0.9zM176.6 92.0h0.9v0.9h-0.9zM168.6 96.7h0.9v0.9h-0.9zM160.0 85.3h0.9v0.9h-0.9zM152.3 95.2h0.9v0.9h-0.9zM162.6 91.7h0.9v0.9h-0.9zM157.4 90.8h0.9v0.9h-0.9zM150.0 85.3h0.9v0.9h-0.9zM149.6 95.3h0.9v0.9h-0.9zM161.3 92.5h0.9v0.9h-0.9zM166.0 90.4h0.9v0.9h-0.9zM158.2 91.1h0.9v0.9h-0.9zM149.3 88.0h0.9v0.9h-0.9zM158.8 81.5h0.9v0.9h-0.9zM164.5 87.4h0.9v0.9h-0.9zM164.6 74.9h0.9v0.9h-0.9zM181.1 85.2h0.9v0.9h-0.9zM171.9 90.0h0.9v0.9h-0.9zM165.0 93.6h0.9v0.9h-0.9zM172.0 88.0h0.9v0.9h-0.9zM156.8 94.4h0.9v0.9h-0.9zM153.7 93.9h0.9v0.9h-0.9zM166.1 89.2h0.9v0.9h-0.9zM155.7 86.0h0.9v0.9h-0.9zM156.7 97.4h0.9v0.9h-0.9zM158.5 63.2h0.9v0.9h-0.9zM163.6 61.8h0.9v0.9h-0.9zM165.3 59.2h0.9v0.9h-0.9zM168.1 59.2h0.9v0.9h-0.9zM165.8 65.5h0.9v0.9h-0.9zM165.9 59.4h0.9v0.9h-0.9zM160.6 57.9h0.9v0.9h-0.9zM165.9 55.9h0.9v0.9h-0.9zM156.0 64.0h0.9v0.9h-0.9zM160.0 63.5h0.9v0.9h-0.9zM161.5 64.5h0.9v0.9h-0.9zM158.7 63.1h0.9v0.9h-0.9zM167.0 58.7h0.9v0.9h-0.9zM163.0 63.9h0.9v0.9h-0.9zM156.7 62.4h0.9v0.9h-0.9zM171.1 60.3h0.9v0.9h-0.9zM160.9 57.3h0.9v0.9h-0.9zM161.4 66.1h0.9v0.9h-0.9zM163.9 62.0h0.9v0.9h-0.9zM165.0 59.0h0.9v0.9h-0.9zM169.0 59.4h0.9v0.9h-0.9zM162.9 57.1h0.9v0.9h-0.9zM163.1 62.3h0.9v0.9h-0.9zM171.4 61.5h0.9v0.9h-0.9zM163.6 61.3h0.9v0.9h-0.9zM171.3 63.4h0.9v0.9h-0.9zM168.9 63.0h0.9v0.9h-0.9zM155.2 66.5h0.9v0.9h-0.9zM164.6 61.8h0.9v0.9h-0.9zM160.2 63.5h0.9v0.9h-0.9zM166.0 60.8h0.9v0.9h-0.9zM167.2 60.9h0.9v0.9h-0.9zM162.7 57.8h0.9v0.9h-0.9zM161.4 66.4h0.9v0.9h-0.9zM160.5 60.5h0.9v0.9h-0.9zM158.6 67.3h0.9v0.9h-0.9zM157.3 57.3h0.9v0.9h-0.9zM165.9 64.2h0.9v0.9h-0.9zM163.2 61.7h0.9v0.9h-0.9zM163.8 65.0h0.9v0.9h-0.9zM157.9 59.7h0.9v0.9h-0.9zM157.4 54.7h0.9v0.9h-0.9zM162.8 68.4h0.9v0.9h-0.9zM161.8 60.7h0.9v0.9h-0.9zM162.4 62.6h0.9v0.9h-0.9zM164.9 62.9h0.9v0.9h-0.9zM161.7 60.8h0.9v0.9h-0.9zM163.2 57.6h0.9v0.9h-0.9zM161.0 54.8h0.9v0.9h-0.9zM163.3 65.3h0.9v0.9h-0.9zM158.1 60.9h0.9v0.9h-0.9zM163.2 65.1h0.9v0.9h-0.9zM170.8 67.1h0.9v0.9h-0.9zM156.3 59.4h0.9v0.9h-0.9zM162.4 63.9h0.9v0.9h-0.9zM165.8 56.5h0.9v0.9h-0.9zM148.7 61.4h0.9v0.9h-0.9zM162.3 64.3h0.9v0.9h-0.9zM152.0 57.8h0.9v0.9h-0.9zM169.9 58.1h0.9v0.9h-0.9zM165.0 59.1h0.9v0.9h-0.9zM157.9 72.2h0.9v0.9h-0.9zM159.9 61.4h0.9v0.9h-0.9zM158.6 62.1h0.9v0.9h-0.9zM164.6 61.7h0.9v0.9h-0.9zM159.1 57.6h0.9v0.9h-0.9zM163.4 67.0h0.9v0.9h-0.9zM159.8 66.6h0.9v0.9h-0.9zM163.8 55.7h0.9v0.9h-0.9zM163.1 68.8h0.9v0.9h-0.9zM163.8 75.8h0.9v0.9h-0.9zM165.1 67.6h0.9v0.9h-0.9zM148.9 58.2h0.9v0.9h-0.9zM157.1 63.3h0.9v0.9h-0.9zM165.0 66.5h0.9v0.9h-0.9zM159.6 65.6h0.9v0.9h-0.9zM169.2 58.4h0.9v0.9h-0.9zM156.4 73.0h0.9v0.9h-0.9zM161.1 62.9h0.9v0.9h-0.9zM163.5 58.2h0.9v0.9h-0.9zM160.6 63.2h0.9v0.9h-0.9zM154.4 52.8h0.9v0.9h-0.9zM168.6 60.5h0.9v0.9h-0.9zM155.8 58.9h0.9v0.9h-0.9zM154.1 60.1h0.9v0.9h-0.9zM166.4 61.8h0.9v0.9h-0.9zM171.0 56.4h0.9v0.9h-0.9zM164.2 61.6h0.9v0.9h-0.9zM155.7 73.9h0.9v0.9h-0.9zM167.2 58.6h0.9v0.9h-0.9zM165.6 61.5h0.9v0.9h-0.9zM165.4 64.4h0.9v0.9h-0.9zM167.7 59.1h0.9v0.9h-0.9zM152.3 66.3h0.9v0.9h-0.9zM155.7 63.2h0.9v0.9h-0.9zM157.3 58.2h0.9v0.9h-0.9zM161.8 61.6h0.9v0.9h-0.9zM165.1 64.5h0.9v0.9h-0.9zM147.8 58.3h0.9v0.9h-0.9zM159.8 59.8h0.9v0.9h-0.9zM170.8 59.5h0.9v0.9h-0.9zM153.8 59.8h0.9v0.9h-0.9zM161.2 59.6h0.9v0.9h-0.9zM171.5 57.7h0.9v0.9h-0.9zM173.7 64.5h0.9v0.9h-0.9zM172.7 60.7h0.9v0.9h-0.9zM166.5 64.3h0.9v0.9h-0.9zM147.0 56.4h0.9v0.9h-0.9zM155.0 63.4h0.9v0.9h-0.9zM171.7 58.0h0.9v0.9h-0.9zM156.4 60.7h0.9v0.9h-0.9zM171.7 61.9h0.9v0.9h-0.9zM156.8 70.7h0.9v0.9h-0.9zM154.8 74.7h0.9v0.9h-0.9zM164.1 66.0h0.9v0.9h-0.9zM175.5 62.4h0.9v0.9h-0.9zM163.8 63.4h0.9v0.9h-0.9zM161.0 50.9h0.9v0.9h-0.9zM150.2 59.3h0.9v0.9h-0.9zM167.0 61.2h0.9v0.9h-0.9zM180.7 65.7h0.9v0.9h-0.9zM169.6 68.5h0.9v0.9h-0.9zM168.9 68.5h0.9v0.9h-0.9zM164.8 58.9h0.9v0.9h-0.9zM160.8 55.5h0.9v0.9h-0.9zM160.0 56.6h0.9v0.9h-0.9zM169.7 53.3h0.9v0.9h-0.9zM160.1 54.5h0.9v0.9h-0.9zM172.2 62.3h0.9v0.9h-0.9zM154.7 73.2h0.9v0.9h-0.9zM158.9 67.0h0.9v0.9h-0.9zM162.0 65.5h0.9v0.9h-0.9zM166.5 61.4h0.9v0.9h-0.9zM165.6 74.6h0.9v0.9h-0.9zM172.8 81.3h0.9v0.9h-0.9zM169.9 80.3h0.9v0.9h-0.9zM167.9 77.4h0.9v0.9h-0.9zM159.2 73.8h0.9v0.9h-0.9zM179.4 84.6h0.9v0.9h-0.9zM162.8 83.2h0.9v0.9h-0.9zM156.7 70.9h0.9v0.9h-0.9zM167.2 78.3h0.9v0.9h-0.9zM159.2 66.8h0.9v0.9h-0.9zM163.3 86.8h0.9v0.9h-0.9zM167.8 73.5h0.9v0.9h-0.9zM163.6 80.3h0.9v0.9h-0.9zM164.1 70.6h0.9v0.9h-0.9zM161.8 74.7h0.9v0.9h-0.9zM161.4 77.5h0.9v0.9h-0.9zM160.2 71.8h0.9v0.9h-0.9zM165.7 76.5h0.9v0.9h-0.9zM171.2 76.0h0.9v0.9h-0.9zM161.7 85.6h0.9v0.9h-0.9zM161.7 76.8h0.9v0.9h-0.9zM168.2 80.2h0.9v0.9h-0.9zM161.8 84.4h0.9v0.9h-0.9zM197.8 50.2h0.9v0.9h-0.9zM179.5 51.8h0.9v0.9h-0.9zM177.4 62.3h0.9v0.9h-0.9zM198.1 63.1h0.9v0.9h-0.9zM178.7 54.8h0.9v0.9h-0.9zM202.2 57.0h0.9v0.9h-0.9zM153.5 59.7h0.9v0.9h-0.9zM175.4 51.2h0.9v0.9h-0.9zM204.2 64.3h0.9v0.9h-0.9zM191.4 56.4h0.9v0.9h-0.9zM196.2 54.7h0.9v0.9h-0.9zM167.5 55.0h0.9v0.9h-0.9zM187.3 51.5h0.9v0.9h-0.9zM179.0 64.2h0.9v0.9h-0.9zM189.2 56.0h0.9v0.9h-0.9zM174.2 65.3h0.9v0.9h-0.9zM190.1 61.1h0.9v0.9h-0.9zM172.4 56.5h0.9v0.9h-0.9zM209.6 53.9h0.9v0.9h-0.9zM177.3 62.0h0.9v0.9h-0.9zM217.4 55.6h0.9v0.9h-0.9zM202.6 59.7h0.9v0.9h-0.9zM217.8 54.1h0.9v0.9h-0.9zM219.1 54.9h0.9v0.9h-0.9zM202.2 51.3h0.9v0.9h-0.9zM222.3 51.0h0.9v0.9h-0.9zM204.1 54.3h0.9v0.9h-0.9zM211.2 56.0h0.9v0.9h-0.9zM201.0 57.9h0.9v0.9h-0.9zM146.4 85.9h0.9v0.9h-0.9zM191.9 74.8h0.9v0.9h-0.9zM184.0 68.5h0.9v0.9h-0.9zM188.6 79.4h0.9v0.9h-0.9zM154.3 79.8h0.9v0.9h-0.9zM189.6 76.2h0.9v0.9h-0.9zM188.5 95.1h0.9v0.9h-0.9zM177.9 89.5h0.9v0.9h-0.9zM167.3 81.5h0.9v0.9h-0.9zM157.0 93.7h0.9v0.9h-0.9zM188.9 82.4h0.9v0.9h-0.9zM171.6 93.8h0.9v0.9h-0.9zM187.7 81.6h0.9v0.9h-0.9zM159.3 80.4h0.9v0.9h-0.9zM161.3 56.7h0.9v0.9h-0.9zM193.3 67.7h0.9v0.9h-0.9zM150.7 89.4h0.9v0.9h-0.9zM166.2 94.6h0.9v0.9h-0.9zM189.8 88.6h0.9v0.9h-0.9zM190.4 74.3h0.9v0.9h-0.9zM190.5 80.4h0.9v0.9h-0.9zM200.6 80.8h0.9v0.9h-0.9zM172.6 90.1h0.9v0.9h-0.9zM182.4 80.7h0.9v0.9h-0.9zM162.6 88.6h0.9v0.9h-0.9zM174.1 84.8h0.9v0.9h-0.9zM156.3 83.2h0.9v0.9h-0.9zM203.8 84.5h0.9v0.9h-0.9zM159.9 88.6h0.9v0.9h-0.9zM168.7 90.5h0.9v0.9h-0.9zM174.8 77.9h0.9v0.9h-0.9zM157.4 79.5h0.9v0.9h-0.9zM151.5 85.1h0.9v0.9h-0.9zM171.1 91.9h0.9v0.9h-0.9zM150.4 96.3h0.9v0.9h-0.9zM173.2 84.3h0.9v0.9h-0.9zM174.9 47.7h0.9v0.9h-0.9zM179.3 46.9h0.9v0.9h-0.9zM154.6 89.2h0.9v0.9h-0.9zM170.6 91.5h0.9v0.9h-0.9zM150.1 86.3h0.9v0.9h-0.9zM176.5 66.8h0.9v0.9h-0.9zM167.2 52.7h0.9v0.9h-0.9zM179.6 47.8h0.9v0.9h-0.9zM154.3 64.9h0.9v0.9h-0.9zM151.0 46.6h0.9v0.9h-0.9zM157.6 59.8h0.9v0.9h-0.9zM171.8 48.5h0.9v0.9h-0.9zM150.7 62.9h0.9v0.9h-0.9zM179.3 50.8h0.9v0.9h-0.9zM164.8 59.2h0.9v0.9h-0.9zM146.7 84.6h0.9v0.9h-0.9zM181.6 48.9h0.9v0.9h-0.9zM168.6 69.0h0.9v0.9h-0.9zM174.7 81.3h0.9v0.9h-0.9zM166.6 47.2h0.9v0.9h-0.9zM175.7 59.8h0.9v0.9h-0.9zM175.2 56.6h0.9v0.9h-0.9zM197.4 55.1h0.9v0.9h-0.9zM172.1 88.9h0.9v0.9h-0.9zM215.1 58.0h0.9v0.9h-0.9zM207.4 87.8h0.9v0.9h-0.9zM214.4 67.3h0.9v0.9h-0.9zM210.8 67.2h0.9v0.9h-0.9zM160.5 72.0h0.9v0.9h-0.9zM222.5 48.0h0.9v0.9h-0.9zM165.4 78.3h0.9v0.9h-0.9zM147.3 69.8h0.9v0.9h-0.9zM188.1 66.7h0.9v0.9h-0.9zM193.5 94.8h0.9v0.9h-0.9zM225.9 55.4h0.9v0.9h-0.9zM207.1 80.5h0.9v0.9h-0.9zM187.8 70.8h0.9v0.9h-0.9zM146.1 94.5h0.9v0.9h-0.9zM217.1 76.2h0.9v0.9h-0.9zM186.0 86.0h0.9v0.9h-0.9zM184.9 98.8h0.9v0.9h-0.9zM196.5 75.2h0.9v0.9h-0.9zM165.4 44.6h0.9v0.9h-0.9zM199.3 22.0h0.9v0.9h-0.9z" fill="#000" fill-opacity="0.5"/>
<line x1="145.2" y1="20" x2="228.3" y2="20" stroke="#222" stroke-width="1.0"/>
<line x1="228.3" y1="20" x2="228.3" y2="102.6" stroke="#444" stroke-width="0.8"/>
<line x1="145.2" y1="19.4" x2="145.2" y2="103.39999999999999" stroke="#111" stroke-width="1.5"/>
<line x1="145.2" y1="102.6" x2="228.70000000000002" y2="102.6" stroke="#111" stroke-width="1.6"/>
<path d="M143.6 96.4h1.6M151.4 102.6v1.6M143.6 92.7h1.6M155.2 102.6v1.6M143.6 90.2h1.6M157.7 102.6v1.6M143.6 88.1h1.6M159.7 102.6v1.6M143.6 86.5h1.6M161.4 102.6v1.6M143.6 85.0h1.6M162.9 102.6v1.6M143.6 84.0h1.6M163.9 102.6v1.6M143.6 83.0h1.6M164.9 102.6v1.6M143.6 75.8h1.6M172.2 102.6v1.6M143.6 72.0h1.6M175.9 102.6v1.6M143.6 69.6h1.6M178.4 102.6v1.6M143.6 67.5h1.6M180.5 102.6v1.6M143.6 65.8h1.6M182.2 102.6v1.6M143.6 64.4h1.6M183.6 102.6v1.6M143.6 63.4h1.6M184.7 102.6v1.6M143.6 62.3h1.6M185.7 102.6v1.6M143.6 55.1h1.6M193.0 102.6v1.6M143.6 51.4h1.6M196.7 102.6v1.6M143.6 48.9h1.6M199.2 102.6v1.6M143.6 46.8h1.6M201.3 102.6v1.6M143.6 45.2h1.6M203.0 102.6v1.6M143.6 43.7h1.6M204.4 102.6v1.6M143.6 42.7h1.6M205.4 102.6v1.6M143.6 41.7h1.6M206.5 102.6v1.6M143.6 34.5h1.6M213.8 102.6v1.6M143.6 30.7h1.6M217.5 102.6v1.6M143.6 28.3h1.6M220.0 102.6v1.6M143.6 26.2h1.6M222.1 102.6v1.6M143.6 24.5h1.6M223.7 102.6v1.6M143.6 23.1h1.6M225.2 102.6v1.6M143.6 22.1h1.6M226.2 102.6v1.6M143.6 21.0h1.6M227.3 102.6v1.6" stroke="#555" stroke-width="0.5" fill="none"/>
<line x1="143.2" y1="102.6" x2="145.2" y2="102.6" stroke="#111" stroke-width="0.7"/>
<rect x="137.7" y="102.3" width="2.2" height="1.6" fill="#777"/>
<rect x="140.39999999999998" y="100.8" width="1" height="1.2" fill="#888"/>
<line x1="145.2" y1="102.6" x2="145.2" y2="104.6" stroke="#111" stroke-width="0.7"/>
<rect x="142.7" y="108.1" width="2.2" height="1.6" fill="#777"/>
<rect x="145.39999999999998" y="106.8" width="1" height="1.2" fill="#888"/>
<line x1="143.2" y1="81.94999999999999" x2="145.2" y2="81.94999999999999" stroke="#111" stroke-width="0.7"/>
<rect x="137.7" y="81.64999999999999" width="2.2" height="1.6" fill="#777"/>
<rect x="140.39999999999998" y="80.14999999999999" width="1" height="1.2" fill="#888"/>
<line x1="165.975" y1="102.6" x2="165.975" y2="104.6" stroke="#111" stroke-width="0.7"/>
<rect x="163.475" y="108.1" width="2.2" height="1.6" fill="#777"/>
<rect x="166.17499999999998" y="106.8" width="1" height="1.2" fill="#888"/>
<line x1="143.2" y1="61.3" x2="145.2" y2="61.3" stroke="#111" stroke-width="0.7"/>
<rect x="137.7" y="61.0" width="2.2" height="1.6" fill="#777"/>
<rect x="140.39999999999998" y="59.5" width="1" height="1.2" fill="#888"/>
<line x1="186.75" y1="102.6" x2="186.75" y2="104.6" stroke="#111" stroke-width="0.7"/>
<rect x="184.25" y="108.1" width="2.2" height="1.6" fill="#777"/>
<rect x="186.95" y="106.8" width="1" height="1.2" fill="#888"/>
<line x1="143.2" y1="40.65" x2="145.2" y2="40.65" stroke="#111" stroke-width="0.7"/>
<rect x="137.7" y="40.35" width="2.2" height="1.6" fill="#777"/>
<rect x="140.39999999999998" y="38.85" width="1" height="1.2" fill="#888"/>
<line x1="207.525" y1="102.6" x2="207.525" y2="104.6" stroke="#111" stroke-width="0.7"/>
<rect x="205.025" y="108.1" width="2.2" height="1.6" fill="#777"/>
<rect x="207.725" y="106.8" width="1" height="1.2" fill="#888"/>
<line x1="143.2" y1="20.0" x2="145.2" y2="20.0" stroke="#111" stroke-width="0.7"/>
<rect x="137.7" y="19.7" width="2.2" height="1.6" fill="#777"/>
<rect x="140.39999999999998" y="18.2" width="1" height="1.2" fill="#888"/>
<line x1="228.3" y1="102.6" x2="228.3" y2="104.6" stroke="#111" stroke-width="0.7"/>
<rect x="225.8" y="108.1" width="2.2" height="1.6" fill="#777"/>
<rect x="228.5" y="106.8" width="1" height="1.2" fill="#888"/>
<rect x="192.3" y="40" width="36.0" height="24.2" fill="none" stroke="#333" stroke-width="0.9"/>
<text x="148.5" y="33.1" font-size="10.4" text-anchor="start" font-weight="normal" fill="#111" stroke="#111" stroke-width="0.22" textLength="28.4" lengthAdjust="spacingAndGlyphs">Ts1Cje</text>
<text x="210" y="54.6" font-size="6" text-anchor="middle" font-weight="normal" fill="#333" stroke="#333" stroke-width="0.22">4.21</text>
<text x="132.8" y="47.2" font-size="12" text-anchor="middle" font-weight="normal" fill="#111" stroke="#111" stroke-width="0.22" transform="rotate(-90 132.8 47.2)" textLength="12.2" lengthAdjust="spacingAndGlyphs">Kit</text>
<line x1="130" y1="101" x2="130" y2="68.6" stroke="#2a2a2a" stroke-width="0.8"/>
<path d="M130 60.6 L127.8 73.6 L130 70.6 L132.2 73.6 Z" fill="#111"/>
<line x1="145" y1="116.2" x2="182.3" y2="116.2" stroke="#2a2a2a" stroke-width="0.8"/>
<path d="M190.3 116.2 L177.3 114.0 L180.3 116.2 L177.3 118.4 Z" fill="#111"/>
<text x="196.3" y="120.4" font-size="11.8" text-anchor="start" font-weight="normal" fill="#111" stroke="#111" stroke-width="0.22" textLength="25" lengthAdjust="spacingAndGlyphs">Sca1</text>
<text x="73.7" y="137" font-size="8.7" text-anchor="middle" font-weight="normal" fill="#111" stroke="#111" stroke-width="0.22">Proportion of LSK cells</text>
<text x="73.7" y="147" font-size="8.7" text-anchor="middle" font-weight="normal" fill="#111" stroke="#111" stroke-width="0.22">in Bone Marrow</text>
<line x1="42" y1="153" x2="42" y2="266" stroke="#111" stroke-width="1.15"/>
<line x1="42" y1="266" x2="97" y2="266" stroke="#111" stroke-width="1.15"/>
<line x1="39.5" y1="266.0" x2="42" y2="266.0" stroke="#111" stroke-width="1.15"/>
<text x="39.0" y="268.8" font-size="7.9" text-anchor="end" font-weight="bold" fill="#111" stroke="#111" stroke-width="0.22">0</text>
<line x1="39.5" y1="243.45" x2="42" y2="243.45" stroke="#111" stroke-width="1.15"/>
<text x="39.0" y="246.25" font-size="7.9" text-anchor="end" font-weight="bold" fill="#111" stroke="#111" stroke-width="0.22">1</text>
<line x1="39.5" y1="220.9" x2="42" y2="220.9" stroke="#111" stroke-width="1.15"/>
<text x="39.0" y="223.70000000000002" font-size="7.9" text-anchor="end" font-weight="bold" fill="#111" stroke="#111" stroke-width="0.22">2</text>
<line x1="39.5" y1="198.35" x2="42" y2="198.35" stroke="#111" stroke-width="1.15"/>
<text x="39.0" y="201.15" font-size="7.9" text-anchor="end" font-weight="bold" fill="#111" stroke="#111" stroke-width="0.22">3</text>
<line x1="39.5" y1="175.8" x2="42" y2="175.8" stroke="#111" stroke-width="1.15"/>
<text x="39.0" y="178.60000000000002" font-size="7.9" text-anchor="end" font-weight="bold" fill="#111" stroke="#111" stroke-width="0.22">4</text>
<line x1="39.5" y1="153.25" x2="42" y2="153.25" stroke="#111" stroke-width="1.15"/>
<text x="39.0" y="156.05" font-size="7.9" text-anchor="end" font-weight="bold" fill="#111" stroke="#111" stroke-width="0.22">5</text>
<rect x="45.5" y="163" width="19" height="103" fill="#000" stroke="#111" stroke-width="1"/>
<line x1="55" y1="160.7" x2="55" y2="163" stroke="#111" stroke-width="1"/>
<line x1="50" y1="160.7" x2="60" y2="160.7" stroke="#111" stroke-width="1"/>
<rect x="73.5" y="168.7" width="19" height="97.30000000000001" fill="#fff" stroke="#111" stroke-width="1"/>
<line x1="83" y1="167.2" x2="83" y2="170.2" stroke="#111" stroke-width="1"/>
<line x1="78" y1="167.2" x2="88" y2="167.2" stroke="#111" stroke-width="1"/>
<line x1="78" y1="170.2" x2="88" y2="170.2" stroke="#111" stroke-width="1"/>
<line x1="55" y1="266" x2="55" y2="268.5" stroke="#111" stroke-width="1.15"/>
<line x1="83" y1="266" x2="83" y2="268.5" stroke="#111" stroke-width="1.15"/>
<text x="52" y="279" font-size="8.5" text-anchor="middle" font-weight="normal" fill="#111" stroke="#111" stroke-width="0.22">Disomic</text>
<text x="85" y="279" font-size="8.5" text-anchor="middle" font-weight="normal" fill="#111" stroke="#111" stroke-width="0.22">Ts1Cje</text>
<text x="68" y="290" font-size="8.5" text-anchor="middle" font-weight="normal" fill="#111" stroke="#111" stroke-width="0.22">Genotype</text>
<text x="16.6" y="210.2" font-size="9.8" text-anchor="middle" font-weight="normal" fill="#111" stroke="#111" stroke-width="0.22" transform="rotate(-90 16.6 210.2)">Percentage of lineage</text>
<text x="28.8" y="210.9" font-size="9.8" text-anchor="middle" font-weight="normal" fill="#111" stroke="#111" stroke-width="0.22" transform="rotate(-90 28.8 210.9)">negative cells</text>
<text x="191" y="138" font-size="8.5" text-anchor="middle" font-weight="normal" fill="#111" stroke="#111" stroke-width="0.22">Total LSK cells</text>
<text x="192" y="148.5" font-size="8.5" text-anchor="middle" font-weight="normal" fill="#111" stroke="#111" stroke-width="0.22">in Bone Marrow</text>
<line x1="161" y1="154.5" x2="161" y2="266.5" stroke="#111" stroke-width="1.15"/>
<line x1="161" y1="266.5" x2="216" y2="266.5" stroke="#111" stroke-width="1.15"/>
<line x1="158.5" y1="266.5" x2="161" y2="266.5" stroke="#111" stroke-width="1.15"/>
<text x="158.0" y="269.3" font-size="7.9" text-anchor="end" font-weight="bold" fill="#111" stroke="#111" stroke-width="0.22">0</text>
<line x1="158.5" y1="244.1" x2="161" y2="244.1" stroke="#111" stroke-width="1.15"/>
<text x="158.0" y="246.9" font-size="7.9" text-anchor="end" font-weight="bold" fill="#111" stroke="#111" stroke-width="0.22">1</text>
<line x1="158.5" y1="221.7" x2="161" y2="221.7" stroke="#111" stroke-width="1.15"/>
<text x="158.0" y="224.5" font-size="7.9" text-anchor="end" font-weight="bold" fill="#111" stroke="#111" stroke-width="0.22">2</text>
<line x1="158.5" y1="199.3" x2="161" y2="199.3" stroke="#111" stroke-width="1.15"/>
<text x="158.0" y="202.10000000000002" font-size="7.9" text-anchor="end" font-weight="bold" fill="#111" stroke="#111" stroke-width="0.22">3</text>
<line x1="158.5" y1="176.9" x2="161" y2="176.9" stroke="#111" stroke-width="1.15"/>
<text x="158.0" y="179.70000000000002" font-size="7.9" text-anchor="end" font-weight="bold" fill="#111" stroke="#111" stroke-width="0.22">4</text>
<line x1="158.5" y1="154.5" x2="161" y2="154.5" stroke="#111" stroke-width="1.15"/>
<text x="158.0" y="157.3" font-size="7.9" text-anchor="end" font-weight="bold" fill="#111" stroke="#111" stroke-width="0.22">5</text>
<rect x="165.5" y="185" width="19.5" height="81.5" fill="#000" stroke="#111" stroke-width="1"/>
<line x1="175" y1="175.5" x2="175" y2="185" stroke="#111" stroke-width="1"/>
<line x1="170" y1="175.5" x2="180" y2="175.5" stroke="#111" stroke-width="1"/>
<rect x="193.5" y="222.5" width="19" height="44.0" fill="#fff" stroke="#111" stroke-width="1"/>
<line x1="203" y1="214.5" x2="203" y2="231" stroke="#111" stroke-width="1"/>
<line x1="198" y1="214.5" x2="208" y2="214.5" stroke="#111" stroke-width="1"/>
<line x1="198" y1="231" x2="208" y2="231" stroke="#111" stroke-width="1"/>
<line x1="175" y1="266.5" x2="175" y2="269.0" stroke="#111" stroke-width="1.15"/>
<line x1="203" y1="266.5" x2="203" y2="269.0" stroke="#111" stroke-width="1.15"/>
<text x="203.7" y="210.5" font-size="11" text-anchor="middle" font-weight="normal" fill="#111" stroke="#111" stroke-width="0.22">*</text>
<text x="172" y="279" font-size="8.5" text-anchor="middle" font-weight="normal" fill="#111" stroke="#111" stroke-width="0.22">Disomic</text>
<text x="204" y="279" font-size="8.5" text-anchor="middle" font-weight="normal" fill="#111" stroke="#111" stroke-width="0.22">Ts1Cje</text>
<text x="186" y="289.5" font-size="8.5" text-anchor="middle" font-weight="normal" fill="#111" stroke="#111" stroke-width="0.22">Genotype</text>
<text x="136.3" y="211.9" font-size="9.6" text-anchor="middle" font-weight="normal" fill="#111" stroke="#111" stroke-width="0.22" transform="rotate(-90 136.3 211.9)">Total cells per</text>
<text x="148.8" y="208.8" font-size="9.75" text-anchor="middle" font-weight="normal" fill="#111" stroke="#111" stroke-width="0.22" transform="rotate(-90 148.8 208.8)">femur (X10^4)</text>
<text x="308.5" y="15.5" font-size="8.5" text-anchor="middle" font-weight="normal" fill="#111" stroke="#111" stroke-width="0.22">Total Bone</text>
<text x="310.5" y="27" font-size="8.5" text-anchor="middle" font-weight="normal" fill="#111" stroke="#111" stroke-width="0.22">Marrow cells</text>
<line x1="271" y1="28.7" x2="271" y2="143" stroke="#111" stroke-width="1.15"/>
<line x1="271" y1="143" x2="330" y2="143" stroke="#111" stroke-width="1.15"/>
<line x1="268.5" y1="143.0" x2="271" y2="143.0" stroke="#111" stroke-width="1.15"/>
<text x="267.5" y="145.8" font-size="7.9" text-anchor="end" font-weight="bold" fill="#111" stroke="#111" stroke-width="0.22">0</text>
<line x1="268.5" y1="128.7" x2="271" y2="128.7" stroke="#111" stroke-width="1.15"/>
<text x="267.5" y="131.5" font-size="7.9" text-anchor="end" font-weight="bold" fill="#111" stroke="#111" stroke-width="0.22">5</text>
<line x1="268.5" y1="114.4" x2="271" y2="114.4" stroke="#111" stroke-width="1.15"/>
<text x="267.5" y="117.2" font-size="7.9" text-anchor="end" font-weight="bold" fill="#111" stroke="#111" stroke-width="0.22">10</text>
<line x1="268.5" y1="100.1" x2="271" y2="100.1" stroke="#111" stroke-width="1.15"/>
<text x="267.5" y="102.89999999999999" font-size="7.9" text-anchor="end" font-weight="bold" fill="#111" stroke="#111" stroke-width="0.22">15</text>
<line x1="268.5" y1="85.8" x2="271" y2="85.8" stroke="#111" stroke-width="1.15"/>
<text x="267.5" y="88.6" font-size="7.9" text-anchor="end" font-weight="bold" fill="#111" stroke="#111" stroke-width="0.22">20</text>
<line x1="268.5" y1="71.5" x2="271" y2="71.5" stroke="#111" stroke-width="1.15"/>
<text x="267.5" y="74.3" font-size="7.9" text-anchor="end" font-weight="bold" fill="#111" stroke="#111" stroke-width="0.22">25</text>
<line x1="268.5" y1="57.19999999999999" x2="271" y2="57.19999999999999" stroke="#111" stroke-width="1.15"/>
<text x="267.5" y="59.999999999999986" font-size="7.9" text-anchor="end" font-weight="bold" fill="#111" stroke="#111" stroke-width="0.22">30</text>
<line x1="268.5" y1="42.89999999999999" x2="271" y2="42.89999999999999" stroke="#111" stroke-width="1.15"/>
<text x="267.5" y="45.69999999999999" font-size="7.9" text-anchor="end" font-weight="bold" fill="#111" stroke="#111" stroke-width="0.22">35</text>
<line x1="268.5" y1="28.599999999999994" x2="271" y2="28.599999999999994" stroke="#111" stroke-width="1.15"/>
<text x="267.5" y="31.399999999999995" font-size="7.9" text-anchor="end" font-weight="bold" fill="#111" stroke="#111" stroke-width="0.22">40</text>
<rect x="278" y="48.7" width="19.5" height="94.3" fill="#000" stroke="#111" stroke-width="1"/>
<line x1="287.5" y1="42.5" x2="287.5" y2="48.7" stroke="#111" stroke-width="1"/>
<line x1="282.0" y1="42.5" x2="293.0" y2="42.5" stroke="#111" stroke-width="1"/>
<rect x="306.5" y="86.7" width="19" height="56.3" fill="#fff" stroke="#111" stroke-width="1"/>
<line x1="316" y1="78.7" x2="316" y2="94.5" stroke="#111" stroke-width="1"/>
<line x1="310.5" y1="78.7" x2="321.5" y2="78.7" stroke="#111" stroke-width="1"/>
<line x1="310.5" y1="94.5" x2="321.5" y2="94.5" stroke="#111" stroke-width="1"/>
<line x1="287.5" y1="143" x2="287.5" y2="145.5" stroke="#111" stroke-width="1.15"/>
<line x1="316" y1="143" x2="316" y2="145.5" stroke="#111" stroke-width="1.15"/>
<text x="317" y="75.5" font-size="11" text-anchor="middle" font-weight="normal" fill="#111" stroke="#111" stroke-width="0.22">*</text>
<text x="285" y="155" font-size="8.5" text-anchor="middle" font-weight="normal" fill="#111" stroke="#111" stroke-width="0.22">Disomic</text>
<text x="317.5" y="155" font-size="8.5" text-anchor="middle" font-weight="normal" fill="#111" stroke="#111" stroke-width="0.22">Ts1Cje</text>
<text x="300.5" y="166" font-size="8.5" text-anchor="middle" font-weight="normal" fill="#111" stroke="#111" stroke-width="0.22">Genotype</text>
<text x="254.8" y="85" font-size="9.85" text-anchor="middle" font-weight="normal" fill="#111" stroke="#111" stroke-width="0.22" transform="rotate(-90 254.8 85)">X10^6 cells per femur</text>
<text x="461" y="18.5" font-size="8.5" text-anchor="middle" font-weight="normal" fill="#111" stroke="#111" stroke-width="0.22">Competitive Reconstitution</text>
<line x1="398" y1="28.7" x2="398" y2="144.7" stroke="#111" stroke-width="1.15"/>
<line x1="398" y1="144.7" x2="513" y2="144.7" stroke="#111" stroke-width="1.15"/>
<line x1="395.5" y1="144.7" x2="398" y2="144.7" stroke="#111" stroke-width="1.15"/>
<text x="394.7" y="147.7" font-size="8.3" text-anchor="end" font-weight="bold" fill="#111" stroke="#111" stroke-width="0.22">0</text>
<line x1="395.5" y1="115.69999999999999" x2="398" y2="115.69999999999999" stroke="#111" stroke-width="1.15"/>
<text x="394.7" y="118.69999999999999" font-size="8.3" text-anchor="end" font-weight="bold" fill="#111" stroke="#111" stroke-width="0.22">20</text>
<line x1="395.5" y1="86.69999999999999" x2="398" y2="86.69999999999999" stroke="#111" stroke-width="1.15"/>
<text x="394.7" y="89.69999999999999" font-size="8.3" text-anchor="end" font-weight="bold" fill="#111" stroke="#111" stroke-width="0.22">40</text>
<line x1="395.5" y1="57.69999999999999" x2="398" y2="57.69999999999999" stroke="#111" stroke-width="1.15"/>
<text x="394.7" y="60.69999999999999" font-size="8.3" text-anchor="end" font-weight="bold" fill="#111" stroke="#111" stroke-width="0.22">60</text>
<line x1="395.5" y1="28.69999999999999" x2="398" y2="28.69999999999999" stroke="#111" stroke-width="1.15"/>
<text x="394.7" y="31.69999999999999" font-size="8.3" text-anchor="end" font-weight="bold" fill="#111" stroke="#111" stroke-width="0.22">80</text>
<rect x="406" y="79" width="19.5" height="65.69999999999999" fill="#fff" stroke="#111" stroke-width="1"/>
<line x1="415.7" y1="75.5" x2="415.7" y2="82.5" stroke="#111" stroke-width="1"/>
<line x1="410.7" y1="75.5" x2="420.7" y2="75.5" stroke="#111" stroke-width="1"/>
<line x1="410.7" y1="82.5" x2="420.7" y2="82.5" stroke="#111" stroke-width="1"/>
<rect x="429" y="65.8" width="20" height="78.89999999999999" fill="#000" stroke="#111" stroke-width="1"/>
<line x1="439" y1="62.3" x2="439" y2="65.8" stroke="#111" stroke-width="1"/>
<line x1="434" y1="62.3" x2="444" y2="62.3" stroke="#111" stroke-width="1"/>
<rect x="464.8" y="79.6" width="19" height="65.1" fill="#fff" stroke="#111" stroke-width="1"/>
<line x1="474.3" y1="72.7" x2="474.3" y2="86" stroke="#111" stroke-width="1"/>
<line x1="469.3" y1="72.7" x2="479.3" y2="72.7" stroke="#111" stroke-width="1"/>
<line x1="469.3" y1="86" x2="479.3" y2="86" stroke="#111" stroke-width="1"/>
<rect x="487.5" y="65" width="19.5" height="79.69999999999999" fill="#000" stroke="#111" stroke-width="1"/>
<line x1="497" y1="58" x2="497" y2="65" stroke="#111" stroke-width="1"/>
<line x1="492" y1="58" x2="502" y2="58" stroke="#111" stroke-width="1"/>
<line x1="427.5" y1="144.7" x2="427.5" y2="147.2" stroke="#111" stroke-width="1.15"/>
<line x1="486" y1="144.7" x2="486" y2="147.2" stroke="#111" stroke-width="1.15"/>
<rect x="460.5" y="30" width="12" height="5.8" fill="#fff" stroke="#111" stroke-width="1"/>
<rect x="460.5" y="41.5" width="12" height="5.8" fill="#000" stroke="#111" stroke-width="1"/>
<text x="478.5" y="36" font-size="8.5" text-anchor="start" font-weight="normal" fill="#111" stroke="#111" stroke-width="0.22">Test</text>
<text x="478.5" y="47.5" font-size="8.5" text-anchor="start" font-weight="normal" fill="#111" stroke="#111" stroke-width="0.22">Competitor</text>
<text x="426.5" y="157" font-size="8.5" text-anchor="middle" font-weight="normal" fill="#111" stroke="#111" stroke-width="0.22">Disomic</text>
<text x="488" y="157" font-size="8.5" text-anchor="middle" font-weight="normal" fill="#111" stroke="#111" stroke-width="0.22">Ts1Cje</text>
<text x="457.5" y="167" font-size="8.5" text-anchor="middle" font-weight="normal" fill="#111" stroke="#111" stroke-width="0.22">Genotype of test cells</text>
<text x="357" y="92.2" font-size="9.7" text-anchor="middle" font-weight="normal" fill="#111" stroke="#111" stroke-width="0.22" transform="rotate(-90 357 92.2)">Test and competitor</text>
<text x="369.6" y="91.3" font-size="9.7" text-anchor="middle" font-weight="normal" fill="#111" stroke="#111" stroke-width="0.22" transform="rotate(-90 369.6 91.3)">cell contribution</text>
<text x="381.6" y="91.6" font-size="9.4" text-anchor="middle" font-weight="normal" fill="#111" stroke="#111" stroke-width="0.22" transform="rotate(-90 381.6 91.6)">(% of Ly5+ cells)</text>
<path d="M312.8 241.8h0.9v0.9h-0.9zM319.7 246.2h0.9v0.9h-0.9zM322.2 241.5h0.9v0.9h-0.9zM319.0 239.0h0.9v0.9h-0.9zM310.1 243.5h0.9v0.9h-0.9zM305.6 241.8h0.9v0.9h-0.9zM330.9 242.9h0.9v0.9h-0.9zM319.4 234.8h0.9v0.9h-0.9zM312.8 238.1h0.9v0.9h-0.9zM324.9 237.2h0.9v0.9h-0.9zM319.2 242.4h0.9v0.9h-0.9zM313.8 244.6h0.9v0.9h-0.9zM327.5 243.9h0.9v0.9h-0.9zM321.4 237.2h0.9v0.9h-0.9zM317.9 238.9h0.9v0.9h-0.9zM315.2 238.4h0.9v0.9h-0.9zM322.4 246.1h0.9v0.9h-0.9zM313.8 239.5h0.9v0.9h-0.9zM314.8 245.7h0.9v0.9h-0.9zM318.5 246.8h0.9v0.9h-0.9zM325.5 235.7h0.9v0.9h-0.9zM311.0 245.1h0.9v0.9h-0.9zM315.9 247.5h0.9v0.9h-0.9zM319.6 242.8h0.9v0.9h-0.9zM316.8 234.4h0.9v0.9h-0.9zM319.5 235.5h0.9v0.9h-0.9zM321.6 237.8h0.9v0.9h-0.9zM325.1 241.6h0.9v0.9h-0.9zM311.1 245.6h0.9v0.9h-0.9zM317.8 244.5h0.9v0.9h-0.9zM319.7 245.1h0.9v0.9h-0.9zM316.5 243.6h0.9v0.9h-0.9zM317.4 247.0h0.9v0.9h-0.9zM319.3 243.2h0.9v0.9h-0.9zM321.8 249.4h0.9v0.9h-0.9zM314.1 236.4h0.9v0.9h-0.9zM318.6 240.4h0.9v0.9h-0.9zM316.2 243.5h0.9v0.9h-0.9zM316.5 243.8h0.9v0.9h-0.9zM320.0 238.9h0.9v0.9h-0.9zM308.6 250.6h0.9v0.9h-0.9zM313.6 245.6h0.9v0.9h-0.9zM313.9 243.4h0.9v0.9h-0.9zM315.6 249.7h0.9v0.9h-0.9zM323.5 233.5h0.9v0.9h-0.9zM318.7 246.7h0.9v0.9h-0.9zM316.0 241.9h0.9v0.9h-0.9zM318.0 240.9h0.9v0.9h-0.9zM310.2 235.6h0.9v0.9h-0.9zM318.3 247.4h0.9v0.9h-0.9zM318.9 243.8h0.9v0.9h-0.9zM326.8 241.1h0.9v0.9h-0.9zM315.5 243.7h0.9v0.9h-0.9zM327.4 230.3h0.9v0.9h-0.9zM318.6 252.5h0.9v0.9h-0.9zM309.4 240.1h0.9v0.9h-0.9zM318.6 237.6h0.9v0.9h-0.9zM311.7 240.4h0.9v0.9h-0.9zM312.4 237.2h0.9v0.9h-0.9zM316.9 246.8h0.9v0.9h-0.9zM318.7 243.9h0.9v0.9h-0.9zM315.0 248.4h0.9v0.9h-0.9zM318.4 243.5h0.9v0.9h-0.9zM317.5 247.2h0.9v0.9h-0.9zM316.0 245.2h0.9v0.9h-0.9zM314.1 250.4h0.9v0.9h-0.9zM314.7 247.2h0.9v0.9h-0.9zM303.8 266.5h0.9v0.9h-0.9zM313.0 268.3h0.9v0.9h-0.9zM320.9 279.7h0.9v0.9h-0.9zM315.3 272.1h0.9v0.9h-0.9zM310.7 263.6h0.9v0.9h-0.9zM313.1 250.6h0.9v0.9h-0.9zM326.7 256.5h0.9v0.9h-0.9zM299.1 265.2h0.9v0.9h-0.9zM313.8 272.0h0.9v0.9h-0.9zM323.9 268.5h0.9v0.9h-0.9zM313.5 270.9h0.9v0.9h-0.9zM321.2 261.6h0.9v0.9h-0.9zM309.7 264.1h0.9v0.9h-0.9zM312.3 263.1h0.9v0.9h-0.9zM306.5 265.9h0.9v0.9h-0.9zM318.5 258.5h0.9v0.9h-0.9zM317.0 257.9h0.9v0.9h-0.9zM316.8 287.1h0.9v0.9h-0.9zM309.4 271.5h0.9v0.9h-0.9zM315.5 252.3h0.9v0.9h-0.9zM321.3 266.7h0.9v0.9h-0.9zM311.6 262.5h0.9v0.9h-0.9zM310.0 255.6h0.9v0.9h-0.9zM313.8 253.8h0.9v0.9h-0.9zM309.4 261.1h0.9v0.9h-0.9zM301.9 262.1h0.9v0.9h-0.9zM310.6 271.0h0.9v0.9h-0.9zM313.7 253.3h0.9v0.9h-0.9zM316.7 253.5h0.9v0.9h-0.9zM321.0 267.4h0.9v0.9h-0.9zM319.0 262.1h0.9v0.9h-0.9zM320.9 261.6h0.9v0.9h-0.9zM305.2 264.7h0.9v0.9h-0.9zM314.2 276.2h0.9v0.9h-0.9zM329.0 274.0h0.9v0.9h-0.9zM314.1 264.7h0.9v0.9h-0.9zM305.8 256.5h0.9v0.9h-0.9zM307.4 245.5h0.9v0.9h-0.9zM315.9 268.4h0.9v0.9h-0.9zM317.6 259.9h0.9v0.9h-0.9zM315.6 259.9h0.9v0.9h-0.9zM320.6 257.1h0.9v0.9h-0.9zM313.6 272.7h0.9v0.9h-0.9zM315.6 268.4h0.9v0.9h-0.9zM318.6 267.3h0.9v0.9h-0.9zM322.1 265.7h0.9v0.9h-0.9zM302.0 268.1h0.9v0.9h-0.9zM314.8 266.3h0.9v0.9h-0.9zM311.9 270.8h0.9v0.9h-0.9zM316.2 272.1h0.9v0.9h-0.9zM314.8 274.0h0.9v0.9h-0.9zM313.4 275.1h0.9v0.9h-0.9zM326.1 257.0h0.9v0.9h-0.9zM304.3 281.2h0.9v0.9h-0.9zM311.9 264.6h0.9v0.9h-0.9zM312.8 262.4h0.9v0.9h-0.9zM312.4 275.4h0.9v0.9h-0.9zM309.7 262.1h0.9v0.9h-0.9zM312.3 266.3h0.9v0.9h-0.9zM320.8 262.2h0.9v0.9h-0.9zM321.7 253.4h0.9v0.9h-0.9zM309.2 258.8h0.9v0.9h-0.9zM315.0 259.1h0.9v0.9h-0.9zM307.7 271.5h0.9v0.9h-0.9zM306.5 259.5h0.9v0.9h-0.9zM320.9 277.0h0.9v0.9h-0.9zM319.6 261.7h0.9v0.9h-0.9zM306.0 257.7h0.9v0.9h-0.9zM310.7 248.9h0.9v0.9h-0.9zM315.0 251.9h0.9v0.9h-0.9zM319.7 282.3h0.9v0.9h-0.9zM312.4 260.2h0.9v0.9h-0.9zM294.5 258.6h0.9v0.9h-0.9zM315.1 256.1h0.9v0.9h-0.9zM316.8 259.3h0.9v0.9h-0.9zM324.0 259.5h0.9v0.9h-0.9zM308.3 267.9h0.9v0.9h-0.9zM306.0 270.4h0.9v0.9h-0.9zM318.5 269.7h0.9v0.9h-0.9zM324.4 278.2h0.9v0.9h-0.9zM312.4 265.6h0.9v0.9h-0.9zM318.8 267.1h0.9v0.9h-0.9zM331.4 263.2h0.9v0.9h-0.9zM307.5 257.3h0.9v0.9h-0.9zM305.1 261.1h0.9v0.9h-0.9zM311.1 276.7h0.9v0.9h-0.9zM310.2 261.8h0.9v0.9h-0.9zM309.5 261.5h0.9v0.9h-0.9zM325.8 264.3h0.9v0.9h-0.9zM306.6 264.2h0.9v0.9h-0.9zM317.6 256.5h0.9v0.9h-0.9zM318.4 258.9h0.9v0.9h-0.9zM312.2 256.5h0.9v0.9h-0.9zM311.9 261.1h0.9v0.9h-0.9zM308.6 271.3h0.9v0.9h-0.9zM313.0 256.3h0.9v0.9h-0.9zM302.2 263.7h0.9v0.9h-0.9zM317.4 246.8h0.9v0.9h-0.9zM304.1 253.1h0.9v0.9h-0.9zM311.5 245.3h0.9v0.9h-0.9zM295.4 257.1h0.9v0.9h-0.9zM295.4 258.1h0.9v0.9h-0.9zM297.8 242.2h0.9v0.9h-0.9zM304.7 259.6h0.9v0.9h-0.9zM300.0 255.0h0.9v0.9h-0.9zM292.9 264.3h0.9v0.9h-0.9zM287.3 255.6h0.9v0.9h-0.9zM285.6 264.2h0.9v0.9h-0.9zM291.2 253.6h0.9v0.9h-0.9zM293.5 275.1h0.9v0.9h-0.9zM282.5 279.1h0.9v0.9h-0.9zM289.7 262.5h0.9v0.9h-0.9zM291.6 270.4h0.9v0.9h-0.9zM311.4 275.3h0.9v0.9h-0.9zM306.7 287.2h0.9v0.9h-0.9zM282.5 256.7h0.9v0.9h-0.9zM278.0 272.9h0.9v0.9h-0.9zM289.0 267.9h0.9v0.9h-0.9zM294.4 268.1h0.9v0.9h-0.9zM286.0 262.3h0.9v0.9h-0.9zM294.9 252.4h0.9v0.9h-0.9zM295.4 267.7h0.9v0.9h-0.9zM283.8 261.2h0.9v0.9h-0.9zM289.1 275.5h0.9v0.9h-0.9zM301.3 260.0h0.9v0.9h-0.9zM290.3 268.8h0.9v0.9h-0.9zM292.9 264.2h0.9v0.9h-0.9zM293.5 266.2h0.9v0.9h-0.9zM296.7 263.1h0.9v0.9h-0.9zM284.8 267.4h0.9v0.9h-0.9zM289.7 273.4h0.9v0.9h-0.9zM289.3 261.9h0.9v0.9h-0.9zM297.0 265.6h0.9v0.9h-0.9zM284.3 267.9h0.9v0.9h-0.9zM287.5 251.2h0.9v0.9h-0.9zM295.1 251.1h0.9v0.9h-0.9zM304.0 263.6h0.9v0.9h-0.9zM284.8 249.0h0.9v0.9h-0.9zM282.0 261.0h0.9v0.9h-0.9zM282.1 263.6h0.9v0.9h-0.9zM286.1 267.6h0.9v0.9h-0.9zM280.4 246.4h0.9v0.9h-0.9zM303.1 263.3h0.9v0.9h-0.9zM287.5 253.2h0.9v0.9h-0.9zM289.6 266.0h0.9v0.9h-0.9zM291.4 278.3h0.9v0.9h-0.9zM298.9 275.1h0.9v0.9h-0.9zM295.9 276.2h0.9v0.9h-0.9zM301.6 264.4h0.9v0.9h-0.9zM278.6 256.1h0.9v0.9h-0.9zM309.5 283.2h0.9v0.9h-0.9zM278.8 269.8h0.9v0.9h-0.9zM303.9 272.7h0.9v0.9h-0.9zM298.8 286.4h0.9v0.9h-0.9zM301.5 258.2h0.9v0.9h-0.9zM314.0 267.5h0.9v0.9h-0.9zM298.5 258.4h0.9v0.9h-0.9zM294.4 272.4h0.9v0.9h-0.9zM293.0 259.5h0.9v0.9h-0.9zM297.3 258.0h0.9v0.9h-0.9zM294.4 261.7h0.9v0.9h-0.9zM287.0 254.7h0.9v0.9h-0.9zM298.8 266.5h0.9v0.9h-0.9zM293.2 258.1h0.9v0.9h-0.9zM290.0 250.3h0.9v0.9h-0.9zM300.2 270.0h0.9v0.9h-0.9zM294.0 273.3h0.9v0.9h-0.9zM286.9 252.6h0.9v0.9h-0.9zM292.2 270.6h0.9v0.9h-0.9zM293.7 250.3h0.9v0.9h-0.9zM307.4 255.0h0.9v0.9h-0.9zM283.3 255.7h0.9v0.9h-0.9zM290.4 243.2h0.9v0.9h-0.9zM289.0 237.0h0.9v0.9h-0.9zM299.3 243.4h0.9v0.9h-0.9zM289.7 248.7h0.9v0.9h-0.9zM296.8 254.2h0.9v0.9h-0.9zM298.1 252.1h0.9v0.9h-0.9zM282.6 244.3h0.9v0.9h-0.9zM291.0 242.7h0.9v0.9h-0.9zM300.7 255.4h0.9v0.9h-0.9zM302.0 245.6h0.9v0.9h-0.9zM281.1 235.3h0.9v0.9h-0.9zM281.8 242.5h0.9v0.9h-0.9zM310.4 243.6h0.9v0.9h-0.9zM286.2 238.9h0.9v0.9h-0.9zM326.1 263.5h0.9v0.9h-0.9zM313.2 273.1h0.9v0.9h-0.9zM313.7 259.5h0.9v0.9h-0.9zM334.0 249.1h0.9v0.9h-0.9zM321.8 254.8h0.9v0.9h-0.9zM282.8 255.5h0.9v0.9h-0.9zM310.7 249.8h0.9v0.9h-0.9zM302.7 257.3h0.9v0.9h-0.9zM298.5 254.3h0.9v0.9h-0.9zM332.3 258.7h0.9v0.9h-0.9zM300.8 262.4h0.9v0.9h-0.9zM291.1 262.9h0.9v0.9h-0.9zM304.1 258.5h0.9v0.9h-0.9zM314.3 241.2h0.9v0.9h-0.9zM301.1 257.2h0.9v0.9h-0.9zM328.9 238.1h0.9v0.9h-0.9zM320.2 258.1h0.9v0.9h-0.9zM306.9 262.8h0.9v0.9h-0.9zM354.6 221.8h0.9v0.9h-0.9zM302.0 249.4h0.9v0.9h-0.9zM332.0 252.6h0.9v0.9h-0.9zM316.3 255.5h0.9v0.9h-0.9zM289.1 254.8h0.9v0.9h-0.9zM321.5 247.4h0.9v0.9h-0.9zM309.3 248.3h0.9v0.9h-0.9zM315.6 239.7h0.9v0.9h-0.9zM324.8 264.7h0.9v0.9h-0.9zM287.1 283.8h0.9v0.9h-0.9zM343.2 234.3h0.9v0.9h-0.9zM282.7 267.4h0.9v0.9h-0.9zM340.9 230.5h0.9v0.9h-0.9zM279.3 276.4h0.9v0.9h-0.9zM276.1 225.6h0.9v0.9h-0.9z" fill="#000" fill-opacity="0.45"/>
<path d="M316.9 238.2h0.9v0.9h-0.9zM317.5 249.0h0.9v0.9h-0.9zM318.4 246.7h0.9v0.9h-0.9zM320.0 241.2h0.9v0.9h-0.9zM308.0 249.3h0.9v0.9h-0.9zM318.7 235.6h0.9v0.9h-0.9zM308.8 246.4h0.9v0.9h-0.9zM317.3 252.6h0.9v0.9h-0.9zM316.3 246.8h0.9v0.9h-0.9zM314.5 242.2h0.9v0.9h-0.9zM313.1 235.3h0.9v0.9h-0.9zM318.4 239.0h0.9v0.9h-0.9zM320.7 240.0h0.9v0.9h-0.9zM310.4 231.2h0.9v0.9h-0.9zM317.4 236.6h0.9v0.9h-0.9zM325.0 244.5h0.9v0.9h-0.9zM315.3 240.5h0.9v0.9h-0.9zM317.5 252.2h0.9v0.9h-0.9zM318.0 245.5h0.9v0.9h-0.9zM325.2 238.0h0.9v0.9h-0.9zM314.5 249.0h0.9v0.9h-0.9zM312.7 240.7h0.9v0.9h-0.9zM319.5 247.8h0.9v0.9h-0.9zM318.4 240.2h0.9v0.9h-0.9zM323.1 239.7h0.9v0.9h-0.9zM314.9 245.3h0.9v0.9h-0.9zM311.0 242.4h0.9v0.9h-0.9zM320.3 239.8h0.9v0.9h-0.9zM311.7 244.9h0.9v0.9h-0.9zM318.2 236.4h0.9v0.9h-0.9zM319.2 230.6h0.9v0.9h-0.9zM314.4 242.0h0.9v0.9h-0.9zM320.7 236.2h0.9v0.9h-0.9zM321.1 245.7h0.9v0.9h-0.9zM312.6 239.8h0.9v0.9h-0.9zM317.0 233.9h0.9v0.9h-0.9zM315.8 244.1h0.9v0.9h-0.9zM329.0 244.6h0.9v0.9h-0.9zM317.9 235.0h0.9v0.9h-0.9zM312.1 240.6h0.9v0.9h-0.9zM317.3 244.2h0.9v0.9h-0.9zM325.4 238.9h0.9v0.9h-0.9zM310.3 245.8h0.9v0.9h-0.9zM331.4 249.8h0.9v0.9h-0.9zM322.6 237.1h0.9v0.9h-0.9zM309.5 238.0h0.9v0.9h-0.9zM310.5 243.2h0.9v0.9h-0.9zM317.1 239.6h0.9v0.9h-0.9zM316.5 235.1h0.9v0.9h-0.9zM320.0 240.1h0.9v0.9h-0.9zM322.9 235.4h0.9v0.9h-0.9zM317.8 242.6h0.9v0.9h-0.9zM317.1 250.8h0.9v0.9h-0.9zM320.0 246.6h0.9v0.9h-0.9zM322.3 242.4h0.9v0.9h-0.9zM309.9 236.5h0.9v0.9h-0.9zM316.3 241.5h0.9v0.9h-0.9zM318.8 241.8h0.9v0.9h-0.9zM319.5 233.9h0.9v0.9h-0.9zM311.9 248.5h0.9v0.9h-0.9zM312.9 250.3h0.9v0.9h-0.9zM318.6 249.5h0.9v0.9h-0.9zM321.3 247.1h0.9v0.9h-0.9zM319.7 246.6h0.9v0.9h-0.9zM314.2 245.8h0.9v0.9h-0.9zM313.4 246.8h0.9v0.9h-0.9zM317.0 247.0h0.9v0.9h-0.9zM313.8 263.0h0.9v0.9h-0.9zM303.6 265.4h0.9v0.9h-0.9zM315.1 252.6h0.9v0.9h-0.9zM318.5 260.7h0.9v0.9h-0.9zM318.2 268.1h0.9v0.9h-0.9zM320.9 253.8h0.9v0.9h-0.9zM320.5 267.5h0.9v0.9h-0.9zM316.6 275.0h0.9v0.9h-0.9zM308.4 250.6h0.9v0.9h-0.9zM305.2 269.7h0.9v0.9h-0.9zM318.1 268.2h0.9v0.9h-0.9zM303.0 229.7h0.9v0.9h-0.9zM319.6 253.1h0.9v0.9h-0.9zM323.2 251.6h0.9v0.9h-0.9zM313.6 268.2h0.9v0.9h-0.9zM314.3 243.7h0.9v0.9h-0.9zM311.6 262.4h0.9v0.9h-0.9zM319.5 258.2h0.9v0.9h-0.9zM316.9 254.2h0.9v0.9h-0.9zM326.0 266.2h0.9v0.9h-0.9zM311.2 254.2h0.9v0.9h-0.9zM314.0 274.7h0.9v0.9h-0.9zM310.3 273.8h0.9v0.9h-0.9zM312.6 254.9h0.9v0.9h-0.9zM316.9 260.9h0.9v0.9h-0.9zM309.3 264.7h0.9v0.9h-0.9zM314.5 265.4h0.9v0.9h-0.9zM310.9 281.9h0.9v0.9h-0.9zM320.1 259.0h0.9v0.9h-0.9zM309.8 258.0h0.9v0.9h-0.9zM314.3 264.2h0.9v0.9h-0.9zM314.3 268.7h0.9v0.9h-0.9zM309.5 250.1h0.9v0.9h-0.9zM308.2 273.7h0.9v0.9h-0.9zM317.5 263.7h0.9v0.9h-0.9zM322.3 264.8h0.9v0.9h-0.9zM316.8 260.8h0.9v0.9h-0.9zM317.8 253.8h0.9v0.9h-0.9zM327.0 258.2h0.9v0.9h-0.9zM314.7 264.1h0.9v0.9h-0.9zM311.4 267.3h0.9v0.9h-0.9zM316.7 264.5h0.9v0.9h-0.9zM310.6 269.4h0.9v0.9h-0.9zM328.9 268.8h0.9v0.9h-0.9zM317.1 251.3h0.9v0.9h-0.9zM303.1 269.8h0.9v0.9h-0.9zM318.5 277.4h0.9v0.9h-0.9zM305.4 263.5h0.9v0.9h-0.9zM322.2 271.0h0.9v0.9h-0.9zM312.2 275.5h0.9v0.9h-0.9zM304.6 268.2h0.9v0.9h-0.9zM309.9 253.3h0.9v0.9h-0.9zM299.2 267.7h0.9v0.9h-0.9zM308.3 264.7h0.9v0.9h-0.9zM313.1 250.0h0.9v0.9h-0.9zM312.5 268.5h0.9v0.9h-0.9zM306.4 273.2h0.9v0.9h-0.9zM316.7 273.6h0.9v0.9h-0.9zM318.5 274.4h0.9v0.9h-0.9zM312.4 266.2h0.9v0.9h-0.9zM318.8 265.3h0.9v0.9h-0.9zM320.2 261.5h0.9v0.9h-0.9zM308.1 269.5h0.9v0.9h-0.9zM319.6 270.2h0.9v0.9h-0.9zM312.6 253.6h0.9v0.9h-0.9zM318.6 262.2h0.9v0.9h-0.9zM304.1 280.9h0.9v0.9h-0.9zM315.9 267.8h0.9v0.9h-0.9zM312.6 252.5h0.9v0.9h-0.9zM320.5 254.0h0.9v0.9h-0.9zM313.1 271.4h0.9v0.9h-0.9zM317.2 270.0h0.9v0.9h-0.9zM314.5 265.7h0.9v0.9h-0.9zM306.4 278.4h0.9v0.9h-0.9zM315.8 273.9h0.9v0.9h-0.9zM309.6 266.9h0.9v0.9h-0.9zM314.8 270.9h0.9v0.9h-0.9zM315.3 282.1h0.9v0.9h-0.9zM316.2 262.6h0.9v0.9h-0.9zM314.3 258.0h0.9v0.9h-0.9zM320.0 258.2h0.9v0.9h-0.9zM302.1 263.7h0.9v0.9h-0.9zM319.4 253.5h0.9v0.9h-0.9zM320.7 258.9h0.9v0.9h-0.9zM324.9 275.6h0.9v0.9h-0.9zM322.5 270.9h0.9v0.9h-0.9zM312.0 262.3h0.9v0.9h-0.9zM315.4 269.7h0.9v0.9h-0.9zM316.1 273.8h0.9v0.9h-0.9zM319.4 270.7h0.9v0.9h-0.9zM314.2 272.5h0.9v0.9h-0.9zM311.4 251.8h0.9v0.9h-0.9zM323.6 267.3h0.9v0.9h-0.9zM323.3 263.4h0.9v0.9h-0.9zM310.9 268.6h0.9v0.9h-0.9zM318.6 262.1h0.9v0.9h-0.9zM321.8 257.7h0.9v0.9h-0.9zM307.3 259.5h0.9v0.9h-0.9zM317.4 263.5h0.9v0.9h-0.9zM312.3 252.3h0.9v0.9h-0.9zM297.5 270.0h0.9v0.9h-0.9zM306.3 270.1h0.9v0.9h-0.9zM297.9 268.5h0.9v0.9h-0.9zM290.2 267.9h0.9v0.9h-0.9zM291.9 267.8h0.9v0.9h-0.9zM300.0 259.3h0.9v0.9h-0.9zM298.7 268.3h0.9v0.9h-0.9zM285.9 272.0h0.9v0.9h-0.9zM287.6 260.7h0.9v0.9h-0.9zM288.5 254.4h0.9v0.9h-0.9zM293.6 279.6h0.9v0.9h-0.9zM276.5 256.3h0.9v0.9h-0.9zM287.6 266.2h0.9v0.9h-0.9zM298.2 262.5h0.9v0.9h-0.9zM296.4 270.8h0.9v0.9h-0.9zM293.9 250.9h0.9v0.9h-0.9zM296.3 274.4h0.9v0.9h-0.9zM297.8 260.8h0.9v0.9h-0.9zM293.6 256.3h0.9v0.9h-0.9zM285.9 271.5h0.9v0.9h-0.9zM280.0 268.2h0.9v0.9h-0.9zM293.8 269.8h0.9v0.9h-0.9zM291.4 268.2h0.9v0.9h-0.9zM277.8 264.9h0.9v0.9h-0.9zM283.1 259.3h0.9v0.9h-0.9zM289.0 256.1h0.9v0.9h-0.9zM294.6 270.4h0.9v0.9h-0.9zM285.3 251.9h0.9v0.9h-0.9zM291.9 253.0h0.9v0.9h-0.9zM287.4 270.9h0.9v0.9h-0.9zM299.5 267.3h0.9v0.9h-0.9zM291.5 258.4h0.9v0.9h-0.9zM286.6 276.2h0.9v0.9h-0.9zM296.4 264.7h0.9v0.9h-0.9zM289.5 264.4h0.9v0.9h-0.9zM285.2 256.7h0.9v0.9h-0.9zM288.9 263.8h0.9v0.9h-0.9zM280.8 274.2h0.9v0.9h-0.9zM294.9 267.4h0.9v0.9h-0.9zM289.8 262.2h0.9v0.9h-0.9zM288.8 269.5h0.9v0.9h-0.9zM302.9 268.9h0.9v0.9h-0.9zM290.0 267.5h0.9v0.9h-0.9zM291.2 275.8h0.9v0.9h-0.9zM291.2 250.9h0.9v0.9h-0.9zM284.9 279.4h0.9v0.9h-0.9zM301.9 264.1h0.9v0.9h-0.9zM280.4 265.6h0.9v0.9h-0.9zM299.6 251.5h0.9v0.9h-0.9zM284.7 278.9h0.9v0.9h-0.9zM298.8 257.7h0.9v0.9h-0.9zM298.0 256.2h0.9v0.9h-0.9zM293.7 265.2h0.9v0.9h-0.9zM286.3 263.7h0.9v0.9h-0.9zM290.8 272.1h0.9v0.9h-0.9zM279.9 273.6h0.9v0.9h-0.9zM296.7 264.8h0.9v0.9h-0.9zM299.0 249.7h0.9v0.9h-0.9zM291.5 263.5h0.9v0.9h-0.9zM284.9 276.9h0.9v0.9h-0.9zM279.8 274.7h0.9v0.9h-0.9zM286.5 262.3h0.9v0.9h-0.9zM291.9 264.9h0.9v0.9h-0.9zM286.2 257.9h0.9v0.9h-0.9zM294.2 273.2h0.9v0.9h-0.9zM289.1 255.0h0.9v0.9h-0.9zM285.5 248.1h0.9v0.9h-0.9zM278.8 266.9h0.9v0.9h-0.9zM298.8 256.8h0.9v0.9h-0.9zM288.0 249.5h0.9v0.9h-0.9zM292.4 242.3h0.9v0.9h-0.9zM299.3 255.3h0.9v0.9h-0.9zM277.4 235.1h0.9v0.9h-0.9zM299.5 247.7h0.9v0.9h-0.9zM299.6 243.6h0.9v0.9h-0.9zM303.7 242.0h0.9v0.9h-0.9zM294.1 240.0h0.9v0.9h-0.9zM294.1 247.9h0.9v0.9h-0.9zM297.9 248.3h0.9v0.9h-0.9zM281.9 254.1h0.9v0.9h-0.9zM295.2 236.0h0.9v0.9h-0.9zM303.5 228.1h0.9v0.9h-0.9zM288.0 239.0h0.9v0.9h-0.9zM295.6 257.6h0.9v0.9h-0.9zM276.8 250.1h0.9v0.9h-0.9zM295.3 225.5h0.9v0.9h-0.9zM308.4 269.6h0.9v0.9h-0.9zM323.3 285.4h0.9v0.9h-0.9zM316.7 250.3h0.9v0.9h-0.9zM308.9 249.6h0.9v0.9h-0.9zM304.5 269.3h0.9v0.9h-0.9zM309.3 249.5h0.9v0.9h-0.9zM303.5 264.2h0.9v0.9h-0.9zM312.1 248.4h0.9v0.9h-0.9zM301.6 267.5h0.9v0.9h-0.9zM333.1 235.2h0.9v0.9h-0.9zM309.5 264.7h0.9v0.9h-0.9zM323.2 247.8h0.9v0.9h-0.9zM328.3 260.6h0.9v0.9h-0.9zM327.9 266.2h0.9v0.9h-0.9zM292.6 259.1h0.9v0.9h-0.9zM331.3 251.9h0.9v0.9h-0.9zM299.5 250.5h0.9v0.9h-0.9zM324.5 260.7h0.9v0.9h-0.9zM284.6 257.9h0.9v0.9h-0.9zM312.6 278.6h0.9v0.9h-0.9zM315.7 236.9h0.9v0.9h-0.9zM313.0 271.7h0.9v0.9h-0.9zM303.3 254.4h0.9v0.9h-0.9zM312.5 253.6h0.9v0.9h-0.9zM292.2 285.5h0.9v0.9h-0.9zM303.5 253.7h0.9v0.9h-0.9zM304.7 262.0h0.9v0.9h-0.9zM304.5 237.6h0.9v0.9h-0.9zM301.2 261.7h0.9v0.9h-0.9zM286.7 265.1h0.9v0.9h-0.9zM324.0 234.1h0.9v0.9h-0.9zM291.6 261.8h0.9v0.9h-0.9zM346.7 287.6h0.9v0.9h-0.9z" fill="#000" fill-opacity="0.45"/>
<path d="M320.3 243.0h0.9v0.9h-0.9zM322.2 240.8h0.9v0.9h-0.9zM325.9 236.9h0.9v0.9h-0.9zM313.5 244.6h0.9v0.9h-0.9zM318.6 247.3h0.9v0.9h-0.9zM317.1 244.1h0.9v0.9h-0.9zM319.0 247.6h0.9v0.9h-0.9zM307.8 246.7h0.9v0.9h-0.9zM322.1 239.7h0.9v0.9h-0.9zM305.5 241.0h0.9v0.9h-0.9zM315.7 244.5h0.9v0.9h-0.9zM311.9 237.0h0.9v0.9h-0.9zM314.4 245.6h0.9v0.9h-0.9zM318.8 246.5h0.9v0.9h-0.9zM315.5 240.8h0.9v0.9h-0.9zM318.6 249.1h0.9v0.9h-0.9zM314.9 245.2h0.9v0.9h-0.9zM313.2 238.1h0.9v0.9h-0.9zM318.7 251.5h0.9v0.9h-0.9zM318.8 236.4h0.9v0.9h-0.9zM316.8 237.4h0.9v0.9h-0.9zM315.0 244.2h0.9v0.9h-0.9zM313.3 242.7h0.9v0.9h-0.9zM313.4 241.0h0.9v0.9h-0.9zM317.0 234.2h0.9v0.9h-0.9zM315.1 248.8h0.9v0.9h-0.9zM327.7 243.2h0.9v0.9h-0.9zM314.8 243.1h0.9v0.9h-0.9zM306.7 243.0h0.9v0.9h-0.9zM327.8 253.5h0.9v0.9h-0.9zM304.6 243.8h0.9v0.9h-0.9zM314.2 238.3h0.9v0.9h-0.9zM317.6 246.6h0.9v0.9h-0.9zM305.5 246.3h0.9v0.9h-0.9zM305.3 241.1h0.9v0.9h-0.9zM319.9 242.0h0.9v0.9h-0.9zM320.6 238.2h0.9v0.9h-0.9zM324.7 241.4h0.9v0.9h-0.9zM319.4 238.2h0.9v0.9h-0.9zM321.3 248.4h0.9v0.9h-0.9zM316.2 234.1h0.9v0.9h-0.9zM320.1 241.2h0.9v0.9h-0.9zM312.1 233.9h0.9v0.9h-0.9zM319.5 244.6h0.9v0.9h-0.9zM315.8 233.2h0.9v0.9h-0.9zM316.5 240.2h0.9v0.9h-0.9zM321.0 245.3h0.9v0.9h-0.9zM321.8 241.4h0.9v0.9h-0.9zM322.9 244.1h0.9v0.9h-0.9zM325.1 240.6h0.9v0.9h-0.9zM320.8 242.8h0.9v0.9h-0.9zM320.8 235.0h0.9v0.9h-0.9zM312.1 241.8h0.9v0.9h-0.9zM313.6 238.3h0.9v0.9h-0.9zM325.6 240.6h0.9v0.9h-0.9zM311.7 246.9h0.9v0.9h-0.9zM324.4 239.2h0.9v0.9h-0.9zM324.5 238.3h0.9v0.9h-0.9zM330.1 239.8h0.9v0.9h-0.9zM318.7 248.4h0.9v0.9h-0.9zM314.7 248.0h0.9v0.9h-0.9zM319.2 247.3h0.9v0.9h-0.9zM321.6 249.8h0.9v0.9h-0.9zM324.9 241.6h0.9v0.9h-0.9zM317.7 250.1h0.9v0.9h-0.9zM319.7 246.0h0.9v0.9h-0.9zM310.8 282.6h0.9v0.9h-0.9zM301.5 266.8h0.9v0.9h-0.9zM306.7 259.0h0.9v0.9h-0.9zM319.8 263.8h0.9v0.9h-0.9zM325.5 270.0h0.9v0.9h-0.9zM301.9 274.7h0.9v0.9h-0.9zM323.8 270.5h0.9v0.9h-0.9zM320.0 254.4h0.9v0.9h-0.9zM319.1 262.8h0.9v0.9h-0.9zM320.0 260.3h0.9v0.9h-0.9zM309.5 259.0h0.9v0.9h-0.9zM328.9 258.7h0.9v0.9h-0.9zM312.3 247.5h0.9v0.9h-0.9zM308.9 250.0h0.9v0.9h-0.9zM304.2 268.5h0.9v0.9h-0.9zM320.0 255.6h0.9v0.9h-0.9zM310.2 268.1h0.9v0.9h-0.9zM310.9 272.5h0.9v0.9h-0.9zM316.8 276.5h0.9v0.9h-0.9zM318.0 261.6h0.9v0.9h-0.9zM321.2 255.4h0.9v0.9h-0.9zM323.6 236.6h0.9v0.9h-0.9zM316.5 261.7h0.9v0.9h-0.9zM307.9 275.8h0.9v0.9h-0.9zM305.5 261.2h0.9v0.9h-0.9zM321.7 245.2h0.9v0.9h-0.9zM308.6 263.5h0.9v0.9h-0.9zM312.4 270.4h0.9v0.9h-0.9zM310.8 263.5h0.9v0.9h-0.9zM313.9 263.8h0.9v0.9h-0.9zM301.7 272.4h0.9v0.9h-0.9zM317.1 258.1h0.9v0.9h-0.9zM321.2 264.9h0.9v0.9h-0.9zM313.1 262.5h0.9v0.9h-0.9zM306.8 259.3h0.9v0.9h-0.9zM313.5 256.0h0.9v0.9h-0.9zM310.6 264.4h0.9v0.9h-0.9zM318.7 265.1h0.9v0.9h-0.9zM312.3 265.1h0.9v0.9h-0.9zM318.8 280.6h0.9v0.9h-0.9zM313.0 265.5h0.9v0.9h-0.9zM315.6 268.4h0.9v0.9h-0.9zM323.1 245.8h0.9v0.9h-0.9zM313.2 267.0h0.9v0.9h-0.9zM313.4 270.9h0.9v0.9h-0.9zM311.6 265.0h0.9v0.9h-0.9zM315.1 270.4h0.9v0.9h-0.9zM321.9 257.5h0.9v0.9h-0.9zM316.8 250.5h0.9v0.9h-0.9zM318.6 272.2h0.9v0.9h-0.9zM328.2 264.2h0.9v0.9h-0.9zM322.2 252.8h0.9v0.9h-0.9zM318.4 265.6h0.9v0.9h-0.9zM306.7 260.3h0.9v0.9h-0.9zM316.5 257.8h0.9v0.9h-0.9zM314.1 262.0h0.9v0.9h-0.9zM313.5 270.4h0.9v0.9h-0.9zM317.5 260.5h0.9v0.9h-0.9zM318.0 266.8h0.9v0.9h-0.9zM300.1 265.5h0.9v0.9h-0.9zM316.9 267.1h0.9v0.9h-0.9zM319.1 272.6h0.9v0.9h-0.9zM316.6 242.6h0.9v0.9h-0.9zM314.2 264.1h0.9v0.9h-0.9zM310.8 265.5h0.9v0.9h-0.9zM317.9 253.8h0.9v0.9h-0.9zM313.4 268.9h0.9v0.9h-0.9zM313.5 266.3h0.9v0.9h-0.9zM303.3 268.9h0.9v0.9h-0.9zM305.3 277.1h0.9v0.9h-0.9zM314.9 256.5h0.9v0.9h-0.9zM313.4 248.4h0.9v0.9h-0.9zM315.5 266.6h0.9v0.9h-0.9zM305.0 260.7h0.9v0.9h-0.9zM313.6 275.4h0.9v0.9h-0.9zM315.2 271.7h0.9v0.9h-0.9zM319.7 278.2h0.9v0.9h-0.9zM328.2 258.5h0.9v0.9h-0.9zM314.9 258.6h0.9v0.9h-0.9zM320.1 261.2h0.9v0.9h-0.9zM315.9 261.5h0.9v0.9h-0.9zM317.5 262.4h0.9v0.9h-0.9zM308.5 258.4h0.9v0.9h-0.9zM307.8 259.7h0.9v0.9h-0.9zM307.8 268.5h0.9v0.9h-0.9zM295.1 247.6h0.9v0.9h-0.9zM311.5 265.7h0.9v0.9h-0.9zM325.9 257.6h0.9v0.9h-0.9zM314.8 283.5h0.9v0.9h-0.9zM315.9 259.4h0.9v0.9h-0.9zM306.0 267.3h0.9v0.9h-0.9zM311.1 263.0h0.9v0.9h-0.9zM309.5 250.8h0.9v0.9h-0.9zM313.5 265.8h0.9v0.9h-0.9zM322.0 263.1h0.9v0.9h-0.9zM306.7 275.1h0.9v0.9h-0.9zM306.8 250.8h0.9v0.9h-0.9zM305.7 267.5h0.9v0.9h-0.9zM309.8 257.8h0.9v0.9h-0.9zM318.4 276.3h0.9v0.9h-0.9zM293.0 260.9h0.9v0.9h-0.9zM287.9 255.2h0.9v0.9h-0.9zM290.9 261.5h0.9v0.9h-0.9zM294.2 252.1h0.9v0.9h-0.9zM289.2 256.7h0.9v0.9h-0.9zM292.6 256.4h0.9v0.9h-0.9zM295.8 258.7h0.9v0.9h-0.9zM308.7 259.5h0.9v0.9h-0.9zM285.6 261.9h0.9v0.9h-0.9zM285.7 261.3h0.9v0.9h-0.9zM303.3 257.3h0.9v0.9h-0.9zM297.0 259.1h0.9v0.9h-0.9zM287.6 263.6h0.9v0.9h-0.9zM285.1 261.9h0.9v0.9h-0.9zM299.4 278.2h0.9v0.9h-0.9zM292.6 271.5h0.9v0.9h-0.9zM297.5 263.9h0.9v0.9h-0.9zM293.5 269.0h0.9v0.9h-0.9zM280.0 274.7h0.9v0.9h-0.9zM289.9 281.2h0.9v0.9h-0.9zM292.2 273.7h0.9v0.9h-0.9zM297.2 263.2h0.9v0.9h-0.9zM304.9 251.2h0.9v0.9h-0.9zM279.7 274.5h0.9v0.9h-0.9zM279.3 248.3h0.9v0.9h-0.9zM298.8 261.5h0.9v0.9h-0.9zM289.3 262.2h0.9v0.9h-0.9zM274.5 282.9h0.9v0.9h-0.9zM289.3 254.0h0.9v0.9h-0.9zM288.6 263.7h0.9v0.9h-0.9zM282.0 267.1h0.9v0.9h-0.9zM281.9 268.4h0.9v0.9h-0.9zM287.0 262.9h0.9v0.9h-0.9zM281.5 258.4h0.9v0.9h-0.9zM279.0 266.6h0.9v0.9h-0.9zM303.7 267.9h0.9v0.9h-0.9zM298.6 263.9h0.9v0.9h-0.9zM301.1 269.0h0.9v0.9h-0.9zM310.9 257.3h0.9v0.9h-0.9zM287.5 272.3h0.9v0.9h-0.9zM275.2 267.7h0.9v0.9h-0.9zM274.7 279.4h0.9v0.9h-0.9zM292.4 261.7h0.9v0.9h-0.9zM300.5 265.7h0.9v0.9h-0.9zM299.5 265.1h0.9v0.9h-0.9zM299.7 266.5h0.9v0.9h-0.9zM289.4 282.7h0.9v0.9h-0.9zM298.4 262.7h0.9v0.9h-0.9zM297.2 253.1h0.9v0.9h-0.9zM283.2 257.3h0.9v0.9h-0.9zM299.5 256.8h0.9v0.9h-0.9zM292.1 265.8h0.9v0.9h-0.9zM283.7 260.0h0.9v0.9h-0.9zM279.0 270.6h0.9v0.9h-0.9zM294.5 259.0h0.9v0.9h-0.9zM290.3 272.2h0.9v0.9h-0.9zM294.6 264.7h0.9v0.9h-0.9zM302.8 272.3h0.9v0.9h-0.9zM288.7 269.7h0.9v0.9h-0.9zM296.3 271.0h0.9v0.9h-0.9zM298.4 247.4h0.9v0.9h-0.9zM288.8 268.2h0.9v0.9h-0.9zM281.1 280.6h0.9v0.9h-0.9zM300.7 264.4h0.9v0.9h-0.9zM294.4 259.0h0.9v0.9h-0.9zM295.4 264.8h0.9v0.9h-0.9zM282.2 273.6h0.9v0.9h-0.9zM284.9 244.7h0.9v0.9h-0.9zM294.7 261.3h0.9v0.9h-0.9zM297.1 242.4h0.9v0.9h-0.9zM296.5 243.9h0.9v0.9h-0.9zM298.0 239.9h0.9v0.9h-0.9zM298.2 244.6h0.9v0.9h-0.9zM297.7 244.2h0.9v0.9h-0.9zM293.4 248.5h0.9v0.9h-0.9zM299.0 248.1h0.9v0.9h-0.9zM278.5 248.1h0.9v0.9h-0.9zM300.3 246.3h0.9v0.9h-0.9zM289.5 244.9h0.9v0.9h-0.9zM306.5 246.1h0.9v0.9h-0.9zM297.9 262.4h0.9v0.9h-0.9zM295.0 239.7h0.9v0.9h-0.9zM306.3 258.0h0.9v0.9h-0.9zM290.7 234.8h0.9v0.9h-0.9zM296.1 242.7h0.9v0.9h-0.9zM290.6 239.5h0.9v0.9h-0.9zM296.8 249.0h0.9v0.9h-0.9zM292.9 238.8h0.9v0.9h-0.9zM325.7 248.0h0.9v0.9h-0.9zM321.5 261.0h0.9v0.9h-0.9zM319.8 232.9h0.9v0.9h-0.9zM312.4 256.8h0.9v0.9h-0.9zM324.6 271.8h0.9v0.9h-0.9zM325.8 256.8h0.9v0.9h-0.9zM325.4 230.8h0.9v0.9h-0.9zM301.6 274.8h0.9v0.9h-0.9zM306.0 259.0h0.9v0.9h-0.9zM316.6 244.7h0.9v0.9h-0.9zM309.6 248.4h0.9v0.9h-0.9zM295.5 267.5h0.9v0.9h-0.9zM324.4 254.1h0.9v0.9h-0.9zM341.7 265.2h0.9v0.9h-0.9zM285.6 268.8h0.9v0.9h-0.9zM286.5 243.4h0.9v0.9h-0.9zM313.4 268.8h0.9v0.9h-0.9zM289.1 269.2h0.9v0.9h-0.9zM313.2 248.2h0.9v0.9h-0.9zM309.3 257.9h0.9v0.9h-0.9zM283.4 261.0h0.9v0.9h-0.9zM295.2 257.9h0.9v0.9h-0.9zM311.8 273.5h0.9v0.9h-0.9zM292.1 241.6h0.9v0.9h-0.9zM316.2 258.3h0.9v0.9h-0.9zM360.5 236.0h0.9v0.9h-0.9zM283.9 256.0h0.9v0.9h-0.9zM340.3 284.7h0.9v0.9h-0.9zM295.7 231.6h0.9v0.9h-0.9zM358.4 236.8h0.9v0.9h-0.9zM337.6 230.3h0.9v0.9h-0.9zM294.7 272.5h0.9v0.9h-0.9z" fill="#000" fill-opacity="0.45"/>
<path d="M313.3 247.9h0.9v0.9h-0.9zM309.4 242.1h0.9v0.9h-0.9zM320.4 243.2h0.9v0.9h-0.9zM321.2 235.3h0.9v0.9h-0.9zM313.9 235.2h0.9v0.9h-0.9zM319.0 243.5h0.9v0.9h-0.9zM317.3 235.0h0.9v0.9h-0.9zM317.8 246.5h0.9v0.9h-0.9zM304.8 242.0h0.9v0.9h-0.9zM317.1 241.9h0.9v0.9h-0.9zM316.6 245.4h0.9v0.9h-0.9zM315.7 242.9h0.9v0.9h-0.9zM314.1 239.3h0.9v0.9h-0.9zM324.2 249.9h0.9v0.9h-0.9zM314.8 241.9h0.9v0.9h-0.9zM310.9 234.9h0.9v0.9h-0.9zM315.1 241.6h0.9v0.9h-0.9zM307.7 244.2h0.9v0.9h-0.9zM310.6 243.8h0.9v0.9h-0.9zM319.8 248.4h0.9v0.9h-0.9zM318.4 241.3h0.9v0.9h-0.9zM310.3 236.1h0.9v0.9h-0.9zM313.8 236.4h0.9v0.9h-0.9zM311.8 241.5h0.9v0.9h-0.9zM320.2 236.6h0.9v0.9h-0.9zM313.4 242.9h0.9v0.9h-0.9zM317.9 242.0h0.9v0.9h-0.9zM300.6 244.7h0.9v0.9h-0.9zM323.0 238.5h0.9v0.9h-0.9zM317.5 230.7h0.9v0.9h-0.9zM325.6 235.4h0.9v0.9h-0.9zM319.0 238.5h0.9v0.9h-0.9zM318.0 236.5h0.9v0.9h-0.9zM316.6 238.7h0.9v0.9h-0.9zM310.2 242.9h0.9v0.9h-0.9zM318.0 247.3h0.9v0.9h-0.9zM315.8 241.3h0.9v0.9h-0.9zM319.6 244.4h0.9v0.9h-0.9zM318.2 240.3h0.9v0.9h-0.9zM328.5 242.6h0.9v0.9h-0.9zM318.8 237.9h0.9v0.9h-0.9zM306.7 247.4h0.9v0.9h-0.9zM321.5 240.6h0.9v0.9h-0.9zM318.0 232.3h0.9v0.9h-0.9zM320.6 237.7h0.9v0.9h-0.9zM318.8 247.2h0.9v0.9h-0.9zM311.0 242.7h0.9v0.9h-0.9zM319.2 240.1h0.9v0.9h-0.9zM315.5 247.6h0.9v0.9h-0.9zM326.3 236.5h0.9v0.9h-0.9zM324.0 242.3h0.9v0.9h-0.9zM308.0 249.3h0.9v0.9h-0.9zM328.5 233.1h0.9v0.9h-0.9zM311.2 241.3h0.9v0.9h-0.9zM318.0 249.5h0.9v0.9h-0.9zM318.0 245.4h0.9v0.9h-0.9zM317.9 240.1h0.9v0.9h-0.9zM315.9 244.6h0.9v0.9h-0.9zM309.8 251.4h0.9v0.9h-0.9zM316.0 248.8h0.9v0.9h-0.9zM316.9 246.6h0.9v0.9h-0.9zM318.1 247.6h0.9v0.9h-0.9zM315.6 249.0h0.9v0.9h-0.9zM312.3 245.8h0.9v0.9h-0.9zM323.6 247.2h0.9v0.9h-0.9zM314.8 247.0h0.9v0.9h-0.9zM310.3 274.2h0.9v0.9h-0.9zM318.6 272.0h0.9v0.9h-0.9zM315.8 272.7h0.9v0.9h-0.9zM312.1 264.6h0.9v0.9h-0.9zM322.0 263.7h0.9v0.9h-0.9zM308.3 277.9h0.9v0.9h-0.9zM326.9 258.4h0.9v0.9h-0.9zM293.2 259.3h0.9v0.9h-0.9zM311.0 248.6h0.9v0.9h-0.9zM306.3 271.5h0.9v0.9h-0.9zM311.5 271.6h0.9v0.9h-0.9zM327.6 252.8h0.9v0.9h-0.9zM320.0 255.6h0.9v0.9h-0.9zM325.6 265.4h0.9v0.9h-0.9zM321.2 274.8h0.9v0.9h-0.9zM312.2 269.0h0.9v0.9h-0.9zM307.8 245.9h0.9v0.9h-0.9zM316.5 258.4h0.9v0.9h-0.9zM307.9 276.5h0.9v0.9h-0.9zM313.8 255.0h0.9v0.9h-0.9zM300.7 262.3h0.9v0.9h-0.9zM320.1 261.8h0.9v0.9h-0.9zM310.7 271.2h0.9v0.9h-0.9zM317.1 258.2h0.9v0.9h-0.9zM318.6 244.7h0.9v0.9h-0.9zM305.1 271.1h0.9v0.9h-0.9zM316.2 262.7h0.9v0.9h-0.9zM315.6 254.9h0.9v0.9h-0.9zM307.2 260.4h0.9v0.9h-0.9zM306.8 272.5h0.9v0.9h-0.9zM332.2 262.0h0.9v0.9h-0.9zM320.7 277.2h0.9v0.9h-0.9zM323.7 257.5h0.9v0.9h-0.9zM312.0 257.9h0.9v0.9h-0.9zM317.8 265.8h0.9v0.9h-0.9zM309.3 255.1h0.9v0.9h-0.9zM316.9 267.4h0.9v0.9h-0.9zM316.5 267.6h0.9v0.9h-0.9zM314.1 266.5h0.9v0.9h-0.9zM324.0 265.6h0.9v0.9h-0.9zM313.5 266.8h0.9v0.9h-0.9zM317.2 281.3h0.9v0.9h-0.9zM303.0 271.2h0.9v0.9h-0.9zM312.8 274.7h0.9v0.9h-0.9zM315.0 256.4h0.9v0.9h-0.9zM317.4 269.5h0.9v0.9h-0.9zM314.4 274.7h0.9v0.9h-0.9zM317.3 269.5h0.9v0.9h-0.9zM324.8 284.3h0.9v0.9h-0.9zM324.9 256.5h0.9v0.9h-0.9zM313.3 267.8h0.9v0.9h-0.9zM321.8 267.2h0.9v0.9h-0.9zM317.3 255.9h0.9v0.9h-0.9zM310.9 260.7h0.9v0.9h-0.9zM315.3 260.0h0.9v0.9h-0.9zM309.5 269.8h0.9v0.9h-0.9zM313.5 270.5h0.9v0.9h-0.9zM312.4 257.8h0.9v0.9h-0.9zM322.6 269.6h0.9v0.9h-0.9zM316.3 275.4h0.9v0.9h-0.9zM321.7 267.4h0.9v0.9h-0.9zM300.9 271.3h0.9v0.9h-0.9zM328.5 248.7h0.9v0.9h-0.9zM306.7 258.0h0.9v0.9h-0.9zM326.8 252.9h0.9v0.9h-0.9zM314.4 261.8h0.9v0.9h-0.9zM306.7 255.3h0.9v0.9h-0.9zM318.8 257.1h0.9v0.9h-0.9zM316.3 276.7h0.9v0.9h-0.9zM313.7 271.7h0.9v0.9h-0.9zM322.3 259.1h0.9v0.9h-0.9zM311.6 268.8h0.9v0.9h-0.9zM315.2 253.7h0.9v0.9h-0.9zM315.0 269.4h0.9v0.9h-0.9zM319.1 259.6h0.9v0.9h-0.9zM316.3 274.1h0.9v0.9h-0.9zM323.5 257.8h0.9v0.9h-0.9zM307.0 254.9h0.9v0.9h-0.9zM315.3 257.6h0.9v0.9h-0.9zM318.4 249.2h0.9v0.9h-0.9zM311.4 242.9h0.9v0.9h-0.9zM306.2 265.9h0.9v0.9h-0.9zM304.3 249.8h0.9v0.9h-0.9zM333.4 258.2h0.9v0.9h-0.9zM316.0 263.0h0.9v0.9h-0.9zM323.0 270.1h0.9v0.9h-0.9zM314.3 277.3h0.9v0.9h-0.9zM312.4 237.9h0.9v0.9h-0.9zM316.6 267.7h0.9v0.9h-0.9zM300.4 258.1h0.9v0.9h-0.9zM318.8 266.6h0.9v0.9h-0.9zM305.2 253.2h0.9v0.9h-0.9zM313.6 271.5h0.9v0.9h-0.9zM329.3 268.3h0.9v0.9h-0.9zM304.8 273.3h0.9v0.9h-0.9zM325.0 261.0h0.9v0.9h-0.9zM320.7 262.3h0.9v0.9h-0.9zM310.5 263.1h0.9v0.9h-0.9zM312.4 264.4h0.9v0.9h-0.9zM318.8 271.3h0.9v0.9h-0.9zM286.9 262.1h0.9v0.9h-0.9zM296.7 268.9h0.9v0.9h-0.9zM300.8 261.5h0.9v0.9h-0.9zM293.4 260.5h0.9v0.9h-0.9zM301.5 264.8h0.9v0.9h-0.9zM296.5 264.4h0.9v0.9h-0.9zM293.4 274.4h0.9v0.9h-0.9zM298.6 260.2h0.9v0.9h-0.9zM286.6 274.1h0.9v0.9h-0.9zM289.7 270.2h0.9v0.9h-0.9zM284.6 266.1h0.9v0.9h-0.9zM279.8 259.2h0.9v0.9h-0.9zM286.3 282.4h0.9v0.9h-0.9zM295.5 260.6h0.9v0.9h-0.9zM302.4 271.2h0.9v0.9h-0.9zM291.5 264.3h0.9v0.9h-0.9zM286.5 272.2h0.9v0.9h-0.9zM279.4 253.2h0.9v0.9h-0.9zM283.7 271.1h0.9v0.9h-0.9zM288.0 261.6h0.9v0.9h-0.9zM288.1 286.1h0.9v0.9h-0.9zM303.7 267.1h0.9v0.9h-0.9zM288.7 252.4h0.9v0.9h-0.9zM291.6 251.7h0.9v0.9h-0.9zM293.5 272.1h0.9v0.9h-0.9zM298.2 256.9h0.9v0.9h-0.9zM283.9 263.6h0.9v0.9h-0.9zM299.5 269.0h0.9v0.9h-0.9zM290.4 266.4h0.9v0.9h-0.9zM275.1 265.1h0.9v0.9h-0.9zM295.3 269.3h0.9v0.9h-0.9zM292.9 262.3h0.9v0.9h-0.9zM284.5 264.3h0.9v0.9h-0.9zM297.2 268.2h0.9v0.9h-0.9zM290.8 261.7h0.9v0.9h-0.9zM293.0 257.2h0.9v0.9h-0.9zM285.1 253.2h0.9v0.9h-0.9zM300.7 273.4h0.9v0.9h-0.9zM281.6 254.3h0.9v0.9h-0.9zM279.4 248.4h0.9v0.9h-0.9zM304.8 267.7h0.9v0.9h-0.9zM302.1 277.3h0.9v0.9h-0.9zM278.1 261.6h0.9v0.9h-0.9zM289.4 266.5h0.9v0.9h-0.9zM294.0 268.8h0.9v0.9h-0.9zM305.8 271.8h0.9v0.9h-0.9zM301.5 260.4h0.9v0.9h-0.9zM297.0 270.0h0.9v0.9h-0.9zM298.3 277.1h0.9v0.9h-0.9zM307.5 274.6h0.9v0.9h-0.9zM296.5 260.1h0.9v0.9h-0.9zM283.9 286.9h0.9v0.9h-0.9zM282.2 244.1h0.9v0.9h-0.9zM298.8 264.2h0.9v0.9h-0.9zM305.9 266.6h0.9v0.9h-0.9zM302.2 260.7h0.9v0.9h-0.9zM291.1 274.8h0.9v0.9h-0.9zM294.5 263.2h0.9v0.9h-0.9zM295.2 264.6h0.9v0.9h-0.9zM305.4 272.1h0.9v0.9h-0.9zM286.5 269.4h0.9v0.9h-0.9zM304.6 268.1h0.9v0.9h-0.9zM285.9 265.8h0.9v0.9h-0.9zM304.6 265.8h0.9v0.9h-0.9zM305.0 261.2h0.9v0.9h-0.9zM277.0 278.1h0.9v0.9h-0.9zM292.9 278.2h0.9v0.9h-0.9zM307.7 259.2h0.9v0.9h-0.9zM301.9 242.4h0.9v0.9h-0.9zM300.0 241.4h0.9v0.9h-0.9zM288.7 251.0h0.9v0.9h-0.9zM283.4 250.5h0.9v0.9h-0.9zM296.4 251.5h0.9v0.9h-0.9zM293.0 242.6h0.9v0.9h-0.9zM297.9 247.8h0.9v0.9h-0.9zM302.8 235.9h0.9v0.9h-0.9zM295.8 248.5h0.9v0.9h-0.9zM288.3 243.5h0.9v0.9h-0.9zM290.5 238.6h0.9v0.9h-0.9zM302.5 241.6h0.9v0.9h-0.9zM312.5 245.2h0.9v0.9h-0.9zM299.7 232.4h0.9v0.9h-0.9zM290.3 261.0h0.9v0.9h-0.9zM293.1 247.9h0.9v0.9h-0.9zM301.3 245.6h0.9v0.9h-0.9zM340.6 283.9h0.9v0.9h-0.9zM309.5 254.7h0.9v0.9h-0.9zM306.7 222.4h0.9v0.9h-0.9zM319.9 271.5h0.9v0.9h-0.9zM334.4 260.0h0.9v0.9h-0.9zM324.9 250.7h0.9v0.9h-0.9zM300.7 236.5h0.9v0.9h-0.9zM326.8 265.8h0.9v0.9h-0.9zM296.9 253.2h0.9v0.9h-0.9zM314.4 264.4h0.9v0.9h-0.9zM311.5 255.0h0.9v0.9h-0.9zM304.5 256.3h0.9v0.9h-0.9zM290.4 271.2h0.9v0.9h-0.9zM317.0 254.3h0.9v0.9h-0.9zM308.1 266.6h0.9v0.9h-0.9zM322.8 268.7h0.9v0.9h-0.9zM300.5 243.3h0.9v0.9h-0.9zM324.9 262.6h0.9v0.9h-0.9zM309.6 260.5h0.9v0.9h-0.9zM298.9 276.8h0.9v0.9h-0.9zM300.9 255.3h0.9v0.9h-0.9zM306.6 266.9h0.9v0.9h-0.9zM310.9 256.1h0.9v0.9h-0.9zM308.8 237.5h0.9v0.9h-0.9zM328.4 261.6h0.9v0.9h-0.9zM328.8 242.3h0.9v0.9h-0.9zM318.5 256.0h0.9v0.9h-0.9zM347.6 281.3h0.9v0.9h-0.9zM293.0 270.5h0.9v0.9h-0.9zM279.4 253.8h0.9v0.9h-0.9zM322.6 234.0h0.9v0.9h-0.9zM316.8 275.9h0.9v0.9h-0.9zM282.3 258.4h0.9v0.9h-0.9zM281.1 257.7h0.9v0.9h-0.9zM343.5 235.4h0.9v0.9h-0.9z" fill="#000" fill-opacity="0.45"/>
<path d="M314.3 234.0h0.9v0.9h-0.9zM317.7 238.0h0.9v0.9h-0.9zM318.0 250.0h0.9v0.9h-0.9zM310.5 241.1h0.9v0.9h-0.9zM316.2 244.4h0.9v0.9h-0.9zM313.3 236.0h0.9v0.9h-0.9zM316.4 240.4h0.9v0.9h-0.9zM317.5 243.4h0.9v0.9h-0.9zM308.5 247.4h0.9v0.9h-0.9zM330.6 241.3h0.9v0.9h-0.9zM313.1 240.9h0.9v0.9h-0.9zM314.6 241.7h0.9v0.9h-0.9zM309.4 243.5h0.9v0.9h-0.9zM307.6 237.5h0.9v0.9h-0.9zM310.5 236.4h0.9v0.9h-0.9zM323.1 244.1h0.9v0.9h-0.9zM322.6 241.7h0.9v0.9h-0.9zM316.9 238.6h0.9v0.9h-0.9zM311.5 252.3h0.9v0.9h-0.9zM314.4 241.0h0.9v0.9h-0.9zM316.6 244.4h0.9v0.9h-0.9zM318.2 248.1h0.9v0.9h-0.9zM321.9 241.0h0.9v0.9h-0.9zM316.6 247.1h0.9v0.9h-0.9zM324.4 237.6h0.9v0.9h-0.9zM323.3 248.7h0.9v0.9h-0.9zM308.3 239.1h0.9v0.9h-0.9zM315.5 237.4h0.9v0.9h-0.9zM317.4 238.4h0.9v0.9h-0.9zM326.8 241.4h0.9v0.9h-0.9zM319.2 246.3h0.9v0.9h-0.9zM320.0 242.1h0.9v0.9h-0.9zM321.2 244.9h0.9v0.9h-0.9zM321.9 246.4h0.9v0.9h-0.9zM316.0 242.2h0.9v0.9h-0.9zM322.2 240.2h0.9v0.9h-0.9zM312.1 243.8h0.9v0.9h-0.9zM316.6 243.3h0.9v0.9h-0.9zM315.7 235.4h0.9v0.9h-0.9zM320.4 243.0h0.9v0.9h-0.9zM315.6 239.4h0.9v0.9h-0.9zM326.3 238.5h0.9v0.9h-0.9zM314.3 246.3h0.9v0.9h-0.9zM324.4 251.1h0.9v0.9h-0.9zM330.3 238.0h0.9v0.9h-0.9zM317.8 238.6h0.9v0.9h-0.9zM322.0 240.1h0.9v0.9h-0.9zM324.0 241.7h0.9v0.9h-0.9zM313.6 236.9h0.9v0.9h-0.9zM317.4 232.2h0.9v0.9h-0.9zM320.3 241.9h0.9v0.9h-0.9zM312.8 238.2h0.9v0.9h-0.9zM314.6 243.4h0.9v0.9h-0.9zM311.1 245.4h0.9v0.9h-0.9zM314.8 242.2h0.9v0.9h-0.9zM316.6 246.8h0.9v0.9h-0.9zM313.2 244.2h0.9v0.9h-0.9zM316.8 241.1h0.9v0.9h-0.9zM317.2 244.4h0.9v0.9h-0.9zM316.4 248.9h0.9v0.9h-0.9zM316.5 247.0h0.9v0.9h-0.9zM318.2 248.7h0.9v0.9h-0.9zM323.2 252.5h0.9v0.9h-0.9zM320.3 247.1h0.9v0.9h-0.9zM320.0 246.6h0.9v0.9h-0.9zM323.6 248.6h0.9v0.9h-0.9zM309.4 256.9h0.9v0.9h-0.9zM312.8 272.8h0.9v0.9h-0.9zM314.5 255.8h0.9v0.9h-0.9zM307.5 264.6h0.9v0.9h-0.9zM322.7 261.9h0.9v0.9h-0.9zM321.5 264.2h0.9v0.9h-0.9zM312.7 259.5h0.9v0.9h-0.9zM320.5 264.4h0.9v0.9h-0.9zM317.8 258.3h0.9v0.9h-0.9zM317.7 249.5h0.9v0.9h-0.9zM317.7 267.7h0.9v0.9h-0.9zM309.7 243.2h0.9v0.9h-0.9zM318.6 257.7h0.9v0.9h-0.9zM316.6 259.5h0.9v0.9h-0.9zM318.2 250.9h0.9v0.9h-0.9zM310.5 271.3h0.9v0.9h-0.9zM305.6 260.6h0.9v0.9h-0.9zM317.4 251.8h0.9v0.9h-0.9zM312.4 278.4h0.9v0.9h-0.9zM315.8 270.0h0.9v0.9h-0.9zM322.8 261.7h0.9v0.9h-0.9zM306.6 266.3h0.9v0.9h-0.9zM310.3 266.4h0.9v0.9h-0.9zM308.5 262.2h0.9v0.9h-0.9zM306.9 251.6h0.9v0.9h-0.9zM311.2 259.2h0.9v0.9h-0.9zM315.9 268.3h0.9v0.9h-0.9zM316.7 260.1h0.9v0.9h-0.9zM316.0 264.3h0.9v0.9h-0.9zM315.4 254.6h0.9v0.9h-0.9zM317.1 269.2h0.9v0.9h-0.9zM311.4 255.3h0.9v0.9h-0.9zM311.4 268.6h0.9v0.9h-0.9zM319.6 254.6h0.9v0.9h-0.9zM316.5 265.6h0.9v0.9h-0.9zM306.9 264.2h0.9v0.9h-0.9zM320.8 256.5h0.9v0.9h-0.9zM305.2 272.4h0.9v0.9h-0.9zM324.4 268.9h0.9v0.9h-0.9zM310.1 264.5h0.9v0.9h-0.9zM309.7 263.7h0.9v0.9h-0.9zM315.1 274.6h0.9v0.9h-0.9zM319.1 259.1h0.9v0.9h-0.9zM311.9 279.6h0.9v0.9h-0.9zM314.3 261.6h0.9v0.9h-0.9zM305.3 263.6h0.9v0.9h-0.9zM315.4 259.5h0.9v0.9h-0.9zM305.7 275.2h0.9v0.9h-0.9zM318.6 263.5h0.9v0.9h-0.9zM316.2 258.3h0.9v0.9h-0.9zM319.2 251.5h0.9v0.9h-0.9zM312.7 263.8h0.9v0.9h-0.9zM312.2 271.9h0.9v0.9h-0.9zM308.7 269.0h0.9v0.9h-0.9zM302.1 252.5h0.9v0.9h-0.9zM316.9 261.2h0.9v0.9h-0.9zM312.7 257.7h0.9v0.9h-0.9zM302.2 256.2h0.9v0.9h-0.9zM317.3 268.4h0.9v0.9h-0.9zM310.6 267.2h0.9v0.9h-0.9zM307.1 250.6h0.9v0.9h-0.9zM317.2 257.4h0.9v0.9h-0.9zM304.3 267.9h0.9v0.9h-0.9zM312.5 258.9h0.9v0.9h-0.9zM319.2 261.7h0.9v0.9h-0.9zM300.9 265.0h0.9v0.9h-0.9zM314.1 278.0h0.9v0.9h-0.9zM311.3 257.6h0.9v0.9h-0.9zM319.3 251.5h0.9v0.9h-0.9zM320.8 269.7h0.9v0.9h-0.9zM308.6 260.7h0.9v0.9h-0.9zM307.4 261.3h0.9v0.9h-0.9zM318.9 270.9h0.9v0.9h-0.9zM319.1 277.3h0.9v0.9h-0.9zM315.7 256.2h0.9v0.9h-0.9zM313.4 260.9h0.9v0.9h-0.9zM319.4 259.4h0.9v0.9h-0.9zM310.4 273.3h0.9v0.9h-0.9zM314.0 260.5h0.9v0.9h-0.9zM306.9 257.5h0.9v0.9h-0.9zM315.7 245.1h0.9v0.9h-0.9zM307.7 272.2h0.9v0.9h-0.9zM311.6 266.6h0.9v0.9h-0.9zM323.1 259.2h0.9v0.9h-0.9zM327.2 265.9h0.9v0.9h-0.9zM322.8 240.0h0.9v0.9h-0.9zM330.0 256.2h0.9v0.9h-0.9zM317.7 271.3h0.9v0.9h-0.9zM317.8 262.5h0.9v0.9h-0.9zM306.9 269.2h0.9v0.9h-0.9zM304.0 259.5h0.9v0.9h-0.9zM318.3 273.0h0.9v0.9h-0.9zM306.2 256.1h0.9v0.9h-0.9zM311.0 262.9h0.9v0.9h-0.9zM311.0 262.2h0.9v0.9h-0.9zM314.9 255.2h0.9v0.9h-0.9zM314.1 258.6h0.9v0.9h-0.9zM325.2 263.1h0.9v0.9h-0.9zM304.8 255.4h0.9v0.9h-0.9zM311.4 274.6h0.9v0.9h-0.9zM289.1 265.0h0.9v0.9h-0.9zM285.1 246.4h0.9v0.9h-0.9zM289.4 265.9h0.9v0.9h-0.9zM284.9 270.2h0.9v0.9h-0.9zM287.0 259.9h0.9v0.9h-0.9zM280.7 253.9h0.9v0.9h-0.9zM286.4 269.1h0.9v0.9h-0.9zM288.9 259.8h0.9v0.9h-0.9zM283.2 255.1h0.9v0.9h-0.9zM312.7 259.0h0.9v0.9h-0.9zM285.5 270.7h0.9v0.9h-0.9zM302.3 261.1h0.9v0.9h-0.9zM289.6 266.7h0.9v0.9h-0.9zM286.1 263.7h0.9v0.9h-0.9zM285.0 285.5h0.9v0.9h-0.9zM297.6 250.3h0.9v0.9h-0.9zM285.3 258.6h0.9v0.9h-0.9zM277.4 275.1h0.9v0.9h-0.9zM280.5 257.2h0.9v0.9h-0.9zM282.9 259.6h0.9v0.9h-0.9zM296.6 263.1h0.9v0.9h-0.9zM308.2 272.2h0.9v0.9h-0.9zM287.6 267.4h0.9v0.9h-0.9zM290.9 269.9h0.9v0.9h-0.9zM289.8 268.8h0.9v0.9h-0.9zM294.1 250.2h0.9v0.9h-0.9zM284.3 260.8h0.9v0.9h-0.9zM287.2 264.0h0.9v0.9h-0.9zM288.8 266.3h0.9v0.9h-0.9zM288.4 245.9h0.9v0.9h-0.9zM285.4 256.9h0.9v0.9h-0.9zM289.9 270.7h0.9v0.9h-0.9zM299.5 257.9h0.9v0.9h-0.9zM296.4 263.0h0.9v0.9h-0.9zM299.5 247.0h0.9v0.9h-0.9zM293.2 256.7h0.9v0.9h-0.9zM286.0 266.2h0.9v0.9h-0.9zM294.2 284.1h0.9v0.9h-0.9zM303.8 271.1h0.9v0.9h-0.9zM296.4 263.4h0.9v0.9h-0.9zM301.4 269.6h0.9v0.9h-0.9zM294.9 255.9h0.9v0.9h-0.9zM288.8 257.7h0.9v0.9h-0.9zM295.1 281.8h0.9v0.9h-0.9zM291.1 255.9h0.9v0.9h-0.9zM287.8 261.1h0.9v0.9h-0.9zM306.3 268.3h0.9v0.9h-0.9zM295.5 258.1h0.9v0.9h-0.9zM292.8 268.8h0.9v0.9h-0.9zM310.1 261.1h0.9v0.9h-0.9zM283.7 257.1h0.9v0.9h-0.9zM292.7 260.2h0.9v0.9h-0.9zM289.4 259.9h0.9v0.9h-0.9zM290.2 268.3h0.9v0.9h-0.9zM309.5 283.9h0.9v0.9h-0.9zM283.3 255.0h0.9v0.9h-0.9zM288.7 277.8h0.9v0.9h-0.9zM285.5 276.5h0.9v0.9h-0.9zM286.2 270.6h0.9v0.9h-0.9zM279.1 257.7h0.9v0.9h-0.9zM281.7 264.7h0.9v0.9h-0.9zM299.7 266.5h0.9v0.9h-0.9zM288.6 265.8h0.9v0.9h-0.9zM294.2 264.7h0.9v0.9h-0.9zM285.2 257.2h0.9v0.9h-0.9zM290.8 254.9h0.9v0.9h-0.9zM295.9 260.2h0.9v0.9h-0.9zM291.9 267.5h0.9v0.9h-0.9zM297.3 254.8h0.9v0.9h-0.9zM301.2 239.5h0.9v0.9h-0.9zM279.8 243.8h0.9v0.9h-0.9zM290.9 253.7h0.9v0.9h-0.9zM290.1 252.2h0.9v0.9h-0.9zM298.0 241.0h0.9v0.9h-0.9zM303.0 235.7h0.9v0.9h-0.9zM287.4 240.3h0.9v0.9h-0.9zM297.4 244.5h0.9v0.9h-0.9zM294.9 238.3h0.9v0.9h-0.9zM296.6 257.9h0.9v0.9h-0.9zM287.6 241.7h0.9v0.9h-0.9zM309.2 242.5h0.9v0.9h-0.9zM287.1 238.1h0.9v0.9h-0.9zM283.2 250.5h0.9v0.9h-0.9zM290.5 252.9h0.9v0.9h-0.9zM294.0 245.8h0.9v0.9h-0.9zM325.2 259.4h0.9v0.9h-0.9zM306.2 270.4h0.9v0.9h-0.9zM306.3 253.0h0.9v0.9h-0.9zM320.5 286.5h0.9v0.9h-0.9zM313.4 238.8h0.9v0.9h-0.9zM293.4 276.4h0.9v0.9h-0.9zM305.9 259.8h0.9v0.9h-0.9zM317.8 257.5h0.9v0.9h-0.9zM309.4 240.9h0.9v0.9h-0.9zM308.6 254.6h0.9v0.9h-0.9zM302.2 261.4h0.9v0.9h-0.9zM309.7 264.5h0.9v0.9h-0.9zM308.9 253.8h0.9v0.9h-0.9zM304.5 244.8h0.9v0.9h-0.9zM293.4 232.8h0.9v0.9h-0.9zM344.8 270.1h0.9v0.9h-0.9zM343.5 264.2h0.9v0.9h-0.9zM322.8 243.0h0.9v0.9h-0.9zM341.4 233.0h0.9v0.9h-0.9zM305.3 260.5h0.9v0.9h-0.9zM300.8 283.6h0.9v0.9h-0.9zM307.8 279.3h0.9v0.9h-0.9zM325.1 265.1h0.9v0.9h-0.9zM320.8 274.7h0.9v0.9h-0.9zM294.7 248.4h0.9v0.9h-0.9zM338.1 233.5h0.9v0.9h-0.9zM335.1 264.1h0.9v0.9h-0.9zM315.9 232.0h0.9v0.9h-0.9zM338.3 257.0h0.9v0.9h-0.9zM286.0 255.9h0.9v0.9h-0.9zM276.2 262.2h0.9v0.9h-0.9zM342.8 245.5h0.9v0.9h-0.9zM318.4 253.8h0.9v0.9h-0.9zM328.9 237.7h0.9v0.9h-0.9z" fill="#000" fill-opacity="0.45"/>
<path d="M323.9 240.6h0.9v0.9h-0.9zM316.3 248.7h0.9v0.9h-0.9zM316.0 239.7h0.9v0.9h-0.9zM315.3 248.0h0.9v0.9h-0.9zM316.1 240.0h0.9v0.9h-0.9zM322.3 240.7h0.9v0.9h-0.9zM318.8 241.4h0.9v0.9h-0.9zM319.2 244.2h0.9v0.9h-0.9zM325.1 245.1h0.9v0.9h-0.9zM316.2 241.7h0.9v0.9h-0.9zM318.0 241.8h0.9v0.9h-0.9zM317.9 252.4h0.9v0.9h-0.9zM316.7 244.6h0.9v0.9h-0.9zM314.4 238.8h0.9v0.9h-0.9zM312.8 245.4h0.9v0.9h-0.9zM314.5 245.7h0.9v0.9h-0.9zM318.5 241.7h0.9v0.9h-0.9zM315.0 246.5h0.9v0.9h-0.9zM314.5 240.6h0.9v0.9h-0.9zM323.5 244.1h0.9v0.9h-0.9zM321.4 235.7h0.9v0.9h-0.9zM314.5 244.0h0.9v0.9h-0.9zM318.5 236.0h0.9v0.9h-0.9zM314.9 252.9h0.9v0.9h-0.9zM313.3 245.1h0.9v0.9h-0.9zM318.4 244.8h0.9v0.9h-0.9zM325.1 232.9h0.9v0.9h-0.9zM315.7 245.1h0.9v0.9h-0.9zM319.7 245.5h0.9v0.9h-0.9zM329.1 237.6h0.9v0.9h-0.9zM312.0 235.1h0.9v0.9h-0.9zM322.8 244.8h0.9v0.9h-0.9zM323.2 243.0h0.9v0.9h-0.9zM319.1 239.4h0.9v0.9h-0.9zM317.3 240.1h0.9v0.9h-0.9zM319.0 247.5h0.9v0.9h-0.9zM316.1 239.0h0.9v0.9h-0.9zM314.8 245.3h0.9v0.9h-0.9zM310.2 239.7h0.9v0.9h-0.9zM317.0 237.4h0.9v0.9h-0.9zM315.7 252.9h0.9v0.9h-0.9zM320.4 239.9h0.9v0.9h-0.9zM316.9 250.9h0.9v0.9h-0.9zM314.4 242.1h0.9v0.9h-0.9zM318.4 245.1h0.9v0.9h-0.9zM316.9 239.0h0.9v0.9h-0.9zM320.8 239.9h0.9v0.9h-0.9zM319.4 252.0h0.9v0.9h-0.9zM321.9 242.3h0.9v0.9h-0.9zM319.9 248.2h0.9v0.9h-0.9zM312.0 239.9h0.9v0.9h-0.9zM323.3 243.5h0.9v0.9h-0.9zM316.0 244.2h0.9v0.9h-0.9zM313.6 244.5h0.9v0.9h-0.9zM318.5 243.0h0.9v0.9h-0.9zM315.1 248.0h0.9v0.9h-0.9zM322.3 235.8h0.9v0.9h-0.9zM316.6 244.0h0.9v0.9h-0.9zM316.2 241.1h0.9v0.9h-0.9zM322.5 248.5h0.9v0.9h-0.9zM323.4 244.8h0.9v0.9h-0.9zM315.1 249.6h0.9v0.9h-0.9zM317.7 248.4h0.9v0.9h-0.9zM319.4 243.3h0.9v0.9h-0.9zM313.7 248.3h0.9v0.9h-0.9zM318.7 248.4h0.9v0.9h-0.9zM307.5 254.5h0.9v0.9h-0.9zM315.0 255.9h0.9v0.9h-0.9zM331.0 265.6h0.9v0.9h-0.9zM316.7 272.4h0.9v0.9h-0.9zM319.9 263.4h0.9v0.9h-0.9zM315.8 265.3h0.9v0.9h-0.9zM319.4 256.1h0.9v0.9h-0.9zM323.4 280.0h0.9v0.9h-0.9zM312.2 265.6h0.9v0.9h-0.9zM313.1 278.9h0.9v0.9h-0.9zM311.8 259.0h0.9v0.9h-0.9zM310.4 256.7h0.9v0.9h-0.9zM317.6 255.4h0.9v0.9h-0.9zM326.6 267.7h0.9v0.9h-0.9zM319.7 264.4h0.9v0.9h-0.9zM318.3 270.3h0.9v0.9h-0.9zM318.7 267.4h0.9v0.9h-0.9zM315.5 260.3h0.9v0.9h-0.9zM309.4 271.5h0.9v0.9h-0.9zM309.4 269.6h0.9v0.9h-0.9zM321.6 266.3h0.9v0.9h-0.9zM317.4 281.6h0.9v0.9h-0.9zM317.1 269.1h0.9v0.9h-0.9zM319.1 262.4h0.9v0.9h-0.9zM316.7 267.6h0.9v0.9h-0.9zM311.2 262.5h0.9v0.9h-0.9zM308.3 262.6h0.9v0.9h-0.9zM313.0 267.6h0.9v0.9h-0.9zM304.5 263.3h0.9v0.9h-0.9zM306.4 266.7h0.9v0.9h-0.9zM313.2 280.4h0.9v0.9h-0.9zM315.3 283.0h0.9v0.9h-0.9zM318.4 249.0h0.9v0.9h-0.9zM310.8 251.7h0.9v0.9h-0.9zM323.8 250.0h0.9v0.9h-0.9zM317.0 255.5h0.9v0.9h-0.9zM307.4 268.2h0.9v0.9h-0.9zM306.1 256.0h0.9v0.9h-0.9zM308.5 262.8h0.9v0.9h-0.9zM310.8 259.8h0.9v0.9h-0.9zM324.6 256.6h0.9v0.9h-0.9zM315.5 281.5h0.9v0.9h-0.9zM315.1 249.1h0.9v0.9h-0.9zM319.3 256.6h0.9v0.9h-0.9zM313.3 264.0h0.9v0.9h-0.9zM321.1 254.0h0.9v0.9h-0.9zM307.3 271.0h0.9v0.9h-0.9zM317.6 270.3h0.9v0.9h-0.9zM308.3 254.6h0.9v0.9h-0.9zM314.8 261.8h0.9v0.9h-0.9zM317.6 247.0h0.9v0.9h-0.9zM314.3 263.9h0.9v0.9h-0.9zM324.2 265.7h0.9v0.9h-0.9zM316.4 253.0h0.9v0.9h-0.9zM310.8 259.4h0.9v0.9h-0.9zM309.2 266.1h0.9v0.9h-0.9zM316.9 262.1h0.9v0.9h-0.9zM306.0 250.7h0.9v0.9h-0.9zM319.3 255.4h0.9v0.9h-0.9zM313.4 256.1h0.9v0.9h-0.9zM313.7 277.4h0.9v0.9h-0.9zM313.5 272.3h0.9v0.9h-0.9zM317.2 257.2h0.9v0.9h-0.9zM316.2 264.0h0.9v0.9h-0.9zM324.1 264.9h0.9v0.9h-0.9zM304.9 264.0h0.9v0.9h-0.9zM307.4 265.8h0.9v0.9h-0.9zM317.6 267.0h0.9v0.9h-0.9zM317.1 265.6h0.9v0.9h-0.9zM311.6 254.1h0.9v0.9h-0.9zM319.4 253.6h0.9v0.9h-0.9zM310.2 266.9h0.9v0.9h-0.9zM309.4 249.2h0.9v0.9h-0.9zM310.0 260.1h0.9v0.9h-0.9zM318.0 262.4h0.9v0.9h-0.9zM318.0 244.7h0.9v0.9h-0.9zM320.8 267.5h0.9v0.9h-0.9zM316.5 261.2h0.9v0.9h-0.9zM316.3 255.9h0.9v0.9h-0.9zM321.2 261.4h0.9v0.9h-0.9zM311.2 250.8h0.9v0.9h-0.9zM314.4 265.0h0.9v0.9h-0.9zM311.2 262.0h0.9v0.9h-0.9zM306.6 247.7h0.9v0.9h-0.9zM321.6 253.0h0.9v0.9h-0.9zM315.0 270.1h0.9v0.9h-0.9zM327.1 267.1h0.9v0.9h-0.9zM327.6 258.2h0.9v0.9h-0.9zM320.7 264.6h0.9v0.9h-0.9zM315.1 255.4h0.9v0.9h-0.9zM313.7 261.4h0.9v0.9h-0.9zM310.3 261.7h0.9v0.9h-0.9zM309.5 267.1h0.9v0.9h-0.9zM321.9 267.0h0.9v0.9h-0.9zM321.6 274.7h0.9v0.9h-0.9zM313.2 251.2h0.9v0.9h-0.9zM311.1 263.0h0.9v0.9h-0.9zM323.1 256.6h0.9v0.9h-0.9zM308.6 272.9h0.9v0.9h-0.9zM310.0 265.8h0.9v0.9h-0.9zM290.3 275.0h0.9v0.9h-0.9zM283.4 268.5h0.9v0.9h-0.9zM301.2 277.4h0.9v0.9h-0.9zM302.7 266.6h0.9v0.9h-0.9zM297.4 272.0h0.9v0.9h-0.9zM289.6 272.9h0.9v0.9h-0.9zM293.4 266.9h0.9v0.9h-0.9zM286.3 256.8h0.9v0.9h-0.9zM289.7 261.9h0.9v0.9h-0.9zM289.2 274.6h0.9v0.9h-0.9zM293.4 263.2h0.9v0.9h-0.9zM305.7 253.9h0.9v0.9h-0.9zM290.2 275.8h0.9v0.9h-0.9zM295.3 268.5h0.9v0.9h-0.9zM298.7 272.4h0.9v0.9h-0.9zM303.6 261.6h0.9v0.9h-0.9zM292.5 272.4h0.9v0.9h-0.9zM287.0 276.4h0.9v0.9h-0.9zM276.7 270.6h0.9v0.9h-0.9zM301.8 268.1h0.9v0.9h-0.9zM294.7 247.1h0.9v0.9h-0.9zM308.5 242.2h0.9v0.9h-0.9zM293.7 268.3h0.9v0.9h-0.9zM292.9 261.4h0.9v0.9h-0.9zM290.7 274.8h0.9v0.9h-0.9zM289.8 276.0h0.9v0.9h-0.9zM294.5 266.8h0.9v0.9h-0.9zM286.0 276.3h0.9v0.9h-0.9zM288.7 278.9h0.9v0.9h-0.9zM293.0 261.9h0.9v0.9h-0.9zM282.8 265.6h0.9v0.9h-0.9zM275.6 269.5h0.9v0.9h-0.9zM293.1 258.5h0.9v0.9h-0.9zM297.2 274.6h0.9v0.9h-0.9zM292.4 259.8h0.9v0.9h-0.9zM280.8 268.5h0.9v0.9h-0.9zM289.7 269.0h0.9v0.9h-0.9zM291.0 262.8h0.9v0.9h-0.9zM296.9 258.7h0.9v0.9h-0.9zM291.5 260.9h0.9v0.9h-0.9zM293.9 268.0h0.9v0.9h-0.9zM288.9 255.0h0.9v0.9h-0.9zM299.8 247.8h0.9v0.9h-0.9zM292.3 257.0h0.9v0.9h-0.9zM286.8 278.5h0.9v0.9h-0.9zM286.7 246.3h0.9v0.9h-0.9zM295.2 261.4h0.9v0.9h-0.9zM283.2 279.1h0.9v0.9h-0.9zM290.2 273.0h0.9v0.9h-0.9zM297.4 267.9h0.9v0.9h-0.9zM316.1 265.6h0.9v0.9h-0.9zM290.5 262.1h0.9v0.9h-0.9zM293.5 274.8h0.9v0.9h-0.9zM296.0 269.2h0.9v0.9h-0.9zM296.4 258.5h0.9v0.9h-0.9zM302.6 269.4h0.9v0.9h-0.9zM286.6 272.4h0.9v0.9h-0.9zM290.7 254.4h0.9v0.9h-0.9zM291.8 262.7h0.9v0.9h-0.9zM282.5 267.2h0.9v0.9h-0.9zM285.5 250.9h0.9v0.9h-0.9zM287.8 266.3h0.9v0.9h-0.9zM275.3 256.2h0.9v0.9h-0.9zM294.6 268.6h0.9v0.9h-0.9zM291.5 263.5h0.9v0.9h-0.9zM289.6 266.0h0.9v0.9h-0.9zM299.2 259.2h0.9v0.9h-0.9zM286.1 260.6h0.9v0.9h-0.9zM289.5 262.8h0.9v0.9h-0.9zM290.5 249.7h0.9v0.9h-0.9zM283.9 242.8h0.9v0.9h-0.9zM296.1 236.3h0.9v0.9h-0.9zM295.5 246.0h0.9v0.9h-0.9zM283.5 235.3h0.9v0.9h-0.9zM289.2 241.6h0.9v0.9h-0.9zM288.0 247.0h0.9v0.9h-0.9zM293.7 240.1h0.9v0.9h-0.9zM295.8 252.4h0.9v0.9h-0.9zM282.1 242.0h0.9v0.9h-0.9zM290.9 250.2h0.9v0.9h-0.9zM313.2 244.6h0.9v0.9h-0.9zM294.7 251.1h0.9v0.9h-0.9zM284.9 241.3h0.9v0.9h-0.9zM295.4 250.5h0.9v0.9h-0.9zM300.7 254.5h0.9v0.9h-0.9zM302.5 276.2h0.9v0.9h-0.9zM285.0 248.5h0.9v0.9h-0.9zM289.2 241.3h0.9v0.9h-0.9zM315.7 250.0h0.9v0.9h-0.9zM341.3 252.6h0.9v0.9h-0.9zM294.8 265.6h0.9v0.9h-0.9zM306.5 260.0h0.9v0.9h-0.9zM321.7 246.5h0.9v0.9h-0.9zM304.0 257.6h0.9v0.9h-0.9zM296.9 254.8h0.9v0.9h-0.9zM298.4 234.0h0.9v0.9h-0.9zM330.4 225.5h0.9v0.9h-0.9zM307.7 251.7h0.9v0.9h-0.9zM317.5 260.3h0.9v0.9h-0.9zM290.8 263.3h0.9v0.9h-0.9zM301.9 244.3h0.9v0.9h-0.9zM305.0 263.2h0.9v0.9h-0.9zM318.6 232.8h0.9v0.9h-0.9zM339.7 249.5h0.9v0.9h-0.9zM299.6 246.9h0.9v0.9h-0.9zM332.2 232.1h0.9v0.9h-0.9zM323.7 257.4h0.9v0.9h-0.9zM322.4 247.5h0.9v0.9h-0.9zM292.2 256.0h0.9v0.9h-0.9zM301.8 235.1h0.9v0.9h-0.9zM321.1 271.5h0.9v0.9h-0.9zM316.4 244.8h0.9v0.9h-0.9zM357.2 260.2h0.9v0.9h-0.9zM342.3 259.5h0.9v0.9h-0.9zM285.1 240.8h0.9v0.9h-0.9zM353.5 241.6h0.9v0.9h-0.9zM302.8 260.3h0.9v0.9h-0.9zM340.0 261.4h0.9v0.9h-0.9zM304.2 286.3h0.9v0.9h-0.9z" fill="#000" fill-opacity="0.45"/>
<path d="M325.0 244.1h0.9v0.9h-0.9zM314.8 247.1h0.9v0.9h-0.9zM319.9 233.5h0.9v0.9h-0.9zM325.6 244.3h0.9v0.9h-0.9zM317.7 241.4h0.9v0.9h-0.9zM310.1 249.0h0.9v0.9h-0.9zM320.2 236.9h0.9v0.9h-0.9zM310.9 241.7h0.9v0.9h-0.9zM320.4 244.7h0.9v0.9h-0.9zM315.4 236.1h0.9v0.9h-0.9zM318.2 248.4h0.9v0.9h-0.9zM323.5 252.3h0.9v0.9h-0.9zM312.7 236.8h0.9v0.9h-0.9zM316.1 238.7h0.9v0.9h-0.9zM312.2 238.1h0.9v0.9h-0.9zM316.7 250.7h0.9v0.9h-0.9zM317.3 232.6h0.9v0.9h-0.9zM322.6 243.8h0.9v0.9h-0.9zM317.1 242.0h0.9v0.9h-0.9zM321.5 240.2h0.9v0.9h-0.9zM318.3 248.7h0.9v0.9h-0.9zM318.6 242.7h0.9v0.9h-0.9zM315.8 241.7h0.9v0.9h-0.9zM314.4 242.8h0.9v0.9h-0.9zM323.9 233.5h0.9v0.9h-0.9zM315.4 241.9h0.9v0.9h-0.9zM326.6 236.9h0.9v0.9h-0.9zM313.1 243.8h0.9v0.9h-0.9zM323.2 248.1h0.9v0.9h-0.9zM319.9 245.7h0.9v0.9h-0.9zM318.6 240.2h0.9v0.9h-0.9zM306.6 242.1h0.9v0.9h-0.9zM317.7 246.0h0.9v0.9h-0.9zM317.7 237.9h0.9v0.9h-0.9zM317.7 241.9h0.9v0.9h-0.9zM316.3 243.9h0.9v0.9h-0.9zM322.1 241.8h0.9v0.9h-0.9zM312.4 249.8h0.9v0.9h-0.9zM311.5 243.3h0.9v0.9h-0.9zM315.3 247.2h0.9v0.9h-0.9zM325.1 233.5h0.9v0.9h-0.9zM316.6 240.1h0.9v0.9h-0.9zM319.4 235.8h0.9v0.9h-0.9zM313.4 241.3h0.9v0.9h-0.9zM312.0 238.5h0.9v0.9h-0.9zM313.7 250.5h0.9v0.9h-0.9zM317.1 239.6h0.9v0.9h-0.9zM319.4 235.2h0.9v0.9h-0.9zM315.9 246.8h0.9v0.9h-0.9zM315.1 244.3h0.9v0.9h-0.9zM316.2 236.3h0.9v0.9h-0.9zM312.9 245.5h0.9v0.9h-0.9zM323.3 237.1h0.9v0.9h-0.9zM308.9 246.1h0.9v0.9h-0.9zM316.0 246.7h0.9v0.9h-0.9zM321.8 243.2h0.9v0.9h-0.9zM325.1 252.1h0.9v0.9h-0.9zM307.1 253.8h0.9v0.9h-0.9zM324.9 242.1h0.9v0.9h-0.9zM313.2 247.2h0.9v0.9h-0.9zM319.7 248.2h0.9v0.9h-0.9zM323.5 246.8h0.9v0.9h-0.9zM315.9 248.6h0.9v0.9h-0.9zM320.0 248.3h0.9v0.9h-0.9zM315.6 243.1h0.9v0.9h-0.9zM322.0 250.3h0.9v0.9h-0.9zM304.7 256.6h0.9v0.9h-0.9zM317.7 270.7h0.9v0.9h-0.9zM298.1 262.3h0.9v0.9h-0.9zM326.7 258.1h0.9v0.9h-0.9zM314.5 250.9h0.9v0.9h-0.9zM312.1 274.9h0.9v0.9h-0.9zM312.6 244.9h0.9v0.9h-0.9zM310.3 259.9h0.9v0.9h-0.9zM302.0 262.4h0.9v0.9h-0.9zM315.2 252.3h0.9v0.9h-0.9zM321.2 258.2h0.9v0.9h-0.9zM319.0 273.2h0.9v0.9h-0.9zM317.1 277.6h0.9v0.9h-0.9zM313.9 272.9h0.9v0.9h-0.9zM308.3 250.1h0.9v0.9h-0.9zM310.8 269.4h0.9v0.9h-0.9zM305.7 266.3h0.9v0.9h-0.9zM311.0 262.5h0.9v0.9h-0.9zM311.0 273.2h0.9v0.9h-0.9zM303.4 263.9h0.9v0.9h-0.9zM316.6 271.6h0.9v0.9h-0.9zM316.3 242.5h0.9v0.9h-0.9zM319.3 265.3h0.9v0.9h-0.9zM318.8 264.4h0.9v0.9h-0.9zM316.5 261.5h0.9v0.9h-0.9zM313.6 265.9h0.9v0.9h-0.9zM320.8 270.6h0.9v0.9h-0.9zM315.4 258.3h0.9v0.9h-0.9zM308.7 271.9h0.9v0.9h-0.9zM321.7 266.3h0.9v0.9h-0.9zM308.5 256.2h0.9v0.9h-0.9zM308.8 273.9h0.9v0.9h-0.9zM312.7 268.6h0.9v0.9h-0.9zM321.4 251.2h0.9v0.9h-0.9zM310.4 270.1h0.9v0.9h-0.9zM315.3 252.4h0.9v0.9h-0.9zM307.8 266.8h0.9v0.9h-0.9zM300.2 263.2h0.9v0.9h-0.9zM313.2 256.2h0.9v0.9h-0.9zM304.2 260.8h0.9v0.9h-0.9zM309.7 270.8h0.9v0.9h-0.9zM320.4 257.1h0.9v0.9h-0.9zM312.3 257.9h0.9v0.9h-0.9zM311.9 274.2h0.9v0.9h-0.9zM316.7 257.1h0.9v0.9h-0.9zM307.2 259.6h0.9v0.9h-0.9zM313.7 249.3h0.9v0.9h-0.9zM309.2 270.2h0.9v0.9h-0.9zM307.2 270.7h0.9v0.9h-0.9zM315.3 269.3h0.9v0.9h-0.9zM308.1 265.4h0.9v0.9h-0.9zM313.3 257.7h0.9v0.9h-0.9zM316.9 242.4h0.9v0.9h-0.9zM305.0 280.5h0.9v0.9h-0.9zM317.1 277.1h0.9v0.9h-0.9zM309.6 256.8h0.9v0.9h-0.9zM311.7 275.4h0.9v0.9h-0.9zM311.7 268.5h0.9v0.9h-0.9zM309.0 264.5h0.9v0.9h-0.9zM315.7 271.6h0.9v0.9h-0.9zM314.5 260.2h0.9v0.9h-0.9zM305.2 270.9h0.9v0.9h-0.9zM300.9 268.2h0.9v0.9h-0.9zM312.8 262.4h0.9v0.9h-0.9zM319.2 258.7h0.9v0.9h-0.9zM300.2 259.4h0.9v0.9h-0.9zM309.9 269.6h0.9v0.9h-0.9zM315.3 253.1h0.9v0.9h-0.9zM316.1 257.7h0.9v0.9h-0.9zM313.2 264.7h0.9v0.9h-0.9zM306.3 259.3h0.9v0.9h-0.9zM329.1 264.4h0.9v0.9h-0.9zM310.5 265.2h0.9v0.9h-0.9zM311.4 267.7h0.9v0.9h-0.9zM318.9 274.0h0.9v0.9h-0.9zM311.0 276.4h0.9v0.9h-0.9zM323.0 262.9h0.9v0.9h-0.9zM318.3 262.2h0.9v0.9h-0.9zM313.6 260.2h0.9v0.9h-0.9zM317.1 254.4h0.9v0.9h-0.9zM326.6 252.8h0.9v0.9h-0.9zM320.5 256.6h0.9v0.9h-0.9zM314.8 274.7h0.9v0.9h-0.9zM315.4 272.3h0.9v0.9h-0.9zM314.0 274.0h0.9v0.9h-0.9zM322.1 255.3h0.9v0.9h-0.9zM310.1 257.3h0.9v0.9h-0.9zM312.6 260.0h0.9v0.9h-0.9zM305.9 258.9h0.9v0.9h-0.9zM322.0 270.7h0.9v0.9h-0.9zM320.4 260.1h0.9v0.9h-0.9zM316.6 259.6h0.9v0.9h-0.9zM312.5 260.5h0.9v0.9h-0.9zM312.7 264.0h0.9v0.9h-0.9zM315.5 273.7h0.9v0.9h-0.9zM319.2 262.5h0.9v0.9h-0.9zM315.8 253.2h0.9v0.9h-0.9zM302.7 259.9h0.9v0.9h-0.9zM313.4 250.9h0.9v0.9h-0.9zM301.5 259.7h0.9v0.9h-0.9zM301.2 243.2h0.9v0.9h-0.9zM302.9 256.5h0.9v0.9h-0.9zM289.7 254.4h0.9v0.9h-0.9zM297.3 273.6h0.9v0.9h-0.9zM294.3 274.9h0.9v0.9h-0.9zM292.4 266.5h0.9v0.9h-0.9zM297.0 265.6h0.9v0.9h-0.9zM290.2 263.5h0.9v0.9h-0.9zM285.5 274.6h0.9v0.9h-0.9zM306.2 271.6h0.9v0.9h-0.9zM288.4 277.4h0.9v0.9h-0.9zM297.8 263.9h0.9v0.9h-0.9zM297.3 273.5h0.9v0.9h-0.9zM283.5 261.3h0.9v0.9h-0.9zM295.4 268.2h0.9v0.9h-0.9zM296.9 270.2h0.9v0.9h-0.9zM291.0 262.0h0.9v0.9h-0.9zM295.9 261.1h0.9v0.9h-0.9zM307.1 266.1h0.9v0.9h-0.9zM288.3 261.8h0.9v0.9h-0.9zM283.3 247.4h0.9v0.9h-0.9zM298.2 271.7h0.9v0.9h-0.9zM298.0 268.7h0.9v0.9h-0.9zM285.2 266.9h0.9v0.9h-0.9zM287.4 269.6h0.9v0.9h-0.9zM287.9 266.5h0.9v0.9h-0.9zM290.1 268.5h0.9v0.9h-0.9zM286.6 251.2h0.9v0.9h-0.9zM278.0 255.7h0.9v0.9h-0.9zM280.0 274.6h0.9v0.9h-0.9zM289.6 275.0h0.9v0.9h-0.9zM304.1 259.2h0.9v0.9h-0.9zM282.7 264.7h0.9v0.9h-0.9zM276.7 269.2h0.9v0.9h-0.9zM296.1 262.1h0.9v0.9h-0.9zM288.2 253.6h0.9v0.9h-0.9zM295.7 255.3h0.9v0.9h-0.9zM300.3 255.1h0.9v0.9h-0.9zM296.8 258.6h0.9v0.9h-0.9zM295.9 266.6h0.9v0.9h-0.9zM300.3 268.5h0.9v0.9h-0.9zM295.1 264.8h0.9v0.9h-0.9zM293.3 271.4h0.9v0.9h-0.9zM307.1 277.2h0.9v0.9h-0.9zM284.9 255.2h0.9v0.9h-0.9zM298.1 259.1h0.9v0.9h-0.9zM292.0 261.3h0.9v0.9h-0.9zM286.3 259.6h0.9v0.9h-0.9zM288.5 264.9h0.9v0.9h-0.9zM290.5 269.8h0.9v0.9h-0.9zM291.9 275.2h0.9v0.9h-0.9zM301.8 266.7h0.9v0.9h-0.9zM285.5 251.9h0.9v0.9h-0.9zM295.9 252.1h0.9v0.9h-0.9zM303.0 262.6h0.9v0.9h-0.9zM293.2 261.6h0.9v0.9h-0.9zM280.7 272.8h0.9v0.9h-0.9zM286.2 249.1h0.9v0.9h-0.9zM291.6 262.8h0.9v0.9h-0.9zM310.9 268.5h0.9v0.9h-0.9zM288.3 260.3h0.9v0.9h-0.9zM279.9 268.7h0.9v0.9h-0.9zM292.1 264.4h0.9v0.9h-0.9zM287.3 271.3h0.9v0.9h-0.9zM299.6 258.7h0.9v0.9h-0.9zM292.6 257.3h0.9v0.9h-0.9zM290.1 269.0h0.9v0.9h-0.9zM294.3 264.8h0.9v0.9h-0.9zM286.3 262.3h0.9v0.9h-0.9zM300.8 249.9h0.9v0.9h-0.9zM290.7 239.9h0.9v0.9h-0.9zM295.8 247.6h0.9v0.9h-0.9zM296.8 246.6h0.9v0.9h-0.9zM288.2 246.6h0.9v0.9h-0.9zM286.8 256.4h0.9v0.9h-0.9zM300.5 242.7h0.9v0.9h-0.9zM307.4 253.9h0.9v0.9h-0.9zM301.1 252.2h0.9v0.9h-0.9zM295.2 240.5h0.9v0.9h-0.9zM299.1 245.0h0.9v0.9h-0.9zM281.2 244.9h0.9v0.9h-0.9zM291.8 237.2h0.9v0.9h-0.9zM297.4 246.3h0.9v0.9h-0.9zM287.7 246.2h0.9v0.9h-0.9zM284.0 245.5h0.9v0.9h-0.9zM308.7 259.1h0.9v0.9h-0.9zM308.8 243.8h0.9v0.9h-0.9zM328.2 264.3h0.9v0.9h-0.9zM323.4 271.9h0.9v0.9h-0.9zM305.3 252.0h0.9v0.9h-0.9zM312.2 246.5h0.9v0.9h-0.9zM308.6 252.3h0.9v0.9h-0.9zM310.2 260.1h0.9v0.9h-0.9zM304.2 261.7h0.9v0.9h-0.9zM314.0 247.2h0.9v0.9h-0.9zM317.4 226.5h0.9v0.9h-0.9zM319.9 239.4h0.9v0.9h-0.9zM302.2 256.0h0.9v0.9h-0.9zM306.1 260.8h0.9v0.9h-0.9zM327.3 258.6h0.9v0.9h-0.9zM323.2 262.1h0.9v0.9h-0.9zM307.5 240.7h0.9v0.9h-0.9zM333.7 260.7h0.9v0.9h-0.9zM306.2 254.2h0.9v0.9h-0.9zM325.0 263.1h0.9v0.9h-0.9zM320.7 251.2h0.9v0.9h-0.9zM313.3 250.9h0.9v0.9h-0.9zM305.1 255.4h0.9v0.9h-0.9zM324.8 256.0h0.9v0.9h-0.9zM321.7 262.3h0.9v0.9h-0.9zM313.8 262.5h0.9v0.9h-0.9zM319.2 235.9h0.9v0.9h-0.9zM327.0 271.9h0.9v0.9h-0.9zM291.9 245.0h0.9v0.9h-0.9zM361.1 228.1h0.9v0.9h-0.9zM336.9 273.8h0.9v0.9h-0.9zM322.7 230.0h0.9v0.9h-0.9zM311.8 282.0h0.9v0.9h-0.9zM332.5 236.2h0.9v0.9h-0.9z" fill="#000" fill-opacity="0.45"/>
<path d="M312.6 247.1h0.9v0.9h-0.9zM312.4 238.0h0.9v0.9h-0.9zM319.2 238.4h0.9v0.9h-0.9zM323.0 240.8h0.9v0.9h-0.9zM324.6 236.6h0.9v0.9h-0.9zM321.2 230.1h0.9v0.9h-0.9zM314.4 240.0h0.9v0.9h-0.9zM326.9 248.4h0.9v0.9h-0.9zM327.0 246.9h0.9v0.9h-0.9zM323.2 242.3h0.9v0.9h-0.9zM315.0 242.8h0.9v0.9h-0.9zM318.0 243.2h0.9v0.9h-0.9zM323.1 242.3h0.9v0.9h-0.9zM309.5 242.0h0.9v0.9h-0.9zM327.7 241.1h0.9v0.9h-0.9zM310.5 243.8h0.9v0.9h-0.9zM312.2 243.8h0.9v0.9h-0.9zM323.3 246.6h0.9v0.9h-0.9zM326.2 242.0h0.9v0.9h-0.9zM315.5 240.6h0.9v0.9h-0.9zM310.1 241.8h0.9v0.9h-0.9zM317.1 239.8h0.9v0.9h-0.9zM315.1 246.7h0.9v0.9h-0.9zM317.0 239.5h0.9v0.9h-0.9zM308.3 249.3h0.9v0.9h-0.9zM314.1 243.9h0.9v0.9h-0.9zM327.9 253.8h0.9v0.9h-0.9zM310.1 242.6h0.9v0.9h-0.9zM324.0 239.0h0.9v0.9h-0.9zM309.6 240.7h0.9v0.9h-0.9zM316.6 241.3h0.9v0.9h-0.9zM320.6 242.7h0.9v0.9h-0.9zM311.3 249.8h0.9v0.9h-0.9zM330.4 239.2h0.9v0.9h-0.9zM313.4 240.8h0.9v0.9h-0.9zM319.3 237.6h0.9v0.9h-0.9zM311.0 241.8h0.9v0.9h-0.9zM297.5 236.0h0.9v0.9h-0.9zM309.8 243.2h0.9v0.9h-0.9zM324.4 239.5h0.9v0.9h-0.9zM309.0 239.9h0.9v0.9h-0.9zM316.4 242.4h0.9v0.9h-0.9zM314.5 239.2h0.9v0.9h-0.9zM312.6 237.1h0.9v0.9h-0.9zM311.5 244.7h0.9v0.9h-0.9zM320.7 250.3h0.9v0.9h-0.9zM309.3 238.5h0.9v0.9h-0.9zM313.6 243.6h0.9v0.9h-0.9zM316.4 245.1h0.9v0.9h-0.9zM316.0 248.6h0.9v0.9h-0.9zM316.9 240.1h0.9v0.9h-0.9zM311.2 249.4h0.9v0.9h-0.9zM313.7 248.1h0.9v0.9h-0.9zM320.7 246.4h0.9v0.9h-0.9zM328.5 240.5h0.9v0.9h-0.9zM309.5 237.3h0.9v0.9h-0.9zM318.0 244.5h0.9v0.9h-0.9zM321.1 237.5h0.9v0.9h-0.9zM318.9 245.2h0.9v0.9h-0.9zM314.5 251.8h0.9v0.9h-0.9zM315.8 244.3h0.9v0.9h-0.9zM319.9 244.1h0.9v0.9h-0.9zM320.0 250.6h0.9v0.9h-0.9zM323.5 249.0h0.9v0.9h-0.9zM315.2 250.7h0.9v0.9h-0.9zM317.1 244.9h0.9v0.9h-0.9zM313.1 268.5h0.9v0.9h-0.9zM316.0 262.8h0.9v0.9h-0.9zM310.1 258.3h0.9v0.9h-0.9zM316.8 256.9h0.9v0.9h-0.9zM320.5 267.6h0.9v0.9h-0.9zM310.4 258.9h0.9v0.9h-0.9zM314.8 264.7h0.9v0.9h-0.9zM324.0 250.0h0.9v0.9h-0.9zM310.7 278.8h0.9v0.9h-0.9zM309.4 274.1h0.9v0.9h-0.9zM312.8 267.5h0.9v0.9h-0.9zM329.0 258.8h0.9v0.9h-0.9zM316.9 252.0h0.9v0.9h-0.9zM318.2 260.8h0.9v0.9h-0.9zM304.9 263.6h0.9v0.9h-0.9zM313.2 264.8h0.9v0.9h-0.9zM306.9 271.9h0.9v0.9h-0.9zM316.0 251.1h0.9v0.9h-0.9zM320.1 265.8h0.9v0.9h-0.9zM316.2 255.2h0.9v0.9h-0.9zM310.9 259.6h0.9v0.9h-0.9zM308.9 269.2h0.9v0.9h-0.9zM326.5 269.4h0.9v0.9h-0.9zM322.7 259.0h0.9v0.9h-0.9zM310.0 264.5h0.9v0.9h-0.9zM320.0 278.1h0.9v0.9h-0.9zM320.3 256.2h0.9v0.9h-0.9zM307.6 259.3h0.9v0.9h-0.9zM313.9 275.9h0.9v0.9h-0.9zM316.4 259.6h0.9v0.9h-0.9zM324.1 270.4h0.9v0.9h-0.9zM310.5 256.9h0.9v0.9h-0.9zM313.6 277.6h0.9v0.9h-0.9zM324.7 255.6h0.9v0.9h-0.9zM305.8 257.5h0.9v0.9h-0.9zM316.7 260.5h0.9v0.9h-0.9zM330.7 273.2h0.9v0.9h-0.9zM316.9 260.1h0.9v0.9h-0.9zM318.4 260.0h0.9v0.9h-0.9zM302.5 271.2h0.9v0.9h-0.9zM316.4 264.4h0.9v0.9h-0.9zM324.0 258.7h0.9v0.9h-0.9zM319.9 265.3h0.9v0.9h-0.9zM323.4 253.5h0.9v0.9h-0.9zM318.6 250.6h0.9v0.9h-0.9zM312.9 261.3h0.9v0.9h-0.9zM319.6 274.0h0.9v0.9h-0.9zM314.3 261.0h0.9v0.9h-0.9zM309.3 265.1h0.9v0.9h-0.9zM306.7 242.6h0.9v0.9h-0.9zM316.4 254.0h0.9v0.9h-0.9zM320.0 277.4h0.9v0.9h-0.9zM310.6 274.2h0.9v0.9h-0.9zM318.0 265.4h0.9v0.9h-0.9zM313.1 281.4h0.9v0.9h-0.9zM311.5 271.4h0.9v0.9h-0.9zM311.4 257.4h0.9v0.9h-0.9zM308.8 261.0h0.9v0.9h-0.9zM303.6 261.6h0.9v0.9h-0.9zM312.1 264.5h0.9v0.9h-0.9zM315.9 268.1h0.9v0.9h-0.9zM319.0 278.0h0.9v0.9h-0.9zM315.6 256.3h0.9v0.9h-0.9zM316.6 272.0h0.9v0.9h-0.9zM311.2 276.9h0.9v0.9h-0.9zM319.1 266.0h0.9v0.9h-0.9zM316.2 263.5h0.9v0.9h-0.9zM309.2 251.9h0.9v0.9h-0.9zM322.8 264.5h0.9v0.9h-0.9zM313.3 261.2h0.9v0.9h-0.9zM318.7 239.6h0.9v0.9h-0.9zM306.3 277.4h0.9v0.9h-0.9zM322.7 265.5h0.9v0.9h-0.9zM326.3 265.2h0.9v0.9h-0.9zM310.6 270.3h0.9v0.9h-0.9zM309.7 279.0h0.9v0.9h-0.9zM319.2 253.1h0.9v0.9h-0.9zM315.8 263.5h0.9v0.9h-0.9zM308.3 263.0h0.9v0.9h-0.9zM305.0 286.9h0.9v0.9h-0.9zM311.9 266.6h0.9v0.9h-0.9zM309.4 275.5h0.9v0.9h-0.9zM310.8 264.5h0.9v0.9h-0.9zM309.4 260.1h0.9v0.9h-0.9zM319.1 271.1h0.9v0.9h-0.9zM321.1 270.0h0.9v0.9h-0.9zM324.2 266.1h0.9v0.9h-0.9zM306.5 263.3h0.9v0.9h-0.9zM324.0 249.9h0.9v0.9h-0.9zM328.8 265.6h0.9v0.9h-0.9zM302.6 245.5h0.9v0.9h-0.9zM315.0 259.9h0.9v0.9h-0.9zM308.3 261.0h0.9v0.9h-0.9zM307.3 260.5h0.9v0.9h-0.9zM311.3 268.5h0.9v0.9h-0.9zM322.0 263.1h0.9v0.9h-0.9zM330.5 270.7h0.9v0.9h-0.9zM312.0 268.7h0.9v0.9h-0.9zM317.7 270.7h0.9v0.9h-0.9zM319.6 255.5h0.9v0.9h-0.9zM303.5 263.2h0.9v0.9h-0.9zM287.9 255.6h0.9v0.9h-0.9zM285.1 263.5h0.9v0.9h-0.9zM292.9 261.3h0.9v0.9h-0.9zM292.6 278.7h0.9v0.9h-0.9zM300.4 263.0h0.9v0.9h-0.9zM296.7 280.5h0.9v0.9h-0.9zM293.2 271.9h0.9v0.9h-0.9zM288.4 247.0h0.9v0.9h-0.9zM290.8 281.5h0.9v0.9h-0.9zM303.6 274.6h0.9v0.9h-0.9zM281.9 268.2h0.9v0.9h-0.9zM280.7 266.3h0.9v0.9h-0.9zM283.6 256.3h0.9v0.9h-0.9zM289.6 250.4h0.9v0.9h-0.9zM305.2 279.4h0.9v0.9h-0.9zM294.1 261.8h0.9v0.9h-0.9zM291.7 258.1h0.9v0.9h-0.9zM276.3 263.0h0.9v0.9h-0.9zM298.7 260.1h0.9v0.9h-0.9zM290.1 283.6h0.9v0.9h-0.9zM304.0 270.1h0.9v0.9h-0.9zM289.6 263.9h0.9v0.9h-0.9zM293.4 267.6h0.9v0.9h-0.9zM294.7 251.5h0.9v0.9h-0.9zM277.8 279.2h0.9v0.9h-0.9zM305.5 268.0h0.9v0.9h-0.9zM290.2 257.7h0.9v0.9h-0.9zM300.7 254.6h0.9v0.9h-0.9zM290.8 255.3h0.9v0.9h-0.9zM289.2 276.0h0.9v0.9h-0.9zM301.1 261.0h0.9v0.9h-0.9zM289.4 273.2h0.9v0.9h-0.9zM299.1 256.2h0.9v0.9h-0.9zM304.9 266.3h0.9v0.9h-0.9zM300.4 274.9h0.9v0.9h-0.9zM298.0 265.0h0.9v0.9h-0.9zM294.1 273.0h0.9v0.9h-0.9zM296.1 258.4h0.9v0.9h-0.9zM302.4 256.8h0.9v0.9h-0.9zM296.9 264.2h0.9v0.9h-0.9zM293.2 249.3h0.9v0.9h-0.9zM298.3 252.2h0.9v0.9h-0.9zM303.7 256.8h0.9v0.9h-0.9zM296.7 261.9h0.9v0.9h-0.9zM300.1 266.2h0.9v0.9h-0.9zM289.8 271.4h0.9v0.9h-0.9zM295.6 261.6h0.9v0.9h-0.9zM287.3 258.8h0.9v0.9h-0.9zM292.4 268.8h0.9v0.9h-0.9zM294.8 255.6h0.9v0.9h-0.9zM296.1 264.2h0.9v0.9h-0.9zM291.8 270.5h0.9v0.9h-0.9zM288.2 251.1h0.9v0.9h-0.9zM286.2 263.1h0.9v0.9h-0.9zM300.9 260.9h0.9v0.9h-0.9zM284.9 262.8h0.9v0.9h-0.9zM285.6 261.1h0.9v0.9h-0.9zM294.8 273.8h0.9v0.9h-0.9zM288.0 276.2h0.9v0.9h-0.9zM294.6 250.5h0.9v0.9h-0.9zM298.9 268.3h0.9v0.9h-0.9zM295.4 260.3h0.9v0.9h-0.9zM312.6 269.2h0.9v0.9h-0.9zM294.9 272.6h0.9v0.9h-0.9zM311.3 275.0h0.9v0.9h-0.9zM293.5 267.1h0.9v0.9h-0.9zM298.6 262.7h0.9v0.9h-0.9zM294.4 284.5h0.9v0.9h-0.9zM307.6 250.8h0.9v0.9h-0.9zM289.5 246.5h0.9v0.9h-0.9zM294.2 236.8h0.9v0.9h-0.9zM287.3 253.9h0.9v0.9h-0.9zM303.8 248.1h0.9v0.9h-0.9zM296.2 247.3h0.9v0.9h-0.9zM301.2 250.0h0.9v0.9h-0.9zM292.8 239.8h0.9v0.9h-0.9zM299.0 244.3h0.9v0.9h-0.9zM295.0 249.9h0.9v0.9h-0.9zM287.7 245.8h0.9v0.9h-0.9zM299.5 255.0h0.9v0.9h-0.9zM290.4 244.0h0.9v0.9h-0.9zM296.0 243.9h0.9v0.9h-0.9zM284.1 233.7h0.9v0.9h-0.9zM290.7 245.1h0.9v0.9h-0.9zM309.6 258.1h0.9v0.9h-0.9zM329.7 254.2h0.9v0.9h-0.9zM314.6 274.4h0.9v0.9h-0.9zM311.7 263.1h0.9v0.9h-0.9zM312.0 254.4h0.9v0.9h-0.9zM290.4 245.9h0.9v0.9h-0.9zM311.3 260.6h0.9v0.9h-0.9zM310.0 238.3h0.9v0.9h-0.9zM294.9 264.6h0.9v0.9h-0.9zM312.0 250.4h0.9v0.9h-0.9zM326.6 248.0h0.9v0.9h-0.9zM333.1 234.9h0.9v0.9h-0.9zM315.0 238.2h0.9v0.9h-0.9zM314.0 227.4h0.9v0.9h-0.9zM314.0 253.7h0.9v0.9h-0.9zM319.0 256.0h0.9v0.9h-0.9zM313.7 262.2h0.9v0.9h-0.9zM318.4 256.5h0.9v0.9h-0.9zM340.9 240.5h0.9v0.9h-0.9zM309.4 266.4h0.9v0.9h-0.9zM331.4 259.9h0.9v0.9h-0.9zM280.4 271.5h0.9v0.9h-0.9zM290.7 235.7h0.9v0.9h-0.9zM305.9 268.7h0.9v0.9h-0.9zM309.6 275.6h0.9v0.9h-0.9zM303.2 275.6h0.9v0.9h-0.9zM301.9 274.5h0.9v0.9h-0.9zM294.3 285.8h0.9v0.9h-0.9zM301.8 248.9h0.9v0.9h-0.9zM319.7 278.4h0.9v0.9h-0.9zM318.1 239.8h0.9v0.9h-0.9zM356.8 277.2h0.9v0.9h-0.9zM292.2 259.2h0.9v0.9h-0.9zM329.4 242.3h0.9v0.9h-0.9z" fill="#000" fill-opacity="0.45"/>
<line x1="273.6" y1="199.6" x2="364.5" y2="199.6" stroke="#222" stroke-width="1.0"/>
<line x1="364.5" y1="199.6" x2="364.5" y2="289.9" stroke="#444" stroke-width="0.8"/>
<line x1="273.6" y1="199.0" x2="273.6" y2="290.7" stroke="#111" stroke-width="1.5"/>
<line x1="273.6" y1="289.9" x2="364.9" y2="289.9" stroke="#111" stroke-width="1.6"/>
<path d="M272.0 283.1h1.6M280.4 289.9v1.6M272.0 279.1h1.6M284.5 289.9v1.6M272.0 276.4h1.6M287.2 289.9v1.6M272.0 274.1h1.6M289.5 289.9v1.6M272.0 272.3h1.6M291.3 289.9v1.6M272.0 270.7h1.6M292.9 289.9v1.6M272.0 269.6h1.6M294.1 289.9v1.6M272.0 268.5h1.6M295.2 289.9v1.6M272.0 260.6h1.6M303.1 289.9v1.6M272.0 256.5h1.6M307.2 289.9v1.6M272.0 253.8h1.6M310.0 289.9v1.6M272.0 251.5h1.6M312.2 289.9v1.6M272.0 249.7h1.6M314.1 289.9v1.6M272.0 248.1h1.6M315.6 289.9v1.6M272.0 247.0h1.6M316.8 289.9v1.6M272.0 245.9h1.6M317.9 289.9v1.6M272.0 238.0h1.6M325.9 289.9v1.6M272.0 233.9h1.6M330.0 289.9v1.6M272.0 231.2h1.6M332.7 289.9v1.6M272.0 228.9h1.6M335.0 289.9v1.6M272.0 227.1h1.6M336.8 289.9v1.6M272.0 225.6h1.6M338.4 289.9v1.6M272.0 224.4h1.6M339.5 289.9v1.6M272.0 223.3h1.6M340.6 289.9v1.6M272.0 215.4h1.6M348.6 289.9v1.6M272.0 211.3h1.6M352.7 289.9v1.6M272.0 208.6h1.6M355.4 289.9v1.6M272.0 206.4h1.6M357.7 289.9v1.6M272.0 204.6h1.6M359.5 289.9v1.6M272.0 203.0h1.6M361.1 289.9v1.6M272.0 201.9h1.6M362.2 289.9v1.6M272.0 200.7h1.6M363.4 289.9v1.6" stroke="#555" stroke-width="0.5" fill="none"/>
<line x1="271.6" y1="289.9" x2="273.6" y2="289.9" stroke="#111" stroke-width="0.7"/>
<rect x="266.1" y="289.59999999999997" width="2.2" height="1.6" fill="#777"/>
<rect x="268.8" y="288.09999999999997" width="1" height="1.2" fill="#888"/>
<line x1="273.6" y1="289.9" x2="273.6" y2="291.9" stroke="#111" stroke-width="0.7"/>
<rect x="271.1" y="295.4" width="2.2" height="1.6" fill="#777"/>
<rect x="273.8" y="294.09999999999997" width="1" height="1.2" fill="#888"/>
<line x1="271.6" y1="267.325" x2="273.6" y2="267.325" stroke="#111" stroke-width="0.7"/>
<rect x="266.1" y="267.025" width="2.2" height="1.6" fill="#777"/>
<rect x="268.8" y="265.525" width="1" height="1.2" fill="#888"/>
<line x1="296.32500000000005" y1="289.9" x2="296.32500000000005" y2="291.9" stroke="#111" stroke-width="0.7"/>
<rect x="293.82500000000005" y="295.4" width="2.2" height="1.6" fill="#777"/>
<rect x="296.52500000000003" y="294.09999999999997" width="1" height="1.2" fill="#888"/>
<line x1="271.6" y1="244.75" x2="273.6" y2="244.75" stroke="#111" stroke-width="0.7"/>
<rect x="266.1" y="244.45" width="2.2" height="1.6" fill="#777"/>
<rect x="268.8" y="242.95" width="1" height="1.2" fill="#888"/>
<line x1="319.05" y1="289.9" x2="319.05" y2="291.9" stroke="#111" stroke-width="0.7"/>
<rect x="316.55" y="295.4" width="2.2" height="1.6" fill="#777"/>
<rect x="319.25" y="294.09999999999997" width="1" height="1.2" fill="#888"/>
<line x1="271.6" y1="222.17499999999998" x2="273.6" y2="222.17499999999998" stroke="#111" stroke-width="0.7"/>
<rect x="266.1" y="221.87499999999997" width="2.2" height="1.6" fill="#777"/>
<rect x="268.8" y="220.37499999999997" width="1" height="1.2" fill="#888"/>
<line x1="341.775" y1="289.9" x2="341.775" y2="291.9" stroke="#111" stroke-width="0.7"/>
<rect x="339.275" y="295.4" width="2.2" height="1.6" fill="#777"/>
<rect x="341.97499999999997" y="294.09999999999997" width="1" height="1.2" fill="#888"/>
<line x1="271.6" y1="199.6" x2="273.6" y2="199.6" stroke="#111" stroke-width="0.7"/>
<rect x="266.1" y="199.29999999999998" width="2.2" height="1.6" fill="#777"/>
<rect x="268.8" y="197.79999999999998" width="1" height="1.2" fill="#888"/>
<line x1="364.5" y1="289.9" x2="364.5" y2="291.9" stroke="#111" stroke-width="0.7"/>
<rect x="362.0" y="295.4" width="2.2" height="1.6" fill="#777"/>
<rect x="364.7" y="294.09999999999997" width="1" height="1.2" fill="#888"/>
<rect x="299.7" y="228.1" width="38.8" height="24.4" fill="none" stroke="#555" stroke-width="1"/>
<rect x="304" y="252.5" width="34.5" height="36.3" fill="none" stroke="#555" stroke-width="1"/>
<line x1="273.6" y1="252.7" x2="304" y2="252.7" stroke="#555" stroke-width="1"/>
<line x1="304" y1="288.5" x2="338.5" y2="288.5" stroke="#888" stroke-width="1.6"/>
<line x1="273.6" y1="288.4" x2="304" y2="288.4" stroke="#999" stroke-width="1.2"/>
<text x="276.8" y="195.5" font-size="9.8" text-anchor="start" font-weight="normal" fill="#111" stroke="#111" stroke-width="0.22" textLength="53.5" lengthAdjust="spacingAndGlyphs">Lin-Sca-Kit+</text>
<text x="276.9" y="209.4" font-size="8.4" text-anchor="start" font-weight="normal" fill="#111" stroke="#111" stroke-width="0.22" textLength="31.9" lengthAdjust="spacingAndGlyphs">Disomic</text>
<text x="340.2" y="247.5" font-size="7.5" text-anchor="start" font-weight="normal" fill="#111" stroke="#111" stroke-width="0.22" textLength="17" lengthAdjust="spacingAndGlyphs">GMP</text>
<text x="340.2" y="284.7" font-size="7.5" text-anchor="start" font-weight="normal" fill="#111" stroke="#111" stroke-width="0.22" textLength="16.5" lengthAdjust="spacingAndGlyphs">CMP</text>
<text x="275.6" y="251" font-size="7" text-anchor="start" font-weight="normal" fill="#111" stroke="#111" stroke-width="0.22" textLength="15" lengthAdjust="spacingAndGlyphs">MEP</text>
<text x="319.3" y="242.7" font-size="6" text-anchor="middle" font-weight="normal" fill="#222" stroke="#222" stroke-width="0.22">41.8</text>
<text x="323" y="273" font-size="6" text-anchor="middle" font-weight="normal" fill="#222" stroke="#222" stroke-width="0.22">36.8</text>
<text x="279.6" y="288.3" font-size="5.5" text-anchor="middle" font-weight="normal" fill="#222" stroke="#222" stroke-width="0.22">17.6</text>
<text x="262.4" y="227.6" font-size="9.5" text-anchor="middle" font-weight="normal" fill="#111" stroke="#111" stroke-width="0.22" transform="rotate(-90 262.4 227.6)">FcR</text>
<line x1="258" y1="284.5" x2="258" y2="251.2" stroke="#2a2a2a" stroke-width="0.8"/>
<path d="M258 243.2 L255.8 256.2 L258 253.2 L260.2 256.2 Z" fill="#111"/>
<line x1="273.7" y1="304" x2="323.3" y2="304" stroke="#2a2a2a" stroke-width="0.8"/>
<path d="M331.3 304 L318.3 301.8 L321.3 304 L318.3 306.2 Z" fill="#111"/>
<text x="337.3" y="307.7" font-size="9.4" text-anchor="start" font-weight="normal" fill="#111" stroke="#111" stroke-width="0.22" textLength="24" lengthAdjust="spacingAndGlyphs">CD34</text>
<path d="M460.7 240.1h0.9v0.9h-0.9zM441.3 236.1h0.9v0.9h-0.9zM439.7 241.8h0.9v0.9h-0.9zM441.6 237.2h0.9v0.9h-0.9zM457.4 236.8h0.9v0.9h-0.9zM444.8 243.9h0.9v0.9h-0.9zM441.5 242.2h0.9v0.9h-0.9zM452.2 245.5h0.9v0.9h-0.9zM454.1 255.0h0.9v0.9h-0.9zM451.0 246.2h0.9v0.9h-0.9zM454.2 238.7h0.9v0.9h-0.9zM450.8 242.2h0.9v0.9h-0.9zM450.0 256.6h0.9v0.9h-0.9zM448.0 241.9h0.9v0.9h-0.9zM455.7 247.9h0.9v0.9h-0.9zM452.2 248.5h0.9v0.9h-0.9zM449.4 239.8h0.9v0.9h-0.9zM448.4 242.1h0.9v0.9h-0.9zM447.7 242.9h0.9v0.9h-0.9zM456.4 236.4h0.9v0.9h-0.9zM448.1 246.1h0.9v0.9h-0.9zM449.2 247.2h0.9v0.9h-0.9zM457.4 240.5h0.9v0.9h-0.9zM450.7 243.5h0.9v0.9h-0.9zM450.1 237.3h0.9v0.9h-0.9zM457.7 240.4h0.9v0.9h-0.9zM447.0 248.8h0.9v0.9h-0.9zM446.1 247.3h0.9v0.9h-0.9zM448.5 248.6h0.9v0.9h-0.9zM444.7 243.2h0.9v0.9h-0.9zM454.9 243.7h0.9v0.9h-0.9zM461.1 242.3h0.9v0.9h-0.9zM443.2 237.3h0.9v0.9h-0.9zM452.1 235.7h0.9v0.9h-0.9zM442.2 239.6h0.9v0.9h-0.9zM449.5 239.5h0.9v0.9h-0.9zM448.1 242.5h0.9v0.9h-0.9zM445.4 242.5h0.9v0.9h-0.9zM445.1 251.4h0.9v0.9h-0.9zM444.5 239.5h0.9v0.9h-0.9zM452.6 241.0h0.9v0.9h-0.9zM449.4 241.2h0.9v0.9h-0.9zM449.3 240.9h0.9v0.9h-0.9zM448.3 245.0h0.9v0.9h-0.9zM454.3 246.1h0.9v0.9h-0.9zM447.9 242.0h0.9v0.9h-0.9zM450.8 238.7h0.9v0.9h-0.9zM438.3 235.9h0.9v0.9h-0.9zM451.9 235.5h0.9v0.9h-0.9zM455.0 234.3h0.9v0.9h-0.9zM454.1 246.5h0.9v0.9h-0.9zM455.7 246.3h0.9v0.9h-0.9zM457.9 243.4h0.9v0.9h-0.9zM448.4 250.8h0.9v0.9h-0.9zM450.7 250.5h0.9v0.9h-0.9zM440.9 246.8h0.9v0.9h-0.9zM453.9 249.7h0.9v0.9h-0.9zM456.1 246.3h0.9v0.9h-0.9zM450.1 244.1h0.9v0.9h-0.9zM455.3 246.4h0.9v0.9h-0.9zM452.6 240.7h0.9v0.9h-0.9zM445.9 242.6h0.9v0.9h-0.9zM462.3 244.9h0.9v0.9h-0.9zM454.0 244.2h0.9v0.9h-0.9zM459.7 241.3h0.9v0.9h-0.9zM440.3 244.1h0.9v0.9h-0.9zM450.1 236.7h0.9v0.9h-0.9zM444.8 242.0h0.9v0.9h-0.9zM458.1 239.1h0.9v0.9h-0.9zM457.5 237.7h0.9v0.9h-0.9zM452.5 240.8h0.9v0.9h-0.9zM451.4 244.1h0.9v0.9h-0.9zM451.1 244.8h0.9v0.9h-0.9zM452.1 243.2h0.9v0.9h-0.9zM446.7 241.0h0.9v0.9h-0.9zM452.0 242.5h0.9v0.9h-0.9zM452.0 244.8h0.9v0.9h-0.9zM454.4 242.6h0.9v0.9h-0.9zM447.7 235.7h0.9v0.9h-0.9zM453.5 243.5h0.9v0.9h-0.9zM450.5 240.3h0.9v0.9h-0.9zM450.1 245.0h0.9v0.9h-0.9zM451.4 244.3h0.9v0.9h-0.9zM447.1 240.7h0.9v0.9h-0.9zM451.8 242.5h0.9v0.9h-0.9zM448.9 246.3h0.9v0.9h-0.9zM449.5 245.6h0.9v0.9h-0.9zM451.0 241.1h0.9v0.9h-0.9zM451.3 244.2h0.9v0.9h-0.9zM450.7 239.8h0.9v0.9h-0.9zM441.0 228.9h0.9v0.9h-0.9zM429.0 243.7h0.9v0.9h-0.9zM439.5 245.1h0.9v0.9h-0.9zM433.5 243.0h0.9v0.9h-0.9zM425.0 242.3h0.9v0.9h-0.9zM447.1 249.1h0.9v0.9h-0.9zM441.4 240.1h0.9v0.9h-0.9zM442.6 241.1h0.9v0.9h-0.9zM451.5 249.9h0.9v0.9h-0.9zM436.9 243.9h0.9v0.9h-0.9zM431.7 236.7h0.9v0.9h-0.9zM436.7 244.8h0.9v0.9h-0.9zM435.8 243.0h0.9v0.9h-0.9zM427.8 243.4h0.9v0.9h-0.9zM433.1 250.0h0.9v0.9h-0.9zM426.7 247.9h0.9v0.9h-0.9zM434.2 250.6h0.9v0.9h-0.9zM438.6 251.5h0.9v0.9h-0.9zM437.5 247.5h0.9v0.9h-0.9zM433.7 243.6h0.9v0.9h-0.9zM424.1 238.4h0.9v0.9h-0.9zM434.8 245.9h0.9v0.9h-0.9zM442.5 242.8h0.9v0.9h-0.9zM436.4 232.1h0.9v0.9h-0.9zM419.4 241.0h0.9v0.9h-0.9zM444.8 246.7h0.9v0.9h-0.9zM432.4 235.4h0.9v0.9h-0.9zM429.3 236.4h0.9v0.9h-0.9zM434.7 245.4h0.9v0.9h-0.9zM438.1 229.0h0.9v0.9h-0.9zM422.3 239.0h0.9v0.9h-0.9zM431.4 240.9h0.9v0.9h-0.9zM428.5 246.0h0.9v0.9h-0.9zM440.6 243.7h0.9v0.9h-0.9zM439.5 245.0h0.9v0.9h-0.9zM451.3 235.3h0.9v0.9h-0.9zM440.1 239.4h0.9v0.9h-0.9zM440.2 249.2h0.9v0.9h-0.9zM433.0 247.7h0.9v0.9h-0.9zM431.1 243.6h0.9v0.9h-0.9zM431.2 243.1h0.9v0.9h-0.9zM444.4 235.4h0.9v0.9h-0.9zM435.9 278.0h0.9v0.9h-0.9zM452.3 280.8h0.9v0.9h-0.9zM454.7 254.4h0.9v0.9h-0.9zM455.1 254.5h0.9v0.9h-0.9zM452.2 263.6h0.9v0.9h-0.9zM457.3 259.3h0.9v0.9h-0.9zM465.4 261.5h0.9v0.9h-0.9zM456.0 251.2h0.9v0.9h-0.9zM448.7 262.0h0.9v0.9h-0.9zM457.1 252.3h0.9v0.9h-0.9zM463.4 254.2h0.9v0.9h-0.9zM445.9 265.5h0.9v0.9h-0.9zM446.3 265.5h0.9v0.9h-0.9zM449.4 255.5h0.9v0.9h-0.9zM457.6 261.2h0.9v0.9h-0.9zM442.0 257.8h0.9v0.9h-0.9zM449.3 256.9h0.9v0.9h-0.9zM457.3 256.0h0.9v0.9h-0.9zM461.1 264.4h0.9v0.9h-0.9zM440.1 264.8h0.9v0.9h-0.9zM452.4 254.3h0.9v0.9h-0.9zM449.0 263.9h0.9v0.9h-0.9zM453.5 245.7h0.9v0.9h-0.9zM442.9 266.9h0.9v0.9h-0.9zM458.8 277.7h0.9v0.9h-0.9zM463.9 255.4h0.9v0.9h-0.9zM441.6 263.6h0.9v0.9h-0.9zM456.0 247.6h0.9v0.9h-0.9zM455.1 254.5h0.9v0.9h-0.9zM451.0 267.1h0.9v0.9h-0.9zM451.7 259.3h0.9v0.9h-0.9zM449.0 255.3h0.9v0.9h-0.9zM452.9 254.3h0.9v0.9h-0.9zM450.6 265.9h0.9v0.9h-0.9zM453.8 270.8h0.9v0.9h-0.9zM459.5 266.4h0.9v0.9h-0.9zM453.3 250.0h0.9v0.9h-0.9zM452.9 270.5h0.9v0.9h-0.9zM453.1 257.1h0.9v0.9h-0.9zM454.5 265.7h0.9v0.9h-0.9zM447.9 276.3h0.9v0.9h-0.9zM452.5 267.9h0.9v0.9h-0.9zM441.7 274.6h0.9v0.9h-0.9zM447.1 257.9h0.9v0.9h-0.9zM461.5 266.5h0.9v0.9h-0.9zM454.3 267.4h0.9v0.9h-0.9zM441.2 265.7h0.9v0.9h-0.9zM467.4 265.3h0.9v0.9h-0.9zM461.1 260.7h0.9v0.9h-0.9zM459.8 254.1h0.9v0.9h-0.9zM454.6 250.9h0.9v0.9h-0.9zM459.6 273.9h0.9v0.9h-0.9zM449.7 260.4h0.9v0.9h-0.9zM458.6 259.5h0.9v0.9h-0.9zM451.6 271.9h0.9v0.9h-0.9zM446.1 261.8h0.9v0.9h-0.9zM449.5 269.6h0.9v0.9h-0.9zM463.5 270.9h0.9v0.9h-0.9zM448.0 258.4h0.9v0.9h-0.9zM443.2 278.4h0.9v0.9h-0.9zM444.7 263.7h0.9v0.9h-0.9zM448.2 265.6h0.9v0.9h-0.9zM453.7 257.5h0.9v0.9h-0.9zM441.1 266.6h0.9v0.9h-0.9zM459.4 254.0h0.9v0.9h-0.9zM433.6 254.7h0.9v0.9h-0.9zM433.1 257.9h0.9v0.9h-0.9zM453.2 262.4h0.9v0.9h-0.9zM443.3 279.5h0.9v0.9h-0.9zM433.0 270.3h0.9v0.9h-0.9zM433.6 264.6h0.9v0.9h-0.9zM442.5 268.6h0.9v0.9h-0.9zM433.6 263.3h0.9v0.9h-0.9zM444.3 264.2h0.9v0.9h-0.9zM436.8 283.3h0.9v0.9h-0.9zM438.1 274.1h0.9v0.9h-0.9zM436.4 258.0h0.9v0.9h-0.9zM441.0 277.9h0.9v0.9h-0.9zM437.8 267.2h0.9v0.9h-0.9zM427.2 270.5h0.9v0.9h-0.9zM434.0 262.2h0.9v0.9h-0.9zM433.8 275.5h0.9v0.9h-0.9zM428.7 259.0h0.9v0.9h-0.9zM440.1 254.9h0.9v0.9h-0.9zM436.1 271.3h0.9v0.9h-0.9zM442.2 272.4h0.9v0.9h-0.9zM447.7 257.3h0.9v0.9h-0.9zM436.9 259.0h0.9v0.9h-0.9zM441.8 253.9h0.9v0.9h-0.9zM421.7 260.1h0.9v0.9h-0.9zM432.3 267.2h0.9v0.9h-0.9zM434.4 270.3h0.9v0.9h-0.9zM431.9 252.6h0.9v0.9h-0.9zM435.3 260.1h0.9v0.9h-0.9zM445.2 270.0h0.9v0.9h-0.9zM425.3 263.3h0.9v0.9h-0.9zM435.5 281.4h0.9v0.9h-0.9zM431.6 275.3h0.9v0.9h-0.9zM432.3 268.1h0.9v0.9h-0.9zM436.2 259.9h0.9v0.9h-0.9zM439.6 273.4h0.9v0.9h-0.9zM432.1 246.6h0.9v0.9h-0.9zM447.2 261.6h0.9v0.9h-0.9zM438.3 263.2h0.9v0.9h-0.9zM441.1 263.7h0.9v0.9h-0.9zM441.8 265.2h0.9v0.9h-0.9zM438.4 255.7h0.9v0.9h-0.9zM421.7 271.5h0.9v0.9h-0.9zM450.2 259.8h0.9v0.9h-0.9zM419.8 272.2h0.9v0.9h-0.9zM435.5 265.4h0.9v0.9h-0.9zM442.9 266.4h0.9v0.9h-0.9zM442.2 266.6h0.9v0.9h-0.9zM433.6 264.2h0.9v0.9h-0.9zM435.3 283.1h0.9v0.9h-0.9zM432.8 249.7h0.9v0.9h-0.9zM449.5 262.6h0.9v0.9h-0.9zM436.7 277.5h0.9v0.9h-0.9zM437.9 260.9h0.9v0.9h-0.9zM429.7 269.8h0.9v0.9h-0.9zM428.2 263.7h0.9v0.9h-0.9zM454.2 252.4h0.9v0.9h-0.9zM451.6 240.1h0.9v0.9h-0.9zM458.9 267.3h0.9v0.9h-0.9zM447.7 273.6h0.9v0.9h-0.9zM449.4 270.7h0.9v0.9h-0.9zM458.4 256.3h0.9v0.9h-0.9zM449.4 254.5h0.9v0.9h-0.9zM446.7 266.7h0.9v0.9h-0.9zM463.6 234.8h0.9v0.9h-0.9zM435.5 244.6h0.9v0.9h-0.9zM469.8 247.5h0.9v0.9h-0.9zM464.0 254.9h0.9v0.9h-0.9zM436.4 272.2h0.9v0.9h-0.9zM467.8 259.5h0.9v0.9h-0.9zM447.4 250.4h0.9v0.9h-0.9zM441.8 275.1h0.9v0.9h-0.9zM474.8 267.9h0.9v0.9h-0.9zM463.9 237.1h0.9v0.9h-0.9zM447.7 255.3h0.9v0.9h-0.9zM444.8 255.7h0.9v0.9h-0.9zM431.8 259.9h0.9v0.9h-0.9zM481.4 250.5h0.9v0.9h-0.9zM478.1 243.0h0.9v0.9h-0.9zM445.9 277.0h0.9v0.9h-0.9zM460.2 242.1h0.9v0.9h-0.9zM428.5 245.0h0.9v0.9h-0.9zM503.1 248.8h0.9v0.9h-0.9z" fill="#000" fill-opacity="0.45"/>
<path d="M454.0 243.2h0.9v0.9h-0.9zM458.1 238.6h0.9v0.9h-0.9zM452.6 239.2h0.9v0.9h-0.9zM451.1 242.0h0.9v0.9h-0.9zM440.8 242.3h0.9v0.9h-0.9zM456.6 243.5h0.9v0.9h-0.9zM452.4 240.7h0.9v0.9h-0.9zM455.5 239.8h0.9v0.9h-0.9zM451.8 237.3h0.9v0.9h-0.9zM460.0 244.3h0.9v0.9h-0.9zM452.2 241.9h0.9v0.9h-0.9zM448.7 247.2h0.9v0.9h-0.9zM451.9 239.8h0.9v0.9h-0.9zM449.2 244.7h0.9v0.9h-0.9zM448.7 240.7h0.9v0.9h-0.9zM443.1 242.2h0.9v0.9h-0.9zM449.7 234.7h0.9v0.9h-0.9zM451.6 234.8h0.9v0.9h-0.9zM455.3 242.6h0.9v0.9h-0.9zM451.2 236.8h0.9v0.9h-0.9zM443.6 242.5h0.9v0.9h-0.9zM446.9 240.9h0.9v0.9h-0.9zM454.7 243.4h0.9v0.9h-0.9zM444.0 239.7h0.9v0.9h-0.9zM455.1 243.6h0.9v0.9h-0.9zM451.1 246.7h0.9v0.9h-0.9zM447.8 241.8h0.9v0.9h-0.9zM449.4 248.3h0.9v0.9h-0.9zM456.4 245.3h0.9v0.9h-0.9zM447.1 239.0h0.9v0.9h-0.9zM451.7 241.7h0.9v0.9h-0.9zM449.8 242.9h0.9v0.9h-0.9zM448.6 237.2h0.9v0.9h-0.9zM442.0 240.8h0.9v0.9h-0.9zM458.2 234.3h0.9v0.9h-0.9zM452.2 245.6h0.9v0.9h-0.9zM455.4 246.2h0.9v0.9h-0.9zM452.6 238.4h0.9v0.9h-0.9zM452.7 243.2h0.9v0.9h-0.9zM456.8 245.0h0.9v0.9h-0.9zM455.2 241.9h0.9v0.9h-0.9zM451.9 239.8h0.9v0.9h-0.9zM451.6 234.8h0.9v0.9h-0.9zM450.3 238.4h0.9v0.9h-0.9zM449.7 241.7h0.9v0.9h-0.9zM439.0 241.9h0.9v0.9h-0.9zM454.9 243.9h0.9v0.9h-0.9zM447.5 238.0h0.9v0.9h-0.9zM443.1 235.9h0.9v0.9h-0.9zM451.9 237.2h0.9v0.9h-0.9zM455.8 242.8h0.9v0.9h-0.9zM454.8 247.3h0.9v0.9h-0.9zM449.4 241.4h0.9v0.9h-0.9zM448.3 242.7h0.9v0.9h-0.9zM448.0 242.4h0.9v0.9h-0.9zM440.8 239.8h0.9v0.9h-0.9zM449.0 244.1h0.9v0.9h-0.9zM460.7 246.4h0.9v0.9h-0.9zM453.5 242.8h0.9v0.9h-0.9zM443.9 249.9h0.9v0.9h-0.9zM451.8 245.9h0.9v0.9h-0.9zM445.8 235.4h0.9v0.9h-0.9zM452.1 240.1h0.9v0.9h-0.9zM452.0 237.7h0.9v0.9h-0.9zM450.8 244.8h0.9v0.9h-0.9zM445.3 244.1h0.9v0.9h-0.9zM443.4 237.9h0.9v0.9h-0.9zM452.4 240.4h0.9v0.9h-0.9zM448.9 244.0h0.9v0.9h-0.9zM455.1 248.2h0.9v0.9h-0.9zM446.8 244.9h0.9v0.9h-0.9zM445.4 240.3h0.9v0.9h-0.9zM450.6 246.2h0.9v0.9h-0.9zM452.6 244.4h0.9v0.9h-0.9zM449.4 243.8h0.9v0.9h-0.9zM444.6 245.1h0.9v0.9h-0.9zM451.3 241.4h0.9v0.9h-0.9zM448.2 246.0h0.9v0.9h-0.9zM452.5 242.8h0.9v0.9h-0.9zM447.8 244.8h0.9v0.9h-0.9zM452.1 246.2h0.9v0.9h-0.9zM454.1 241.8h0.9v0.9h-0.9zM449.6 240.3h0.9v0.9h-0.9zM448.9 239.5h0.9v0.9h-0.9zM454.0 244.0h0.9v0.9h-0.9zM447.1 242.0h0.9v0.9h-0.9zM452.1 240.7h0.9v0.9h-0.9zM444.5 241.3h0.9v0.9h-0.9zM450.5 238.4h0.9v0.9h-0.9zM447.7 240.9h0.9v0.9h-0.9zM428.2 245.2h0.9v0.9h-0.9zM433.2 249.3h0.9v0.9h-0.9zM436.6 243.1h0.9v0.9h-0.9zM439.1 243.5h0.9v0.9h-0.9zM432.5 251.6h0.9v0.9h-0.9zM451.7 239.9h0.9v0.9h-0.9zM443.6 250.0h0.9v0.9h-0.9zM432.5 245.6h0.9v0.9h-0.9zM433.9 244.4h0.9v0.9h-0.9zM423.5 244.9h0.9v0.9h-0.9zM426.1 247.4h0.9v0.9h-0.9zM437.4 240.3h0.9v0.9h-0.9zM426.6 238.6h0.9v0.9h-0.9zM440.4 236.9h0.9v0.9h-0.9zM432.8 247.6h0.9v0.9h-0.9zM442.3 242.6h0.9v0.9h-0.9zM437.0 252.5h0.9v0.9h-0.9zM429.0 243.7h0.9v0.9h-0.9zM448.8 240.4h0.9v0.9h-0.9zM428.8 247.3h0.9v0.9h-0.9zM434.4 237.4h0.9v0.9h-0.9zM430.2 246.8h0.9v0.9h-0.9zM424.8 238.6h0.9v0.9h-0.9zM440.1 243.7h0.9v0.9h-0.9zM437.7 242.8h0.9v0.9h-0.9zM434.5 238.9h0.9v0.9h-0.9zM418.5 235.7h0.9v0.9h-0.9zM432.3 238.5h0.9v0.9h-0.9zM429.1 234.6h0.9v0.9h-0.9zM444.9 240.9h0.9v0.9h-0.9zM436.3 235.5h0.9v0.9h-0.9zM428.0 240.0h0.9v0.9h-0.9zM441.1 246.9h0.9v0.9h-0.9zM434.4 246.9h0.9v0.9h-0.9zM423.8 241.5h0.9v0.9h-0.9zM434.3 239.3h0.9v0.9h-0.9zM444.2 247.7h0.9v0.9h-0.9zM436.1 249.4h0.9v0.9h-0.9zM437.5 245.9h0.9v0.9h-0.9zM429.2 242.8h0.9v0.9h-0.9zM437.8 246.1h0.9v0.9h-0.9zM440.8 253.5h0.9v0.9h-0.9zM448.2 258.7h0.9v0.9h-0.9zM448.2 255.3h0.9v0.9h-0.9zM446.7 268.9h0.9v0.9h-0.9zM446.0 275.4h0.9v0.9h-0.9zM456.8 273.0h0.9v0.9h-0.9zM459.7 256.0h0.9v0.9h-0.9zM457.3 272.8h0.9v0.9h-0.9zM454.6 254.7h0.9v0.9h-0.9zM450.5 277.0h0.9v0.9h-0.9zM450.0 269.7h0.9v0.9h-0.9zM448.2 260.8h0.9v0.9h-0.9zM451.6 268.7h0.9v0.9h-0.9zM452.0 249.4h0.9v0.9h-0.9zM471.6 257.1h0.9v0.9h-0.9zM447.4 253.5h0.9v0.9h-0.9zM448.1 268.0h0.9v0.9h-0.9zM457.5 252.6h0.9v0.9h-0.9zM446.3 263.5h0.9v0.9h-0.9zM461.9 267.5h0.9v0.9h-0.9zM453.7 271.8h0.9v0.9h-0.9zM458.3 268.5h0.9v0.9h-0.9zM451.8 255.7h0.9v0.9h-0.9zM448.9 245.4h0.9v0.9h-0.9zM452.7 269.1h0.9v0.9h-0.9zM452.9 268.0h0.9v0.9h-0.9zM453.3 257.5h0.9v0.9h-0.9zM452.0 269.0h0.9v0.9h-0.9zM455.2 259.4h0.9v0.9h-0.9zM448.9 273.7h0.9v0.9h-0.9zM449.4 260.0h0.9v0.9h-0.9zM448.9 270.1h0.9v0.9h-0.9zM441.6 264.4h0.9v0.9h-0.9zM445.4 253.2h0.9v0.9h-0.9zM453.8 262.6h0.9v0.9h-0.9zM455.0 256.7h0.9v0.9h-0.9zM443.4 255.9h0.9v0.9h-0.9zM457.6 248.4h0.9v0.9h-0.9zM461.5 267.9h0.9v0.9h-0.9zM447.4 244.3h0.9v0.9h-0.9zM448.8 257.5h0.9v0.9h-0.9zM454.5 254.8h0.9v0.9h-0.9zM453.0 273.4h0.9v0.9h-0.9zM441.9 267.5h0.9v0.9h-0.9zM448.0 265.5h0.9v0.9h-0.9zM439.9 264.3h0.9v0.9h-0.9zM455.7 259.6h0.9v0.9h-0.9zM439.5 281.1h0.9v0.9h-0.9zM458.4 257.8h0.9v0.9h-0.9zM454.8 262.2h0.9v0.9h-0.9zM457.7 248.3h0.9v0.9h-0.9zM455.1 266.0h0.9v0.9h-0.9zM448.5 264.2h0.9v0.9h-0.9zM458.9 256.0h0.9v0.9h-0.9zM450.2 280.4h0.9v0.9h-0.9zM434.6 275.4h0.9v0.9h-0.9zM447.1 247.9h0.9v0.9h-0.9zM444.7 246.9h0.9v0.9h-0.9zM454.0 259.4h0.9v0.9h-0.9zM447.6 267.1h0.9v0.9h-0.9zM443.4 258.2h0.9v0.9h-0.9zM459.0 249.5h0.9v0.9h-0.9zM450.5 254.9h0.9v0.9h-0.9zM438.1 264.9h0.9v0.9h-0.9zM451.6 261.9h0.9v0.9h-0.9zM444.9 258.4h0.9v0.9h-0.9zM433.8 260.3h0.9v0.9h-0.9zM445.9 272.2h0.9v0.9h-0.9zM449.6 244.3h0.9v0.9h-0.9zM436.5 288.6h0.9v0.9h-0.9zM429.3 261.1h0.9v0.9h-0.9zM444.4 262.9h0.9v0.9h-0.9zM433.8 271.7h0.9v0.9h-0.9zM426.9 271.6h0.9v0.9h-0.9zM440.8 261.3h0.9v0.9h-0.9zM429.7 262.5h0.9v0.9h-0.9zM433.7 263.4h0.9v0.9h-0.9zM433.8 244.2h0.9v0.9h-0.9zM442.2 274.9h0.9v0.9h-0.9zM439.1 271.7h0.9v0.9h-0.9zM438.2 256.0h0.9v0.9h-0.9zM447.4 268.5h0.9v0.9h-0.9zM430.0 268.7h0.9v0.9h-0.9zM431.0 246.4h0.9v0.9h-0.9zM445.3 264.0h0.9v0.9h-0.9zM441.0 266.9h0.9v0.9h-0.9zM427.9 256.2h0.9v0.9h-0.9zM423.1 264.9h0.9v0.9h-0.9zM435.6 263.4h0.9v0.9h-0.9zM429.7 265.4h0.9v0.9h-0.9zM441.3 275.2h0.9v0.9h-0.9zM436.1 251.4h0.9v0.9h-0.9zM448.1 260.6h0.9v0.9h-0.9zM439.3 260.9h0.9v0.9h-0.9zM443.1 259.5h0.9v0.9h-0.9zM441.2 263.7h0.9v0.9h-0.9zM453.5 272.6h0.9v0.9h-0.9zM435.7 279.1h0.9v0.9h-0.9zM433.3 264.4h0.9v0.9h-0.9zM443.9 262.3h0.9v0.9h-0.9zM441.8 259.1h0.9v0.9h-0.9zM431.4 275.0h0.9v0.9h-0.9zM455.6 255.7h0.9v0.9h-0.9zM436.8 258.7h0.9v0.9h-0.9zM451.2 253.7h0.9v0.9h-0.9zM435.2 256.4h0.9v0.9h-0.9zM437.4 265.3h0.9v0.9h-0.9zM429.0 269.5h0.9v0.9h-0.9zM437.0 268.8h0.9v0.9h-0.9zM436.9 259.3h0.9v0.9h-0.9zM443.6 258.3h0.9v0.9h-0.9zM437.8 287.0h0.9v0.9h-0.9zM451.0 270.8h0.9v0.9h-0.9zM444.9 260.1h0.9v0.9h-0.9zM426.6 264.9h0.9v0.9h-0.9zM433.0 254.8h0.9v0.9h-0.9zM432.9 263.3h0.9v0.9h-0.9zM438.1 263.9h0.9v0.9h-0.9zM446.8 268.1h0.9v0.9h-0.9zM441.9 258.2h0.9v0.9h-0.9zM431.5 271.2h0.9v0.9h-0.9zM422.3 262.2h0.9v0.9h-0.9zM452.0 253.0h0.9v0.9h-0.9zM455.5 261.3h0.9v0.9h-0.9zM453.1 242.5h0.9v0.9h-0.9zM429.7 242.6h0.9v0.9h-0.9zM444.6 246.3h0.9v0.9h-0.9zM441.9 255.0h0.9v0.9h-0.9zM440.9 254.5h0.9v0.9h-0.9zM451.1 266.6h0.9v0.9h-0.9zM450.8 265.1h0.9v0.9h-0.9zM454.5 256.6h0.9v0.9h-0.9zM467.8 236.2h0.9v0.9h-0.9zM455.4 251.5h0.9v0.9h-0.9zM439.9 265.6h0.9v0.9h-0.9zM450.0 258.3h0.9v0.9h-0.9zM451.1 249.9h0.9v0.9h-0.9zM449.8 258.2h0.9v0.9h-0.9zM464.3 232.7h0.9v0.9h-0.9zM481.2 266.2h0.9v0.9h-0.9zM445.5 251.7h0.9v0.9h-0.9zM449.4 247.7h0.9v0.9h-0.9zM428.4 244.7h0.9v0.9h-0.9zM468.2 280.3h0.9v0.9h-0.9zM437.4 234.2h0.9v0.9h-0.9zM464.5 237.7h0.9v0.9h-0.9zM494.5 269.2h0.9v0.9h-0.9zM416.6 283.1h0.9v0.9h-0.9zM460.9 255.7h0.9v0.9h-0.9z" fill="#000" fill-opacity="0.45"/>
<path d="M449.8 238.2h0.9v0.9h-0.9zM446.0 241.6h0.9v0.9h-0.9zM460.4 242.2h0.9v0.9h-0.9zM450.2 238.8h0.9v0.9h-0.9zM441.8 237.9h0.9v0.9h-0.9zM448.2 240.6h0.9v0.9h-0.9zM449.9 244.1h0.9v0.9h-0.9zM451.4 242.1h0.9v0.9h-0.9zM448.6 245.6h0.9v0.9h-0.9zM445.8 242.3h0.9v0.9h-0.9zM454.7 237.1h0.9v0.9h-0.9zM448.7 245.7h0.9v0.9h-0.9zM437.0 249.8h0.9v0.9h-0.9zM449.9 244.7h0.9v0.9h-0.9zM454.1 236.4h0.9v0.9h-0.9zM461.4 241.5h0.9v0.9h-0.9zM442.4 245.2h0.9v0.9h-0.9zM454.2 244.2h0.9v0.9h-0.9zM451.6 242.6h0.9v0.9h-0.9zM460.6 245.2h0.9v0.9h-0.9zM450.1 241.1h0.9v0.9h-0.9zM438.0 236.6h0.9v0.9h-0.9zM457.1 248.9h0.9v0.9h-0.9zM453.0 242.9h0.9v0.9h-0.9zM460.2 245.7h0.9v0.9h-0.9zM447.9 241.1h0.9v0.9h-0.9zM448.7 240.3h0.9v0.9h-0.9zM461.9 247.1h0.9v0.9h-0.9zM458.8 244.5h0.9v0.9h-0.9zM451.9 236.5h0.9v0.9h-0.9zM453.6 245.2h0.9v0.9h-0.9zM445.1 247.7h0.9v0.9h-0.9zM455.4 236.4h0.9v0.9h-0.9zM452.0 246.9h0.9v0.9h-0.9zM442.2 242.5h0.9v0.9h-0.9zM445.9 245.4h0.9v0.9h-0.9zM457.6 246.2h0.9v0.9h-0.9zM451.2 242.8h0.9v0.9h-0.9zM450.7 245.2h0.9v0.9h-0.9zM442.3 237.0h0.9v0.9h-0.9zM443.7 245.1h0.9v0.9h-0.9zM454.4 243.6h0.9v0.9h-0.9zM450.7 240.4h0.9v0.9h-0.9zM449.0 243.6h0.9v0.9h-0.9zM452.8 244.5h0.9v0.9h-0.9zM445.1 242.9h0.9v0.9h-0.9zM452.2 248.8h0.9v0.9h-0.9zM450.4 235.3h0.9v0.9h-0.9zM459.5 244.1h0.9v0.9h-0.9zM448.5 241.5h0.9v0.9h-0.9zM445.6 239.3h0.9v0.9h-0.9zM454.0 245.8h0.9v0.9h-0.9zM455.9 241.3h0.9v0.9h-0.9zM446.7 248.5h0.9v0.9h-0.9zM449.7 242.8h0.9v0.9h-0.9zM446.3 241.0h0.9v0.9h-0.9zM447.5 243.2h0.9v0.9h-0.9zM459.4 245.6h0.9v0.9h-0.9zM451.6 242.6h0.9v0.9h-0.9zM444.7 238.2h0.9v0.9h-0.9zM451.8 236.7h0.9v0.9h-0.9zM449.6 241.1h0.9v0.9h-0.9zM442.9 244.4h0.9v0.9h-0.9zM448.9 246.4h0.9v0.9h-0.9zM459.9 239.5h0.9v0.9h-0.9zM457.8 241.9h0.9v0.9h-0.9zM452.5 240.8h0.9v0.9h-0.9zM461.0 243.4h0.9v0.9h-0.9zM443.7 240.6h0.9v0.9h-0.9zM449.9 241.2h0.9v0.9h-0.9zM451.1 241.7h0.9v0.9h-0.9zM446.8 240.3h0.9v0.9h-0.9zM451.0 246.2h0.9v0.9h-0.9zM450.8 241.3h0.9v0.9h-0.9zM447.9 243.0h0.9v0.9h-0.9zM451.0 246.9h0.9v0.9h-0.9zM450.3 242.6h0.9v0.9h-0.9zM444.6 242.1h0.9v0.9h-0.9zM445.3 239.1h0.9v0.9h-0.9zM451.3 240.8h0.9v0.9h-0.9zM448.2 238.9h0.9v0.9h-0.9zM448.5 241.6h0.9v0.9h-0.9zM448.2 244.5h0.9v0.9h-0.9zM451.6 239.9h0.9v0.9h-0.9zM450.9 238.6h0.9v0.9h-0.9zM453.1 242.3h0.9v0.9h-0.9zM451.4 239.6h0.9v0.9h-0.9zM450.4 240.9h0.9v0.9h-0.9zM454.7 243.0h0.9v0.9h-0.9zM453.2 244.2h0.9v0.9h-0.9zM428.6 249.2h0.9v0.9h-0.9zM429.9 238.6h0.9v0.9h-0.9zM434.3 242.8h0.9v0.9h-0.9zM431.1 240.7h0.9v0.9h-0.9zM442.2 254.3h0.9v0.9h-0.9zM433.9 248.2h0.9v0.9h-0.9zM434.7 242.9h0.9v0.9h-0.9zM437.4 246.9h0.9v0.9h-0.9zM442.7 237.8h0.9v0.9h-0.9zM428.8 250.8h0.9v0.9h-0.9zM428.0 242.9h0.9v0.9h-0.9zM434.2 239.0h0.9v0.9h-0.9zM436.4 244.6h0.9v0.9h-0.9zM433.3 236.8h0.9v0.9h-0.9zM435.0 241.4h0.9v0.9h-0.9zM444.6 247.7h0.9v0.9h-0.9zM445.5 238.3h0.9v0.9h-0.9zM426.7 241.3h0.9v0.9h-0.9zM434.3 240.0h0.9v0.9h-0.9zM444.5 240.2h0.9v0.9h-0.9zM438.8 236.1h0.9v0.9h-0.9zM438.2 241.5h0.9v0.9h-0.9zM434.2 243.2h0.9v0.9h-0.9zM457.6 243.7h0.9v0.9h-0.9zM435.8 252.0h0.9v0.9h-0.9zM417.9 232.4h0.9v0.9h-0.9zM432.2 238.8h0.9v0.9h-0.9zM436.5 247.3h0.9v0.9h-0.9zM444.7 234.6h0.9v0.9h-0.9zM431.1 249.0h0.9v0.9h-0.9zM448.2 237.0h0.9v0.9h-0.9zM436.2 243.8h0.9v0.9h-0.9zM442.9 244.5h0.9v0.9h-0.9zM443.2 242.5h0.9v0.9h-0.9zM420.8 243.3h0.9v0.9h-0.9zM433.0 241.9h0.9v0.9h-0.9zM446.7 247.6h0.9v0.9h-0.9zM439.1 241.8h0.9v0.9h-0.9zM432.9 239.2h0.9v0.9h-0.9zM441.9 244.0h0.9v0.9h-0.9zM441.2 238.5h0.9v0.9h-0.9zM459.0 255.7h0.9v0.9h-0.9zM458.2 249.7h0.9v0.9h-0.9zM451.2 256.6h0.9v0.9h-0.9zM450.8 265.6h0.9v0.9h-0.9zM451.8 252.8h0.9v0.9h-0.9zM452.2 244.6h0.9v0.9h-0.9zM458.1 250.9h0.9v0.9h-0.9zM462.2 272.5h0.9v0.9h-0.9zM441.3 244.6h0.9v0.9h-0.9zM456.7 257.0h0.9v0.9h-0.9zM464.1 242.2h0.9v0.9h-0.9zM447.5 262.8h0.9v0.9h-0.9zM463.4 275.1h0.9v0.9h-0.9zM448.4 263.1h0.9v0.9h-0.9zM457.5 250.9h0.9v0.9h-0.9zM463.2 258.0h0.9v0.9h-0.9zM450.1 258.2h0.9v0.9h-0.9zM444.0 265.6h0.9v0.9h-0.9zM453.9 246.2h0.9v0.9h-0.9zM446.2 251.1h0.9v0.9h-0.9zM455.3 265.3h0.9v0.9h-0.9zM459.9 258.5h0.9v0.9h-0.9zM452.3 269.4h0.9v0.9h-0.9zM450.4 274.7h0.9v0.9h-0.9zM453.6 253.5h0.9v0.9h-0.9zM462.1 246.0h0.9v0.9h-0.9zM449.1 260.5h0.9v0.9h-0.9zM448.6 244.4h0.9v0.9h-0.9zM446.1 270.3h0.9v0.9h-0.9zM458.1 263.6h0.9v0.9h-0.9zM454.3 263.4h0.9v0.9h-0.9zM456.0 251.3h0.9v0.9h-0.9zM451.1 259.8h0.9v0.9h-0.9zM449.1 271.3h0.9v0.9h-0.9zM446.4 256.5h0.9v0.9h-0.9zM448.5 254.9h0.9v0.9h-0.9zM454.0 262.1h0.9v0.9h-0.9zM451.1 270.0h0.9v0.9h-0.9zM444.3 235.2h0.9v0.9h-0.9zM450.4 266.7h0.9v0.9h-0.9zM456.7 275.0h0.9v0.9h-0.9zM460.3 259.6h0.9v0.9h-0.9zM457.5 262.9h0.9v0.9h-0.9zM450.0 268.6h0.9v0.9h-0.9zM439.5 263.5h0.9v0.9h-0.9zM462.5 269.3h0.9v0.9h-0.9zM453.6 256.7h0.9v0.9h-0.9zM461.7 275.6h0.9v0.9h-0.9zM458.7 266.8h0.9v0.9h-0.9zM436.5 250.2h0.9v0.9h-0.9zM437.0 255.1h0.9v0.9h-0.9zM457.9 267.7h0.9v0.9h-0.9zM451.7 267.7h0.9v0.9h-0.9zM447.9 261.5h0.9v0.9h-0.9zM450.4 257.9h0.9v0.9h-0.9zM446.3 270.4h0.9v0.9h-0.9zM459.1 262.2h0.9v0.9h-0.9zM441.4 256.1h0.9v0.9h-0.9zM448.9 258.2h0.9v0.9h-0.9zM456.6 259.6h0.9v0.9h-0.9zM457.2 267.5h0.9v0.9h-0.9zM451.1 265.1h0.9v0.9h-0.9zM444.1 272.5h0.9v0.9h-0.9zM438.7 257.1h0.9v0.9h-0.9zM452.8 261.1h0.9v0.9h-0.9zM439.1 262.8h0.9v0.9h-0.9zM445.7 267.8h0.9v0.9h-0.9zM434.3 271.5h0.9v0.9h-0.9zM442.7 263.9h0.9v0.9h-0.9zM429.9 256.4h0.9v0.9h-0.9zM437.7 272.3h0.9v0.9h-0.9zM438.2 260.0h0.9v0.9h-0.9zM437.8 261.6h0.9v0.9h-0.9zM444.6 266.1h0.9v0.9h-0.9zM418.0 285.1h0.9v0.9h-0.9zM438.7 272.6h0.9v0.9h-0.9zM442.1 251.0h0.9v0.9h-0.9zM434.7 262.9h0.9v0.9h-0.9zM425.0 267.8h0.9v0.9h-0.9zM437.9 275.0h0.9v0.9h-0.9zM433.3 259.7h0.9v0.9h-0.9zM432.2 272.4h0.9v0.9h-0.9zM435.3 245.2h0.9v0.9h-0.9zM453.1 259.1h0.9v0.9h-0.9zM454.7 260.8h0.9v0.9h-0.9zM446.5 253.1h0.9v0.9h-0.9zM424.3 268.6h0.9v0.9h-0.9zM442.4 259.0h0.9v0.9h-0.9zM432.7 272.4h0.9v0.9h-0.9zM439.4 264.9h0.9v0.9h-0.9zM439.8 268.2h0.9v0.9h-0.9zM439.9 281.6h0.9v0.9h-0.9zM429.5 265.9h0.9v0.9h-0.9zM447.1 263.7h0.9v0.9h-0.9zM438.2 264.8h0.9v0.9h-0.9zM449.3 258.1h0.9v0.9h-0.9zM435.4 274.5h0.9v0.9h-0.9zM427.4 271.6h0.9v0.9h-0.9zM435.6 264.2h0.9v0.9h-0.9zM422.4 258.2h0.9v0.9h-0.9zM444.8 272.4h0.9v0.9h-0.9zM443.6 275.6h0.9v0.9h-0.9zM430.3 263.1h0.9v0.9h-0.9zM434.2 248.0h0.9v0.9h-0.9zM438.9 281.9h0.9v0.9h-0.9zM436.1 265.1h0.9v0.9h-0.9zM431.0 252.4h0.9v0.9h-0.9zM431.2 271.5h0.9v0.9h-0.9zM439.3 275.0h0.9v0.9h-0.9zM426.5 267.1h0.9v0.9h-0.9zM426.5 255.5h0.9v0.9h-0.9zM441.4 272.6h0.9v0.9h-0.9zM433.4 268.4h0.9v0.9h-0.9zM427.3 272.1h0.9v0.9h-0.9zM431.4 266.2h0.9v0.9h-0.9zM431.8 267.9h0.9v0.9h-0.9zM436.5 275.1h0.9v0.9h-0.9zM435.7 259.0h0.9v0.9h-0.9zM438.1 258.8h0.9v0.9h-0.9zM436.2 283.2h0.9v0.9h-0.9zM438.8 260.7h0.9v0.9h-0.9zM436.3 277.4h0.9v0.9h-0.9zM448.9 240.7h0.9v0.9h-0.9zM446.6 240.5h0.9v0.9h-0.9zM464.1 269.2h0.9v0.9h-0.9zM443.0 272.7h0.9v0.9h-0.9zM425.0 259.5h0.9v0.9h-0.9zM453.8 285.7h0.9v0.9h-0.9zM432.4 253.7h0.9v0.9h-0.9zM446.5 259.7h0.9v0.9h-0.9zM437.8 262.4h0.9v0.9h-0.9zM477.2 240.7h0.9v0.9h-0.9zM443.3 246.6h0.9v0.9h-0.9zM471.3 261.8h0.9v0.9h-0.9zM459.7 262.9h0.9v0.9h-0.9zM462.7 268.4h0.9v0.9h-0.9zM456.7 235.3h0.9v0.9h-0.9zM447.4 251.3h0.9v0.9h-0.9zM447.4 255.6h0.9v0.9h-0.9zM458.4 275.0h0.9v0.9h-0.9zM453.7 248.1h0.9v0.9h-0.9zM435.1 230.3h0.9v0.9h-0.9zM423.0 264.2h0.9v0.9h-0.9zM473.9 233.6h0.9v0.9h-0.9zM440.7 246.1h0.9v0.9h-0.9zM422.3 281.8h0.9v0.9h-0.9zM444.2 237.9h0.9v0.9h-0.9zM453.2 229.2h0.9v0.9h-0.9zM426.2 280.7h0.9v0.9h-0.9z" fill="#000" fill-opacity="0.45"/>
<path d="M451.4 243.1h0.9v0.9h-0.9zM458.7 241.4h0.9v0.9h-0.9zM452.7 236.2h0.9v0.9h-0.9zM452.2 241.7h0.9v0.9h-0.9zM451.6 243.0h0.9v0.9h-0.9zM448.9 237.9h0.9v0.9h-0.9zM446.5 242.0h0.9v0.9h-0.9zM454.7 251.1h0.9v0.9h-0.9zM454.0 243.0h0.9v0.9h-0.9zM446.6 239.0h0.9v0.9h-0.9zM460.0 243.6h0.9v0.9h-0.9zM441.6 239.1h0.9v0.9h-0.9zM450.4 249.6h0.9v0.9h-0.9zM446.4 235.9h0.9v0.9h-0.9zM447.0 240.8h0.9v0.9h-0.9zM447.0 248.8h0.9v0.9h-0.9zM449.5 244.0h0.9v0.9h-0.9zM445.6 241.5h0.9v0.9h-0.9zM453.2 237.1h0.9v0.9h-0.9zM446.5 237.7h0.9v0.9h-0.9zM450.6 235.7h0.9v0.9h-0.9zM444.7 239.4h0.9v0.9h-0.9zM444.7 234.9h0.9v0.9h-0.9zM443.6 243.6h0.9v0.9h-0.9zM455.3 244.4h0.9v0.9h-0.9zM452.8 241.0h0.9v0.9h-0.9zM454.5 242.3h0.9v0.9h-0.9zM462.4 238.6h0.9v0.9h-0.9zM451.5 246.8h0.9v0.9h-0.9zM450.4 245.2h0.9v0.9h-0.9zM450.8 243.5h0.9v0.9h-0.9zM444.6 245.4h0.9v0.9h-0.9zM450.8 240.4h0.9v0.9h-0.9zM446.7 241.1h0.9v0.9h-0.9zM452.3 239.5h0.9v0.9h-0.9zM450.7 245.8h0.9v0.9h-0.9zM449.5 239.2h0.9v0.9h-0.9zM446.1 244.1h0.9v0.9h-0.9zM452.8 244.0h0.9v0.9h-0.9zM451.2 237.4h0.9v0.9h-0.9zM458.6 237.9h0.9v0.9h-0.9zM447.6 237.2h0.9v0.9h-0.9zM457.2 244.7h0.9v0.9h-0.9zM449.1 249.2h0.9v0.9h-0.9zM450.2 242.5h0.9v0.9h-0.9zM447.0 247.4h0.9v0.9h-0.9zM459.9 243.4h0.9v0.9h-0.9zM449.4 243.2h0.9v0.9h-0.9zM451.4 237.6h0.9v0.9h-0.9zM448.4 239.3h0.9v0.9h-0.9zM456.5 242.9h0.9v0.9h-0.9zM446.2 237.5h0.9v0.9h-0.9zM453.1 240.7h0.9v0.9h-0.9zM452.0 241.4h0.9v0.9h-0.9zM451.3 241.7h0.9v0.9h-0.9zM454.4 246.1h0.9v0.9h-0.9zM440.0 245.0h0.9v0.9h-0.9zM452.1 235.4h0.9v0.9h-0.9zM448.4 247.0h0.9v0.9h-0.9zM453.9 238.3h0.9v0.9h-0.9zM458.7 242.1h0.9v0.9h-0.9zM446.5 245.1h0.9v0.9h-0.9zM453.4 244.2h0.9v0.9h-0.9zM458.6 231.6h0.9v0.9h-0.9zM449.7 241.0h0.9v0.9h-0.9zM449.8 242.5h0.9v0.9h-0.9zM450.2 243.4h0.9v0.9h-0.9zM452.5 235.6h0.9v0.9h-0.9zM456.1 243.3h0.9v0.9h-0.9zM445.4 244.9h0.9v0.9h-0.9zM452.9 237.9h0.9v0.9h-0.9zM448.0 246.9h0.9v0.9h-0.9zM447.2 243.1h0.9v0.9h-0.9zM451.3 240.4h0.9v0.9h-0.9zM456.5 242.6h0.9v0.9h-0.9zM447.6 243.3h0.9v0.9h-0.9zM450.0 244.8h0.9v0.9h-0.9zM451.9 247.9h0.9v0.9h-0.9zM448.0 246.3h0.9v0.9h-0.9zM445.3 242.4h0.9v0.9h-0.9zM449.9 238.5h0.9v0.9h-0.9zM450.9 240.2h0.9v0.9h-0.9zM455.1 242.9h0.9v0.9h-0.9zM449.2 243.8h0.9v0.9h-0.9zM449.4 243.3h0.9v0.9h-0.9zM447.6 239.8h0.9v0.9h-0.9zM453.1 237.7h0.9v0.9h-0.9zM447.5 243.4h0.9v0.9h-0.9zM450.5 242.6h0.9v0.9h-0.9zM449.2 241.9h0.9v0.9h-0.9zM432.5 243.0h0.9v0.9h-0.9zM444.4 248.3h0.9v0.9h-0.9zM452.5 244.3h0.9v0.9h-0.9zM422.6 244.8h0.9v0.9h-0.9zM436.1 235.8h0.9v0.9h-0.9zM442.0 251.3h0.9v0.9h-0.9zM437.3 246.2h0.9v0.9h-0.9zM425.7 245.5h0.9v0.9h-0.9zM432.4 241.0h0.9v0.9h-0.9zM440.4 248.4h0.9v0.9h-0.9zM430.9 248.8h0.9v0.9h-0.9zM436.6 234.0h0.9v0.9h-0.9zM437.5 252.3h0.9v0.9h-0.9zM430.1 249.7h0.9v0.9h-0.9zM437.7 249.3h0.9v0.9h-0.9zM434.0 251.2h0.9v0.9h-0.9zM440.0 242.8h0.9v0.9h-0.9zM437.6 242.3h0.9v0.9h-0.9zM442.7 239.4h0.9v0.9h-0.9zM441.0 246.6h0.9v0.9h-0.9zM433.9 246.2h0.9v0.9h-0.9zM452.1 247.4h0.9v0.9h-0.9zM432.5 239.8h0.9v0.9h-0.9zM434.5 244.2h0.9v0.9h-0.9zM439.1 249.1h0.9v0.9h-0.9zM433.5 250.1h0.9v0.9h-0.9zM425.4 254.0h0.9v0.9h-0.9zM434.6 243.8h0.9v0.9h-0.9zM438.7 248.3h0.9v0.9h-0.9zM441.3 246.5h0.9v0.9h-0.9zM430.7 241.9h0.9v0.9h-0.9zM440.6 244.6h0.9v0.9h-0.9zM434.0 244.5h0.9v0.9h-0.9zM436.7 254.0h0.9v0.9h-0.9zM429.5 248.6h0.9v0.9h-0.9zM438.6 247.7h0.9v0.9h-0.9zM426.8 246.9h0.9v0.9h-0.9zM445.0 242.8h0.9v0.9h-0.9zM437.1 247.9h0.9v0.9h-0.9zM442.5 246.2h0.9v0.9h-0.9zM441.4 239.0h0.9v0.9h-0.9zM451.9 263.3h0.9v0.9h-0.9zM452.5 271.7h0.9v0.9h-0.9zM452.8 257.6h0.9v0.9h-0.9zM449.9 269.5h0.9v0.9h-0.9zM444.0 265.3h0.9v0.9h-0.9zM462.0 249.0h0.9v0.9h-0.9zM450.7 261.1h0.9v0.9h-0.9zM448.5 265.3h0.9v0.9h-0.9zM460.3 272.6h0.9v0.9h-0.9zM454.1 258.1h0.9v0.9h-0.9zM461.3 259.4h0.9v0.9h-0.9zM453.5 261.9h0.9v0.9h-0.9zM452.4 253.5h0.9v0.9h-0.9zM458.8 255.7h0.9v0.9h-0.9zM458.1 265.0h0.9v0.9h-0.9zM463.9 261.0h0.9v0.9h-0.9zM450.5 249.2h0.9v0.9h-0.9zM446.1 263.1h0.9v0.9h-0.9zM457.3 258.6h0.9v0.9h-0.9zM447.0 276.7h0.9v0.9h-0.9zM446.2 264.4h0.9v0.9h-0.9zM458.6 275.1h0.9v0.9h-0.9zM445.1 258.5h0.9v0.9h-0.9zM459.0 259.3h0.9v0.9h-0.9zM458.7 268.9h0.9v0.9h-0.9zM466.5 267.4h0.9v0.9h-0.9zM438.7 256.7h0.9v0.9h-0.9zM456.2 273.8h0.9v0.9h-0.9zM448.3 265.8h0.9v0.9h-0.9zM454.0 271.7h0.9v0.9h-0.9zM450.2 261.6h0.9v0.9h-0.9zM454.0 255.2h0.9v0.9h-0.9zM447.3 277.6h0.9v0.9h-0.9zM453.2 257.0h0.9v0.9h-0.9zM447.6 258.0h0.9v0.9h-0.9zM447.5 254.9h0.9v0.9h-0.9zM444.2 261.8h0.9v0.9h-0.9zM456.3 234.3h0.9v0.9h-0.9zM442.5 252.2h0.9v0.9h-0.9zM449.9 258.2h0.9v0.9h-0.9zM449.7 266.6h0.9v0.9h-0.9zM446.0 251.8h0.9v0.9h-0.9zM454.0 258.7h0.9v0.9h-0.9zM456.7 264.3h0.9v0.9h-0.9zM447.8 253.4h0.9v0.9h-0.9zM452.1 251.5h0.9v0.9h-0.9zM444.6 257.1h0.9v0.9h-0.9zM455.8 272.2h0.9v0.9h-0.9zM450.0 266.8h0.9v0.9h-0.9zM454.6 262.9h0.9v0.9h-0.9zM465.2 268.5h0.9v0.9h-0.9zM457.1 271.3h0.9v0.9h-0.9zM439.8 261.4h0.9v0.9h-0.9zM451.1 273.2h0.9v0.9h-0.9zM450.3 268.5h0.9v0.9h-0.9zM456.1 265.8h0.9v0.9h-0.9zM440.4 261.4h0.9v0.9h-0.9zM453.3 267.1h0.9v0.9h-0.9zM444.6 265.2h0.9v0.9h-0.9zM456.8 246.2h0.9v0.9h-0.9zM454.1 259.3h0.9v0.9h-0.9zM448.8 269.8h0.9v0.9h-0.9zM461.6 271.9h0.9v0.9h-0.9zM452.5 261.1h0.9v0.9h-0.9zM459.9 254.4h0.9v0.9h-0.9zM426.1 273.8h0.9v0.9h-0.9zM446.4 265.5h0.9v0.9h-0.9zM451.2 273.6h0.9v0.9h-0.9zM438.0 260.5h0.9v0.9h-0.9zM434.0 283.3h0.9v0.9h-0.9zM437.3 267.7h0.9v0.9h-0.9zM441.6 263.6h0.9v0.9h-0.9zM436.2 271.6h0.9v0.9h-0.9zM437.9 267.9h0.9v0.9h-0.9zM427.4 271.5h0.9v0.9h-0.9zM436.5 276.5h0.9v0.9h-0.9zM435.1 258.1h0.9v0.9h-0.9zM428.2 263.9h0.9v0.9h-0.9zM432.0 246.4h0.9v0.9h-0.9zM436.3 253.7h0.9v0.9h-0.9zM434.0 260.2h0.9v0.9h-0.9zM426.1 252.4h0.9v0.9h-0.9zM429.1 261.4h0.9v0.9h-0.9zM438.7 261.4h0.9v0.9h-0.9zM444.0 272.4h0.9v0.9h-0.9zM433.6 275.2h0.9v0.9h-0.9zM447.1 261.6h0.9v0.9h-0.9zM437.1 274.2h0.9v0.9h-0.9zM442.2 274.6h0.9v0.9h-0.9zM439.3 268.5h0.9v0.9h-0.9zM431.5 274.8h0.9v0.9h-0.9zM439.0 270.2h0.9v0.9h-0.9zM430.4 261.6h0.9v0.9h-0.9zM434.4 258.4h0.9v0.9h-0.9zM439.1 266.8h0.9v0.9h-0.9zM438.2 254.0h0.9v0.9h-0.9zM430.2 272.7h0.9v0.9h-0.9zM428.7 263.2h0.9v0.9h-0.9zM428.4 264.8h0.9v0.9h-0.9zM429.5 269.9h0.9v0.9h-0.9zM426.8 262.4h0.9v0.9h-0.9zM432.4 261.2h0.9v0.9h-0.9zM430.6 276.9h0.9v0.9h-0.9zM434.2 259.1h0.9v0.9h-0.9zM431.7 254.4h0.9v0.9h-0.9zM429.8 259.5h0.9v0.9h-0.9zM439.5 254.1h0.9v0.9h-0.9zM432.9 266.7h0.9v0.9h-0.9zM429.4 261.4h0.9v0.9h-0.9zM431.9 255.1h0.9v0.9h-0.9zM446.7 264.3h0.9v0.9h-0.9zM435.7 270.9h0.9v0.9h-0.9zM437.2 259.1h0.9v0.9h-0.9zM444.1 271.8h0.9v0.9h-0.9zM431.0 270.0h0.9v0.9h-0.9zM423.8 282.5h0.9v0.9h-0.9zM429.9 261.3h0.9v0.9h-0.9zM439.5 262.2h0.9v0.9h-0.9zM433.3 260.4h0.9v0.9h-0.9zM438.5 256.9h0.9v0.9h-0.9zM437.0 266.4h0.9v0.9h-0.9zM441.0 275.0h0.9v0.9h-0.9zM462.8 261.3h0.9v0.9h-0.9zM464.1 257.9h0.9v0.9h-0.9zM437.3 259.3h0.9v0.9h-0.9zM450.9 252.7h0.9v0.9h-0.9zM465.2 227.7h0.9v0.9h-0.9zM447.9 263.6h0.9v0.9h-0.9zM435.1 259.8h0.9v0.9h-0.9zM447.7 268.5h0.9v0.9h-0.9zM438.3 251.8h0.9v0.9h-0.9zM436.4 270.4h0.9v0.9h-0.9zM444.0 258.1h0.9v0.9h-0.9zM443.0 258.7h0.9v0.9h-0.9zM445.6 227.2h0.9v0.9h-0.9zM459.9 249.7h0.9v0.9h-0.9zM461.2 245.9h0.9v0.9h-0.9zM459.0 258.5h0.9v0.9h-0.9zM452.1 230.4h0.9v0.9h-0.9zM439.9 254.8h0.9v0.9h-0.9zM441.6 253.0h0.9v0.9h-0.9zM428.7 241.5h0.9v0.9h-0.9zM433.5 233.6h0.9v0.9h-0.9zM416.8 228.0h0.9v0.9h-0.9zM454.0 236.4h0.9v0.9h-0.9zM503.1 283.8h0.9v0.9h-0.9zM467.7 250.2h0.9v0.9h-0.9zM483.4 275.6h0.9v0.9h-0.9zM438.9 276.6h0.9v0.9h-0.9z" fill="#000" fill-opacity="0.45"/>
<path d="M459.8 236.1h0.9v0.9h-0.9zM454.5 241.6h0.9v0.9h-0.9zM448.0 243.2h0.9v0.9h-0.9zM449.5 243.1h0.9v0.9h-0.9zM448.7 239.1h0.9v0.9h-0.9zM455.1 240.9h0.9v0.9h-0.9zM449.1 248.3h0.9v0.9h-0.9zM455.6 245.9h0.9v0.9h-0.9zM453.2 239.0h0.9v0.9h-0.9zM448.5 246.1h0.9v0.9h-0.9zM447.3 247.4h0.9v0.9h-0.9zM452.2 238.4h0.9v0.9h-0.9zM450.4 246.7h0.9v0.9h-0.9zM459.6 243.3h0.9v0.9h-0.9zM440.0 250.1h0.9v0.9h-0.9zM451.7 246.0h0.9v0.9h-0.9zM448.6 242.2h0.9v0.9h-0.9zM450.0 241.2h0.9v0.9h-0.9zM450.2 245.7h0.9v0.9h-0.9zM449.1 243.7h0.9v0.9h-0.9zM454.6 240.5h0.9v0.9h-0.9zM446.9 243.4h0.9v0.9h-0.9zM455.6 243.6h0.9v0.9h-0.9zM460.4 244.8h0.9v0.9h-0.9zM450.0 238.0h0.9v0.9h-0.9zM448.0 237.8h0.9v0.9h-0.9zM446.1 245.5h0.9v0.9h-0.9zM448.0 238.1h0.9v0.9h-0.9zM455.7 236.9h0.9v0.9h-0.9zM446.8 238.0h0.9v0.9h-0.9zM443.7 241.8h0.9v0.9h-0.9zM448.3 238.2h0.9v0.9h-0.9zM455.4 240.3h0.9v0.9h-0.9zM460.8 237.9h0.9v0.9h-0.9zM452.7 241.6h0.9v0.9h-0.9zM451.9 241.6h0.9v0.9h-0.9zM463.3 239.7h0.9v0.9h-0.9zM443.7 246.1h0.9v0.9h-0.9zM454.8 241.8h0.9v0.9h-0.9zM447.5 240.1h0.9v0.9h-0.9zM454.3 237.5h0.9v0.9h-0.9zM449.2 246.5h0.9v0.9h-0.9zM458.3 240.6h0.9v0.9h-0.9zM456.5 242.8h0.9v0.9h-0.9zM451.7 246.7h0.9v0.9h-0.9zM456.9 240.9h0.9v0.9h-0.9zM448.5 241.3h0.9v0.9h-0.9zM452.5 240.6h0.9v0.9h-0.9zM440.0 250.6h0.9v0.9h-0.9zM451.4 240.7h0.9v0.9h-0.9zM454.5 240.0h0.9v0.9h-0.9zM448.0 247.5h0.9v0.9h-0.9zM444.7 233.7h0.9v0.9h-0.9zM450.1 233.9h0.9v0.9h-0.9zM452.7 240.6h0.9v0.9h-0.9zM450.0 241.5h0.9v0.9h-0.9zM447.9 244.1h0.9v0.9h-0.9zM455.3 241.8h0.9v0.9h-0.9zM449.8 240.0h0.9v0.9h-0.9zM444.5 245.7h0.9v0.9h-0.9zM452.2 235.7h0.9v0.9h-0.9zM454.7 242.0h0.9v0.9h-0.9zM451.3 247.5h0.9v0.9h-0.9zM449.8 240.6h0.9v0.9h-0.9zM455.2 246.1h0.9v0.9h-0.9zM447.4 243.7h0.9v0.9h-0.9zM449.1 241.6h0.9v0.9h-0.9zM452.5 237.5h0.9v0.9h-0.9zM453.2 245.2h0.9v0.9h-0.9zM451.6 244.6h0.9v0.9h-0.9zM451.6 241.7h0.9v0.9h-0.9zM447.2 240.3h0.9v0.9h-0.9zM443.3 239.2h0.9v0.9h-0.9zM446.3 241.8h0.9v0.9h-0.9zM451.8 248.6h0.9v0.9h-0.9zM447.4 244.3h0.9v0.9h-0.9zM447.3 241.8h0.9v0.9h-0.9zM452.9 242.2h0.9v0.9h-0.9zM451.3 239.9h0.9v0.9h-0.9zM446.5 241.8h0.9v0.9h-0.9zM455.5 242.2h0.9v0.9h-0.9zM452.6 241.9h0.9v0.9h-0.9zM447.6 248.3h0.9v0.9h-0.9zM449.2 244.8h0.9v0.9h-0.9zM446.6 245.9h0.9v0.9h-0.9zM448.5 245.4h0.9v0.9h-0.9zM448.7 244.6h0.9v0.9h-0.9zM449.0 242.9h0.9v0.9h-0.9zM451.0 241.9h0.9v0.9h-0.9zM447.9 242.7h0.9v0.9h-0.9zM419.8 247.3h0.9v0.9h-0.9zM432.2 244.5h0.9v0.9h-0.9zM435.9 233.7h0.9v0.9h-0.9zM438.9 246.9h0.9v0.9h-0.9zM425.7 245.3h0.9v0.9h-0.9zM433.8 240.5h0.9v0.9h-0.9zM427.6 247.4h0.9v0.9h-0.9zM441.8 247.7h0.9v0.9h-0.9zM443.4 246.7h0.9v0.9h-0.9zM441.9 243.9h0.9v0.9h-0.9zM446.4 244.5h0.9v0.9h-0.9zM438.7 245.1h0.9v0.9h-0.9zM437.9 245.9h0.9v0.9h-0.9zM437.6 254.8h0.9v0.9h-0.9zM445.2 249.9h0.9v0.9h-0.9zM450.0 243.6h0.9v0.9h-0.9zM430.9 248.3h0.9v0.9h-0.9zM429.9 242.9h0.9v0.9h-0.9zM444.3 253.0h0.9v0.9h-0.9zM446.2 243.6h0.9v0.9h-0.9zM444.7 240.0h0.9v0.9h-0.9zM429.4 244.3h0.9v0.9h-0.9zM422.9 242.9h0.9v0.9h-0.9zM433.6 240.8h0.9v0.9h-0.9zM432.9 242.5h0.9v0.9h-0.9zM430.1 242.9h0.9v0.9h-0.9zM424.5 242.5h0.9v0.9h-0.9zM426.4 237.1h0.9v0.9h-0.9zM444.4 243.8h0.9v0.9h-0.9zM430.9 247.6h0.9v0.9h-0.9zM436.3 251.0h0.9v0.9h-0.9zM437.9 239.6h0.9v0.9h-0.9zM428.7 242.2h0.9v0.9h-0.9zM439.3 241.3h0.9v0.9h-0.9zM422.0 245.4h0.9v0.9h-0.9zM435.5 249.9h0.9v0.9h-0.9zM435.9 236.8h0.9v0.9h-0.9zM431.6 242.1h0.9v0.9h-0.9zM434.6 248.9h0.9v0.9h-0.9zM431.3 244.4h0.9v0.9h-0.9zM428.2 241.6h0.9v0.9h-0.9zM448.0 253.2h0.9v0.9h-0.9zM457.9 274.6h0.9v0.9h-0.9zM444.3 256.0h0.9v0.9h-0.9zM451.6 264.1h0.9v0.9h-0.9zM454.8 265.4h0.9v0.9h-0.9zM454.2 272.3h0.9v0.9h-0.9zM460.1 255.1h0.9v0.9h-0.9zM443.1 251.5h0.9v0.9h-0.9zM450.7 260.5h0.9v0.9h-0.9zM447.4 275.1h0.9v0.9h-0.9zM449.4 271.0h0.9v0.9h-0.9zM447.7 264.6h0.9v0.9h-0.9zM454.0 260.3h0.9v0.9h-0.9zM451.1 270.9h0.9v0.9h-0.9zM450.0 281.3h0.9v0.9h-0.9zM450.0 258.7h0.9v0.9h-0.9zM444.3 278.5h0.9v0.9h-0.9zM440.0 258.6h0.9v0.9h-0.9zM458.8 261.9h0.9v0.9h-0.9zM460.1 254.0h0.9v0.9h-0.9zM449.1 277.6h0.9v0.9h-0.9zM456.8 265.5h0.9v0.9h-0.9zM452.3 253.3h0.9v0.9h-0.9zM448.3 258.7h0.9v0.9h-0.9zM450.9 268.3h0.9v0.9h-0.9zM444.7 263.5h0.9v0.9h-0.9zM441.4 254.0h0.9v0.9h-0.9zM452.8 263.3h0.9v0.9h-0.9zM448.1 267.4h0.9v0.9h-0.9zM448.6 265.3h0.9v0.9h-0.9zM444.8 256.0h0.9v0.9h-0.9zM456.7 255.8h0.9v0.9h-0.9zM446.8 239.9h0.9v0.9h-0.9zM449.3 269.0h0.9v0.9h-0.9zM460.8 254.5h0.9v0.9h-0.9zM454.0 270.5h0.9v0.9h-0.9zM443.0 260.1h0.9v0.9h-0.9zM447.3 241.5h0.9v0.9h-0.9zM457.5 250.7h0.9v0.9h-0.9zM463.6 286.7h0.9v0.9h-0.9zM457.3 265.2h0.9v0.9h-0.9zM459.5 252.0h0.9v0.9h-0.9zM456.9 255.8h0.9v0.9h-0.9zM459.1 259.4h0.9v0.9h-0.9zM454.1 263.8h0.9v0.9h-0.9zM452.9 249.4h0.9v0.9h-0.9zM452.4 244.6h0.9v0.9h-0.9zM461.2 253.6h0.9v0.9h-0.9zM449.8 250.8h0.9v0.9h-0.9zM450.7 250.4h0.9v0.9h-0.9zM447.9 265.6h0.9v0.9h-0.9zM460.9 271.4h0.9v0.9h-0.9zM460.3 261.9h0.9v0.9h-0.9zM452.7 274.6h0.9v0.9h-0.9zM454.2 262.3h0.9v0.9h-0.9zM456.1 257.8h0.9v0.9h-0.9zM468.1 271.4h0.9v0.9h-0.9zM457.8 248.5h0.9v0.9h-0.9zM459.4 259.5h0.9v0.9h-0.9zM453.3 283.1h0.9v0.9h-0.9zM457.9 265.4h0.9v0.9h-0.9zM456.6 261.7h0.9v0.9h-0.9zM439.7 268.0h0.9v0.9h-0.9zM447.7 277.7h0.9v0.9h-0.9zM447.6 266.7h0.9v0.9h-0.9zM441.0 263.2h0.9v0.9h-0.9zM437.9 279.2h0.9v0.9h-0.9zM436.1 257.4h0.9v0.9h-0.9zM439.0 272.2h0.9v0.9h-0.9zM448.9 273.8h0.9v0.9h-0.9zM435.5 260.4h0.9v0.9h-0.9zM430.2 248.4h0.9v0.9h-0.9zM443.6 282.2h0.9v0.9h-0.9zM437.0 264.1h0.9v0.9h-0.9zM445.3 250.9h0.9v0.9h-0.9zM445.2 269.8h0.9v0.9h-0.9zM438.5 271.4h0.9v0.9h-0.9zM442.7 266.7h0.9v0.9h-0.9zM447.7 255.3h0.9v0.9h-0.9zM430.6 271.2h0.9v0.9h-0.9zM432.8 286.5h0.9v0.9h-0.9zM434.3 262.2h0.9v0.9h-0.9zM439.8 254.2h0.9v0.9h-0.9zM434.2 252.0h0.9v0.9h-0.9zM425.1 251.6h0.9v0.9h-0.9zM428.6 272.6h0.9v0.9h-0.9zM424.1 275.6h0.9v0.9h-0.9zM423.7 282.6h0.9v0.9h-0.9zM432.9 272.0h0.9v0.9h-0.9zM423.9 277.2h0.9v0.9h-0.9zM450.5 269.2h0.9v0.9h-0.9zM440.3 274.1h0.9v0.9h-0.9zM429.3 276.7h0.9v0.9h-0.9zM435.2 265.3h0.9v0.9h-0.9zM433.3 265.9h0.9v0.9h-0.9zM434.3 269.6h0.9v0.9h-0.9zM433.5 259.9h0.9v0.9h-0.9zM435.0 249.8h0.9v0.9h-0.9zM422.0 267.5h0.9v0.9h-0.9zM444.5 269.3h0.9v0.9h-0.9zM433.7 258.9h0.9v0.9h-0.9zM444.9 265.4h0.9v0.9h-0.9zM434.5 253.5h0.9v0.9h-0.9zM443.2 262.1h0.9v0.9h-0.9zM443.8 282.6h0.9v0.9h-0.9zM433.6 278.5h0.9v0.9h-0.9zM441.6 281.5h0.9v0.9h-0.9zM435.3 277.3h0.9v0.9h-0.9zM438.3 252.9h0.9v0.9h-0.9zM434.1 260.7h0.9v0.9h-0.9zM433.3 266.6h0.9v0.9h-0.9zM445.3 276.7h0.9v0.9h-0.9zM439.2 253.9h0.9v0.9h-0.9zM447.1 266.3h0.9v0.9h-0.9zM435.7 260.1h0.9v0.9h-0.9zM443.1 257.7h0.9v0.9h-0.9zM447.1 266.4h0.9v0.9h-0.9zM430.3 274.0h0.9v0.9h-0.9zM433.9 258.3h0.9v0.9h-0.9zM428.3 275.9h0.9v0.9h-0.9zM435.3 264.1h0.9v0.9h-0.9zM439.8 268.1h0.9v0.9h-0.9zM451.6 279.0h0.9v0.9h-0.9zM466.5 255.2h0.9v0.9h-0.9zM471.0 264.2h0.9v0.9h-0.9zM449.2 276.7h0.9v0.9h-0.9zM438.6 255.0h0.9v0.9h-0.9zM455.7 266.1h0.9v0.9h-0.9zM421.0 246.2h0.9v0.9h-0.9zM473.7 277.1h0.9v0.9h-0.9zM456.2 274.4h0.9v0.9h-0.9zM445.3 257.6h0.9v0.9h-0.9zM455.2 244.2h0.9v0.9h-0.9zM438.1 250.5h0.9v0.9h-0.9zM440.6 252.8h0.9v0.9h-0.9zM438.7 269.0h0.9v0.9h-0.9zM452.3 288.4h0.9v0.9h-0.9zM461.2 249.2h0.9v0.9h-0.9zM455.5 279.8h0.9v0.9h-0.9zM433.3 268.6h0.9v0.9h-0.9zM432.9 225.9h0.9v0.9h-0.9zM468.9 251.6h0.9v0.9h-0.9zM418.3 248.1h0.9v0.9h-0.9zM442.4 286.5h0.9v0.9h-0.9zM476.4 277.5h0.9v0.9h-0.9zM488.7 259.3h0.9v0.9h-0.9zM447.5 257.5h0.9v0.9h-0.9zM420.6 245.4h0.9v0.9h-0.9zM469.3 253.3h0.9v0.9h-0.9z" fill="#000" fill-opacity="0.45"/>
<path d="M442.7 244.5h0.9v0.9h-0.9zM445.1 243.3h0.9v0.9h-0.9zM454.3 244.6h0.9v0.9h-0.9zM449.3 241.4h0.9v0.9h-0.9zM443.1 239.3h0.9v0.9h-0.9zM460.2 247.1h0.9v0.9h-0.9zM453.8 241.8h0.9v0.9h-0.9zM451.7 244.3h0.9v0.9h-0.9zM458.0 233.9h0.9v0.9h-0.9zM446.5 243.6h0.9v0.9h-0.9zM457.3 244.4h0.9v0.9h-0.9zM460.1 234.0h0.9v0.9h-0.9zM457.3 240.0h0.9v0.9h-0.9zM452.5 237.6h0.9v0.9h-0.9zM449.2 241.4h0.9v0.9h-0.9zM458.7 244.9h0.9v0.9h-0.9zM442.9 249.5h0.9v0.9h-0.9zM450.7 236.1h0.9v0.9h-0.9zM446.0 244.6h0.9v0.9h-0.9zM458.8 248.2h0.9v0.9h-0.9zM460.3 250.4h0.9v0.9h-0.9zM451.8 240.8h0.9v0.9h-0.9zM452.2 240.5h0.9v0.9h-0.9zM443.9 240.4h0.9v0.9h-0.9zM453.8 242.7h0.9v0.9h-0.9zM451.6 240.8h0.9v0.9h-0.9zM450.7 244.7h0.9v0.9h-0.9zM443.9 237.2h0.9v0.9h-0.9zM456.0 246.5h0.9v0.9h-0.9zM453.3 246.1h0.9v0.9h-0.9zM458.4 243.3h0.9v0.9h-0.9zM452.2 249.1h0.9v0.9h-0.9zM449.6 249.2h0.9v0.9h-0.9zM449.6 242.0h0.9v0.9h-0.9zM448.6 242.8h0.9v0.9h-0.9zM451.6 245.0h0.9v0.9h-0.9zM448.7 244.1h0.9v0.9h-0.9zM447.0 246.5h0.9v0.9h-0.9zM458.5 236.3h0.9v0.9h-0.9zM450.8 244.8h0.9v0.9h-0.9zM450.1 241.9h0.9v0.9h-0.9zM453.7 242.5h0.9v0.9h-0.9zM457.9 243.0h0.9v0.9h-0.9zM448.7 248.2h0.9v0.9h-0.9zM454.1 231.9h0.9v0.9h-0.9zM446.1 247.6h0.9v0.9h-0.9zM450.0 238.0h0.9v0.9h-0.9zM452.6 245.4h0.9v0.9h-0.9zM453.6 232.4h0.9v0.9h-0.9zM451.8 245.4h0.9v0.9h-0.9zM449.4 250.1h0.9v0.9h-0.9zM457.2 238.0h0.9v0.9h-0.9zM449.1 239.1h0.9v0.9h-0.9zM456.8 242.4h0.9v0.9h-0.9zM457.1 245.1h0.9v0.9h-0.9zM445.7 247.1h0.9v0.9h-0.9zM449.9 238.4h0.9v0.9h-0.9zM448.6 237.0h0.9v0.9h-0.9zM459.1 238.6h0.9v0.9h-0.9zM453.0 243.9h0.9v0.9h-0.9zM450.3 237.2h0.9v0.9h-0.9zM450.1 243.8h0.9v0.9h-0.9zM450.0 234.8h0.9v0.9h-0.9zM454.8 234.4h0.9v0.9h-0.9zM458.4 240.6h0.9v0.9h-0.9zM449.2 243.0h0.9v0.9h-0.9zM447.6 251.1h0.9v0.9h-0.9zM453.2 243.8h0.9v0.9h-0.9zM450.3 232.8h0.9v0.9h-0.9zM450.1 242.5h0.9v0.9h-0.9zM452.0 241.2h0.9v0.9h-0.9zM449.2 245.6h0.9v0.9h-0.9zM448.4 241.6h0.9v0.9h-0.9zM456.2 240.3h0.9v0.9h-0.9zM447.8 242.5h0.9v0.9h-0.9zM448.3 245.5h0.9v0.9h-0.9zM453.6 242.2h0.9v0.9h-0.9zM449.7 242.4h0.9v0.9h-0.9zM448.5 238.7h0.9v0.9h-0.9zM444.2 238.3h0.9v0.9h-0.9zM451.1 242.9h0.9v0.9h-0.9zM447.8 244.1h0.9v0.9h-0.9zM453.1 240.8h0.9v0.9h-0.9zM448.4 245.2h0.9v0.9h-0.9zM450.8 246.0h0.9v0.9h-0.9zM457.7 240.2h0.9v0.9h-0.9zM454.8 243.7h0.9v0.9h-0.9zM452.9 240.8h0.9v0.9h-0.9zM446.1 239.7h0.9v0.9h-0.9zM447.0 244.5h0.9v0.9h-0.9zM431.2 250.3h0.9v0.9h-0.9zM423.3 252.1h0.9v0.9h-0.9zM434.6 246.7h0.9v0.9h-0.9zM429.5 246.0h0.9v0.9h-0.9zM425.1 246.1h0.9v0.9h-0.9zM433.4 240.4h0.9v0.9h-0.9zM421.7 238.1h0.9v0.9h-0.9zM445.3 236.7h0.9v0.9h-0.9zM437.1 250.0h0.9v0.9h-0.9zM442.8 247.0h0.9v0.9h-0.9zM430.0 241.1h0.9v0.9h-0.9zM432.0 244.7h0.9v0.9h-0.9zM433.4 238.6h0.9v0.9h-0.9zM427.7 248.5h0.9v0.9h-0.9zM423.1 237.4h0.9v0.9h-0.9zM436.9 245.7h0.9v0.9h-0.9zM442.6 246.6h0.9v0.9h-0.9zM443.1 254.4h0.9v0.9h-0.9zM423.2 249.5h0.9v0.9h-0.9zM429.9 245.3h0.9v0.9h-0.9zM437.2 250.1h0.9v0.9h-0.9zM438.7 238.9h0.9v0.9h-0.9zM438.2 245.5h0.9v0.9h-0.9zM442.9 245.8h0.9v0.9h-0.9zM425.4 251.5h0.9v0.9h-0.9zM439.5 252.2h0.9v0.9h-0.9zM443.6 244.1h0.9v0.9h-0.9zM437.2 251.1h0.9v0.9h-0.9zM441.7 242.8h0.9v0.9h-0.9zM436.0 242.2h0.9v0.9h-0.9zM432.0 241.4h0.9v0.9h-0.9zM423.4 249.1h0.9v0.9h-0.9zM423.2 238.1h0.9v0.9h-0.9zM429.1 241.7h0.9v0.9h-0.9zM428.0 241.5h0.9v0.9h-0.9zM432.7 237.6h0.9v0.9h-0.9zM441.2 242.7h0.9v0.9h-0.9zM422.2 249.3h0.9v0.9h-0.9zM417.8 239.4h0.9v0.9h-0.9zM441.6 241.2h0.9v0.9h-0.9zM431.2 249.3h0.9v0.9h-0.9zM460.2 254.6h0.9v0.9h-0.9zM451.6 249.0h0.9v0.9h-0.9zM439.8 276.5h0.9v0.9h-0.9zM456.3 244.7h0.9v0.9h-0.9zM445.0 256.1h0.9v0.9h-0.9zM456.7 273.4h0.9v0.9h-0.9zM454.7 271.6h0.9v0.9h-0.9zM450.5 259.4h0.9v0.9h-0.9zM454.8 248.7h0.9v0.9h-0.9zM451.4 257.0h0.9v0.9h-0.9zM451.7 257.1h0.9v0.9h-0.9zM444.1 258.6h0.9v0.9h-0.9zM447.6 248.8h0.9v0.9h-0.9zM449.8 256.1h0.9v0.9h-0.9zM446.2 252.5h0.9v0.9h-0.9zM455.7 268.8h0.9v0.9h-0.9zM456.2 249.4h0.9v0.9h-0.9zM464.3 249.5h0.9v0.9h-0.9zM444.3 258.6h0.9v0.9h-0.9zM452.3 279.8h0.9v0.9h-0.9zM454.6 262.3h0.9v0.9h-0.9zM452.2 248.5h0.9v0.9h-0.9zM446.4 265.9h0.9v0.9h-0.9zM445.5 254.1h0.9v0.9h-0.9zM455.5 258.1h0.9v0.9h-0.9zM466.6 263.1h0.9v0.9h-0.9zM448.8 271.1h0.9v0.9h-0.9zM455.8 264.5h0.9v0.9h-0.9zM461.3 255.0h0.9v0.9h-0.9zM455.6 273.8h0.9v0.9h-0.9zM448.0 253.0h0.9v0.9h-0.9zM454.6 256.0h0.9v0.9h-0.9zM450.2 264.8h0.9v0.9h-0.9zM448.2 254.7h0.9v0.9h-0.9zM455.5 266.0h0.9v0.9h-0.9zM451.2 271.0h0.9v0.9h-0.9zM456.5 264.5h0.9v0.9h-0.9zM450.6 249.7h0.9v0.9h-0.9zM460.8 268.9h0.9v0.9h-0.9zM443.7 272.8h0.9v0.9h-0.9zM446.5 262.3h0.9v0.9h-0.9zM454.7 266.1h0.9v0.9h-0.9zM452.3 251.3h0.9v0.9h-0.9zM454.1 259.4h0.9v0.9h-0.9zM454.4 272.6h0.9v0.9h-0.9zM447.4 258.6h0.9v0.9h-0.9zM457.6 265.2h0.9v0.9h-0.9zM462.9 255.2h0.9v0.9h-0.9zM439.3 247.9h0.9v0.9h-0.9zM453.4 259.5h0.9v0.9h-0.9zM438.7 260.3h0.9v0.9h-0.9zM460.3 250.4h0.9v0.9h-0.9zM459.3 274.6h0.9v0.9h-0.9zM453.1 239.0h0.9v0.9h-0.9zM460.3 256.7h0.9v0.9h-0.9zM463.4 262.6h0.9v0.9h-0.9zM451.1 265.3h0.9v0.9h-0.9zM442.2 267.6h0.9v0.9h-0.9zM457.8 268.0h0.9v0.9h-0.9zM459.0 253.0h0.9v0.9h-0.9zM450.5 272.0h0.9v0.9h-0.9zM460.4 265.3h0.9v0.9h-0.9zM453.4 267.6h0.9v0.9h-0.9zM443.3 272.9h0.9v0.9h-0.9zM451.4 270.3h0.9v0.9h-0.9zM430.2 259.0h0.9v0.9h-0.9zM440.2 266.9h0.9v0.9h-0.9zM445.7 263.4h0.9v0.9h-0.9zM434.4 273.6h0.9v0.9h-0.9zM429.4 262.6h0.9v0.9h-0.9zM433.4 258.1h0.9v0.9h-0.9zM434.1 262.8h0.9v0.9h-0.9zM438.7 266.7h0.9v0.9h-0.9zM444.0 286.6h0.9v0.9h-0.9zM437.9 265.0h0.9v0.9h-0.9zM426.3 257.4h0.9v0.9h-0.9zM438.1 278.6h0.9v0.9h-0.9zM441.7 257.9h0.9v0.9h-0.9zM441.4 273.8h0.9v0.9h-0.9zM429.8 268.1h0.9v0.9h-0.9zM432.8 253.9h0.9v0.9h-0.9zM437.2 254.7h0.9v0.9h-0.9zM432.2 261.5h0.9v0.9h-0.9zM428.4 264.4h0.9v0.9h-0.9zM425.4 273.4h0.9v0.9h-0.9zM436.7 268.6h0.9v0.9h-0.9zM442.1 266.4h0.9v0.9h-0.9zM447.0 266.6h0.9v0.9h-0.9zM434.3 281.3h0.9v0.9h-0.9zM447.0 260.7h0.9v0.9h-0.9zM449.3 267.1h0.9v0.9h-0.9zM442.0 263.0h0.9v0.9h-0.9zM439.7 267.7h0.9v0.9h-0.9zM441.1 259.2h0.9v0.9h-0.9zM432.6 264.8h0.9v0.9h-0.9zM438.2 268.6h0.9v0.9h-0.9zM429.2 260.8h0.9v0.9h-0.9zM439.3 266.8h0.9v0.9h-0.9zM434.2 254.1h0.9v0.9h-0.9zM430.2 274.5h0.9v0.9h-0.9zM439.0 264.0h0.9v0.9h-0.9zM455.0 270.7h0.9v0.9h-0.9zM442.0 269.1h0.9v0.9h-0.9zM430.3 261.7h0.9v0.9h-0.9zM430.8 273.4h0.9v0.9h-0.9zM439.9 272.0h0.9v0.9h-0.9zM437.2 257.7h0.9v0.9h-0.9zM434.5 266.8h0.9v0.9h-0.9zM452.6 248.3h0.9v0.9h-0.9zM428.2 267.8h0.9v0.9h-0.9zM436.5 263.2h0.9v0.9h-0.9zM430.5 267.6h0.9v0.9h-0.9zM437.9 261.9h0.9v0.9h-0.9zM430.0 270.5h0.9v0.9h-0.9zM440.7 270.6h0.9v0.9h-0.9zM439.2 255.0h0.9v0.9h-0.9zM429.4 266.2h0.9v0.9h-0.9zM447.4 269.9h0.9v0.9h-0.9zM439.2 268.8h0.9v0.9h-0.9zM422.9 280.3h0.9v0.9h-0.9zM445.3 259.7h0.9v0.9h-0.9zM424.9 261.1h0.9v0.9h-0.9zM442.9 267.0h0.9v0.9h-0.9zM484.1 240.0h0.9v0.9h-0.9zM445.6 259.8h0.9v0.9h-0.9zM476.2 259.2h0.9v0.9h-0.9zM465.0 280.8h0.9v0.9h-0.9zM443.3 275.6h0.9v0.9h-0.9zM446.5 237.0h0.9v0.9h-0.9zM469.5 254.1h0.9v0.9h-0.9zM477.9 243.0h0.9v0.9h-0.9zM467.1 248.6h0.9v0.9h-0.9zM456.6 247.3h0.9v0.9h-0.9zM447.3 242.4h0.9v0.9h-0.9zM433.6 240.7h0.9v0.9h-0.9zM464.9 242.7h0.9v0.9h-0.9zM467.2 258.4h0.9v0.9h-0.9zM440.9 250.5h0.9v0.9h-0.9zM469.3 259.6h0.9v0.9h-0.9zM458.0 286.1h0.9v0.9h-0.9zM451.3 242.9h0.9v0.9h-0.9zM459.6 277.9h0.9v0.9h-0.9zM499.8 254.6h0.9v0.9h-0.9zM467.8 236.6h0.9v0.9h-0.9zM465.5 253.1h0.9v0.9h-0.9zM491.6 239.2h0.9v0.9h-0.9zM492.7 262.0h0.9v0.9h-0.9zM472.9 257.3h0.9v0.9h-0.9zM441.6 280.5h0.9v0.9h-0.9z" fill="#000" fill-opacity="0.45"/>
<path d="M442.9 230.7h0.9v0.9h-0.9zM441.4 246.4h0.9v0.9h-0.9zM443.4 236.2h0.9v0.9h-0.9zM456.2 245.1h0.9v0.9h-0.9zM446.3 242.1h0.9v0.9h-0.9zM448.0 252.7h0.9v0.9h-0.9zM445.3 241.6h0.9v0.9h-0.9zM440.5 243.6h0.9v0.9h-0.9zM448.8 239.1h0.9v0.9h-0.9zM446.7 245.8h0.9v0.9h-0.9zM448.0 239.0h0.9v0.9h-0.9zM452.4 244.4h0.9v0.9h-0.9zM439.0 247.1h0.9v0.9h-0.9zM452.8 242.1h0.9v0.9h-0.9zM444.6 244.5h0.9v0.9h-0.9zM452.1 250.1h0.9v0.9h-0.9zM455.7 236.9h0.9v0.9h-0.9zM450.8 244.0h0.9v0.9h-0.9zM448.2 240.6h0.9v0.9h-0.9zM445.6 243.3h0.9v0.9h-0.9zM448.2 250.2h0.9v0.9h-0.9zM443.7 243.3h0.9v0.9h-0.9zM446.8 247.2h0.9v0.9h-0.9zM447.4 239.1h0.9v0.9h-0.9zM447.3 244.0h0.9v0.9h-0.9zM454.6 246.4h0.9v0.9h-0.9zM451.6 240.5h0.9v0.9h-0.9zM454.9 239.1h0.9v0.9h-0.9zM439.3 250.6h0.9v0.9h-0.9zM455.1 240.2h0.9v0.9h-0.9zM443.8 240.5h0.9v0.9h-0.9zM444.5 243.3h0.9v0.9h-0.9zM453.7 247.5h0.9v0.9h-0.9zM447.1 248.4h0.9v0.9h-0.9zM456.6 237.7h0.9v0.9h-0.9zM443.3 242.5h0.9v0.9h-0.9zM446.5 243.0h0.9v0.9h-0.9zM451.0 242.6h0.9v0.9h-0.9zM442.4 244.8h0.9v0.9h-0.9zM447.0 240.3h0.9v0.9h-0.9zM448.8 242.0h0.9v0.9h-0.9zM460.5 248.7h0.9v0.9h-0.9zM453.2 244.0h0.9v0.9h-0.9zM450.7 247.1h0.9v0.9h-0.9zM452.3 241.2h0.9v0.9h-0.9zM443.9 241.0h0.9v0.9h-0.9zM447.1 240.3h0.9v0.9h-0.9zM448.8 238.1h0.9v0.9h-0.9zM458.5 243.9h0.9v0.9h-0.9zM446.3 241.6h0.9v0.9h-0.9zM455.4 235.9h0.9v0.9h-0.9zM449.1 242.7h0.9v0.9h-0.9zM454.5 240.8h0.9v0.9h-0.9zM456.3 239.0h0.9v0.9h-0.9zM444.9 240.2h0.9v0.9h-0.9zM448.1 253.3h0.9v0.9h-0.9zM442.8 238.4h0.9v0.9h-0.9zM456.8 242.3h0.9v0.9h-0.9zM448.3 242.8h0.9v0.9h-0.9zM457.5 246.6h0.9v0.9h-0.9zM458.4 240.4h0.9v0.9h-0.9zM455.1 243.1h0.9v0.9h-0.9zM449.8 243.0h0.9v0.9h-0.9zM447.7 243.1h0.9v0.9h-0.9zM444.5 239.8h0.9v0.9h-0.9zM446.4 244.5h0.9v0.9h-0.9zM446.4 244.8h0.9v0.9h-0.9zM449.8 240.1h0.9v0.9h-0.9zM454.2 244.6h0.9v0.9h-0.9zM447.4 246.7h0.9v0.9h-0.9zM448.6 244.1h0.9v0.9h-0.9zM448.8 244.7h0.9v0.9h-0.9zM449.3 243.7h0.9v0.9h-0.9zM453.7 242.1h0.9v0.9h-0.9zM449.0 243.1h0.9v0.9h-0.9zM450.2 237.5h0.9v0.9h-0.9zM451.5 241.3h0.9v0.9h-0.9zM447.3 241.6h0.9v0.9h-0.9zM447.3 238.5h0.9v0.9h-0.9zM452.6 243.8h0.9v0.9h-0.9zM448.5 240.8h0.9v0.9h-0.9zM453.9 240.4h0.9v0.9h-0.9zM446.4 240.3h0.9v0.9h-0.9zM448.0 241.1h0.9v0.9h-0.9zM446.4 246.7h0.9v0.9h-0.9zM446.5 243.9h0.9v0.9h-0.9zM444.3 242.0h0.9v0.9h-0.9zM452.7 239.8h0.9v0.9h-0.9zM454.9 243.9h0.9v0.9h-0.9zM449.6 244.7h0.9v0.9h-0.9zM438.5 243.7h0.9v0.9h-0.9zM431.0 233.3h0.9v0.9h-0.9zM439.9 236.3h0.9v0.9h-0.9zM427.4 235.9h0.9v0.9h-0.9zM442.3 246.9h0.9v0.9h-0.9zM435.5 242.3h0.9v0.9h-0.9zM426.4 244.9h0.9v0.9h-0.9zM443.5 236.8h0.9v0.9h-0.9zM433.1 239.4h0.9v0.9h-0.9zM439.0 249.3h0.9v0.9h-0.9zM433.6 235.9h0.9v0.9h-0.9zM442.2 244.3h0.9v0.9h-0.9zM431.8 243.5h0.9v0.9h-0.9zM433.9 236.1h0.9v0.9h-0.9zM433.2 249.9h0.9v0.9h-0.9zM440.8 242.0h0.9v0.9h-0.9zM442.9 252.1h0.9v0.9h-0.9zM436.1 240.4h0.9v0.9h-0.9zM451.3 244.6h0.9v0.9h-0.9zM438.5 242.8h0.9v0.9h-0.9zM429.5 246.0h0.9v0.9h-0.9zM428.9 247.9h0.9v0.9h-0.9zM439.6 258.8h0.9v0.9h-0.9zM437.5 242.8h0.9v0.9h-0.9zM443.2 243.8h0.9v0.9h-0.9zM418.6 243.4h0.9v0.9h-0.9zM420.8 244.1h0.9v0.9h-0.9zM440.8 256.2h0.9v0.9h-0.9zM440.3 250.7h0.9v0.9h-0.9zM429.4 246.4h0.9v0.9h-0.9zM444.2 243.9h0.9v0.9h-0.9zM447.7 242.5h0.9v0.9h-0.9zM440.6 241.3h0.9v0.9h-0.9zM443.2 233.7h0.9v0.9h-0.9zM422.9 253.2h0.9v0.9h-0.9zM422.9 248.2h0.9v0.9h-0.9zM437.9 252.2h0.9v0.9h-0.9zM426.4 234.8h0.9v0.9h-0.9zM416.3 241.8h0.9v0.9h-0.9zM430.3 250.2h0.9v0.9h-0.9zM443.6 254.6h0.9v0.9h-0.9zM459.6 252.8h0.9v0.9h-0.9zM452.6 266.5h0.9v0.9h-0.9zM461.7 261.0h0.9v0.9h-0.9zM458.6 273.4h0.9v0.9h-0.9zM452.4 258.6h0.9v0.9h-0.9zM452.6 280.9h0.9v0.9h-0.9zM440.6 275.3h0.9v0.9h-0.9zM448.8 255.4h0.9v0.9h-0.9zM456.7 287.7h0.9v0.9h-0.9zM461.9 259.6h0.9v0.9h-0.9zM451.1 260.0h0.9v0.9h-0.9zM451.5 262.4h0.9v0.9h-0.9zM460.1 253.5h0.9v0.9h-0.9zM442.5 265.6h0.9v0.9h-0.9zM433.6 241.8h0.9v0.9h-0.9zM450.0 266.3h0.9v0.9h-0.9zM444.4 265.0h0.9v0.9h-0.9zM452.0 260.8h0.9v0.9h-0.9zM456.9 270.8h0.9v0.9h-0.9zM447.1 262.0h0.9v0.9h-0.9zM453.5 262.6h0.9v0.9h-0.9zM445.8 261.5h0.9v0.9h-0.9zM466.5 262.8h0.9v0.9h-0.9zM454.8 263.3h0.9v0.9h-0.9zM454.0 255.6h0.9v0.9h-0.9zM461.5 271.4h0.9v0.9h-0.9zM445.4 269.8h0.9v0.9h-0.9zM469.3 261.4h0.9v0.9h-0.9zM447.4 270.3h0.9v0.9h-0.9zM450.2 260.8h0.9v0.9h-0.9zM462.4 280.4h0.9v0.9h-0.9zM451.3 265.5h0.9v0.9h-0.9zM445.6 261.2h0.9v0.9h-0.9zM457.5 262.2h0.9v0.9h-0.9zM442.5 271.0h0.9v0.9h-0.9zM459.8 268.1h0.9v0.9h-0.9zM448.8 267.6h0.9v0.9h-0.9zM467.0 272.3h0.9v0.9h-0.9zM453.0 269.3h0.9v0.9h-0.9zM452.3 262.0h0.9v0.9h-0.9zM453.1 252.5h0.9v0.9h-0.9zM448.8 268.5h0.9v0.9h-0.9zM468.1 264.7h0.9v0.9h-0.9zM448.1 252.8h0.9v0.9h-0.9zM443.4 271.7h0.9v0.9h-0.9zM455.2 256.6h0.9v0.9h-0.9zM442.3 253.1h0.9v0.9h-0.9zM450.2 239.3h0.9v0.9h-0.9zM456.4 279.1h0.9v0.9h-0.9zM445.9 260.0h0.9v0.9h-0.9zM446.1 251.0h0.9v0.9h-0.9zM450.8 274.9h0.9v0.9h-0.9zM453.5 258.4h0.9v0.9h-0.9zM451.4 252.2h0.9v0.9h-0.9zM457.4 269.3h0.9v0.9h-0.9zM458.1 260.3h0.9v0.9h-0.9zM450.7 264.1h0.9v0.9h-0.9zM464.4 267.6h0.9v0.9h-0.9zM451.8 261.6h0.9v0.9h-0.9zM458.5 256.3h0.9v0.9h-0.9zM463.0 256.9h0.9v0.9h-0.9zM460.0 267.6h0.9v0.9h-0.9zM454.5 267.5h0.9v0.9h-0.9zM450.7 261.1h0.9v0.9h-0.9zM433.8 260.0h0.9v0.9h-0.9zM435.6 276.6h0.9v0.9h-0.9zM440.4 269.4h0.9v0.9h-0.9zM424.8 275.3h0.9v0.9h-0.9zM442.4 255.4h0.9v0.9h-0.9zM435.1 267.1h0.9v0.9h-0.9zM440.7 269.8h0.9v0.9h-0.9zM445.4 254.5h0.9v0.9h-0.9zM437.3 258.5h0.9v0.9h-0.9zM444.2 268.8h0.9v0.9h-0.9zM424.9 282.0h0.9v0.9h-0.9zM424.3 261.7h0.9v0.9h-0.9zM437.3 277.6h0.9v0.9h-0.9zM449.5 257.7h0.9v0.9h-0.9zM434.2 257.0h0.9v0.9h-0.9zM442.2 260.1h0.9v0.9h-0.9zM433.5 277.2h0.9v0.9h-0.9zM439.7 264.2h0.9v0.9h-0.9zM425.7 261.1h0.9v0.9h-0.9zM431.2 272.0h0.9v0.9h-0.9zM436.4 274.4h0.9v0.9h-0.9zM418.4 257.9h0.9v0.9h-0.9zM426.0 254.9h0.9v0.9h-0.9zM438.5 271.0h0.9v0.9h-0.9zM428.2 275.4h0.9v0.9h-0.9zM441.5 263.3h0.9v0.9h-0.9zM434.5 274.2h0.9v0.9h-0.9zM427.9 270.2h0.9v0.9h-0.9zM440.8 273.9h0.9v0.9h-0.9zM431.1 256.5h0.9v0.9h-0.9zM444.9 273.7h0.9v0.9h-0.9zM446.1 256.8h0.9v0.9h-0.9zM438.3 282.3h0.9v0.9h-0.9zM423.8 265.1h0.9v0.9h-0.9zM425.3 267.9h0.9v0.9h-0.9zM433.1 255.5h0.9v0.9h-0.9zM448.8 268.5h0.9v0.9h-0.9zM428.0 271.8h0.9v0.9h-0.9zM426.1 274.4h0.9v0.9h-0.9zM422.5 269.6h0.9v0.9h-0.9zM441.3 267.1h0.9v0.9h-0.9zM446.0 272.2h0.9v0.9h-0.9zM431.8 271.4h0.9v0.9h-0.9zM428.2 267.3h0.9v0.9h-0.9zM440.4 261.7h0.9v0.9h-0.9zM440.4 269.3h0.9v0.9h-0.9zM435.2 271.7h0.9v0.9h-0.9zM439.0 256.6h0.9v0.9h-0.9zM437.2 260.0h0.9v0.9h-0.9zM424.0 263.3h0.9v0.9h-0.9zM434.6 264.5h0.9v0.9h-0.9zM436.2 264.0h0.9v0.9h-0.9zM428.5 258.5h0.9v0.9h-0.9zM440.2 263.2h0.9v0.9h-0.9zM435.3 280.1h0.9v0.9h-0.9zM446.1 262.1h0.9v0.9h-0.9zM437.5 274.9h0.9v0.9h-0.9zM434.8 265.3h0.9v0.9h-0.9zM451.2 256.3h0.9v0.9h-0.9zM461.0 257.9h0.9v0.9h-0.9zM456.3 241.7h0.9v0.9h-0.9zM439.8 252.5h0.9v0.9h-0.9zM472.5 259.7h0.9v0.9h-0.9zM468.8 262.8h0.9v0.9h-0.9zM446.3 253.4h0.9v0.9h-0.9zM471.8 252.3h0.9v0.9h-0.9zM430.9 246.4h0.9v0.9h-0.9zM448.6 256.4h0.9v0.9h-0.9zM458.4 259.7h0.9v0.9h-0.9zM441.0 269.8h0.9v0.9h-0.9zM455.8 255.8h0.9v0.9h-0.9zM452.3 243.1h0.9v0.9h-0.9zM450.0 262.3h0.9v0.9h-0.9zM448.6 260.8h0.9v0.9h-0.9zM458.6 256.0h0.9v0.9h-0.9zM461.5 250.6h0.9v0.9h-0.9zM433.2 254.0h0.9v0.9h-0.9zM488.2 259.3h0.9v0.9h-0.9zM462.1 254.0h0.9v0.9h-0.9zM468.2 264.9h0.9v0.9h-0.9zM434.9 276.6h0.9v0.9h-0.9zM421.4 264.0h0.9v0.9h-0.9zM430.2 277.8h0.9v0.9h-0.9zM460.1 270.3h0.9v0.9h-0.9zM485.1 245.3h0.9v0.9h-0.9z" fill="#000" fill-opacity="0.45"/>
<path d="M448.9 246.9h0.9v0.9h-0.9zM442.4 242.8h0.9v0.9h-0.9zM444.8 246.8h0.9v0.9h-0.9zM450.9 242.8h0.9v0.9h-0.9zM455.2 241.0h0.9v0.9h-0.9zM448.1 239.0h0.9v0.9h-0.9zM446.4 240.7h0.9v0.9h-0.9zM449.7 242.0h0.9v0.9h-0.9zM448.2 243.1h0.9v0.9h-0.9zM456.3 236.4h0.9v0.9h-0.9zM446.0 248.8h0.9v0.9h-0.9zM452.7 242.0h0.9v0.9h-0.9zM460.1 236.2h0.9v0.9h-0.9zM452.9 242.8h0.9v0.9h-0.9zM448.2 237.5h0.9v0.9h-0.9zM443.0 237.7h0.9v0.9h-0.9zM448.3 243.7h0.9v0.9h-0.9zM452.4 244.1h0.9v0.9h-0.9zM444.9 238.6h0.9v0.9h-0.9zM455.1 239.4h0.9v0.9h-0.9zM457.6 239.0h0.9v0.9h-0.9zM453.6 242.1h0.9v0.9h-0.9zM452.9 240.1h0.9v0.9h-0.9zM446.4 239.9h0.9v0.9h-0.9zM452.1 239.7h0.9v0.9h-0.9zM450.4 245.5h0.9v0.9h-0.9zM441.5 241.1h0.9v0.9h-0.9zM448.9 244.7h0.9v0.9h-0.9zM451.3 248.1h0.9v0.9h-0.9zM448.5 247.9h0.9v0.9h-0.9zM451.0 248.2h0.9v0.9h-0.9zM447.1 246.7h0.9v0.9h-0.9zM457.6 244.4h0.9v0.9h-0.9zM442.6 241.2h0.9v0.9h-0.9zM454.8 243.5h0.9v0.9h-0.9zM438.5 243.3h0.9v0.9h-0.9zM451.6 240.3h0.9v0.9h-0.9zM443.9 245.5h0.9v0.9h-0.9zM450.4 236.3h0.9v0.9h-0.9zM451.8 249.0h0.9v0.9h-0.9zM453.9 240.4h0.9v0.9h-0.9zM453.1 248.0h0.9v0.9h-0.9zM444.3 246.1h0.9v0.9h-0.9zM443.8 234.3h0.9v0.9h-0.9zM455.9 245.3h0.9v0.9h-0.9zM448.7 243.4h0.9v0.9h-0.9zM453.1 245.4h0.9v0.9h-0.9zM448.0 243.6h0.9v0.9h-0.9zM450.3 243.4h0.9v0.9h-0.9zM446.3 245.7h0.9v0.9h-0.9zM447.1 242.9h0.9v0.9h-0.9zM453.4 243.7h0.9v0.9h-0.9zM445.9 245.3h0.9v0.9h-0.9zM457.7 239.7h0.9v0.9h-0.9zM448.9 246.2h0.9v0.9h-0.9zM442.7 239.7h0.9v0.9h-0.9zM450.3 245.3h0.9v0.9h-0.9zM448.4 239.2h0.9v0.9h-0.9zM449.6 242.0h0.9v0.9h-0.9zM448.2 240.5h0.9v0.9h-0.9zM443.6 241.9h0.9v0.9h-0.9zM444.9 244.9h0.9v0.9h-0.9zM454.4 244.6h0.9v0.9h-0.9zM446.5 235.4h0.9v0.9h-0.9zM441.0 243.8h0.9v0.9h-0.9zM452.1 238.9h0.9v0.9h-0.9zM449.2 249.6h0.9v0.9h-0.9zM446.4 239.8h0.9v0.9h-0.9zM438.6 241.5h0.9v0.9h-0.9zM449.7 247.4h0.9v0.9h-0.9zM451.0 239.2h0.9v0.9h-0.9zM452.8 241.6h0.9v0.9h-0.9zM445.9 238.6h0.9v0.9h-0.9zM454.7 241.4h0.9v0.9h-0.9zM447.7 241.8h0.9v0.9h-0.9zM446.8 244.0h0.9v0.9h-0.9zM450.1 245.5h0.9v0.9h-0.9zM450.8 238.6h0.9v0.9h-0.9zM454.9 244.1h0.9v0.9h-0.9zM450.3 241.9h0.9v0.9h-0.9zM446.9 247.1h0.9v0.9h-0.9zM449.4 242.1h0.9v0.9h-0.9zM458.2 245.4h0.9v0.9h-0.9zM445.8 243.2h0.9v0.9h-0.9zM453.8 242.8h0.9v0.9h-0.9zM449.4 241.5h0.9v0.9h-0.9zM452.5 244.0h0.9v0.9h-0.9zM452.4 243.4h0.9v0.9h-0.9zM446.9 246.3h0.9v0.9h-0.9zM454.4 243.2h0.9v0.9h-0.9zM441.0 242.6h0.9v0.9h-0.9zM433.9 246.4h0.9v0.9h-0.9zM434.4 251.8h0.9v0.9h-0.9zM439.4 237.6h0.9v0.9h-0.9zM422.8 249.5h0.9v0.9h-0.9zM440.4 240.5h0.9v0.9h-0.9zM428.9 232.2h0.9v0.9h-0.9zM426.9 244.9h0.9v0.9h-0.9zM441.4 234.8h0.9v0.9h-0.9zM449.0 235.6h0.9v0.9h-0.9zM426.3 244.9h0.9v0.9h-0.9zM448.6 250.0h0.9v0.9h-0.9zM440.0 247.4h0.9v0.9h-0.9zM436.4 245.1h0.9v0.9h-0.9zM421.7 244.7h0.9v0.9h-0.9zM433.5 249.9h0.9v0.9h-0.9zM437.7 247.1h0.9v0.9h-0.9zM436.6 241.0h0.9v0.9h-0.9zM434.8 254.2h0.9v0.9h-0.9zM428.6 247.3h0.9v0.9h-0.9zM443.2 249.7h0.9v0.9h-0.9zM434.7 243.8h0.9v0.9h-0.9zM427.0 241.1h0.9v0.9h-0.9zM421.9 241.8h0.9v0.9h-0.9zM438.4 245.4h0.9v0.9h-0.9zM431.7 248.2h0.9v0.9h-0.9zM434.9 250.8h0.9v0.9h-0.9zM428.0 233.4h0.9v0.9h-0.9zM434.8 235.3h0.9v0.9h-0.9zM429.7 250.6h0.9v0.9h-0.9zM440.6 244.3h0.9v0.9h-0.9zM441.2 239.6h0.9v0.9h-0.9zM418.8 238.3h0.9v0.9h-0.9zM439.5 241.9h0.9v0.9h-0.9zM433.4 244.4h0.9v0.9h-0.9zM432.5 246.4h0.9v0.9h-0.9zM444.3 241.9h0.9v0.9h-0.9zM437.4 233.0h0.9v0.9h-0.9zM436.2 237.6h0.9v0.9h-0.9zM441.0 247.3h0.9v0.9h-0.9zM430.1 244.8h0.9v0.9h-0.9zM447.3 242.5h0.9v0.9h-0.9zM445.7 259.3h0.9v0.9h-0.9zM453.9 267.9h0.9v0.9h-0.9zM449.4 248.1h0.9v0.9h-0.9zM453.0 259.1h0.9v0.9h-0.9zM456.0 247.9h0.9v0.9h-0.9zM451.9 263.8h0.9v0.9h-0.9zM463.7 250.7h0.9v0.9h-0.9zM449.6 247.7h0.9v0.9h-0.9zM459.2 239.2h0.9v0.9h-0.9zM449.2 271.3h0.9v0.9h-0.9zM458.0 260.4h0.9v0.9h-0.9zM459.3 271.1h0.9v0.9h-0.9zM447.8 253.6h0.9v0.9h-0.9zM447.8 261.3h0.9v0.9h-0.9zM444.0 247.7h0.9v0.9h-0.9zM438.0 242.0h0.9v0.9h-0.9zM453.3 260.6h0.9v0.9h-0.9zM451.3 267.4h0.9v0.9h-0.9zM450.1 269.3h0.9v0.9h-0.9zM449.9 267.6h0.9v0.9h-0.9zM459.4 266.6h0.9v0.9h-0.9zM449.1 275.8h0.9v0.9h-0.9zM453.8 260.7h0.9v0.9h-0.9zM461.3 258.3h0.9v0.9h-0.9zM448.4 265.4h0.9v0.9h-0.9zM449.9 255.6h0.9v0.9h-0.9zM455.9 270.0h0.9v0.9h-0.9zM446.8 271.4h0.9v0.9h-0.9zM454.3 260.5h0.9v0.9h-0.9zM451.0 261.6h0.9v0.9h-0.9zM457.0 250.5h0.9v0.9h-0.9zM437.6 260.1h0.9v0.9h-0.9zM461.0 260.2h0.9v0.9h-0.9zM454.0 265.4h0.9v0.9h-0.9zM441.9 240.2h0.9v0.9h-0.9zM465.0 259.8h0.9v0.9h-0.9zM446.1 259.5h0.9v0.9h-0.9zM447.9 271.1h0.9v0.9h-0.9zM447.2 259.9h0.9v0.9h-0.9zM452.9 262.0h0.9v0.9h-0.9zM459.3 261.5h0.9v0.9h-0.9zM452.9 266.1h0.9v0.9h-0.9zM455.0 276.9h0.9v0.9h-0.9zM456.0 283.1h0.9v0.9h-0.9zM452.1 261.9h0.9v0.9h-0.9zM446.7 242.3h0.9v0.9h-0.9zM450.4 247.2h0.9v0.9h-0.9zM449.4 256.7h0.9v0.9h-0.9zM454.2 280.8h0.9v0.9h-0.9zM449.9 255.0h0.9v0.9h-0.9zM448.5 268.6h0.9v0.9h-0.9zM448.8 251.5h0.9v0.9h-0.9zM452.6 253.9h0.9v0.9h-0.9zM454.6 257.6h0.9v0.9h-0.9zM450.4 271.6h0.9v0.9h-0.9zM451.7 263.8h0.9v0.9h-0.9zM451.7 271.2h0.9v0.9h-0.9zM462.5 255.4h0.9v0.9h-0.9zM456.6 268.2h0.9v0.9h-0.9zM450.0 252.8h0.9v0.9h-0.9zM451.0 275.5h0.9v0.9h-0.9zM455.8 271.8h0.9v0.9h-0.9zM453.1 266.4h0.9v0.9h-0.9zM453.2 277.9h0.9v0.9h-0.9zM433.3 265.6h0.9v0.9h-0.9zM445.3 260.5h0.9v0.9h-0.9zM430.3 262.5h0.9v0.9h-0.9zM450.4 267.7h0.9v0.9h-0.9zM428.0 266.5h0.9v0.9h-0.9zM435.4 258.1h0.9v0.9h-0.9zM432.0 254.7h0.9v0.9h-0.9zM435.3 271.2h0.9v0.9h-0.9zM433.8 254.8h0.9v0.9h-0.9zM432.9 270.8h0.9v0.9h-0.9zM443.4 280.9h0.9v0.9h-0.9zM438.4 247.4h0.9v0.9h-0.9zM427.3 267.9h0.9v0.9h-0.9zM446.5 266.1h0.9v0.9h-0.9zM436.3 254.6h0.9v0.9h-0.9zM434.9 272.0h0.9v0.9h-0.9zM434.6 269.0h0.9v0.9h-0.9zM443.6 274.5h0.9v0.9h-0.9zM432.3 269.4h0.9v0.9h-0.9zM428.1 272.8h0.9v0.9h-0.9zM441.5 255.1h0.9v0.9h-0.9zM434.5 279.7h0.9v0.9h-0.9zM430.9 272.8h0.9v0.9h-0.9zM432.3 250.2h0.9v0.9h-0.9zM430.1 263.4h0.9v0.9h-0.9zM437.2 263.9h0.9v0.9h-0.9zM439.5 261.1h0.9v0.9h-0.9zM429.3 271.3h0.9v0.9h-0.9zM431.4 262.5h0.9v0.9h-0.9zM446.4 258.6h0.9v0.9h-0.9zM423.6 275.3h0.9v0.9h-0.9zM443.4 274.5h0.9v0.9h-0.9zM435.6 252.0h0.9v0.9h-0.9zM433.1 260.4h0.9v0.9h-0.9zM435.0 284.3h0.9v0.9h-0.9zM443.3 274.7h0.9v0.9h-0.9zM438.2 249.3h0.9v0.9h-0.9zM426.7 258.1h0.9v0.9h-0.9zM423.4 255.1h0.9v0.9h-0.9zM442.4 263.6h0.9v0.9h-0.9zM448.6 278.6h0.9v0.9h-0.9zM435.8 262.2h0.9v0.9h-0.9zM435.3 268.7h0.9v0.9h-0.9zM441.1 279.3h0.9v0.9h-0.9zM431.5 258.1h0.9v0.9h-0.9zM443.3 256.3h0.9v0.9h-0.9zM434.0 262.0h0.9v0.9h-0.9zM449.1 260.3h0.9v0.9h-0.9zM440.9 278.1h0.9v0.9h-0.9zM442.4 270.4h0.9v0.9h-0.9zM447.7 250.0h0.9v0.9h-0.9zM432.6 252.9h0.9v0.9h-0.9zM437.3 272.2h0.9v0.9h-0.9zM438.3 265.5h0.9v0.9h-0.9zM438.4 262.0h0.9v0.9h-0.9zM439.3 262.5h0.9v0.9h-0.9zM436.3 235.6h0.9v0.9h-0.9zM462.8 256.0h0.9v0.9h-0.9zM455.0 253.3h0.9v0.9h-0.9zM448.5 251.8h0.9v0.9h-0.9zM430.1 268.3h0.9v0.9h-0.9zM433.9 245.2h0.9v0.9h-0.9zM438.4 241.9h0.9v0.9h-0.9zM468.2 265.0h0.9v0.9h-0.9zM451.6 244.4h0.9v0.9h-0.9zM454.6 254.6h0.9v0.9h-0.9zM452.3 278.4h0.9v0.9h-0.9zM437.7 244.0h0.9v0.9h-0.9zM440.6 252.9h0.9v0.9h-0.9zM464.8 261.7h0.9v0.9h-0.9zM452.9 283.7h0.9v0.9h-0.9zM476.6 275.1h0.9v0.9h-0.9zM474.9 257.8h0.9v0.9h-0.9zM425.1 263.1h0.9v0.9h-0.9zM426.5 251.7h0.9v0.9h-0.9zM452.1 272.6h0.9v0.9h-0.9zM469.4 244.2h0.9v0.9h-0.9zM434.9 281.0h0.9v0.9h-0.9zM486.4 273.5h0.9v0.9h-0.9zM430.3 238.8h0.9v0.9h-0.9zM464.6 275.0h0.9v0.9h-0.9zM450.9 231.2h0.9v0.9h-0.9zM422.8 227.9h0.9v0.9h-0.9z" fill="#000" fill-opacity="0.45"/>
<line x1="415" y1="199.6" x2="507.3" y2="199.6" stroke="#222" stroke-width="1.0"/>
<line x1="507.3" y1="199.6" x2="507.3" y2="290.2" stroke="#444" stroke-width="0.8"/>
<line x1="415" y1="199.0" x2="415" y2="291.0" stroke="#111" stroke-width="1.5"/>
<line x1="415" y1="290.2" x2="507.7" y2="290.2" stroke="#111" stroke-width="1.6"/>
<path d="M413.4 283.4h1.6M421.9 290.2v1.6M413.4 279.3h1.6M426.1 290.2v1.6M413.4 276.6h1.6M428.8 290.2v1.6M413.4 274.3h1.6M431.2 290.2v1.6M413.4 272.5h1.6M433.0 290.2v1.6M413.4 270.9h1.6M434.6 290.2v1.6M413.4 269.8h1.6M435.8 290.2v1.6M413.4 268.7h1.6M436.9 290.2v1.6M413.4 260.8h1.6M445.0 290.2v1.6M413.4 256.7h1.6M449.2 290.2v1.6M413.4 254.0h1.6M451.9 290.2v1.6M413.4 251.7h1.6M454.2 290.2v1.6M413.4 249.9h1.6M456.1 290.2v1.6M413.4 248.3h1.6M457.7 290.2v1.6M413.4 247.2h1.6M458.8 290.2v1.6M413.4 246.0h1.6M460.0 290.2v1.6M413.4 238.1h1.6M468.1 290.2v1.6M413.4 234.0h1.6M472.2 290.2v1.6M413.4 231.3h1.6M475.0 290.2v1.6M413.4 229.0h1.6M477.3 290.2v1.6M413.4 227.2h1.6M479.1 290.2v1.6M413.4 225.6h1.6M480.8 290.2v1.6M413.4 224.5h1.6M481.9 290.2v1.6M413.4 223.4h1.6M483.1 290.2v1.6M413.4 215.5h1.6M491.1 290.2v1.6M413.4 211.4h1.6M495.3 290.2v1.6M413.4 208.7h1.6M498.1 290.2v1.6M413.4 206.4h1.6M500.4 290.2v1.6M413.4 204.6h1.6M502.2 290.2v1.6M413.4 203.0h1.6M503.8 290.2v1.6M413.4 201.9h1.6M505.0 290.2v1.6M413.4 200.7h1.6M506.1 290.2v1.6" stroke="#555" stroke-width="0.5" fill="none"/>
<line x1="413" y1="290.2" x2="415" y2="290.2" stroke="#111" stroke-width="0.7"/>
<rect x="407.5" y="289.9" width="2.2" height="1.6" fill="#777"/>
<rect x="410.2" y="288.4" width="1" height="1.2" fill="#888"/>
<line x1="415.0" y1="290.2" x2="415.0" y2="292.2" stroke="#111" stroke-width="0.7"/>
<rect x="412.5" y="295.7" width="2.2" height="1.6" fill="#777"/>
<rect x="415.2" y="294.4" width="1" height="1.2" fill="#888"/>
<line x1="413" y1="267.55" x2="415" y2="267.55" stroke="#111" stroke-width="0.7"/>
<rect x="407.5" y="267.25" width="2.2" height="1.6" fill="#777"/>
<rect x="410.2" y="265.75" width="1" height="1.2" fill="#888"/>
<line x1="438.075" y1="290.2" x2="438.075" y2="292.2" stroke="#111" stroke-width="0.7"/>
<rect x="435.575" y="295.7" width="2.2" height="1.6" fill="#777"/>
<rect x="438.275" y="294.4" width="1" height="1.2" fill="#888"/>
<line x1="413" y1="244.89999999999998" x2="415" y2="244.89999999999998" stroke="#111" stroke-width="0.7"/>
<rect x="407.5" y="244.59999999999997" width="2.2" height="1.6" fill="#777"/>
<rect x="410.2" y="243.09999999999997" width="1" height="1.2" fill="#888"/>
<line x1="461.15" y1="290.2" x2="461.15" y2="292.2" stroke="#111" stroke-width="0.7"/>
<rect x="458.65" y="295.7" width="2.2" height="1.6" fill="#777"/>
<rect x="461.34999999999997" y="294.4" width="1" height="1.2" fill="#888"/>
<line x1="413" y1="222.25" x2="415" y2="222.25" stroke="#111" stroke-width="0.7"/>
<rect x="407.5" y="221.95" width="2.2" height="1.6" fill="#777"/>
<rect x="410.2" y="220.45" width="1" height="1.2" fill="#888"/>
<line x1="484.225" y1="290.2" x2="484.225" y2="292.2" stroke="#111" stroke-width="0.7"/>
<rect x="481.725" y="295.7" width="2.2" height="1.6" fill="#777"/>
<rect x="484.425" y="294.4" width="1" height="1.2" fill="#888"/>
<line x1="413" y1="199.6" x2="415" y2="199.6" stroke="#111" stroke-width="0.7"/>
<rect x="407.5" y="199.29999999999998" width="2.2" height="1.6" fill="#777"/>
<rect x="410.2" y="197.79999999999998" width="1" height="1.2" fill="#888"/>
<line x1="507.3" y1="290.2" x2="507.3" y2="292.2" stroke="#111" stroke-width="0.7"/>
<rect x="504.8" y="295.7" width="2.2" height="1.6" fill="#777"/>
<rect x="507.5" y="294.4" width="1" height="1.2" fill="#888"/>
<rect x="442.2" y="228.1" width="38.4" height="24.6" fill="none" stroke="#555" stroke-width="1"/>
<rect x="446.6" y="252.7" width="34" height="36.1" fill="none" stroke="#555" stroke-width="1"/>
<line x1="415" y1="252.9" x2="446.6" y2="252.9" stroke="#555" stroke-width="1"/>
<line x1="446.6" y1="288.7" x2="480.6" y2="288.7" stroke="#888" stroke-width="1.6"/>
<line x1="415" y1="288.9" x2="446.6" y2="288.9" stroke="#999" stroke-width="1.2"/>
<text x="420.6" y="209.4" font-size="9.3" text-anchor="start" font-weight="normal" fill="#111" stroke="#111" stroke-width="0.22" textLength="28.8" lengthAdjust="spacingAndGlyphs">Ts1Cje</text>
<text x="484" y="247.7" font-size="7.6" text-anchor="start" font-weight="normal" fill="#111" stroke="#111" stroke-width="0.22" textLength="17.5" lengthAdjust="spacingAndGlyphs">GMP</text>
<text x="484" y="286" font-size="7.6" text-anchor="start" font-weight="normal" fill="#111" stroke="#111" stroke-width="0.22" textLength="17.5" lengthAdjust="spacingAndGlyphs">CMP</text>
<text x="418.8" y="249" font-size="7.5" text-anchor="start" font-weight="normal" fill="#111" stroke="#111" stroke-width="0.22" textLength="17.5" lengthAdjust="spacingAndGlyphs">MEP</text>
<text x="460" y="243" font-size="6" text-anchor="middle" font-weight="normal" fill="#222" stroke="#222" stroke-width="0.22">48.4</text>
<text x="464.4" y="273.6" font-size="6" text-anchor="middle" font-weight="normal" fill="#222" stroke="#222" stroke-width="0.22">21.1</text>
<text x="422" y="288.6" font-size="5.5" text-anchor="middle" font-weight="normal" fill="#222" stroke="#222" stroke-width="0.22">18.9</text>
<text x="403.1" y="226.5" font-size="9.8" text-anchor="middle" font-weight="normal" fill="#111" stroke="#111" stroke-width="0.22" transform="rotate(-90 403.1 226.5)">FcR</text>
<line x1="398.7" y1="284.5" x2="398.7" y2="254" stroke="#2a2a2a" stroke-width="0.8"/>
<path d="M398.7 246 L396.5 259 L398.7 256 L400.9 259 Z" fill="#111"/>
<line x1="415" y1="304.9" x2="465" y2="304.9" stroke="#2a2a2a" stroke-width="0.8"/>
<path d="M473 304.9 L460 302.7 L463 304.9 L460 307.09999999999997 Z" fill="#111"/>
<text x="478.8" y="308.1" font-size="9.4" text-anchor="start" font-weight="normal" fill="#111" stroke="#111" stroke-width="0.22" textLength="24.4" lengthAdjust="spacingAndGlyphs">CD34</text>
<text x="391.4" y="322.5" font-size="8.5" text-anchor="middle" font-weight="normal" fill="#111" stroke="#111" stroke-width="0.22">Myeloid Progenitor cells</text>
<line x1="315.6" y1="324.1" x2="315.6" y2="430.3" stroke="#111" stroke-width="1.15"/>
<line x1="315.1" y1="430.3" x2="475" y2="430.3" stroke="#111" stroke-width="1.15"/>
<line x1="313.40000000000003" y1="430.3" x2="315.6" y2="430.3" stroke="#111" stroke-width="1.15"/>
<text x="313.20000000000005" y="433.2" font-size="8" text-anchor="end" font-weight="bold" fill="#111" stroke="#111" stroke-width="0.22">0</text>
<line x1="313.40000000000003" y1="394.90000000000003" x2="315.6" y2="394.90000000000003" stroke="#111" stroke-width="1.15"/>
<text x="313.20000000000005" y="397.8" font-size="8" text-anchor="end" font-weight="bold" fill="#111" stroke="#111" stroke-width="0.22">20</text>
<line x1="313.40000000000003" y1="359.5" x2="315.6" y2="359.5" stroke="#111" stroke-width="1.15"/>
<text x="313.20000000000005" y="362.4" font-size="8" text-anchor="end" font-weight="bold" fill="#111" stroke="#111" stroke-width="0.22">40</text>
<line x1="313.40000000000003" y1="324.1" x2="315.6" y2="324.1" stroke="#111" stroke-width="1.15"/>
<text x="313.20000000000005" y="327.0" font-size="8" text-anchor="end" font-weight="bold" fill="#111" stroke="#111" stroke-width="0.22">60</text>
<rect x="322.5" y="372.5" width="18.30000000000001" height="57.80000000000001" fill="#000" stroke="none" stroke-width="1"/>
<line x1="331.65" y1="368.8" x2="331.65" y2="372.5" stroke="#111" stroke-width="1"/>
<line x1="327.15" y1="368.8" x2="336.15" y2="368.8" stroke="#111" stroke-width="1"/>
<rect x="343.8" y="393.8" width="17.69999999999999" height="36.5" fill="#fff" stroke="#111" stroke-width="1"/>
<line x1="352.65" y1="392.6" x2="352.65" y2="394.0" stroke="#111" stroke-width="1"/>
<line x1="348.15" y1="392.6" x2="357.15" y2="392.6" stroke="#111" stroke-width="1"/>
<line x1="348.15" y1="394.0" x2="357.15" y2="394.0" stroke="#111" stroke-width="1"/>
<rect x="376.3" y="353.3" width="18.19999999999999" height="77.0" fill="#000" stroke="none" stroke-width="1"/>
<line x1="385.4" y1="352.0" x2="385.4" y2="353.3" stroke="#111" stroke-width="1"/>
<line x1="380.9" y1="352.0" x2="389.9" y2="352.0" stroke="#111" stroke-width="1"/>
<rect x="397.5" y="342.5" width="17.80000000000001" height="87.80000000000001" fill="#fff" stroke="#111" stroke-width="1"/>
<line x1="406.4" y1="338.8" x2="406.4" y2="345.3" stroke="#111" stroke-width="1"/>
<line x1="401.9" y1="338.8" x2="410.9" y2="338.8" stroke="#111" stroke-width="1"/>
<line x1="401.9" y1="345.3" x2="410.9" y2="345.3" stroke="#111" stroke-width="1"/>
<rect x="428.8" y="397.3" width="18.19999999999999" height="33.0" fill="#000" stroke="none" stroke-width="1"/>
<line x1="437.9" y1="396.3" x2="437.9" y2="397.3" stroke="#111" stroke-width="1"/>
<line x1="433.4" y1="396.3" x2="442.4" y2="396.3" stroke="#111" stroke-width="1"/>
<rect x="450.0" y="400.0" width="18.30000000000001" height="30.30000000000001" fill="#fff" stroke="#111" stroke-width="1"/>
<line x1="459.15" y1="396.5" x2="459.15" y2="402.2" stroke="#111" stroke-width="1"/>
<line x1="454.65" y1="396.5" x2="463.65" y2="396.5" stroke="#111" stroke-width="1"/>
<line x1="454.65" y1="402.2" x2="463.65" y2="402.2" stroke="#111" stroke-width="1"/>
<line x1="342" y1="430.3" x2="342" y2="433.1" stroke="#111" stroke-width="1.15"/>
<line x1="395.7" y1="430.3" x2="395.7" y2="433.1" stroke="#111" stroke-width="1.15"/>
<line x1="448.3" y1="430.3" x2="448.3" y2="433.1" stroke="#111" stroke-width="1.15"/>
<text x="352.5" y="390.8" font-size="11" text-anchor="middle" font-weight="normal" fill="#111" stroke="#111" stroke-width="0.22">**</text>
<text x="406.4" y="336.5" font-size="11" text-anchor="middle" font-weight="normal" fill="#111" stroke="#111" stroke-width="0.22">*</text>
<rect x="440.8" y="335.5" width="13" height="7.8" fill="#000" stroke="none" stroke-width="1"/>
<rect x="441.3" y="351.5" width="12" height="7" fill="#fff" stroke="#111" stroke-width="1"/>
<text x="459.5" y="342.7" font-size="8.6" text-anchor="start" font-weight="normal" fill="#111" stroke="#111" stroke-width="0.22" textLength="31" lengthAdjust="spacingAndGlyphs">Disomic</text>
<text x="459.5" y="358.3" font-size="8.6" text-anchor="start" font-weight="normal" fill="#111" stroke="#111" stroke-width="0.22" textLength="27.5" lengthAdjust="spacingAndGlyphs">Ts1Cje</text>
<text x="342.5" y="438.6" font-size="7.4" text-anchor="middle" font-weight="normal" fill="#111" stroke="#111" stroke-width="0.22">CMPs</text>
<text x="395.2" y="438.9" font-size="7.4" text-anchor="middle" font-weight="normal" fill="#111" stroke="#111" stroke-width="0.22">GMPs</text>
<text x="451.2" y="439.3" font-size="7.4" text-anchor="middle" font-weight="normal" fill="#111" stroke="#111" stroke-width="0.22">MEPs</text>
<text x="387.9" y="449.8" font-size="8.65" text-anchor="middle" font-weight="normal" fill="#111" stroke="#111" stroke-width="0.22">Progenitor Population</text>
<text x="288.2" y="383" font-size="9.9" text-anchor="middle" font-weight="normal" fill="#111" stroke="#111" stroke-width="0.22" transform="rotate(-90 288.2 383)">Proportion of</text>
<text x="300.3" y="381.4" font-size="9.67" text-anchor="middle" font-weight="normal" fill="#111" stroke="#111" stroke-width="0.22" transform="rotate(-90 300.3 381.4)">Lin-Sca1+Kit+ cells</text>
</g>
</svg>
</body></html>
